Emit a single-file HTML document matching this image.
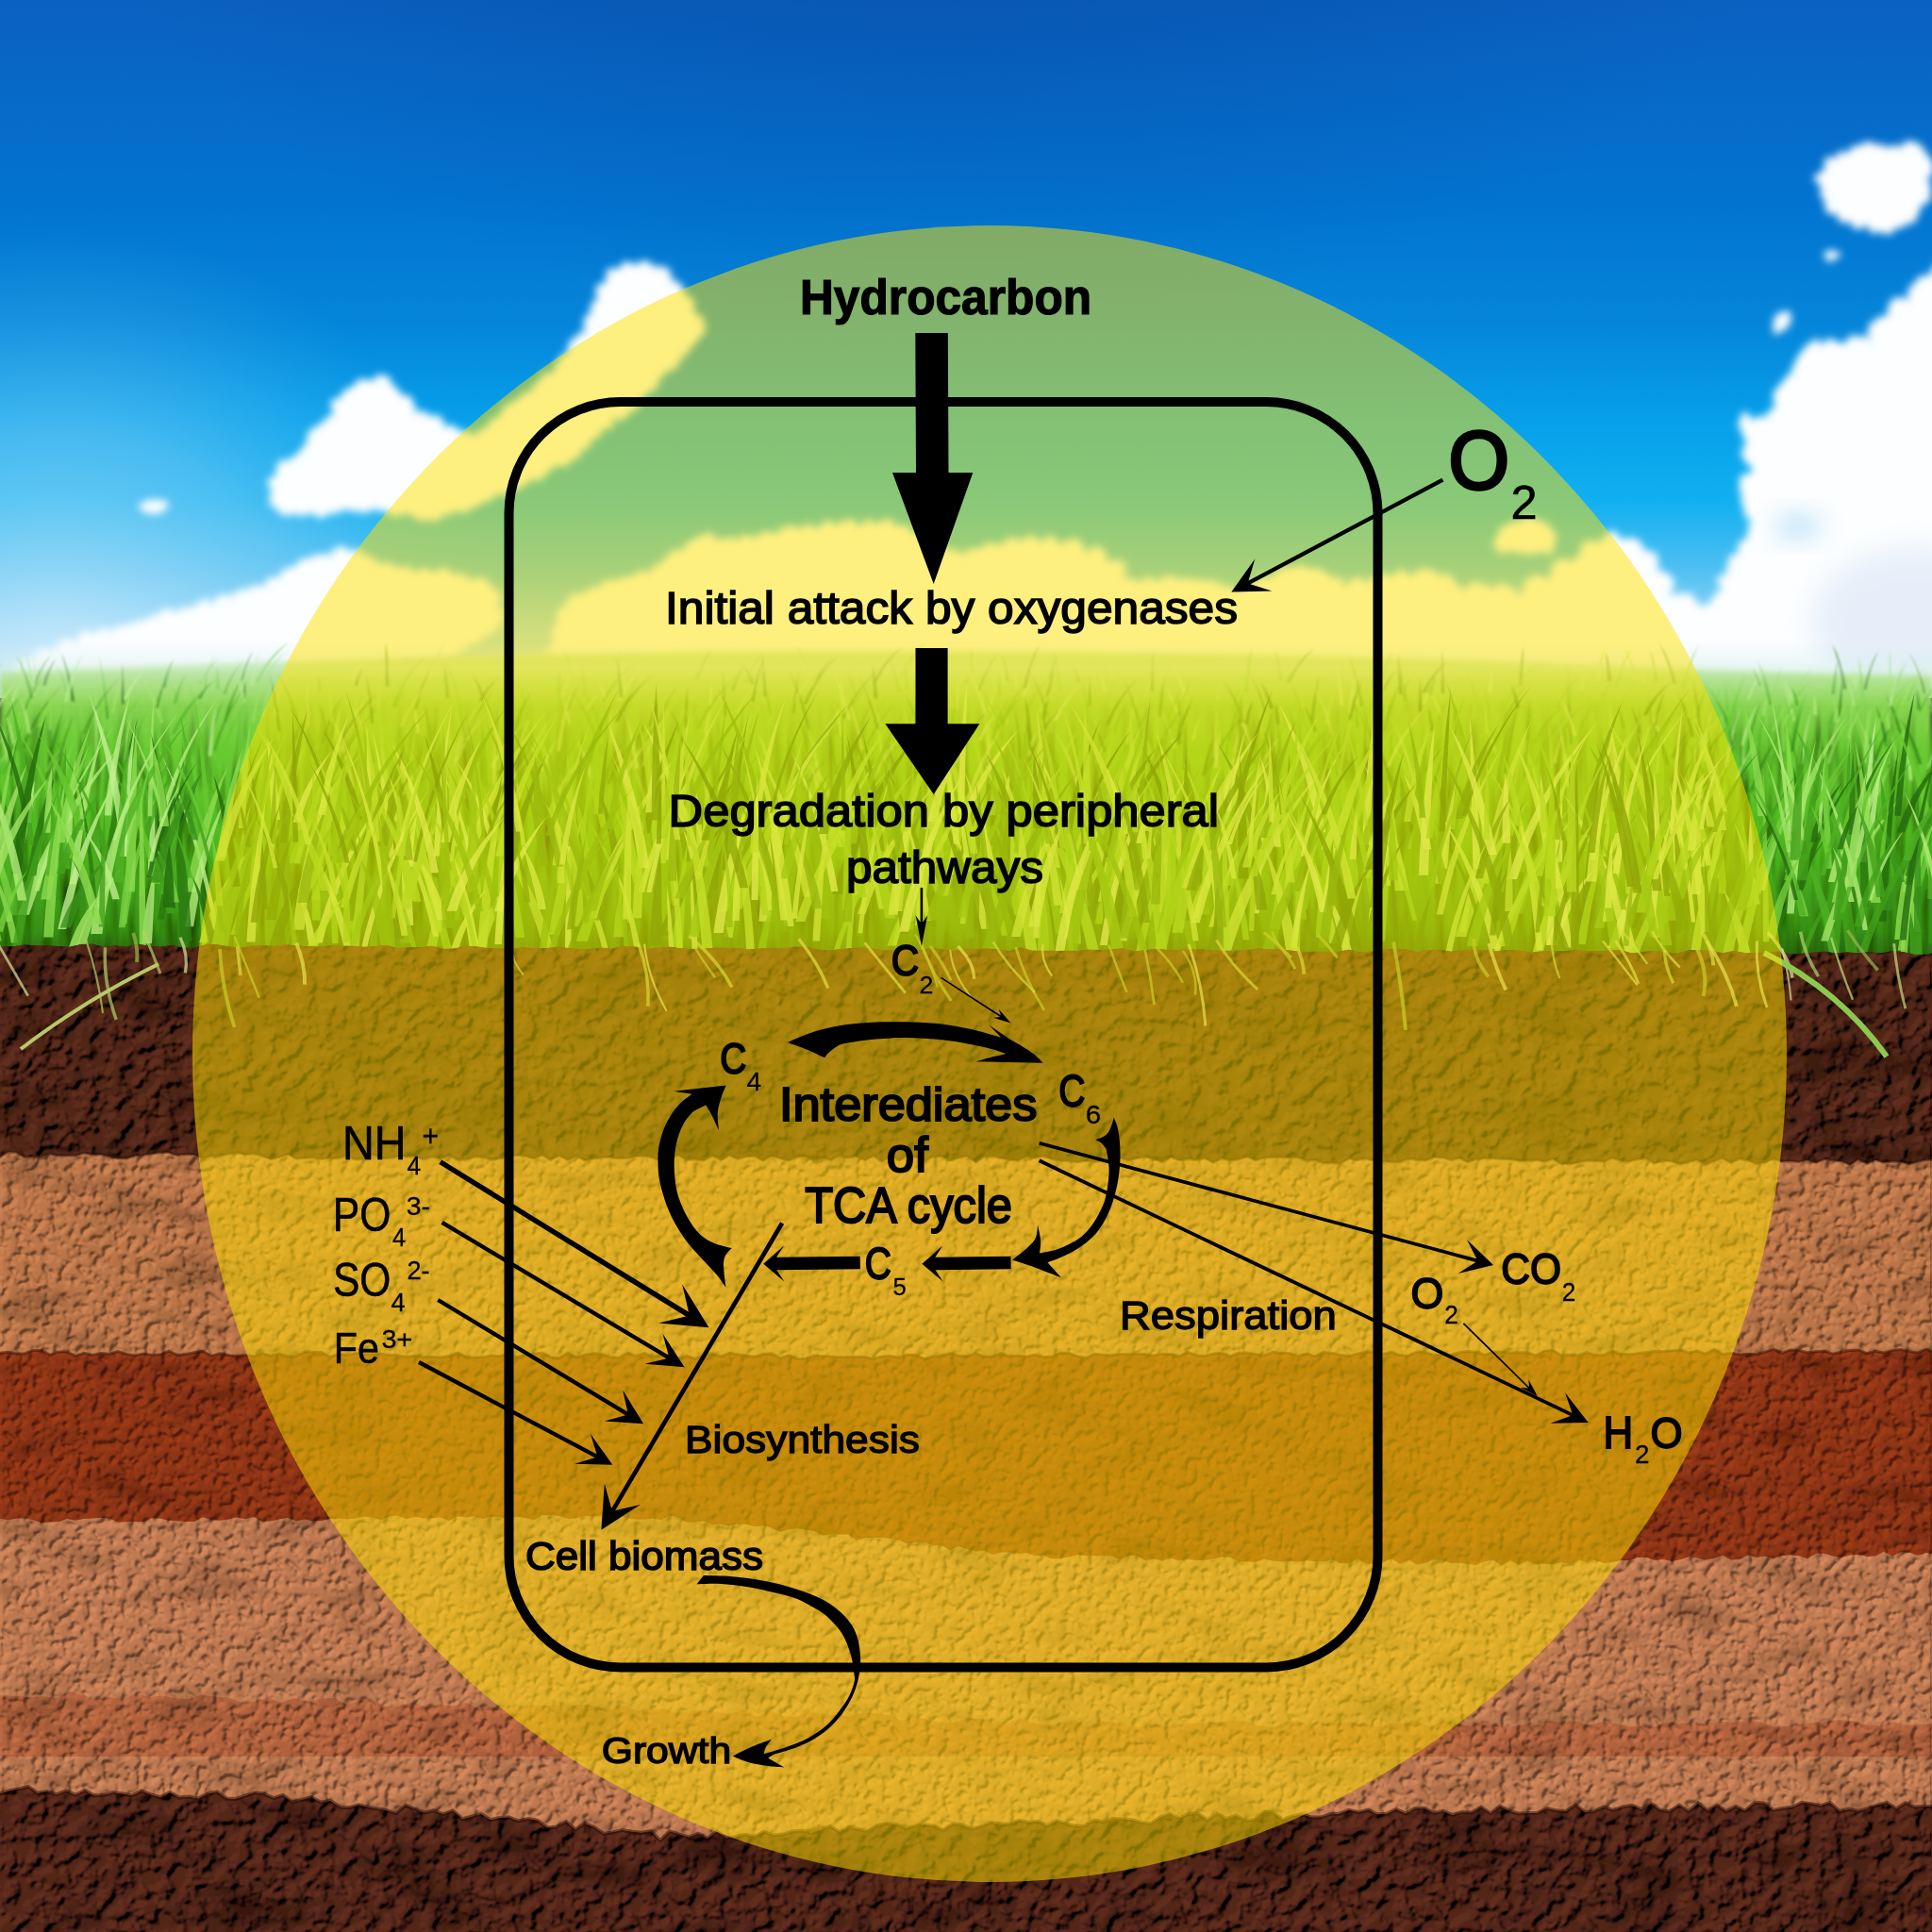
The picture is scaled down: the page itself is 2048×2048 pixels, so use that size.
<!DOCTYPE html>
<html><head><meta charset="utf-8"><style>
html,body{margin:0;padding:0;width:2048px;height:2048px;overflow:hidden;background:#000}
svg{display:block}
</style></head><body>
<svg xmlns="http://www.w3.org/2000/svg" width="2048" height="2048" viewBox="0 0 2048 2048">
<defs>
<linearGradient id="skyg" x1="0" y1="0" x2="0" y2="720" gradientUnits="userSpaceOnUse">
  <stop offset="0" stop-color="#0b60c0"/>
  <stop offset="0.3" stop-color="#0274d0"/>
  <stop offset="0.48" stop-color="#0586da"/>
  <stop offset="0.62" stop-color="#06a0ea"/>
  <stop offset="0.74" stop-color="#12b0f0"/>
  <stop offset="0.84" stop-color="#50c0f2"/>
  <stop offset="0.94" stop-color="#a8dcf8"/>
  <stop offset="1" stop-color="#d4eefa"/>
</linearGradient>
<radialGradient id="skyv" cx="1000" cy="-150" r="900" gradientTransform="translate(1000 -150) scale(1.0 0.55) translate(-1000 150)" gradientUnits="userSpaceOnUse">
  <stop offset="0" stop-color="#003c90" stop-opacity="0.35"/>
  <stop offset="1" stop-color="#003c90" stop-opacity="0"/>
</radialGradient>
<radialGradient id="skyl" cx="60" cy="720" r="480" gradientUnits="userSpaceOnUse">
  <stop offset="0" stop-color="#d8f0fc" stop-opacity="0.7"/>
  <stop offset="0.55" stop-color="#90d4f6" stop-opacity="0.45"/>
  <stop offset="1" stop-color="#40b8f0" stop-opacity="0"/>
</radialGradient>
<linearGradient id="grassg" x1="0" y1="692" x2="0" y2="1020" gradientUnits="userSpaceOnUse">
  <stop offset="0" stop-color="#c0eaa0"/>
  <stop offset="0.08" stop-color="#a0dc68"/>
  <stop offset="0.3" stop-color="#6ccc34"/>
  <stop offset="0.65" stop-color="#4cb41e"/>
  <stop offset="0.9" stop-color="#379018"/>
  <stop offset="1" stop-color="#286010"/>
</linearGradient>
<filter id="cloudf" x="-30%" y="-30%" width="160%" height="160%">
  <feTurbulence type="fractalNoise" baseFrequency="0.06" numOctaves="3" seed="3" result="n"/>
  <feDisplacementMap in="SourceGraphic" in2="n" scale="10" xChannelSelector="R" yChannelSelector="G" result="d"/>
  <feGaussianBlur in="d" stdDeviation="4"/>
</filter>
<radialGradient id="puff" cx="0.45" cy="0.4" r="0.6">
  <stop offset="0" stop-color="#ffffff"/>
  <stop offset="0.7" stop-color="#f8fbfe"/>
  <stop offset="1" stop-color="#dceaf6"/>
</radialGradient>
<filter id="grain" x="0" y="990" width="2048" height="1060" filterUnits="userSpaceOnUse">
  <feTurbulence type="fractalNoise" baseFrequency="0.11" numOctaves="2" seed="4" result="t"/>
  <feComponentTransfer in="t" result="c">
    <feFuncA type="discrete" tableValues="0 0 0 0.7 1 1 1 1"/>
  </feComponentTransfer>
  <feGaussianBlur in="c" stdDeviation="1.2" result="cb"/>
  <feDiffuseLighting in="cb" surfaceScale="2.5" lighting-color="#ffffff" diffuseConstant="1" result="l">
    <feDistantLight azimuth="225" elevation="45"/>
  </feDiffuseLighting>
  <feComposite in="SourceGraphic" in2="l" operator="arithmetic" k1="1.0" k2="0.32" k3="0" k4="0" result="m"/>
  <feTurbulence type="fractalNoise" baseFrequency="0.012 0.03" numOctaves="2" seed="21" result="big"/>
  <feColorMatrix in="big" type="matrix" values="1.2 0 0 0 0.4  1.2 0 0 0 0.4  1.2 0 0 0 0.4  0 0 0 0 1" result="bg"/>
  <feComposite in="m" in2="bg" operator="arithmetic" k1="1" k2="0" k3="0" k4="0" result="m2"/>
  <feComposite in="m2" in2="SourceGraphic" operator="in"/>
</filter>
<filter id="grain2" x="0" y="990" width="2048" height="1060" filterUnits="userSpaceOnUse">
  <feTurbulence type="fractalNoise" baseFrequency="0.06" numOctaves="3" seed="8" result="t"/>
  <feColorMatrix in="t" type="matrix" values="0 0 0 0 0  0 0 0 0 0  0 0 0 0 0  4 0 0 0 -1.6" result="c"/>
  <feGaussianBlur in="c" stdDeviation="0.8" result="cb"/>
  <feDiffuseLighting in="cb" surfaceScale="3" lighting-color="#ffffff" diffuseConstant="1.1" result="l">
    <feDistantLight azimuth="225" elevation="40"/>
  </feDiffuseLighting>
  <feComposite in="SourceGraphic" in2="l" operator="arithmetic" k1="1.5" k2="0" k3="0" k4="0" result="m"/>
  <feTurbulence type="fractalNoise" baseFrequency="0.01 0.02" numOctaves="2" seed="23" result="big"/>
  <feColorMatrix in="big" type="matrix" values="1.6 0 0 0 0.2  1.6 0 0 0 0.2  1.6 0 0 0 0.2  0 0 0 0 1" result="bg"/>
  <feComposite in="m" in2="bg" operator="arithmetic" k1="1" k2="0" k3="0" k4="0" result="m2"/>
  <feComposite in="m2" in2="SourceGraphic" operator="in"/>
</filter>
<filter id="gtex" x="0" y="0" width="100%" height="100%" filterUnits="userSpaceOnUse">
  <feTurbulence type="fractalNoise" baseFrequency="0.09 0.012" numOctaves="2" seed="12" result="t"/>
  <feColorMatrix in="t" type="matrix" values="0 0 0 0 0  0 0 0 0 0  0 0 0 0 0  2.2 0 0 0 -0.9" result="a"/>
  <feFlood flood-color="#1e4a08" result="c"/>
  <feComposite in="c" in2="a" operator="in" result="dk"/>
  <feComposite in="dk" in2="SourceGraphic" operator="in" result="dk2"/>
  <feMerge><feMergeNode in="SourceGraphic"/><feMergeNode in="dk2"/></feMerge>
</filter>
<linearGradient id="gmaskg" x1="0" y1="740" x2="0" y2="1020" gradientUnits="userSpaceOnUse">
  <stop offset="0" stop-color="#fff" stop-opacity="0"/>
  <stop offset="0.3" stop-color="#fff" stop-opacity="1"/>
  <stop offset="1" stop-color="#fff" stop-opacity="1"/>
</linearGradient>
<mask id="gmask" maskUnits="userSpaceOnUse" x="0" y="700" width="2048" height="340"><rect x="0" y="700" width="2048" height="340" fill="url(#gmaskg)"/></mask>
<filter id="blur6" x="-50%" y="-50%" width="200%" height="200%"><feGaussianBlur stdDeviation="8"/></filter>
<filter id="blur20" x="-100%" y="-100%" width="300%" height="300%"><feGaussianBlur stdDeviation="14"/></filter>
<linearGradient id="hazeg" x1="0" y1="680" x2="0" y2="750" gradientUnits="userSpaceOnUse">
  <stop offset="0" stop-color="#d8f0f8" stop-opacity="0"/>
  <stop offset="0.4" stop-color="#d8f0e8" stop-opacity="0.55"/>
  <stop offset="1" stop-color="#c8eab0" stop-opacity="0"/>
</linearGradient>
<filter id="blur1"><feGaussianBlur stdDeviation="1.2"/></filter>
<filter id="blur3"><feGaussianBlur stdDeviation="3"/></filter>
</defs>
<rect x="0" y="0" width="2048" height="740" fill="url(#skyg)"/>
<rect x="0" y="0" width="2048" height="740" fill="url(#skyv)"/>
<rect x="0" y="0" width="2048" height="740" fill="url(#skyl)"/>
<g fill="#fcfeff" filter="url(#cloudf)">
<polygon points="2100,260 2048,298 2024.8,315 1999,335 1982,363 1954,366 1925.5,377.6 1908.5,397.5 1888.6,414.5 1888.6,423 1900,431 1868.7,448.6 1854.6,465.6 1854.6,499.6 1849,528 1868.7,550.7 1854.6,576 1854.6,596 1834.7,604.6 1823.4,627 1820.5,650 1800,652 1772,630 1755,601.7 1741,584.7 1715.6,572 1700,574 1670,593 1640,612 1613.5,630 1580,626 1551,627 1520,612 1497.6,612 1470,640 1460,720 2100,720"/><circle cx="2089.7" cy="273.2" r="13.1"/><circle cx="2064.8" cy="293.8" r="18.6"/><circle cx="2040.1" cy="311.6" r="18"/><circle cx="2014.9" cy="328.9" r="14.1"/><circle cx="1995.3" cy="351.9" r="15.9"/><circle cx="1968.6" cy="369.9" r="15.6"/><circle cx="1942" cy="377.3" r="17.1"/><circle cx="1921.8" cy="391.7" r="18.2"/><circle cx="1901.5" cy="409.4" r="12.8"/><circle cx="1892.9" cy="418.8" r="12.3"/><circle cx="1898" cy="421.7" r="18.5"/><circle cx="1887" cy="444.5" r="15.4"/><circle cx="1866.5" cy="461.1" r="18"/><circle cx="1858.8" cy="482.6" r="12.1"/><circle cx="1857.1" cy="514.9" r="15.5"/><circle cx="1863.5" cy="535.3" r="17.7"/><circle cx="1865.9" cy="565.7" r="13.9"/><circle cx="1861.4" cy="586" r="19.4"/><circle cx="1847.3" cy="606.4" r="19"/><circle cx="1832.9" cy="617.7" r="12.3"/><circle cx="1826.2" cy="639" r="12.3"/><circle cx="1810.8" cy="656.7" r="16.3"/><circle cx="1781.8" cy="646.3" r="19.3"/><circle cx="1759" cy="618.6" r="15"/><circle cx="1744.3" cy="596.3" r="13.8"/><circle cx="1725.9" cy="583.2" r="15.4"/><circle cx="1708.3" cy="577.3" r="12.3"/><circle cx="1687.6" cy="587.6" r="13.8"/><circle cx="1657.9" cy="607.1" r="15.5"/><circle cx="1629.9" cy="625.6" r="15.9"/><circle cx="1596.2" cy="632.8" r="13.9"/><circle cx="1565.7" cy="631.4" r="13.9"/><circle cx="1533.4" cy="623.8" r="13.8"/><circle cx="1508.8" cy="617.5" r="15.6"/><circle cx="1487.4" cy="629.5" r="14.3"/><circle cx="1472.6" cy="653.9" r="12.3"/><circle cx="1471.4" cy="680.8" r="18.5"/><circle cx="1467.4" cy="707.4" r="16.4"/><circle cx="1471" cy="714" r="17"/><circle cx="1493.1" cy="715.3" r="13.5"/><circle cx="1515.2" cy="713.1" r="19.7"/><circle cx="1537.2" cy="713.4" r="18.7"/><circle cx="1559.3" cy="715.4" r="13"/><circle cx="1581.4" cy="714.9" r="14.7"/><circle cx="1603.4" cy="713.8" r="17.7"/><circle cx="1625.5" cy="713.8" r="17.6"/><circle cx="1647.6" cy="713.2" r="19.3"/><circle cx="1669.7" cy="714.6" r="15.4"/><circle cx="1691.7" cy="713.5" r="18.5"/><circle cx="1713.8" cy="714" r="17.3"/><circle cx="1735.9" cy="714.9" r="14.4"/><circle cx="1757.9" cy="714.2" r="16.6"/><circle cx="1780" cy="713.4" r="18.9"/><circle cx="1802.1" cy="713.5" r="18.6"/><circle cx="1824.1" cy="714.4" r="16"/><circle cx="1846.2" cy="714.2" r="16.6"/><circle cx="1868.3" cy="715.7" r="12.4"/><circle cx="1890.3" cy="715.1" r="14"/><circle cx="1912.4" cy="713.6" r="18.2"/><circle cx="1934.5" cy="714.6" r="15.3"/><circle cx="1956.6" cy="715.3" r="13.4"/><circle cx="1978.6" cy="714.3" r="16.3"/><circle cx="2000.7" cy="713.9" r="17.5"/><circle cx="2022.8" cy="713.9" r="17.3"/><circle cx="2044.8" cy="714.8" r="15"/><circle cx="2066.9" cy="714.6" r="15.5"/><circle cx="2089" cy="714.4" r="16"/><circle cx="2093.7" cy="708.5" r="18.1"/><circle cx="2094.4" cy="685.5" r="16.1"/><circle cx="2094.7" cy="662.5" r="15.1"/><circle cx="2094.4" cy="639.5" r="15.9"/><circle cx="2095.7" cy="616.5" r="12.3"/><circle cx="2095.6" cy="593.5" r="12.4"/><circle cx="2093.9" cy="570.5" r="17.5"/><circle cx="2093.1" cy="547.5" r="19.7"/><circle cx="2094.2" cy="524.5" r="16.7"/><circle cx="2094.7" cy="501.5" r="15.1"/><circle cx="2095.3" cy="478.5" r="13.4"/><circle cx="2094.4" cy="455.5" r="16"/><circle cx="2093.1" cy="432.5" r="19.7"/><circle cx="2093.7" cy="409.5" r="18"/><circle cx="2094.3" cy="386.5" r="16.3"/><circle cx="2093.4" cy="363.5" r="18.7"/><circle cx="2095.1" cy="340.5" r="13.9"/><circle cx="2094.4" cy="317.5" r="16.1"/><circle cx="2093.2" cy="294.5" r="19.4"/><circle cx="2094.2" cy="271.5" r="16.5"/>
<polygon points="1929,195 1945,168 1975,155 2000,162 2030,152 2045,175 2042,205 2030,228 1995,244 1960,236 1935,218"/><circle cx="1936.2" cy="190.1" r="10.6"/><circle cx="1944.2" cy="176.6" r="10.6"/><circle cx="1953.5" cy="166.9" r="6.8"/><circle cx="1968.5" cy="160.5" r="7"/><circle cx="1980.3" cy="160.2" r="10.1"/><circle cx="1992.8" cy="163.5" r="9.7"/><circle cx="2008.5" cy="162.6" r="9.4"/><circle cx="2023.4" cy="157.1" r="7.9"/><circle cx="2031.1" cy="159.5" r="9.1"/><circle cx="2038.6" cy="171" r="9.1"/><circle cx="2041.1" cy="182.2" r="9"/><circle cx="2040.2" cy="197.2" r="7.3"/><circle cx="2036.4" cy="209.4" r="8.4"/><circle cx="2030.4" cy="220.9" r="8.3"/><circle cx="2022.8" cy="227.6" r="9.6"/><circle cx="2010.9" cy="232.6" r="10.8"/><circle cx="1999.3" cy="238" r="10.6"/><circle cx="1986.9" cy="239" r="8.9"/><circle cx="1969.4" cy="235.1" r="8.5"/><circle cx="1955.3" cy="229.3" r="7.7"/><circle cx="1942.6" cy="220.6" r="6.8"/><circle cx="1934.3" cy="205.9" r="6.7"/>
<polygon points="287,522 295,497 320,484 335,460 355,440 374,410 400,402 425,418 440,440 470,452 505,470 522,500 505,530 440,540 380,536 330,540 295,540"/><circle cx="294" cy="510.4" r="8.9"/><circle cx="302.9" cy="497" r="10.4"/><circle cx="315.3" cy="490.2" r="9.5"/><circle cx="326.9" cy="480" r="10.7"/><circle cx="334.4" cy="468" r="10.8"/><circle cx="342" cy="457" r="8"/><circle cx="351.9" cy="446.9" r="7.8"/><circle cx="363.2" cy="434.7" r="11.8"/><circle cx="371.9" cy="419.2" r="9"/><circle cx="387.9" cy="409" r="8.8"/><circle cx="403.9" cy="409.7" r="12.6"/><circle cx="416.9" cy="416.9" r="10"/><circle cx="429.1" cy="431.3" r="11.8"/><circle cx="446.2" cy="446.3" r="10"/><circle cx="461.1" cy="452.5" r="10.8"/><circle cx="477.4" cy="459.1" r="8.4"/><circle cx="494.5" cy="468.9" r="10.8"/><circle cx="505.6" cy="479.6" r="12"/><circle cx="514.6" cy="494.3" r="10.3"/><circle cx="514.3" cy="505.5" r="11.3"/><circle cx="505.9" cy="520.6" r="11"/><circle cx="496.4" cy="528.5" r="8"/><circle cx="480" cy="529.8" r="11.4"/><circle cx="463.8" cy="532.6" r="10.6"/><circle cx="447.6" cy="535.6" r="9.2"/><circle cx="432.7" cy="536.8" r="7.9"/><circle cx="417.8" cy="534.3" r="11.9"/><circle cx="402.7" cy="534" r="10"/><circle cx="387.8" cy="532.6" r="11.2"/><circle cx="371.3" cy="532.5" r="12"/><circle cx="354.7" cy="534.1" r="11.2"/><circle cx="338" cy="535.1" r="12.2"/><circle cx="321.2" cy="536.6" r="9.6"/><circle cx="303.8" cy="535.9" r="11.6"/><circle cx="294.2" cy="529.6" r="9.9"/>
<polygon points="20,712 34,700 60,688 100,672 140,668 186,652 228,640 280,622 330,600 371,585 400,600 440,612 480,612 519,622 530,660 480,690 400,700 300,705 200,712 20,722"/><circle cx="29.3" cy="708.7" r="10.1"/><circle cx="48.4" cy="697" r="9.4"/><circle cx="71.4" cy="687.6" r="11"/><circle cx="91.3" cy="679.1" r="9.7"/><circle cx="110.3" cy="674.2" r="9.2"/><circle cx="130.4" cy="672.8" r="11"/><circle cx="149.3" cy="669.9" r="13.9"/><circle cx="164.5" cy="664.4" r="13.3"/><circle cx="179.8" cy="659" r="13.1"/><circle cx="197.5" cy="652.4" r="10"/><circle cx="218.6" cy="647" r="11.8"/><circle cx="237.9" cy="640.4" r="10.3"/><circle cx="255.1" cy="634.2" r="9.8"/><circle cx="272.4" cy="628.1" r="9.4"/><circle cx="289.7" cy="621.5" r="10"/><circle cx="307" cy="615.5" r="14"/><circle cx="323.6" cy="608" r="13.4"/><circle cx="341.9" cy="600.6" r="13.3"/><circle cx="362.3" cy="593.1" r="13.3"/><circle cx="376.7" cy="591.8" r="9.9"/><circle cx="391.1" cy="599.5" r="10.5"/><circle cx="408.8" cy="607.1" r="12.3"/><circle cx="428.7" cy="613.3" r="12.9"/><circle cx="450" cy="616.8" r="13.6"/><circle cx="470" cy="616.8" r="13.7"/><circle cx="488.9" cy="617.6" r="9.3"/><circle cx="508.2" cy="623.6" r="12.2"/><circle cx="517.5" cy="632.7" r="12.6"/><circle cx="523.3" cy="651.6" r="11.6"/><circle cx="519.9" cy="662.1" r="9.8"/><circle cx="502.9" cy="671.6" r="11.5"/><circle cx="486.7" cy="682.2" r="9.3"/><circle cx="471.4" cy="686.1" r="14"/><circle cx="455.4" cy="688.3" r="13.6"/><circle cx="439.5" cy="690.9" r="11.9"/><circle cx="423.5" cy="693.4" r="10.5"/><circle cx="407.4" cy="694.2" r="13.9"/><circle cx="391.5" cy="696.2" r="12"/><circle cx="374.8" cy="696.4" r="13.7"/><circle cx="358.1" cy="697.3" r="13.5"/><circle cx="341.5" cy="698.8" r="11.6"/><circle cx="324.8" cy="699.9" r="11.1"/><circle cx="308.1" cy="700.3" r="12.2"/><circle cx="291.4" cy="701.7" r="11.2"/><circle cx="274.8" cy="703.4" r="9.7"/><circle cx="258.1" cy="704.2" r="10.5"/><circle cx="241.3" cy="704.4" r="13.4"/><circle cx="224.8" cy="707.1" r="9"/><circle cx="208.1" cy="708.3" r="9.1"/><circle cx="191.6" cy="708.2" r="12.3"/><circle cx="175.3" cy="709.7" r="10.4"/><circle cx="158.9" cy="710.2" r="11.8"/><circle cx="142.5" cy="711.2" r="11.4"/><circle cx="126.2" cy="712.3" r="10.7"/><circle cx="109.7" cy="712" r="14.4"/><circle cx="93.4" cy="714.5" r="9.9"/><circle cx="77.1" cy="714.9" r="11.1"/><circle cx="60.7" cy="716.3" r="9.9"/><circle cx="44.3" cy="716.3" r="12.3"/><circle cx="28" cy="717.9" r="10.3"/><circle cx="23.8" cy="717" r="10.8"/>
<polygon points="640,300 660,284 690,283 712,300 745,345 705,390 664,434 602,484 540,517 482,542 440,545 470,500 520,455 577,405 623,352"/><circle cx="652.4" cy="294.9" r="10.8"/><circle cx="667.6" cy="287.7" r="11.3"/><circle cx="682.6" cy="287.3" r="11.6"/><circle cx="698.4" cy="294.9" r="12.3"/><circle cx="714.3" cy="309.8" r="11.3"/><circle cx="725.1" cy="325" r="12.2"/><circle cx="737.3" cy="339.1" r="7.8"/><circle cx="737.4" cy="348.3" r="10"/><circle cx="726.8" cy="359" r="12.3"/><circle cx="717.2" cy="370.6" r="10.9"/><circle cx="706.8" cy="381.6" r="12.1"/><circle cx="697.8" cy="393.5" r="8.3"/><circle cx="687.1" cy="404.1" r="10"/><circle cx="677.1" cy="415.4" r="8.9"/><circle cx="666.5" cy="426" r="10.4"/><circle cx="655.5" cy="436.1" r="10.5"/><circle cx="643.7" cy="446.9" r="7.8"/><circle cx="631.1" cy="456.6" r="8.8"/><circle cx="618.6" cy="466.5" r="9.1"/><circle cx="605.5" cy="475.7" r="12.2"/><circle cx="593.9" cy="483.8" r="11.5"/><circle cx="582" cy="491.3" r="8.5"/><circle cx="569.1" cy="496.9" r="11.6"/><circle cx="557.2" cy="504.5" r="8.4"/><circle cx="544.4" cy="510.4" r="10.7"/><circle cx="531.6" cy="517.5" r="8.3"/><circle cx="517.2" cy="523.9" r="7.7"/><circle cx="502.1" cy="528.8" r="12"/><circle cx="488" cy="536.1" r="8.7"/><circle cx="474.8" cy="539.4" r="8.8"/><circle cx="460.7" cy="539.1" r="12.5"/><circle cx="446.7" cy="540.3" r="12"/><circle cx="447.7" cy="539.3" r="9.1"/><circle cx="458.6" cy="524.9" r="12.4"/><circle cx="468" cy="509.5" r="10.3"/><circle cx="478.8" cy="497.2" r="11"/><circle cx="490.8" cy="485.4" r="8.7"/><circle cx="504.1" cy="475.1" r="12.3"/><circle cx="516.3" cy="463.5" r="11.1"/><circle cx="528.6" cy="453.3" r="12.4"/><circle cx="539.9" cy="443.2" r="12.1"/><circle cx="550.6" cy="432.4" r="9.2"/><circle cx="562.1" cy="422.5" r="9.5"/><circle cx="573.3" cy="412.2" r="8.5"/><circle cx="583.8" cy="401.6" r="8.4"/><circle cx="592.9" cy="390.9" r="8"/><circle cx="602.4" cy="380.6" r="9.2"/><circle cx="612" cy="370.3" r="10.7"/><circle cx="620.4" cy="359.1" r="7.7"/><circle cx="629.5" cy="344.5" r="11"/><circle cx="634.6" cy="327" r="9.4"/><circle cx="640.2" cy="309.7" r="9.2"/>
<polygon points="590,700 599,643 620,632 689,611 742,574 779,579 848,564 928,558 965,569 1024,595 1060,580 1100,572 1150,585 1179,591 1187,622 1248,617 1312,633 1370,607 1426,622 1497,612 1520,640 1480,702 590,702"/><circle cx="596.7" cy="691.3" r="14.9"/><circle cx="599.7" cy="672.3" r="15.1"/><circle cx="602" cy="653.2" r="13"/><circle cx="611.4" cy="641.1" r="11.5"/><circle cx="629.6" cy="632.7" r="9.9"/><circle cx="647.3" cy="628.8" r="14.1"/><circle cx="664.4" cy="623.2" r="12.9"/><circle cx="681.9" cy="618.5" r="14.7"/><circle cx="700.3" cy="608.3" r="12.3"/><circle cx="718.5" cy="596.7" r="14.8"/><circle cx="735.5" cy="583.5" r="11.6"/><circle cx="750.5" cy="580.4" r="15"/><circle cx="769.1" cy="582.8" r="14.5"/><circle cx="791.4" cy="580.8" r="12.5"/><circle cx="814.5" cy="576" r="13.3"/><circle cx="837.6" cy="571.4" r="14.2"/><circle cx="858.3" cy="567.1" r="11.1"/><circle cx="878.4" cy="566.4" r="13.4"/><circle cx="898.4" cy="565.5" r="15"/><circle cx="918.3" cy="562.8" r="11.6"/><circle cx="935.8" cy="565.8" r="15"/><circle cx="954.3" cy="571" r="14.2"/><circle cx="972.7" cy="578.2" r="15.2"/><circle cx="992.8" cy="585.8" r="12"/><circle cx="1012.7" cy="594" r="10.5"/><circle cx="1035" cy="596.1" r="14.9"/><circle cx="1053" cy="588.6" r="15"/><circle cx="1070.9" cy="582.4" r="12.7"/><circle cx="1090.7" cy="577.6" r="10.5"/><circle cx="1111.5" cy="579" r="11.1"/><circle cx="1136.3" cy="586.5" r="13.9"/><circle cx="1163.7" cy="592" r="11.7"/><circle cx="1177.6" cy="607.9" r="15.9"/><circle cx="1197.6" cy="625.9" r="13.6"/><circle cx="1217.8" cy="623.4" r="11.2"/><circle cx="1238.2" cy="622.7" r="14"/><circle cx="1257.6" cy="623.8" r="12.2"/><circle cx="1278.7" cy="630.4" r="15.8"/><circle cx="1300" cy="635.6" r="15.6"/><circle cx="1323.5" cy="632.9" r="13.1"/><circle cx="1343" cy="624.5" r="14"/><circle cx="1362.4" cy="615.9" r="14.3"/><circle cx="1378" cy="614.6" r="15"/><circle cx="1396.5" cy="619.9" r="16.1"/><circle cx="1415.8" cy="622.9" r="10.1"/><circle cx="1438.4" cy="624.6" r="12.2"/><circle cx="1462.2" cy="621.7" r="13.7"/><circle cx="1485.7" cy="617.8" r="11.8"/><circle cx="1499.1" cy="622" r="13.6"/><circle cx="1511.4" cy="635.3" r="10.5"/><circle cx="1510.5" cy="644.8" r="15.4"/><circle cx="1501.1" cy="660.7" r="13.2"/><circle cx="1491.9" cy="676.7" r="10.6"/><circle cx="1480.9" cy="691.6" r="14.1"/><circle cx="1470.9" cy="697.8" r="11.9"/><circle cx="1452.8" cy="698.1" r="11.1"/><circle cx="1434.6" cy="697.5" r="12.9"/><circle cx="1416.4" cy="698.2" r="10.8"/><circle cx="1398.3" cy="698.1" r="11.2"/><circle cx="1380.1" cy="696.6" r="15.4"/><circle cx="1361.9" cy="697" r="14.3"/><circle cx="1343.8" cy="698.5" r="10"/><circle cx="1325.6" cy="696.8" r="14.8"/><circle cx="1307.4" cy="698.5" r="10"/><circle cx="1289.3" cy="697.8" r="12"/><circle cx="1271.1" cy="696.5" r="15.6"/><circle cx="1253" cy="697.2" r="13.8"/><circle cx="1234.8" cy="697.9" r="11.8"/><circle cx="1216.6" cy="697.7" r="12.3"/><circle cx="1198.5" cy="697.7" r="12.4"/><circle cx="1180.3" cy="698.3" r="10.7"/><circle cx="1162.1" cy="696.3" r="16.2"/><circle cx="1144" cy="698.4" r="10.2"/><circle cx="1125.8" cy="697.6" r="12.6"/><circle cx="1107.7" cy="696.9" r="14.6"/><circle cx="1089.5" cy="697.7" r="12.4"/><circle cx="1071.3" cy="696.4" r="16.1"/><circle cx="1053.2" cy="698" r="11.4"/><circle cx="1035" cy="696.4" r="16.1"/><circle cx="1016.8" cy="696.6" r="15.5"/><circle cx="998.7" cy="697.1" r="14.1"/><circle cx="980.5" cy="696.6" r="15.5"/><circle cx="962.3" cy="697.5" r="12.7"/><circle cx="944.2" cy="696.7" r="15.1"/><circle cx="926" cy="696.8" r="14.9"/><circle cx="907.9" cy="697.4" r="13.2"/><circle cx="889.7" cy="697.5" r="12.9"/><circle cx="871.5" cy="697" r="14.3"/><circle cx="853.4" cy="697.6" r="12.5"/><circle cx="835.2" cy="698.3" r="10.4"/><circle cx="817" cy="696.9" r="14.6"/><circle cx="798.9" cy="697.9" r="11.6"/><circle cx="780.7" cy="697.5" r="13"/><circle cx="762.6" cy="696.8" r="14.8"/><circle cx="744.4" cy="698.2" r="11"/><circle cx="726.2" cy="698.5" r="10"/><circle cx="708.1" cy="698.3" r="10.7"/><circle cx="689.9" cy="697.2" r="13.6"/><circle cx="671.7" cy="697.7" r="12.2"/><circle cx="653.6" cy="698" r="11.5"/><circle cx="635.4" cy="697.5" r="12.7"/><circle cx="617.2" cy="696.5" r="15.7"/><circle cx="599.1" cy="698" r="11.5"/><circle cx="594.4" cy="701" r="12.5"/>
<polygon points="1585,568 1600,556 1625,552 1647,562 1645,583 1590,583"/><circle cx="1594" cy="563.8" r="6.6"/><circle cx="1606.6" cy="557.1" r="6"/><circle cx="1619.2" cy="555.7" r="7.8"/><circle cx="1629.7" cy="556.3" r="5.8"/><circle cx="1640.4" cy="561.9" r="7.4"/><circle cx="1644.1" cy="567" r="6.8"/><circle cx="1643.5" cy="577.6" r="5.7"/><circle cx="1639.5" cy="580.5" r="7.3"/><circle cx="1628.5" cy="581" r="5.6"/><circle cx="1617.5" cy="580.5" r="7"/><circle cx="1606.5" cy="581" r="5.7"/><circle cx="1595.5" cy="581" r="5.8"/><circle cx="1589.8" cy="574.7" r="7"/>
<ellipse cx="164" cy="537" rx="16" ry="7"/><ellipse cx="1941" cy="271" rx="9" ry="6"/><ellipse cx="1888" cy="342" rx="8" ry="14" transform="rotate(25 1888 342)"/><ellipse cx="1912" cy="385" rx="9" ry="30" transform="rotate(30 1912 385)"/><ellipse cx="1850" cy="450" rx="8" ry="12"/>
</g>
<ellipse cx="2030" cy="660" rx="110" ry="80" fill="#c0d4f0" opacity="0.35" filter="url(#blur20)"/>
<ellipse cx="1906" cy="558" rx="24" ry="10" fill="#70c0f0" opacity="0.6" filter="url(#blur20)"/>
<path d="M0,712 C300,703 500,694 800,691 C1100,689 1400,695 1600,702 C1800,710 1950,714 2048,716 L2048,1025 L0,1025 Z" fill="url(#grassg)" filter="url(#blur3)"/>
<g filter="url(#gtex)" mask="url(#gmask)"><rect x="0" y="740" width="2048" height="285" fill="url(#grassg)"/></g>
<g filter="url(#blur1)">
<path d="M1278.9,816.4 Q1296.3,775.2 1330.5,747.6 Q1299.8,775.2 1282.4,816.4 Z" fill="#38901a" opacity="0.7"/>
<path d="M1733.5,820.9 Q1727.3,796.5 1717.1,780.3 Q1729.7,796.5 1735.8,820.9 Z" fill="#8edc50" opacity="0.7"/>
<path d="M773.6,733.3 Q777.4,718.7 785.9,709 Q780.2,718.7 776.4,733.3 Z" fill="#78d040" opacity="0.7"/>
<path d="M312.1,823.6 Q315.8,802.6 323.9,788.6 Q318.1,802.6 314.4,823.6 Z" fill="#a4e468" opacity="0.7"/>
<path d="M416.1,748 Q427.9,716 451.2,694.6 Q430.5,716 418.6,748 Z" fill="#50b024" opacity="0.7"/>
<path d="M1808.1,801.3 Q1817.1,781.2 1834.9,767.7 Q1819.5,781.2 1810.5,801.3 Z" fill="#226a0c" opacity="0.7"/>
<path d="M602.8,767 Q599.9,750.7 595.4,739.8 Q602,750.7 604.9,767 Z" fill="#c0f090" opacity="0.7"/>
<path d="M1202.5,797.5 Q1194,762.4 1179.7,739.1 Q1196.8,762.4 1205.2,797.5 Z" fill="#68c830" opacity="0.7"/>
<path d="M637.4,782.6 Q629.4,750.3 616.5,728.8 Q633.3,750.3 641.4,782.6 Z" fill="#68c830" opacity="0.7"/>
<path d="M725.4,772.6 Q726.1,746 728.7,728.4 Q728.8,746 728.1,772.6 Z" fill="#226a0c" opacity="0.7"/>
<path d="M75.8,743.5 Q71.5,713.1 65.2,692.8 Q75,713.1 79.3,743.5 Z" fill="#226a0c" opacity="0.7"/>
<path d="M698,766.1 Q705.3,741.2 720.2,724.6 Q707.6,741.2 700.2,766.1 Z" fill="#44a01c" opacity="0.7"/>
<path d="M1773.7,724.8 Q1767.9,698.6 1758.4,681.1 Q1770.6,698.6 1776.4,724.8 Z" fill="#2a7810" opacity="0.7"/>
<path d="M688.5,840.1 Q686.5,803.1 684,778.4 Q689.1,803.1 691.2,840.1 Z" fill="#a4e468" opacity="0.7"/>
<path d="M1287.1,813.7 Q1289,788.3 1294.2,771.3 Q1292.4,788.3 1290.5,813.7 Z" fill="#c0f090" opacity="0.7"/>
<path d="M1092.2,772.8 Q1095.1,754.1 1102.5,741.7 Q1098.8,754.1 1095.8,772.8 Z" fill="#78d040" opacity="0.7"/>
<path d="M282.7,847.3 Q295.9,805.7 321.6,778 Q298.5,805.7 285.4,847.3 Z" fill="#68c830" opacity="0.7"/>
<path d="M1156.6,737.3 Q1157.2,709.3 1159.5,690.7 Q1159.5,709.3 1158.9,737.3 Z" fill="#a4e468" opacity="0.7"/>
<path d="M1742,758.3 Q1752.2,736.3 1773.2,721.6 Q1755.9,736.3 1745.7,758.3 Z" fill="#226a0c" opacity="0.7"/>
<path d="M1983.3,809.5 Q1981.2,784.3 1978.7,767.5 Q1984.1,784.3 1986.2,809.5 Z" fill="#38901a" opacity="0.7"/>
<path d="M765.7,848.5 Q775.5,795 795.3,759.3 Q778.5,795 768.7,848.5 Z" fill="#a4e468" opacity="0.7"/>
<path d="M1005.9,787 Q1008.5,758.2 1014.4,739 Q1010.6,758.2 1008.1,787 Z" fill="#44a01c" opacity="0.7"/>
<path d="M1428.6,806.3 Q1428,768.1 1428.6,742.6 Q1431.4,768.1 1432,806.3 Z" fill="#78d040" opacity="0.7"/>
<path d="M531.7,847.5 Q551,803.1 588.1,773.5 Q553.6,803.1 534.4,847.5 Z" fill="#a4e468" opacity="0.7"/>
<path d="M969.1,820.6 Q966.8,793.8 963.9,775.9 Q969.4,793.8 971.6,820.6 Z" fill="#68c830" opacity="0.7"/>
<path d="M1643.6,765.2 Q1651,737.6 1666.6,719.1 Q1654.7,737.6 1647.3,765.2 Z" fill="#8edc50" opacity="0.7"/>
<path d="M1794.9,809.5 Q1814.6,764 1852.8,733.7 Q1817.6,764 1797.9,809.5 Z" fill="#8edc50" opacity="0.7"/>
<path d="M393.7,767.1 Q391.2,733.9 387.5,711.9 Q393.3,733.9 395.9,767.1 Z" fill="#226a0c" opacity="0.7"/>
<path d="M337.4,821.4 Q344.9,786.2 360.2,762.7 Q347.7,786.2 340.2,821.4 Z" fill="#44a01c" opacity="0.7"/>
<path d="M1482.6,723.6 Q1483.1,711.8 1485.7,703.9 Q1486.4,711.8 1485.9,723.6 Z" fill="#68c830" opacity="0.7"/>
<path d="M355.8,813.4 Q376.9,766.7 417.2,735.6 Q379.2,766.7 358.1,813.4 Z" fill="#38901a" opacity="0.7"/>
<path d="M641.2,743.6 Q637.3,729.1 631.7,719.4 Q640.3,729.1 644.1,743.6 Z" fill="#c0f090" opacity="0.7"/>
<path d="M128.9,746.6 Q128.7,720.5 129.7,703.2 Q131.4,720.5 131.6,746.6 Z" fill="#226a0c" opacity="0.7"/>
<path d="M1787.5,809.6 Q1801.7,777.3 1829.6,755.7 Q1804.8,777.3 1790.6,809.6 Z" fill="#b4ec7c" opacity="0.7"/>
<path d="M1116.6,764.1 Q1127.9,738.2 1150.7,720.9 Q1131.5,738.2 1120.2,764.1 Z" fill="#c0f090" opacity="0.7"/>
<path d="M1319.6,768 Q1322.1,752.2 1328.3,741.7 Q1325.2,752.2 1322.7,768 Z" fill="#2a7810" opacity="0.7"/>
<path d="M1249.7,765.6 Q1239.8,731.9 1222.7,709.3 Q1242.1,731.9 1251.9,765.6 Z" fill="#c0f090" opacity="0.7"/>
<path d="M1104.9,762.3 Q1109.3,729.6 1119,707.8 Q1112.2,729.6 1107.7,762.3 Z" fill="#226a0c" opacity="0.7"/>
<path d="M586.7,846.4 Q600.7,814.4 628.6,793.1 Q604.5,814.4 590.6,846.4 Z" fill="#b4ec7c" opacity="0.7"/>
<path d="M1525.3,759.1 Q1520.5,741.6 1513.4,730 Q1524.4,741.6 1529.2,759.1 Z" fill="#b4ec7c" opacity="0.7"/>
<path d="M277.9,723.1 Q287,702.4 305.1,688.6 Q289.5,702.4 280.4,723.1 Z" fill="#8edc50" opacity="0.7"/>
<path d="M1704.4,721.7 Q1702.9,703.5 1702,691.3 Q1706.8,703.5 1708.3,721.7 Z" fill="#2a7810" opacity="0.7"/>
<path d="M1001.9,829.7 Q998.8,788.4 994.5,760.8 Q1001.8,788.4 1004.9,829.7 Z" fill="#50b024" opacity="0.7"/>
<path d="M1324.7,798.5 Q1317.4,762.2 1305.6,738 Q1320.9,762.2 1328.3,798.5 Z" fill="#c0f090" opacity="0.7"/>
<path d="M1457,799.8 Q1447.2,763.6 1430.3,739.5 Q1449.9,763.6 1459.7,799.8 Z" fill="#50b024" opacity="0.7"/>
<path d="M255.5,720.4 Q259.7,702 268.6,689.7 Q261.9,702 257.7,720.4 Z" fill="#2a7810" opacity="0.7"/>
<path d="M8.7,821.2 Q13.1,791 22.9,770.8 Q16.5,791 12.1,821.2 Z" fill="#226a0c" opacity="0.7"/>
<path d="M1771.2,829.4 Q1778.7,796.4 1794.2,774.4 Q1782.1,796.4 1774.7,829.4 Z" fill="#226a0c" opacity="0.7"/>
<path d="M1711.7,728.6 Q1717.5,703.6 1729.9,687 Q1720.4,703.6 1714.5,728.6 Z" fill="#78d040" opacity="0.7"/>
<path d="M1880,738.5 Q1882.5,718.8 1888.5,705.6 Q1885.5,718.8 1883,738.5 Z" fill="#8edc50" opacity="0.7"/>
<path d="M867.3,790.4 Q871.4,775 880.1,764.8 Q873.9,775 869.8,790.4 Z" fill="#a4e468" opacity="0.7"/>
<path d="M1363.6,723.3 Q1373.5,701.4 1393.8,686.9 Q1377.5,701.4 1367.6,723.3 Z" fill="#38901a" opacity="0.7"/>
<path d="M236.5,735.9 Q243.8,713.9 258.6,699.2 Q246.1,713.9 238.7,735.9 Z" fill="#44a01c" opacity="0.7"/>
<path d="M1451.9,776.9 Q1449.2,759.2 1446,747.4 Q1452.8,759.2 1455.5,776.9 Z" fill="#8edc50" opacity="0.7"/>
<path d="M69.9,734.1 Q65.8,716.9 59.3,705.5 Q68,716.9 72,734.1 Z" fill="#68c830" opacity="0.7"/>
<path d="M810.4,801.1 Q807.1,786 802.6,776 Q810.5,786 813.8,801.1 Z" fill="#b4ec7c" opacity="0.7"/>
<path d="M1938.5,768.6 Q1941.8,754.9 1949,745.8 Q1944.1,754.9 1940.8,768.6 Z" fill="#50b024" opacity="0.7"/>
<path d="M585,842.5 Q580.3,804.9 572.7,779.9 Q582.4,804.9 587.1,842.5 Z" fill="#b4ec7c" opacity="0.7"/>
<path d="M1057.8,737.4 Q1057.6,722.7 1059.1,712.9 Q1061.1,722.7 1061.2,737.4 Z" fill="#68c830" opacity="0.7"/>
<path d="M17.2,764.4 Q10.3,738.6 -0.5,721.4 Q14.1,738.6 20.9,764.4 Z" fill="#78d040" opacity="0.7"/>
<path d="M476.4,834 Q474.8,800.2 473.7,777.6 Q478.4,800.2 480,834 Z" fill="#68c830" opacity="0.7"/>
<path d="M781.3,830.3 Q783,781.2 787.8,748.6 Q786.5,781.2 784.9,830.3 Z" fill="#38901a" opacity="0.7"/>
<path d="M2009.4,806.5 Q2001.9,766.4 1989.7,739.6 Q2005.2,766.4 2012.6,806.5 Z" fill="#8edc50" opacity="0.7"/>
<path d="M583.7,841 Q597.1,798.1 623.3,769.6 Q599.9,798.1 586.5,841 Z" fill="#44a01c" opacity="0.7"/>
<path d="M1331.3,824.6 Q1342.2,793.7 1364,773.1 Q1345.2,793.7 1334.3,824.6 Z" fill="#c0f090" opacity="0.7"/>
<path d="M427.5,743.5 Q424.4,731.7 419.8,723.8 Q426.8,731.7 429.9,743.5 Z" fill="#78d040" opacity="0.7"/>
<path d="M1835.3,782.5 Q1825.5,748.8 1808.7,726.3 Q1828.4,748.8 1838.2,782.5 Z" fill="#50b024" opacity="0.7"/>
<path d="M1902.9,762 Q1899.5,739.2 1895,724 Q1902.9,739.2 1906.2,762 Z" fill="#78d040" opacity="0.7"/>
<path d="M1792.5,781.1 Q1786.7,753.1 1777.7,734.5 Q1790.3,753.1 1796.1,781.1 Z" fill="#2a7810" opacity="0.7"/>
<path d="M47.9,836.5 Q56.1,807.1 72.7,787.4 Q58.7,807.1 50.5,836.5 Z" fill="#a4e468" opacity="0.7"/>
<path d="M1385.3,781.3 Q1377.5,742.9 1364.7,717.2 Q1380.8,742.9 1388.6,781.3 Z" fill="#68c830" opacity="0.7"/>
<path d="M479.4,849.2 Q484.4,829.5 495.1,816.5 Q487.5,829.5 482.6,849.2 Z" fill="#50b024" opacity="0.7"/>
<path d="M816,846.6 Q814.2,815.1 812.5,794.2 Q817.2,815.1 818.9,846.6 Z" fill="#68c830" opacity="0.7"/>
<path d="M2053.5,780.8 Q2048.1,747 2039.4,724.4 Q2050.5,747 2055.9,780.8 Z" fill="#c0f090" opacity="0.7"/>
<path d="M877.4,846.8 Q872.9,828.4 866.3,816.1 Q876.4,828.4 881,846.8 Z" fill="#a4e468" opacity="0.7"/>
<path d="M47.5,828.6 Q53.7,783.6 67.1,753.5 Q57.6,783.6 51.4,828.6 Z" fill="#2a7810" opacity="0.7"/>
<path d="M1855.4,783.9 Q1845.7,745.1 1828.9,719.3 Q1848.2,745.1 1857.9,783.9 Z" fill="#78d040" opacity="0.7"/>
<path d="M1610.2,726.2 Q1611.4,701.8 1615.1,685.5 Q1614.6,701.8 1613.5,726.2 Z" fill="#2a7810" opacity="0.7"/>
<path d="M353.5,786.1 Q356.2,761.5 362.4,745 Q358.4,761.5 355.6,786.1 Z" fill="#a4e468" opacity="0.7"/>
<path d="M159.5,848.1 Q153.9,823.8 145,807.7 Q157.3,823.8 163,848.1 Z" fill="#226a0c" opacity="0.7"/>
<path d="M1105.1,783.3 Q1105,754.4 1106.3,735.2 Q1108.2,754.4 1108.4,783.3 Z" fill="#44a01c" opacity="0.7"/>
<path d="M1416.7,835.9 Q1423.4,783.7 1437,749 Q1425.7,783.7 1418.9,835.9 Z" fill="#b4ec7c" opacity="0.7"/>
<path d="M1689.7,760.7 Q1686.3,745.9 1681.3,736 Q1688.8,745.9 1692.2,760.7 Z" fill="#78d040" opacity="0.7"/>
<path d="M1999.5,806.6 Q2001.4,783 2006.2,767.3 Q2003.9,783 2002,806.6 Z" fill="#44a01c" opacity="0.7"/>
<path d="M1821.6,835.1 Q1827.4,815.3 1839.5,802.1 Q1830.2,815.3 1824.4,835.1 Z" fill="#38901a" opacity="0.7"/>
<path d="M1849.6,805 Q1855.1,767 1866.7,741.7 Q1858,767 1852.5,805 Z" fill="#38901a" opacity="0.7"/>
<path d="M1498.7,811.2 Q1506.5,787.3 1522.2,771.4 Q1509.2,787.3 1501.5,811.2 Z" fill="#a4e468" opacity="0.7"/>
<path d="M618.8,737.9 Q617.9,717.8 617.2,704.5 Q620,717.8 620.9,737.9 Z" fill="#68c830" opacity="0.7"/>
<path d="M1142.1,723.6 Q1140.2,713.7 1138,707.1 Q1142.9,713.7 1144.8,723.6 Z" fill="#50b024" opacity="0.7"/>
<path d="M13.4,788.6 Q10.9,771.3 7.8,759.7 Q13.7,771.3 16.1,788.6 Z" fill="#c0f090" opacity="0.7"/>
<path d="M1705.4,814.5 Q1707.5,795.7 1712.5,783.2 Q1709.9,795.7 1707.8,814.5 Z" fill="#226a0c" opacity="0.7"/>
<path d="M1575.2,776.5 Q1574.3,752.4 1574,736.4 Q1577.2,752.4 1578.1,776.5 Z" fill="#c0f090" opacity="0.7"/>
<path d="M885,777.4 Q898.8,744.4 925.9,722.4 Q901.8,744.4 888,777.4 Z" fill="#50b024" opacity="0.7"/>
<path d="M-17.8,736.5 Q-11.7,709.7 0.9,691.8 Q-9.3,709.7 -15.4,736.5 Z" fill="#c0f090" opacity="0.7"/>
<path d="M471.2,811.7 Q472.8,785 477,767.3 Q475.2,785 473.6,811.7 Z" fill="#44a01c" opacity="0.7"/>
<path d="M1153,766.4 Q1149.7,735.9 1144.9,715.6 Q1152.4,735.9 1155.7,766.4 Z" fill="#68c830" opacity="0.7"/>
<path d="M1733.2,830.5 Q1733.7,792.5 1735.7,767.2 Q1736,792.5 1735.5,830.5 Z" fill="#226a0c" opacity="0.7"/>
<path d="M775.4,732.2 Q780.3,714.9 790.5,703.4 Q782.8,714.9 778,732.2 Z" fill="#44a01c" opacity="0.7"/>
<path d="M975.1,781.1 Q969,753.7 958.8,735.3 Q971.4,753.7 977.5,781.1 Z" fill="#38901a" opacity="0.7"/>
<path d="M1047.2,796.3 Q1047.3,776.5 1048.7,763.4 Q1049.9,776.5 1049.8,796.3 Z" fill="#b4ec7c" opacity="0.7"/>
<path d="M1050.9,785.2 Q1057.5,756.7 1071.2,737.8 Q1060.4,756.7 1053.8,785.2 Z" fill="#50b024" opacity="0.7"/>
<path d="M1907.3,810.1 Q1911.5,773.9 1921,749.8 Q1915,773.9 1910.9,810.1 Z" fill="#c0f090" opacity="0.7"/>
<path d="M21.1,820.1 Q19.4,797.2 17.2,781.9 Q21.4,797.2 23.1,820.1 Z" fill="#50b024" opacity="0.7"/>
<path d="M1189.9,818.7 Q1187.6,779.6 1185.3,753.5 Q1191.5,779.6 1193.8,818.7 Z" fill="#68c830" opacity="0.7"/>
<path d="M468.1,724.9 Q472.8,714.2 482.8,707.1 Q475.4,714.2 470.7,724.9 Z" fill="#68c830" opacity="0.7"/>
<path d="M1243.7,793.1 Q1237.5,765.2 1227.1,746.6 Q1239.7,765.2 1245.9,793.1 Z" fill="#c0f090" opacity="0.7"/>
<path d="M862.7,846 Q862.5,803.5 863.8,775.1 Q866,803.5 866.2,846 Z" fill="#8edc50" opacity="0.7"/>
<path d="M1878.8,799.8 Q1873.3,773.7 1864.9,756.4 Q1876.7,773.7 1882.1,799.8 Z" fill="#68c830" opacity="0.7"/>
<path d="M2032.4,752.4 Q2031.5,739 2031.5,730.1 Q2035,739 2036,752.4 Z" fill="#38901a" opacity="0.7"/>
<path d="M1852.3,741.8 Q1859,718.4 1872.8,702.7 Q1861.5,718.4 1854.7,741.8 Z" fill="#c0f090" opacity="0.7"/>
<path d="M1286.8,803.2 Q1287.4,771.9 1289.6,751.1 Q1289.8,771.9 1289.3,803.2 Z" fill="#c0f090" opacity="0.7"/>
<path d="M1867.1,759.3 Q1870.2,741.1 1877.8,729 Q1874.1,741.1 1871,759.3 Z" fill="#a4e468" opacity="0.7"/>
<path d="M290,758.4 Q293.3,734 300.9,717.7 Q296.2,734 292.9,758.4 Z" fill="#a4e468" opacity="0.7"/>
<path d="M1328.1,809.7 Q1318.8,771.8 1303,746.5 Q1321.8,771.8 1331.1,809.7 Z" fill="#38901a" opacity="0.7"/>
<path d="M643.7,830.5 Q659.7,791.6 690.6,765.7 Q662.1,791.6 646.1,830.5 Z" fill="#226a0c" opacity="0.7"/>
<path d="M1732.4,720.2 Q1728.2,699.8 1721.6,686.1 Q1730.8,699.8 1735.1,720.2 Z" fill="#a4e468" opacity="0.7"/>
<path d="M1179.4,777.3 Q1185.6,756 1198.4,741.7 Q1188,756 1181.7,777.3 Z" fill="#50b024" opacity="0.7"/>
<path d="M1976.9,801.3 Q1967.7,757.9 1951.6,729 Q1969.9,757.9 1979.1,801.3 Z" fill="#8edc50" opacity="0.7"/>
<path d="M655.1,742.5 Q668.3,713.6 694.6,694.3 Q671.9,713.6 658.6,742.5 Z" fill="#c0f090" opacity="0.7"/>
<path d="M951.9,720.7 Q963.2,694.8 985.4,677.5 Q965.5,694.8 954.1,720.7 Z" fill="#78d040" opacity="0.7"/>
<path d="M1988.4,842.9 Q1994.2,822.4 2006.8,808.7 Q1997.7,822.4 1991.8,842.9 Z" fill="#a4e468" opacity="0.7"/>
<path d="M1669,849.9 Q1662.4,803.7 1651.4,773 Q1665.1,803.7 1671.7,849.9 Z" fill="#78d040" opacity="0.7"/>
<path d="M1320.1,819.6 Q1316.1,800.6 1310.2,787.9 Q1319,800.6 1322.9,819.6 Z" fill="#38901a" opacity="0.7"/>
<path d="M1062.5,726.6 Q1060.6,709.6 1058.8,698.3 Q1064,709.6 1065.8,726.6 Z" fill="#b4ec7c" opacity="0.7"/>
<path d="M1998.2,791.9 Q1994.2,765.6 1988.4,748.1 Q1997.8,765.6 2001.9,791.9 Z" fill="#2a7810" opacity="0.7"/>
<path d="M170,766.3 Q160.8,734.3 145.5,713.1 Q164.3,734.3 173.5,766.3 Z" fill="#a4e468" opacity="0.7"/>
<path d="M23.4,793.1 Q38.5,751.8 67.8,724.2 Q40.7,751.8 25.5,793.1 Z" fill="#2a7810" opacity="0.7"/>
<path d="M2013.1,777.5 Q2007.3,752.2 1997.9,735.4 Q2009.9,752.2 2015.6,777.5 Z" fill="#226a0c" opacity="0.7"/>
<path d="M1038.9,726.9 Q1043.8,710.4 1054.4,699.5 Q1046.7,710.4 1041.7,726.9 Z" fill="#68c830" opacity="0.7"/>
<path d="M1325.3,802.7 Q1320.9,786.7 1314.6,776 Q1324.4,786.7 1328.8,802.7 Z" fill="#78d040" opacity="0.7"/>
<path d="M1889.4,769.2 Q1899.8,732.1 1921.2,707.3 Q1903.6,732.1 1893.2,769.2 Z" fill="#8edc50" opacity="0.7"/>
<path d="M860,846.4 Q853.1,792 841.7,755.8 Q855.9,792 862.8,846.4 Z" fill="#78d040" opacity="0.7"/>
<path d="M737.1,720.3 Q742.8,700.5 755.3,687.4 Q746.3,700.5 740.6,720.3 Z" fill="#68c830" opacity="0.7"/>
<path d="M774.9,836.7 Q768,788.3 756.2,756.1 Q770,788.3 776.9,836.7 Z" fill="#44a01c" opacity="0.7"/>
<path d="M1228.6,737.7 Q1234.6,722.9 1247.7,713.1 Q1238.5,722.9 1232.5,737.7 Z" fill="#8edc50" opacity="0.7"/>
<path d="M1674.9,731.1 Q1677.4,719.1 1683.3,711.1 Q1680.1,719.1 1677.6,731.1 Z" fill="#b4ec7c" opacity="0.7"/>
<path d="M1061.1,846.7 Q1051.4,803 1034.3,773.8 Q1053.6,803 1063.4,846.7 Z" fill="#44a01c" opacity="0.7"/>
<path d="M612,837.8 Q613.7,801.1 618.6,776.6 Q617.4,801.1 615.8,837.8 Z" fill="#2a7810" opacity="0.7"/>
<path d="M527.8,790.9 Q521.2,756.4 510.5,733.4 Q524.2,756.4 530.8,790.9 Z" fill="#38901a" opacity="0.7"/>
<path d="M10.5,747.5 Q14.5,731.7 23.1,721.2 Q17,731.7 13,747.5 Z" fill="#c0f090" opacity="0.7"/>
<path d="M476.5,810 Q489.2,767.2 514.3,738.7 Q492.3,767.2 479.6,810 Z" fill="#a4e468" opacity="0.7"/>
<path d="M1345.7,840.2 Q1349.1,809.4 1357.1,788.8 Q1352.5,809.4 1349.1,840.2 Z" fill="#226a0c" opacity="0.7"/>
<path d="M2041.9,759.2 Q2048.4,743.7 2061.4,733.4 Q2050.5,743.7 2044.1,759.2 Z" fill="#68c830" opacity="0.7"/>
<path d="M421,800.5 Q422.7,782.9 427.7,771.1 Q426.3,782.9 424.6,800.5 Z" fill="#78d040" opacity="0.7"/>
<path d="M266.9,765.6 Q270.3,741.5 277.6,725.5 Q272.7,741.5 269.4,765.6 Z" fill="#a4e468" opacity="0.7"/>
<path d="M1528.1,735.2 Q1527.9,707.9 1528.8,689.8 Q1530.5,707.9 1530.8,735.2 Z" fill="#226a0c" opacity="0.7"/>
<path d="M1614.7,816.4 Q1622.9,792.1 1639.7,775.9 Q1626.2,792.1 1618,816.4 Z" fill="#68c830" opacity="0.7"/>
<path d="M1625.9,811.3 Q1638.6,777.3 1663.9,754.7 Q1642.4,777.3 1629.8,811.3 Z" fill="#50b024" opacity="0.7"/>
<path d="M265.7,726.8 Q268.7,703.9 275.4,688.7 Q270.8,703.9 267.7,726.8 Z" fill="#c0f090" opacity="0.7"/>
<path d="M1011.1,833.3 Q1014,814.7 1020.5,802.3 Q1016.3,814.7 1013.4,833.3 Z" fill="#50b024" opacity="0.7"/>
<path d="M902.7,795 Q909.7,765.3 924.4,745.5 Q913.1,765.3 906.1,795 Z" fill="#50b024" opacity="0.7"/>
<path d="M171.9,728.7 Q175.5,710.7 184.1,698.8 Q179.3,710.7 175.7,728.7 Z" fill="#38901a" opacity="0.7"/>
<path d="M1975.7,808.4 Q1976.1,784.7 1978.1,768.9 Q1978.7,784.7 1978.3,808.4 Z" fill="#b4ec7c" opacity="0.7"/>
<path d="M-18.3,818.6 Q-5.5,785.9 19.8,764.1 Q-2.6,785.9 -15.4,818.6 Z" fill="#8edc50" opacity="0.7"/>
<path d="M1948.7,760.9 Q1950.1,734.7 1954,717.3 Q1952.4,734.7 1951,760.9 Z" fill="#226a0c" opacity="0.7"/>
<path d="M892.1,787.4 Q888.6,762.8 884,746.3 Q892.4,762.8 895.9,787.4 Z" fill="#c0f090" opacity="0.7"/>
<path d="M912.4,794.5 Q905.1,754.2 892.7,727.3 Q907.6,754.2 914.9,794.5 Z" fill="#c0f090" opacity="0.7"/>
<path d="M1964,748.2 Q1961.4,732.2 1958,721.5 Q1964.5,732.2 1967.1,748.2 Z" fill="#b4ec7c" opacity="0.7"/>
<path d="M591.2,734 Q590.8,719.2 592.2,709.3 Q594.6,719.2 594.9,734 Z" fill="#68c830" opacity="0.7"/>
<path d="M1459.8,731.2 Q1465.6,706.2 1477.5,689.4 Q1467.8,706.2 1462,731.2 Z" fill="#68c830" opacity="0.7"/>
<path d="M572.6,818.3 Q579.1,796.4 592.7,781.9 Q582.2,796.4 575.7,818.3 Z" fill="#b4ec7c" opacity="0.7"/>
<path d="M1490.6,753.9 Q1489.7,733.5 1489.2,719.9 Q1491.9,733.5 1492.8,753.9 Z" fill="#68c830" opacity="0.7"/>
<path d="M682.9,849.9 Q674.8,816.4 660.8,794 Q676.9,816.4 685,849.9 Z" fill="#a4e468" opacity="0.7"/>
<path d="M1629.2,836.5 Q1621.8,801.4 1609.3,778 Q1624.6,801.4 1632.1,836.5 Z" fill="#a4e468" opacity="0.7"/>
<path d="M1939.9,790.3 Q1947.2,758.2 1961.9,736.7 Q1949.8,758.2 1942.5,790.3 Z" fill="#a4e468" opacity="0.7"/>
<path d="M951.7,733.4 Q946.7,708.7 938.9,692.3 Q949.8,708.7 954.8,733.4 Z" fill="#68c830" opacity="0.7"/>
<path d="M1111.2,776.9 Q1113.8,756.8 1120.4,743.5 Q1117.7,756.8 1115.2,776.9 Z" fill="#8edc50" opacity="0.7"/>
<path d="M1820.3,847.6 Q1825.1,824.4 1835.1,809 Q1827.4,824.4 1822.6,847.6 Z" fill="#68c830" opacity="0.7"/>
<path d="M1083.1,738.1 Q1087.8,727 1098,719.6 Q1090.7,727 1086,738.1 Z" fill="#c0f090" opacity="0.7"/>
<path d="M1305.5,753.3 Q1308.3,738.3 1314.9,728.4 Q1311.2,738.3 1308.5,753.3 Z" fill="#68c830" opacity="0.7"/>
<path d="M1241.2,737.4 Q1244.5,723.4 1252.4,714 Q1248,723.4 1244.7,737.4 Z" fill="#8edc50" opacity="0.7"/>
<path d="M256.9,741.8 Q257.5,729.6 260.1,721.5 Q260.7,729.6 260.1,741.8 Z" fill="#2a7810" opacity="0.7"/>
<path d="M1652.8,782.6 Q1660.9,761.3 1677.6,747 Q1664.1,761.3 1656,782.6 Z" fill="#50b024" opacity="0.7"/>
<path d="M1483,735.9 Q1482.1,710.9 1482,694.2 Q1485.3,710.9 1486.2,735.9 Z" fill="#226a0c" opacity="0.7"/>
<path d="M1805.8,787.8 Q1810.9,757.3 1821.4,737.1 Q1813,757.3 1807.9,787.8 Z" fill="#c0f090" opacity="0.7"/>
<path d="M855.4,773.9 Q848.1,736.3 836.2,711.2 Q851.4,736.3 858.7,773.9 Z" fill="#38901a" opacity="0.7"/>
<path d="M-19.5,842.7 Q-9.1,813.6 11.7,794.2 Q-5.8,813.6 -16.2,842.7 Z" fill="#c0f090" opacity="0.7"/>
<path d="M1389.3,764.2 Q1392,734.6 1398.8,714.9 Q1395.4,734.6 1392.7,764.2 Z" fill="#38901a" opacity="0.7"/>
<path d="M310.9,784.3 Q315,770.7 324.6,761.7 Q318.6,770.7 314.4,784.3 Z" fill="#38901a" opacity="0.7"/>
<path d="M453.6,720.3 Q460.4,694.6 474.3,677.5 Q462.8,694.6 455.9,720.3 Z" fill="#c0f090" opacity="0.7"/>
<path d="M475.7,827.8 Q475.7,789.1 477.3,763.4 Q479,789.1 479,827.8 Z" fill="#b4ec7c" opacity="0.7"/>
<path d="M1899.2,746.7 Q1895.4,730.9 1890.3,720.4 Q1899.3,730.9 1903.1,746.7 Z" fill="#c0f090" opacity="0.7"/>
<path d="M618,815.6 Q622.5,787.9 632.5,769.4 Q626,787.9 621.6,815.6 Z" fill="#68c830" opacity="0.7"/>
<path d="M1495.7,835.9 Q1485.3,800.1 1467.5,776.2 Q1488.2,800.1 1498.6,835.9 Z" fill="#8edc50" opacity="0.7"/>
<path d="M1577.8,733.8 Q1578.6,715.2 1581.8,702.7 Q1582.2,715.2 1581.4,733.8 Z" fill="#c0f090" opacity="0.7"/>
<path d="M134.2,820 Q140.9,781.2 154.9,755.3 Q143.8,781.2 137.1,820 Z" fill="#50b024" opacity="0.7"/>
<path d="M1473.1,830.6 Q1462.7,792.6 1445,767.3 Q1466.4,792.6 1476.9,830.6 Z" fill="#2a7810" opacity="0.7"/>
<path d="M2000,810.5 Q2002.4,788.8 2008.9,774.3 Q2006.2,788.8 2003.8,810.5 Z" fill="#78d040" opacity="0.7"/>
<path d="M-14.5,775.7 Q-9.1,755.1 2.2,741.4 Q-6.4,755.1 -11.7,775.7 Z" fill="#a4e468" opacity="0.7"/>
<path d="M1846.2,809.6 Q1846.5,787.5 1848.5,772.7 Q1849.4,787.5 1849.1,809.6 Z" fill="#a4e468" opacity="0.7"/>
<path d="M550.1,788.2 Q554.5,768.8 564.6,755.9 Q558.2,768.8 553.8,788.2 Z" fill="#a4e468" opacity="0.7"/>
<path d="M1796.4,839.2 Q1797.5,793.6 1801.2,763.2 Q1800.8,793.6 1799.7,839.2 Z" fill="#226a0c" opacity="0.7"/>
<path d="M1507.9,746.3 Q1513.7,723.2 1526.3,707.8 Q1517.4,723.2 1511.6,746.3 Z" fill="#c0f090" opacity="0.7"/>
<path d="M2003.7,740.9 Q2009.4,717.7 2021.5,702.1 Q2012.3,717.7 2006.6,740.9 Z" fill="#44a01c" opacity="0.7"/>
<path d="M358.5,790.7 Q373,757 401.5,734.5 Q376.4,757 362,790.7 Z" fill="#226a0c" opacity="0.7"/>
<path d="M1978.7,828.4 Q1990.1,800.6 2012.3,782.1 Q1992.3,800.6 1980.9,828.4 Z" fill="#a4e468" opacity="0.7"/>
<path d="M2042.1,814 Q2052.5,786.6 2073.1,768.3 Q2055,786.6 2044.6,814 Z" fill="#b4ec7c" opacity="0.7"/>
<path d="M1248.1,789.8 Q1248.7,771.1 1251.2,758.6 Q1251.6,771.1 1251,789.8 Z" fill="#2a7810" opacity="0.7"/>
<path d="M981.5,734.2 Q987.4,714.4 999.8,701.2 Q990.4,714.4 984.5,734.2 Z" fill="#68c830" opacity="0.7"/>
<path d="M1219.8,732.3 Q1220.2,708.6 1222.3,692.8 Q1222.9,708.6 1222.5,732.3 Z" fill="#38901a" opacity="0.7"/>
<path d="M625.2,808.1 Q627.2,789 631.9,776.3 Q629.3,789 627.4,808.1 Z" fill="#38901a" opacity="0.7"/>
<path d="M63.8,786.7 Q65,760.1 68.3,742.4 Q67.3,760.1 66.1,786.7 Z" fill="#78d040" opacity="0.7"/>
<path d="M1173.3,846.1 Q1187.2,809.2 1214.9,784.6 Q1190.9,809.2 1177,846.1 Z" fill="#a4e468" opacity="0.7"/>
<path d="M1922.3,757.9 Q1921.9,744.2 1923.1,735 Q1925.8,744.2 1926.2,757.9 Z" fill="#b4ec7c" opacity="0.7"/>
<path d="M1796.5,766.3 Q1795.8,751.6 1796.4,741.8 Q1799.5,751.6 1800.1,766.3 Z" fill="#a4e468" opacity="0.7"/>
<path d="M1411.3,778.9 Q1402.4,742.9 1387.1,718.9 Q1404.8,742.9 1413.7,778.9 Z" fill="#b4ec7c" opacity="0.7"/>
<path d="M939.2,835.6 Q942.7,800 950.3,776.2 Q944.9,800 941.4,835.6 Z" fill="#78d040" opacity="0.7"/>
<path d="M841.2,745.5 Q852,719.4 873.3,702.1 Q854.3,719.4 843.4,745.5 Z" fill="#b4ec7c" opacity="0.7"/>
<path d="M1813.6,759.8 Q1817,739.6 1824.8,726.1 Q1820.1,739.6 1816.8,759.8 Z" fill="#78d040" opacity="0.7"/>
<path d="M277.2,759.7 Q281.1,734.8 290,718.1 Q284.5,734.8 280.6,759.7 Z" fill="#a4e468" opacity="0.7"/>
<path d="M594.4,758 Q591.9,736.5 588.7,722.1 Q594.7,736.5 597.2,758 Z" fill="#68c830" opacity="0.7"/>
<path d="M671.8,810.2 Q682.9,778.9 705.3,758.1 Q686.6,778.9 675.4,810.2 Z" fill="#38901a" opacity="0.7"/>
<path d="M349.3,781.7 Q353.3,759.8 361.8,745.3 Q355.5,759.8 351.5,781.7 Z" fill="#44a01c" opacity="0.7"/>
<path d="M1900.5,764.2 Q1895,737.1 1886.1,719 Q1897.8,737.1 1903.3,764.2 Z" fill="#b4ec7c" opacity="0.7"/>
<path d="M250.5,817.2 Q252.7,777.9 258,751.8 Q255.3,777.9 253.1,817.2 Z" fill="#78d040" opacity="0.7"/>
<path d="M-1.3,808.9 Q-4.9,783.8 -10.5,767.1 Q-2.6,783.8 1,808.9 Z" fill="#50b024" opacity="0.7"/>
<path d="M927.3,757.2 Q931.4,744.9 940.5,736.7 Q934.7,744.9 930.6,757.2 Z" fill="#78d040" opacity="0.7"/>
<path d="M1805.8,806.8 Q1802.5,790.8 1798,780.1 Q1805.6,790.8 1808.9,806.8 Z" fill="#b4ec7c" opacity="0.7"/>
<path d="M1255.9,741.1 Q1248.3,711.6 1235.7,691.9 Q1251.3,711.6 1258.9,741.1 Z" fill="#c0f090" opacity="0.7"/>
<path d="M406.5,839.8 Q404.3,787 401.6,751.8 Q406.9,787 409.1,839.8 Z" fill="#a4e468" opacity="0.7"/>
<path d="M46.5,735.9 Q52.7,722.2 65.6,713.1 Q55.3,722.2 49.1,735.9 Z" fill="#a4e468" opacity="0.7"/>
<path d="M1302.6,820.4 Q1309.5,775.1 1324.2,744.9 Q1313.3,775.1 1306.5,820.4 Z" fill="#b4ec7c" opacity="0.7"/>
<path d="M511.3,742 Q507.4,726 501.4,715.4 Q509.8,726 513.6,742 Z" fill="#226a0c" opacity="0.7"/>
<path d="M1729.4,819.7 Q1725.8,788.3 1720.1,767.4 Q1727.9,788.3 1731.5,819.7 Z" fill="#50b024" opacity="0.7"/>
<path d="M434.1,806.5 Q435.5,788.3 439.7,776.2 Q438.9,788.3 437.5,806.5 Z" fill="#8edc50" opacity="0.7"/>
<path d="M228.9,730.5 Q228.8,716.3 230.4,706.8 Q232.7,716.3 232.9,730.5 Z" fill="#68c830" opacity="0.7"/>
<path d="M1532.9,797 Q1533.1,773.2 1534.7,757.3 Q1535.7,773.2 1535.6,797 Z" fill="#50b024" opacity="0.7"/>
<path d="M595.3,739.4 Q596.8,729.1 601,722.2 Q599.3,729.1 597.7,739.4 Z" fill="#b4ec7c" opacity="0.7"/>
<path d="M164.9,750.8 Q168.8,731.4 177.1,718.4 Q171.2,731.4 167.3,750.8 Z" fill="#2a7810" opacity="0.7"/>
<path d="M409.4,839.8 Q412.8,817.9 420.9,803.3 Q416.2,817.9 412.8,839.8 Z" fill="#226a0c" opacity="0.7"/>
<path d="M441.6,777.1 Q439.6,756.2 437.3,742.2 Q442.8,756.2 444.8,777.1 Z" fill="#c0f090" opacity="0.7"/>
<path d="M1335.4,807.9 Q1340.2,773.1 1351.1,749.8 Q1344.1,773.1 1339.2,807.9 Z" fill="#38901a" opacity="0.7"/>
<path d="M609.5,792.8 Q615.9,761.5 629.2,740.6 Q618.6,761.5 612.1,792.8 Z" fill="#78d040" opacity="0.7"/>
<path d="M1757.3,798.7 Q1753.8,774.3 1748.8,758 Q1756.9,774.3 1760.4,798.7 Z" fill="#38901a" opacity="0.7"/>
<path d="M1253.5,829.5 Q1246.1,781.7 1233.9,749.8 Q1249.2,781.7 1256.6,829.5 Z" fill="#68c830" opacity="0.7"/>
<path d="M315.7,772 Q307.5,736.5 293.6,712.8 Q310.2,736.5 318.4,772 Z" fill="#50b024" opacity="0.7"/>
<path d="M486.4,798.5 Q499.9,756.4 526.3,728.3 Q502.7,756.4 489.2,798.5 Z" fill="#38901a" opacity="0.7"/>
<path d="M980.9,783.1 Q984.6,765.6 993.3,754 Q988.1,765.6 984.4,783.1 Z" fill="#c0f090" opacity="0.7"/>
<path d="M107.8,848.5 Q113.2,815.6 124.3,793.6 Q115.6,815.6 110.2,848.5 Z" fill="#44a01c" opacity="0.7"/>
<path d="M669.3,809 Q674,782.3 684.3,764.5 Q677.2,782.3 672.5,809 Z" fill="#226a0c" opacity="0.7"/>
<path d="M1456.3,812.2 Q1451.9,774.6 1445.3,749.5 Q1455.1,774.6 1459.5,812.2 Z" fill="#38901a" opacity="0.7"/>
<path d="M569.2,847.5 Q571.6,814 577.9,791.7 Q575.3,814 572.9,847.5 Z" fill="#78d040" opacity="0.7"/>
<path d="M983.5,783.8 Q980.1,753.3 975,732.9 Q982.5,753.3 985.9,783.8 Z" fill="#2a7810" opacity="0.7"/>
<path d="M1975.3,731 Q1980.2,706.7 1990.9,690.4 Q1983.3,706.7 1978.4,731 Z" fill="#2a7810" opacity="0.7"/>
<path d="M7.5,810.7 Q0.8,774.2 -10.7,749.8 Q3,774.2 9.8,810.7 Z" fill="#a4e468" opacity="0.7"/>
<path d="M1737.4,777.3 Q1733.8,759.6 1728.2,747.7 Q1735.8,759.6 1739.4,777.3 Z" fill="#226a0c" opacity="0.7"/>
<path d="M1088.5,806.8 Q1101.1,772.2 1126.2,749.1 Q1104.5,772.2 1091.9,806.8 Z" fill="#226a0c" opacity="0.7"/>
<path d="M1047.9,830.2 Q1045.6,782.9 1043.3,751.4 Q1049.2,782.9 1051.4,830.2 Z" fill="#a4e468" opacity="0.7"/>
<path d="M1021.9,725.5 Q1027.1,712.9 1038.1,704.5 Q1029.7,712.9 1024.5,725.5 Z" fill="#68c830" opacity="0.7"/>
<path d="M482.5,806.8 Q495.1,774.3 520,752.6 Q498.1,774.3 485.5,806.8 Z" fill="#b4ec7c" opacity="0.7"/>
<path d="M430.1,776.7 Q436.6,755.6 450,741.5 Q439.1,755.6 432.6,776.7 Z" fill="#8edc50" opacity="0.7"/>
<path d="M1945.1,766.1 Q1943.9,747.8 1943.2,735.7 Q1947.1,747.8 1948.4,766.1 Z" fill="#a4e468" opacity="0.7"/>
<path d="M1088,801.9 Q1091.4,785.8 1099.7,775 Q1095.1,785.8 1091.7,801.9 Z" fill="#b4ec7c" opacity="0.7"/>
<path d="M1577.4,790.6 Q1575.4,752.1 1573.7,726.5 Q1579.3,752.1 1581.3,790.6 Z" fill="#68c830" opacity="0.7"/>
<path d="M864.1,720.4 Q870.2,707.1 883.2,698.3 Q873.6,707.1 867.6,720.4 Z" fill="#38901a" opacity="0.7"/>
<path d="M-8.6,759.9 Q0.4,737.3 19,722.3 Q4.2,737.3 -4.8,759.9 Z" fill="#c0f090" opacity="0.7"/>
<path d="M1787.1,756.1 Q1796.5,734.8 1814.9,720.5 Q1798.5,734.8 1789.1,756.1 Z" fill="#68c830" opacity="0.7"/>
<path d="M1957.7,781.8 Q1964.1,760.3 1977.3,745.9 Q1966.6,760.3 1960.2,781.8 Z" fill="#a4e468" opacity="0.7"/>
<path d="M1196.3,803.4 Q1196.4,773.3 1197.8,753.2 Q1198.8,773.3 1198.6,803.4 Z" fill="#226a0c" opacity="0.7"/>
<path d="M1067.4,767.7 Q1063.1,751.8 1056.2,741.2 Q1065.3,751.8 1069.6,767.7 Z" fill="#a4e468" opacity="0.7"/>
<path d="M1983,780.9 Q1994,752.7 2016.2,734 Q1997.8,752.7 1986.9,780.9 Z" fill="#8edc50" opacity="0.7"/>
<path d="M1757.9,782.8 Q1754.4,767.5 1749.9,757.4 Q1758.2,767.5 1761.7,782.8 Z" fill="#b4ec7c" opacity="0.7"/>
<path d="M2040.9,776.2 Q2042.8,746 2047.4,725.8 Q2044.9,746 2043,776.2 Z" fill="#8edc50" opacity="0.7"/>
<path d="M867.8,828.8 Q862.9,791.9 855,767.3 Q865.3,791.9 870.2,828.8 Z" fill="#c0f090" opacity="0.7"/>
<path d="M874.4,749 Q888.3,717.5 915.8,696.6 Q891.6,717.5 877.7,749 Z" fill="#8edc50" opacity="0.7"/>
<path d="M907.1,741.2 Q903.4,723.4 898.2,711.6 Q906.4,723.4 910,741.2 Z" fill="#78d040" opacity="0.7"/>
<path d="M652.4,840.2 Q672.1,792.8 710.6,761.2 Q675.6,792.8 655.8,840.2 Z" fill="#b4ec7c" opacity="0.7"/>
<path d="M1354.3,768.3 Q1356.3,748.4 1361.8,735.1 Q1359.8,748.4 1357.8,768.3 Z" fill="#8edc50" opacity="0.7"/>
<path d="M1753.2,769.5 Q1756.9,746.9 1765.4,731.8 Q1759.8,746.9 1756,769.5 Z" fill="#2a7810" opacity="0.7"/>
<path d="M1224.1,817.7 Q1211.8,771.8 1190.8,741.2 Q1215.6,771.8 1227.9,817.7 Z" fill="#8edc50" opacity="0.7"/>
<path d="M1877.5,775.6 Q1887.5,749.2 1907.9,731.6 Q1890.9,749.2 1880.8,775.6 Z" fill="#8edc50" opacity="0.7"/>
<path d="M750.9,771.4 Q750.8,744.7 751.8,726.9 Q753.4,744.7 753.5,771.4 Z" fill="#8edc50" opacity="0.7"/>
<path d="M840.1,756.2 Q842.5,727 848.1,707.5 Q844.9,727 842.5,756.2 Z" fill="#38901a" opacity="0.7"/>
<path d="M1559.9,762.7 Q1561.1,748.7 1565.3,739.4 Q1565,748.7 1563.9,762.7 Z" fill="#8edc50" opacity="0.7"/>
<path d="M1246.6,785.4 Q1252.7,758.5 1265.3,740.6 Q1255.6,758.5 1249.6,785.4 Z" fill="#226a0c" opacity="0.7"/>
<path d="M2033.8,755.3 Q2043.9,729.3 2063.9,712 Q2046,729.3 2035.8,755.3 Z" fill="#50b024" opacity="0.7"/>
<path d="M382.3,774.2 Q377.7,757.4 370.8,746.2 Q381,757.4 385.7,774.2 Z" fill="#b4ec7c" opacity="0.7"/>
<path d="M1586.1,830.2 Q1592.3,783.9 1605.6,753 Q1596.2,783.9 1590,830.2 Z" fill="#38901a" opacity="0.7"/>
<path d="M1442,748.5 Q1437.1,716.2 1429.6,694.7 Q1440.3,716.2 1445.2,748.5 Z" fill="#44a01c" opacity="0.7"/>
<path d="M1436.7,746.5 Q1433.4,727.3 1429,714.6 Q1436.6,727.3 1439.9,746.5 Z" fill="#c0f090" opacity="0.7"/>
<path d="M808.9,779.1 Q807.2,747.1 805,725.8 Q809.2,747.1 810.9,779.1 Z" fill="#78d040" opacity="0.7"/>
<path d="M962.9,793.1 Q959.9,760.3 955.3,738.4 Q962,760.3 965.1,793.1 Z" fill="#c0f090" opacity="0.7"/>
<path d="M196.1,773 Q189.9,743.9 179.9,724.5 Q192.7,743.9 198.8,773 Z" fill="#78d040" opacity="0.7"/>
<path d="M55.3,798.2 Q60.2,774.3 70.6,758.3 Q62.7,774.3 57.8,798.2 Z" fill="#50b024" opacity="0.7"/>
<path d="M1623.9,801.8 Q1632.7,781.2 1650.7,767.4 Q1636.1,781.2 1627.3,801.8 Z" fill="#68c830" opacity="0.7"/>
<path d="M118.2,756.6 Q122.3,730.8 131.2,713.6 Q124.8,730.8 120.7,756.6 Z" fill="#a4e468" opacity="0.7"/>
<path d="M253.3,818.7 Q258.3,795.7 269.2,780.3 Q261.7,795.7 256.7,818.7 Z" fill="#a4e468" opacity="0.7"/>
<path d="M186.8,787.5 Q190.1,768 197.8,754.9 Q193.4,768 190.2,787.5 Z" fill="#78d040" opacity="0.7"/>
<path d="M1030.9,784.6 Q1027.8,768.1 1023.6,757.1 Q1030.8,768.1 1033.9,784.6 Z" fill="#68c830" opacity="0.7"/>
<path d="M1239.7,785 Q1245.4,753.7 1257.6,732.9 Q1248.3,753.7 1242.5,785 Z" fill="#68c830" opacity="0.7"/>
<path d="M47.7,817.9 Q61.1,788.5 87.7,768.9 Q64.3,788.5 50.8,817.9 Z" fill="#78d040" opacity="0.7"/>
<path d="M1001.8,826.1 Q1001.1,798.6 1001.6,780.2 Q1004.6,798.6 1005.3,826.1 Z" fill="#226a0c" opacity="0.7"/>
<path d="M229.1,813.9 Q241.3,768.5 265.7,738.2 Q244.7,768.5 232.5,813.9 Z" fill="#68c830" opacity="0.7"/>
<path d="M1664,789.3 Q1662.3,749.4 1660.8,722.8 Q1665.6,749.4 1667.3,789.3 Z" fill="#38901a" opacity="0.7"/>
<path d="M687.1,770.7 Q690.6,755 698.3,744.6 Q692.8,755 689.2,770.7 Z" fill="#2a7810" opacity="0.7"/>
<path d="M130.7,835.9 Q132.7,786.5 138.2,753.6 Q136.4,786.5 134.4,835.9 Z" fill="#c0f090" opacity="0.7"/>
<path d="M747.6,847.8 Q757.6,822.5 778,805.6 Q761.4,822.5 751.4,847.8 Z" fill="#44a01c" opacity="0.7"/>
<path d="M51.4,773.8 Q51.5,740.5 53.4,718.3 Q55.2,740.5 55.2,773.8 Z" fill="#8edc50" opacity="0.7"/>
<path d="M1212.5,739.4 Q1215.1,725.2 1221.1,715.6 Q1217.2,725.2 1214.6,739.4 Z" fill="#b4ec7c" opacity="0.7"/>
<path d="M1617.4,784.4 Q1618.8,757.6 1622.5,739.6 Q1621,757.6 1619.6,784.4 Z" fill="#2a7810" opacity="0.7"/>
<path d="M1192.9,788.5 Q1198.1,752.8 1209.4,729.1 Q1201.4,752.8 1196.2,788.5 Z" fill="#a4e468" opacity="0.7"/>
<path d="M1697.9,781.6 Q1711,744.4 1736.9,719.5 Q1714.1,744.4 1701,781.6 Z" fill="#78d040" opacity="0.7"/>
<path d="M1765.7,811.2 Q1760.1,783.9 1751.4,765.8 Q1763.6,783.9 1769.2,811.2 Z" fill="#226a0c" opacity="0.7"/>
<path d="M646,748.8 Q650.4,716.9 660.1,695.6 Q653.6,716.9 649.2,748.8 Z" fill="#8edc50" opacity="0.7"/>
<path d="M2021.4,743 Q2025.2,728.5 2033.6,718.8 Q2027.9,728.5 2024.1,743 Z" fill="#68c830" opacity="0.7"/>
<path d="M1811.5,841.1 Q1801.7,806.2 1784.6,783 Q1803.7,806.2 1813.5,841.1 Z" fill="#2a7810" opacity="0.7"/>
<path d="M277.9,839.1 Q277,812.2 276.6,794.3 Q279.2,812.2 280.1,839.1 Z" fill="#8edc50" opacity="0.7"/>
<path d="M734.8,828.7 Q746.5,778.9 769.5,745.7 Q748.9,778.9 737.2,828.7 Z" fill="#8edc50" opacity="0.7"/>
<path d="M1001.1,824.8 Q1009.2,806.4 1026.4,794.2 Q1013.1,806.4 1005,824.8 Z" fill="#b4ec7c" opacity="0.7"/>
<path d="M1649.4,846.5 Q1672,795.3 1715.3,761.1 Q1674.3,795.3 1651.6,846.5 Z" fill="#68c830" opacity="0.7"/>
<path d="M1590.4,754.7 Q1603.4,724 1629.6,703.6 Q1607.3,724 1594.2,754.7 Z" fill="#78d040" opacity="0.7"/>
<path d="M1607.1,750.4 Q1604.6,735.6 1601.8,725.7 Q1608.3,735.6 1610.8,750.4 Z" fill="#2a7810" opacity="0.7"/>
<path d="M1455.8,775.8 Q1454.6,762.1 1453.8,753 Q1457.4,762.1 1458.6,775.8 Z" fill="#c0f090" opacity="0.7"/>
<path d="M1828.6,812.6 Q1834.3,774 1846,748.3 Q1836.9,774 1831.3,812.6 Z" fill="#c0f090" opacity="0.7"/>
<path d="M237.3,764.4 Q244.8,733.5 260.2,712.9 Q247.6,733.5 240.1,764.4 Z" fill="#38901a" opacity="0.7"/>
<path d="M1227.3,760 Q1229.4,732.7 1235.4,714.6 Q1233.3,732.7 1231.2,760 Z" fill="#44a01c" opacity="0.7"/>
<path d="M1963.4,725.7 Q1963,715.2 1964.2,708.2 Q1966.7,715.2 1967,725.7 Z" fill="#b4ec7c" opacity="0.7"/>
<path d="M387.5,845.4 Q383.1,799.3 376.9,768.5 Q387,799.3 391.4,845.4 Z" fill="#a4e468" opacity="0.7"/>
<path d="M326.9,800.6 Q333.2,782 346.6,769.6 Q336.5,782 330.2,800.6 Z" fill="#50b024" opacity="0.7"/>
<path d="M1504.2,754.8 Q1504.1,733.9 1505.4,720 Q1506.9,733.9 1507,754.8 Z" fill="#226a0c" opacity="0.7"/>
<path d="M489.5,845.8 Q479.5,794.4 463,760.2 Q483.5,794.4 493.4,845.8 Z" fill="#8edc50" opacity="0.7"/>
<path d="M1030,754.6 Q1029.7,739.6 1030.8,729.6 Q1033.3,739.6 1033.7,754.6 Z" fill="#8edc50" opacity="0.7"/>
<path d="M559.4,764.7 Q555.3,740.4 549,724.2 Q558.1,740.4 562.2,764.7 Z" fill="#68c830" opacity="0.7"/>
<path d="M1298.5,800.5 Q1305.3,760.3 1319,733.5 Q1307.5,760.3 1300.8,800.5 Z" fill="#44a01c" opacity="0.7"/>
<path d="M347.1,790.2 Q343.1,762.4 337.2,743.8 Q346,762.4 350,790.2 Z" fill="#44a01c" opacity="0.7"/>
<path d="M665.8,751 Q668.9,726.1 676.1,709.5 Q671.5,726.1 668.3,751 Z" fill="#78d040" opacity="0.7"/>
<path d="M1593.5,765.2 Q1603.8,738.2 1624.1,720.1 Q1606.1,738.2 1595.8,765.2 Z" fill="#44a01c" opacity="0.7"/>
<path d="M486.8,752.1 Q481,720.5 472.1,699.4 Q484.4,720.5 490.1,752.1 Z" fill="#78d040" opacity="0.7"/>
<path d="M1311.8,813.1 Q1312.9,766.7 1316.3,735.7 Q1315.9,766.7 1314.9,813.1 Z" fill="#2a7810" opacity="0.7"/>
<path d="M1520.8,768.3 Q1525.9,751.1 1537.3,739.7 Q1529.8,751.1 1524.7,768.3 Z" fill="#68c830" opacity="0.7"/>
<path d="M1996.7,801.1 Q2004.3,757.4 2020.3,728.2 Q2007.9,757.4 2000.2,801.1 Z" fill="#68c830" opacity="0.7"/>
<path d="M900.4,811.7 Q895.9,791.4 889.3,777.8 Q899.8,791.4 904.4,811.7 Z" fill="#2a7810" opacity="0.7"/>
<path d="M110.9,811.1 Q124.8,764.9 152.5,734 Q128.3,764.9 114.3,811.1 Z" fill="#68c830" opacity="0.7"/>
<path d="M1404.5,766.3 Q1408.1,743 1416.4,727.4 Q1411.5,743 1408,766.3 Z" fill="#a4e468" opacity="0.7"/>
<path d="M1931.4,739.2 Q1934.2,727 1940.8,718.8 Q1937.1,727 1934.3,739.2 Z" fill="#8edc50" opacity="0.7"/>
<path d="M1924.2,831.6 Q1927,791.3 1933.9,764.4 Q1930.6,791.3 1927.9,831.6 Z" fill="#78d040" opacity="0.7"/>
<path d="M620.7,751.9 Q626,740.7 637.5,733.1 Q629.5,740.7 624.3,751.9 Z" fill="#b4ec7c" opacity="0.7"/>
<path d="M698.3,835.6 Q686.4,785.5 665.9,752.2 Q689.6,785.5 701.5,835.6 Z" fill="#78d040" opacity="0.7"/>
<path d="M154.9,792.2 Q165.2,761.1 185.8,740.4 Q168.1,761.1 157.8,792.2 Z" fill="#78d040" opacity="0.7"/>
<path d="M796.8,743.7 Q800.8,716.4 809.4,698.2 Q803.2,716.4 799.2,743.7 Z" fill="#226a0c" opacity="0.7"/>
<path d="M1084.9,729.7 Q1090.2,702.4 1101.4,684.3 Q1093,702.4 1087.7,729.7 Z" fill="#2a7810" opacity="0.7"/>
<path d="M1093.4,845.6 Q1089.5,802.2 1083.9,773.3 Q1092.9,802.2 1096.8,845.6 Z" fill="#44a01c" opacity="0.7"/>
<path d="M375.8,726.6 Q378.3,715 384.6,707.2 Q381.5,715 379,726.6 Z" fill="#2a7810" opacity="0.7"/>
<path d="M4.9,760.7 Q11.6,745.6 25.5,735.6 Q14.3,745.6 7.6,760.7 Z" fill="#44a01c" opacity="0.7"/>
<path d="M1819.9,830.7 Q1818.4,805.4 1817.1,788.5 Q1821.4,805.4 1822.9,830.7 Z" fill="#8edc50" opacity="0.7"/>
<path d="M1347.4,807.8 Q1357.4,767.7 1377.3,741 Q1360.4,767.7 1350.4,807.8 Z" fill="#68c830" opacity="0.7"/>
<path d="M1986.1,807.1 Q1992.9,783.5 2006.7,767.8 Q1995.5,783.5 1988.8,807.1 Z" fill="#226a0c" opacity="0.7"/>
<path d="M413.7,828.3 Q414.8,810.9 418.8,799.3 Q418.7,810.9 417.6,828.3 Z" fill="#50b024" opacity="0.7"/>
<path d="M748.1,844.6 Q746.6,825.2 745.1,812.3 Q749.2,825.2 750.7,844.6 Z" fill="#a4e468" opacity="0.7"/>
<path d="M337.2,733.5 Q336.8,723.5 337.9,716.8 Q340.3,723.5 340.6,733.5 Z" fill="#68c830" opacity="0.7"/>
<path d="M561.7,797 Q572.1,771 593,753.7 Q575.7,771 565.4,797 Z" fill="#a4e468" opacity="0.7"/>
<path d="M325.8,769.5 Q324.9,737.1 324.2,715.5 Q326.9,737.1 327.8,769.5 Z" fill="#c0f090" opacity="0.7"/>
<path d="M1695.6,746.2 Q1699.3,732.5 1708.1,723.5 Q1702.9,732.5 1699.2,746.2 Z" fill="#78d040" opacity="0.7"/>
<path d="M1936.8,842.1 Q1943.9,822 1958.3,808.7 Q1946.3,822 1939.1,842.1 Z" fill="#8edc50" opacity="0.7"/>
<path d="M1831.1,849.6 Q1827.2,822.1 1821.5,803.8 Q1830.1,822.1 1834,849.6 Z" fill="#68c830" opacity="0.7"/>
<path d="M1170.2,829.4 Q1173.1,795.9 1180.4,773.6 Q1177,795.9 1174.1,829.4 Z" fill="#8edc50" opacity="0.7"/>
<path d="M1912,844.1 Q1903.3,796.9 1888.9,765.4 Q1906.8,796.9 1915.5,844.1 Z" fill="#44a01c" opacity="0.7"/>
<path d="M1089.7,748.5 Q1097,730.6 1112.1,718.7 Q1100,730.6 1092.7,748.5 Z" fill="#68c830" opacity="0.7"/>
<path d="M359.3,797.2 Q366.7,774 381.5,758.5 Q368.8,774 361.4,797.2 Z" fill="#b4ec7c" opacity="0.7"/>
<path d="M998,837.4 Q1012.6,788.9 1041.5,756.5 Q1016,788.9 1001.4,837.4 Z" fill="#2a7810" opacity="0.7"/>
<path d="M372.2,836.1 Q364,788.8 350.6,757.3 Q367.5,788.8 375.7,836.1 Z" fill="#b4ec7c" opacity="0.7"/>
<path d="M1719.6,772.6 Q1717.6,759.3 1715.3,750.5 Q1720.8,759.3 1722.9,772.6 Z" fill="#44a01c" opacity="0.7"/>
<path d="M1437.7,771.4 Q1435.2,748.3 1432.3,733 Q1438.5,748.3 1440.9,771.4 Z" fill="#50b024" opacity="0.7"/>
<path d="M1176.4,720.3 Q1176.6,706.9 1178.1,698 Q1178.7,706.9 1178.5,720.3 Z" fill="#c0f090" opacity="0.7"/>
<path d="M1405.6,793.1 Q1418,759.4 1442.6,736.9 Q1421.2,759.4 1408.8,793.1 Z" fill="#78d040" opacity="0.7"/>
<path d="M885.7,821.3 Q880.8,789.9 873.2,769 Q883.7,789.9 888.6,821.3 Z" fill="#38901a" opacity="0.7"/>
<path d="M1428.5,755.7 Q1432.3,727.4 1440.8,708.5 Q1435.5,727.4 1431.7,755.7 Z" fill="#c0f090" opacity="0.7"/>
<path d="M1567.6,758.1 Q1561.8,729.9 1552.7,711 Q1564.9,729.9 1570.7,758.1 Z" fill="#78d040" opacity="0.7"/>
<path d="M1903.4,748 Q1901.6,736.2 1899.9,728.4 Q1904.6,736.2 1906.4,748 Z" fill="#38901a" opacity="0.7"/>
<path d="M22.3,730.6 Q21.8,708 22.2,692.9 Q24.3,708 24.8,730.6 Z" fill="#a4e468" opacity="0.7"/>
<path d="M874.7,785.9 Q876.5,770.8 880.9,760.7 Q878.5,770.8 876.7,785.9 Z" fill="#68c830" opacity="0.7"/>
<path d="M1707.5,814.6 Q1706.5,769.7 1706.2,739.7 Q1709.7,769.7 1710.7,814.6 Z" fill="#c0f090" opacity="0.7"/>
<path d="M493.4,832.5 Q499.6,803.6 513,784.3 Q503.5,803.6 497.3,832.5 Z" fill="#2a7810" opacity="0.7"/>
<path d="M1047.6,753.3 Q1051.4,732 1059.8,717.8 Q1054.2,732 1050.4,753.3 Z" fill="#b4ec7c" opacity="0.7"/>
<path d="M1040.2,825.4 Q1035.3,792 1028,769.7 Q1038.7,792 1043.5,825.4 Z" fill="#8edc50" opacity="0.7"/>
<path d="M1663.2,745 Q1661.6,720.9 1660.7,704.9 Q1665.4,720.9 1667,745 Z" fill="#78d040" opacity="0.7"/>
<path d="M747,779.4 Q749.8,747.9 756.4,726.8 Q752.6,747.9 749.8,779.4 Z" fill="#b4ec7c" opacity="0.7"/>
<path d="M1090.3,786 Q1088.3,757.1 1086.6,737.9 Q1092.1,757.1 1094.1,786 Z" fill="#226a0c" opacity="0.7"/>
<path d="M1353.4,768.1 Q1352.4,754.7 1352,745.7 Q1355.6,754.7 1356.7,768.1 Z" fill="#226a0c" opacity="0.7"/>
<path d="M1740.9,824.8 Q1734,776.2 1722.2,743.8 Q1736.3,776.2 1743.2,824.8 Z" fill="#68c830" opacity="0.7"/>
<path d="M374.8,761.2 Q380.7,746.1 393.1,736.1 Q383.2,746.1 377.2,761.2 Z" fill="#c0f090" opacity="0.7"/>
<path d="M1315,825.6 Q1305.5,790.7 1289.6,767.3 Q1308.9,790.7 1318.4,825.6 Z" fill="#68c830" opacity="0.7"/>
<path d="M1644.5,826.9 Q1642.7,781.4 1640.3,751.1 Q1644.8,781.4 1646.6,826.9 Z" fill="#a4e468" opacity="0.7"/>
<path d="M386.2,841.8 Q390.1,821.2 399.1,807.6 Q393.5,821.2 389.6,841.8 Z" fill="#68c830" opacity="0.7"/>
<path d="M673.1,814.4 Q668.6,778.4 662.1,754.5 Q672.4,778.4 676.9,814.4 Z" fill="#c0f090" opacity="0.7"/>
<path d="M1896.5,788.5 Q1902.7,756.4 1915.3,734.9 Q1904.8,756.4 1898.6,788.5 Z" fill="#50b024" opacity="0.7"/>
<path d="M1507.2,785.8 Q1514.6,762.6 1529.4,747.2 Q1516.8,762.6 1509.4,785.8 Z" fill="#8edc50" opacity="0.7"/>
<path d="M959.8,730.4 Q959.2,712.6 959.4,700.7 Q961.7,712.6 962.3,730.4 Z" fill="#50b024" opacity="0.7"/>
<path d="M507.8,743.2 Q514.9,727.8 529.7,717.5 Q518,727.8 510.9,743.2 Z" fill="#2a7810" opacity="0.7"/>
<path d="M936.3,818.4 Q946.1,795.4 966.1,780.1 Q949.6,795.4 939.8,818.4 Z" fill="#68c830" opacity="0.7"/>
<path d="M873.6,785.8 Q882.9,749.4 901.7,725.2 Q885.7,749.4 876.4,785.8 Z" fill="#68c830" opacity="0.7"/>
<path d="M1250,775.9 Q1248.6,749.6 1247.8,732.1 Q1252.1,749.6 1253.5,775.9 Z" fill="#50b024" opacity="0.7"/>
<path d="M1209.3,782.9 Q1202.4,745.7 1191.1,721 Q1205.5,745.7 1212.5,782.9 Z" fill="#44a01c" opacity="0.7"/>
<path d="M219.6,795 Q225.3,762.9 237.2,741.5 Q227.5,762.9 221.7,795 Z" fill="#38901a" opacity="0.7"/>
<path d="M1507.4,733.9 Q1517,713.1 1536.6,699.2 Q1520.7,713.1 1511.2,733.9 Z" fill="#226a0c" opacity="0.7"/>
<path d="M520.3,812.9 Q534.2,782.2 561.6,761.7 Q537.4,782.2 523.4,812.9 Z" fill="#c0f090" opacity="0.7"/>
<path d="M945.2,810.8 Q942.1,794.5 937.9,783.5 Q945,794.5 948.1,810.8 Z" fill="#2a7810" opacity="0.7"/>
<path d="M1448.9,793.6 Q1449.1,771.4 1450.5,756.6 Q1451.2,771.4 1451,793.6 Z" fill="#8edc50" opacity="0.7"/>
<path d="M787.1,780.6 Q791.5,762.9 801.1,751.1 Q794.3,762.9 789.9,780.6 Z" fill="#a4e468" opacity="0.7"/>
<path d="M598.6,730.1 Q604.3,708.5 616.2,694.1 Q606.5,708.5 600.7,730.1 Z" fill="#c0f090" opacity="0.7"/>
<path d="M1076.5,730.2 Q1076.3,717.1 1077.2,708.3 Q1078.8,717.1 1078.9,730.2 Z" fill="#c0f090" opacity="0.7"/>
<path d="M2000.9,773 Q2000.4,758.6 2000.9,748.9 Q2003.1,758.6 2003.6,773 Z" fill="#a4e468" opacity="0.7"/>
<path d="M211.1,724 Q218.1,708.3 232.3,697.8 Q220.4,708.3 213.4,724 Z" fill="#44a01c" opacity="0.7"/>
<path d="M909.5,826.1 Q914.8,807.7 925.9,795.4 Q917.3,807.7 912,826.1 Z" fill="#226a0c" opacity="0.7"/>
<path d="M1137,796.5 Q1150.6,764.9 1177,743.7 Q1152.7,764.9 1139.1,796.5 Z" fill="#68c830" opacity="0.7"/>
<path d="M1771.1,803.5 Q1779.3,783.4 1796.3,770 Q1782.8,783.4 1774.6,803.5 Z" fill="#2a7810" opacity="0.7"/>
<path d="M1013.1,751.1 Q1013.8,729.2 1016.4,714.7 Q1016.2,729.2 1015.4,751.1 Z" fill="#c0f090" opacity="0.7"/>
<path d="M954,788.7 Q963.9,751 983.5,725.8 Q966.2,751 956.3,788.7 Z" fill="#68c830" opacity="0.7"/>
<path d="M377,757.8 Q376.1,744.7 376.1,735.9 Q379.2,744.7 380.1,757.8 Z" fill="#a4e468" opacity="0.7"/>
<path d="M795.6,725 Q792.5,713.7 788.6,706.3 Q796.4,713.7 799.5,725 Z" fill="#38901a" opacity="0.7"/>
<path d="M1863.6,790.9 Q1865.7,767.5 1870.6,751.9 Q1867.8,767.5 1865.7,790.9 Z" fill="#50b024" opacity="0.7"/>
<path d="M1330,824.5 Q1333.5,798.4 1341.2,780.9 Q1335.8,798.4 1332.3,824.5 Z" fill="#50b024" opacity="0.7"/>
<path d="M1420.6,748.5 Q1418.2,719.2 1415.8,699.6 Q1422.2,719.2 1424.5,748.5 Z" fill="#c0f090" opacity="0.7"/>
<path d="M722.4,781 Q736.9,748.8 765.4,727.4 Q740,748.8 725.4,781 Z" fill="#8edc50" opacity="0.7"/>
<path d="M974.5,746 Q972.2,732.7 969.6,723.9 Q975.4,732.7 977.6,746 Z" fill="#38901a" opacity="0.7"/>
<path d="M1750.1,793.7 Q1748.5,756.7 1747.1,732 Q1751.3,756.7 1752.8,793.7 Z" fill="#44a01c" opacity="0.7"/>
<path d="M656.9,739.2 Q655.1,713.9 653.6,696.9 Q658.9,713.9 660.7,739.2 Z" fill="#38901a" opacity="0.7"/>
<path d="M852.4,836.8 Q859.8,818 875.3,805.5 Q863.2,818 855.7,836.8 Z" fill="#226a0c" opacity="0.7"/>
<path d="M887.4,738.2 Q883.8,718.2 879.1,704.9 Q887.7,718.2 891.3,738.2 Z" fill="#8edc50" opacity="0.7"/>
<path d="M1814.3,820.9 Q1825.2,789.2 1846.6,768.1 Q1827.3,789.2 1816.4,820.9 Z" fill="#78d040" opacity="0.7"/>
<path d="M1356.8,722.1 Q1354.3,701 1351.1,687 Q1356.9,701 1359.4,722.1 Z" fill="#68c830" opacity="0.7"/>
<path d="M34,740.2 Q31.1,710.7 27.4,691.1 Q34.5,710.7 37.4,740.2 Z" fill="#a4e468" opacity="0.7"/>
<path d="M525.4,849.7 Q528.2,824.8 535,808.1 Q531,824.8 528.1,849.7 Z" fill="#68c830" opacity="0.7"/>
<path d="M682.9,800.6 Q700.2,760 733.9,732.9 Q703.5,760 686.3,800.6 Z" fill="#78d040" opacity="0.7"/>
<path d="M371.5,792.7 Q377.7,777.3 391.3,767.1 Q381.6,777.3 375.3,792.7 Z" fill="#78d040" opacity="0.7"/>
<path d="M590.2,796.3 Q595.4,756.9 606.8,730.7 Q598.9,756.9 593.7,796.3 Z" fill="#b4ec7c" opacity="0.7"/>
<path d="M1488.4,743.5 Q1486.5,725.9 1484.1,714.2 Q1488.9,725.9 1490.9,743.5 Z" fill="#44a01c" opacity="0.7"/>
<path d="M7.6,799.4 Q-0.7,767.5 -14.5,746.2 Q2.7,767.5 11,799.4 Z" fill="#c0f090" opacity="0.7"/>
<path d="M1614,832 Q1617.1,781.5 1624.5,747.8 Q1620.4,781.5 1617.2,832 Z" fill="#38901a" opacity="0.7"/>
<path d="M112.9,762.1 Q110.5,728.6 107,706.2 Q112.7,728.6 115.1,762.1 Z" fill="#38901a" opacity="0.7"/>
<path d="M909.3,810.6 Q922.6,771.8 948.4,746 Q924.9,771.8 911.7,810.6 Z" fill="#38901a" opacity="0.7"/>
<path d="M1625,787.9 Q1636.1,763.2 1658.8,746.8 Q1640.1,763.2 1629,787.9 Z" fill="#50b024" opacity="0.7"/>
<path d="M165.5,806.9 Q163.4,782.4 161.2,766.1 Q166.7,782.4 168.8,806.9 Z" fill="#44a01c" opacity="0.7"/>
<path d="M0.5,820.7 Q19.3,780 56.2,752.8 Q23.2,780 4.4,820.7 Z" fill="#50b024" opacity="0.7"/>
<path d="M652,765.3 Q665.6,734.9 692.4,714.7 Q668.6,734.9 655,765.3 Z" fill="#226a0c" opacity="0.7"/>
<path d="M636.5,800.3 Q624.8,757.9 604.2,729.7 Q627.1,757.9 638.8,800.3 Z" fill="#50b024" opacity="0.7"/>
<path d="M1142.4,832 Q1137.7,814.6 1130.1,802.9 Q1140,814.6 1144.7,832 Z" fill="#68c830" opacity="0.7"/>
<path d="M347,836.1 Q336.1,793.1 317.4,764.3 Q339.2,793.1 350.1,836.1 Z" fill="#38901a" opacity="0.7"/>
<path d="M1936.3,809.4 Q1943.7,782.3 1959.2,764.1 Q1947.1,782.3 1939.6,809.4 Z" fill="#a4e468" opacity="0.7"/>
<path d="M1133.1,790 Q1139.4,768.8 1152.2,754.7 Q1141.6,768.8 1135.3,790 Z" fill="#68c830" opacity="0.7"/>
<path d="M933,770.7 Q924.2,739.7 908.9,719.1 Q926.5,739.7 935.3,770.7 Z" fill="#a4e468" opacity="0.7"/>
<path d="M1265.6,745.6 Q1275.5,723.4 1295,708.6 Q1277.8,723.4 1267.9,745.6 Z" fill="#8edc50" opacity="0.7"/>
<path d="M1670.8,782.9 Q1676.8,761.4 1689.2,747.1 Q1679,761.4 1672.9,782.9 Z" fill="#50b024" opacity="0.7"/>
<path d="M1319.3,733.9 Q1321.1,706.2 1326.6,687.8 Q1325.1,706.2 1323.2,733.9 Z" fill="#68c830" opacity="0.7"/>
<path d="M472.9,739.4 Q471.3,716.4 469.9,701.1 Q474.5,716.4 476.1,739.4 Z" fill="#38901a" opacity="0.7"/>
<path d="M929.4,773 Q922,738.8 909.3,715.9 Q924.1,738.8 931.5,773 Z" fill="#2a7810" opacity="0.7"/>
<path d="M1499.3,837.3 Q1489.3,789 1472.2,756.8 Q1492,789 1502,837.3 Z" fill="#c0f090" opacity="0.7"/>
<path d="M1376.6,808.7 Q1372.1,773.2 1365.2,749.6 Q1374.8,773.2 1379.3,808.7 Z" fill="#38901a" opacity="0.7"/>
<path d="M924.8,725.1 Q935.3,701.6 956.4,685.9 Q938.5,701.6 928,725.1 Z" fill="#226a0c" opacity="0.7"/>
<path d="M2023.9,827.2 Q2021,795.6 2017.6,774.6 Q2024.8,795.6 2027.7,827.2 Z" fill="#c0f090" opacity="0.7"/>
<path d="M1965.1,731.4 Q1968.5,710.8 1976,697 Q1970.8,710.8 1967.4,731.4 Z" fill="#b4ec7c" opacity="0.7"/>
<path d="M1499.5,837.3 Q1510.1,802.3 1531.6,779 Q1513.9,802.3 1503.4,837.3 Z" fill="#44a01c" opacity="0.7"/>
<path d="M24.6,754.3 Q32.2,731.1 47.7,715.7 Q34.6,731.1 26.9,754.3 Z" fill="#44a01c" opacity="0.7"/>
<path d="M636.6,839 Q644.5,806.8 660.3,785.3 Q646.7,806.8 638.8,839 Z" fill="#2a7810" opacity="0.7"/>
<path d="M1993.8,764.4 Q2008.4,732.3 2036.5,710.9 Q2010.6,732.3 1996,764.4 Z" fill="#68c830" opacity="0.7"/>
<path d="M1339.6,754.5 Q1334,731 1324.8,715.3 Q1336.7,731 1342.3,754.5 Z" fill="#44a01c" opacity="0.7"/>
<path d="M1036.9,784.8 Q1044.4,765.8 1059.9,753.1 Q1047.8,765.8 1040.4,784.8 Z" fill="#c0f090" opacity="0.7"/>
<path d="M1465.6,768.6 Q1465.1,750.4 1465.5,738.3 Q1467.5,750.4 1467.9,768.6 Z" fill="#a4e468" opacity="0.7"/>
<path d="M299.2,817.6 Q305.5,799 318.8,786.5 Q308.7,799 302.4,817.6 Z" fill="#44a01c" opacity="0.7"/>
<path d="M1793.1,815.2 Q1797.5,779.4 1807.1,755.6 Q1800.5,779.4 1796.1,815.2 Z" fill="#8edc50" opacity="0.7"/>
<path d="M216.4,730.6 Q217,718.2 219.3,709.9 Q219.5,718.2 218.9,730.6 Z" fill="#68c830" opacity="0.7"/>
<path d="M1715.5,750.5 Q1717,726.2 1721.4,709.9 Q1720.2,726.2 1718.7,750.5 Z" fill="#8edc50" opacity="0.7"/>
<path d="M859.3,727.6 Q853.1,700.6 843.3,682.7 Q856.3,700.6 862.5,727.6 Z" fill="#a4e468" opacity="0.7"/>
<path d="M1100,754.7 Q1108.3,735.6 1125.5,722.9 Q1112,735.6 1103.7,754.7 Z" fill="#a4e468" opacity="0.7"/>
<path d="M1835.2,794.1 Q1831.3,767.1 1825,749.2 Q1833.4,767.1 1837.3,794.1 Z" fill="#226a0c" opacity="0.7"/>
<path d="M299.4,831.9 Q293.3,805.9 283.3,788.6 Q295.9,805.9 302,831.9 Z" fill="#c0f090" opacity="0.7"/>
<path d="M1160.9,808.6 Q1167.6,787.8 1181.2,774 Q1170.1,787.8 1163.4,808.6 Z" fill="#a4e468" opacity="0.7"/>
<path d="M1035.9,733.1 Q1043.6,708.3 1059,691.7 Q1045.7,708.3 1038,733.1 Z" fill="#38901a" opacity="0.7"/>
<path d="M1485.8,738.3 Q1488.6,726 1495.4,717.7 Q1491.4,726 1488.5,738.3 Z" fill="#50b024" opacity="0.7"/>
<path d="M45.8,776.6 Q43.9,758.4 42,746.3 Q47.1,758.4 49,776.6 Z" fill="#68c830" opacity="0.7"/>
<path d="M210,740.7 Q214.9,729.7 225.5,722.3 Q217.7,729.7 212.7,740.7 Z" fill="#226a0c" opacity="0.7"/>
<path d="M110.8,748 Q108.2,716.4 105,695.3 Q111,716.4 113.5,748 Z" fill="#78d040" opacity="0.7"/>
<path d="M1782.1,732.6 Q1787.9,704 1800.3,684.8 Q1791.1,704 1785.2,732.6 Z" fill="#78d040" opacity="0.7"/>
<path d="M1657.3,798.9 Q1657.7,783.6 1659.6,773.4 Q1660.2,783.6 1659.9,798.9 Z" fill="#2a7810" opacity="0.7"/>
<path d="M1118.6,836 Q1119.3,818.5 1121.8,806.9 Q1121.7,818.5 1121,836 Z" fill="#226a0c" opacity="0.7"/>
<path d="M2062.9,755.9 Q2067.5,725.5 2077.5,705.2 Q2070.2,725.5 2065.6,755.9 Z" fill="#a4e468" opacity="0.7"/>
<path d="M789.1,723.7 Q796,703.9 810.2,690.8 Q798.6,703.9 791.7,723.7 Z" fill="#78d040" opacity="0.7"/>
<path d="M399.6,753.3 Q400.6,720.3 404.1,698.2 Q403.9,720.3 402.9,753.3 Z" fill="#a4e468" opacity="0.7"/>
<path d="M1702.9,840.4 Q1715.9,791.8 1742,759.4 Q1719.6,791.8 1706.6,840.4 Z" fill="#c0f090" opacity="0.7"/>
<path d="M1057.7,772.5 Q1069.5,740.9 1092.6,719.8 Q1071.8,740.9 1060,772.5 Z" fill="#50b024" opacity="0.7"/>
<path d="M465.5,848 Q471.8,815.9 484.7,794.4 Q474.5,815.9 468.3,848 Z" fill="#226a0c" opacity="0.7"/>
<path d="M181.7,777.8 Q198,742.9 230.1,719.7 Q201.9,742.9 185.7,777.8 Z" fill="#50b024" opacity="0.7"/>
<path d="M1464.2,769.3 Q1463.8,752.4 1464.9,741.2 Q1467.4,752.4 1467.7,769.3 Z" fill="#50b024" opacity="0.7"/>
<path d="M1167.8,816.2 Q1168.6,794.8 1171.8,780.6 Q1172,794.8 1171.2,816.2 Z" fill="#68c830" opacity="0.7"/>
<path d="M1170.2,797 Q1164.9,777.7 1155.9,764.8 Q1166.9,777.7 1172.3,797 Z" fill="#226a0c" opacity="0.7"/>
<path d="M1603.2,838 Q1609.1,798.5 1621.3,772.1 Q1611.3,798.5 1605.3,838 Z" fill="#a4e468" opacity="0.7"/>
<path d="M425.9,842.6 Q435.3,819 454.4,803.2 Q438.4,819 429,842.6 Z" fill="#b4ec7c" opacity="0.7"/>
<path d="M393.5,808.2 Q389.1,784.9 382.7,769.4 Q392.7,784.9 397.1,808.2 Z" fill="#38901a" opacity="0.7"/>
<path d="M1383.9,803.5 Q1393.1,783.9 1411.4,770.7 Q1395.7,783.9 1386.6,803.5 Z" fill="#38901a" opacity="0.7"/>
<path d="M1901.6,843 Q1887.5,791.1 1863.1,756.6 Q1890.9,791.1 1905,843 Z" fill="#68c830" opacity="0.7"/>
<path d="M212.4,776.3 Q207.1,743 198.7,720.8 Q209.8,743 215.1,776.3 Z" fill="#78d040" opacity="0.7"/>
<path d="M220.5,801.4 Q222.9,768.8 229.4,747.1 Q226.9,768.8 224.4,801.4 Z" fill="#c0f090" opacity="0.7"/>
<path d="M1539.5,746.7 Q1542.6,730.5 1550.2,719.6 Q1546.2,730.5 1543.1,746.7 Z" fill="#8edc50" opacity="0.7"/>
<path d="M1898.5,796.4 Q1902.3,767.8 1910.7,748.8 Q1904.9,767.8 1901.1,796.4 Z" fill="#226a0c" opacity="0.7"/>
<path d="M608.2,733.3 Q603.6,704.5 596.3,685.4 Q606.1,704.5 610.8,733.3 Z" fill="#8edc50" opacity="0.7"/>
<path d="M1060.4,768.2 Q1068.6,748.5 1085.9,735.5 Q1072.5,748.5 1064.3,768.2 Z" fill="#50b024" opacity="0.7"/>
<path d="M284.3,830 Q287.5,807 294.5,791.7 Q289.9,807 286.8,830 Z" fill="#78d040" opacity="0.7"/>
<path d="M1386.9,785 Q1394.1,756.8 1408.4,738.1 Q1396.3,756.8 1389.1,785 Z" fill="#78d040" opacity="0.7"/>
<path d="M1839.5,826.8 Q1848,801.4 1865,784.5 Q1850.6,801.4 1842.1,826.8 Z" fill="#c0f090" opacity="0.7"/>
<path d="M957.6,729.5 Q962.9,701.9 974.1,683.6 Q965.6,701.9 960.3,729.5 Z" fill="#8edc50" opacity="0.7"/>
<path d="M371.7,721.1 Q377.9,704.6 391.1,693.6 Q381.2,704.6 375,721.1 Z" fill="#c0f090" opacity="0.7"/>
<path d="M1726.9,828.6 Q1745.4,783.2 1781.4,753 Q1748.6,783.2 1730.1,828.6 Z" fill="#2a7810" opacity="0.7"/>
<path d="M1095,838.3 Q1098.8,794.9 1107.6,765.9 Q1102,794.9 1098.2,838.3 Z" fill="#c0f090" opacity="0.7"/>
<path d="M1459.5,743.7 Q1456.6,729.7 1452.7,720.3 Q1459.6,729.7 1462.5,743.7 Z" fill="#50b024" opacity="0.7"/>
<path d="M476.5,832.5 Q479.8,784.5 486.9,752.4 Q482,784.5 478.8,832.5 Z" fill="#68c830" opacity="0.7"/>
<path d="M1875,823.5 Q1880.8,781.1 1892.8,752.9 Q1883.2,781.1 1877.4,823.5 Z" fill="#44a01c" opacity="0.7"/>
<path d="M893.9,830.6 Q894,786.4 895.3,757 Q896,786.4 895.9,830.6 Z" fill="#8edc50" opacity="0.7"/>
<path d="M393.5,730.4 Q396.8,718.6 404.4,710.8 Q399.8,718.6 396.5,730.4 Z" fill="#a4e468" opacity="0.7"/>
<path d="M1754,722.5 Q1751.7,701.7 1748.9,687.8 Q1754.9,701.7 1757.3,722.5 Z" fill="#68c830" opacity="0.7"/>
<path d="M1120.2,830.5 Q1111.9,797.1 1097.8,774.9 Q1114.5,797.1 1122.8,830.5 Z" fill="#78d040" opacity="0.7"/>
<path d="M450.1,825.5 Q457.3,795.2 471.7,775 Q459.4,795.2 452.2,825.5 Z" fill="#a4e468" opacity="0.7"/>
<path d="M1875.2,800.8 Q1888.5,765.7 1914.9,742.3 Q1892,765.7 1878.7,800.8 Z" fill="#68c830" opacity="0.7"/>
<path d="M1954,730.4 Q1949.3,702 1942.5,683 Q1953.1,702 1957.8,730.4 Z" fill="#2a7810" opacity="0.7"/>
<path d="M701.9,757.2 Q698.8,741.7 694.1,731.3 Q701,741.7 704.1,757.2 Z" fill="#8edc50" opacity="0.7"/>
<path d="M1101.9,831.6 Q1104.1,780.9 1109.2,747 Q1106.4,780.9 1104.3,831.6 Z" fill="#38901a" opacity="0.7"/>
<path d="M438.5,752.6 Q446.1,720.7 462,699.4 Q449.6,720.7 442,752.6 Z" fill="#44a01c" opacity="0.7"/>
<path d="M1785.7,817.2 Q1795.8,783.5 1815.6,761 Q1798,783.5 1788,817.2 Z" fill="#50b024" opacity="0.7"/>
<path d="M680.2,812.4 Q693.3,769.7 718.7,741.3 Q695.4,769.7 682.3,812.4 Z" fill="#c0f090" opacity="0.7"/>
<path d="M1153.1,748.3 Q1153.7,728.6 1156.3,715.4 Q1157,728.6 1156.5,748.3 Z" fill="#44a01c" opacity="0.7"/>
<path d="M87.6,841.9 Q93.8,810 106.5,788.7 Q96.2,810 89.9,841.9 Z" fill="#2a7810" opacity="0.7"/>
<path d="M33.4,730.7 Q40,709 53.9,694.5 Q43.2,709 36.6,730.7 Z" fill="#38901a" opacity="0.7"/>
<path d="M868.2,844.4 Q862.7,817.8 853.8,800.1 Q865.5,817.8 871,844.4 Z" fill="#c0f090" opacity="0.7"/>
<path d="M1172.8,768.5 Q1184.4,738.5 1206.9,718.5 Q1186.6,738.5 1175,768.5 Z" fill="#226a0c" opacity="0.7"/>
<path d="M1646.5,808.9 Q1649.1,790.4 1655.7,778.2 Q1652.5,790.4 1649.8,808.9 Z" fill="#b4ec7c" opacity="0.7"/>
<path d="M1080.1,803.4 Q1078,769.2 1075.3,746.3 Q1080.5,769.2 1082.6,803.4 Z" fill="#2a7810" opacity="0.7"/>
<path d="M2036.8,830 Q2058.2,782.8 2099.6,751.3 Q2061.3,782.8 2039.8,830 Z" fill="#38901a" opacity="0.7"/>
<path d="M183.8,745.8 Q188.2,726.6 197.7,713.8 Q191.2,726.6 186.8,745.8 Z" fill="#50b024" opacity="0.7"/>
<path d="M873,779.6 Q880,760.6 894.9,747.9 Q883.9,760.6 876.9,779.6 Z" fill="#c0f090" opacity="0.7"/>
<path d="M64.3,837.8 Q69.2,803.5 79.8,780.6 Q71.9,803.5 66.9,837.8 Z" fill="#8edc50" opacity="0.7"/>
<path d="M2002.5,723.2 Q2002.3,703.1 2003.2,689.6 Q2004.6,703.1 2004.7,723.2 Z" fill="#8edc50" opacity="0.7"/>
<path d="M110.5,805.9 Q118.1,786.4 133.5,773.4 Q120.4,786.4 112.7,805.9 Z" fill="#78d040" opacity="0.7"/>
<path d="M57.4,829 Q64.2,786.2 78.2,757.7 Q66.7,786.2 59.9,829 Z" fill="#2a7810" opacity="0.7"/>
<path d="M1830.2,776.1 Q1837,739.2 1851.1,714.5 Q1840,739.2 1833.2,776.1 Z" fill="#68c830" opacity="0.7"/>
<path d="M892.5,760.7 Q908.4,726.2 939.2,703.2 Q910.7,726.2 894.7,760.7 Z" fill="#2a7810" opacity="0.7"/>
<path d="M417.7,750.4 Q421.9,738.1 430.8,729.9 Q424,738.1 419.8,750.4 Z" fill="#50b024" opacity="0.7"/>
<path d="M2039.3,734.6 Q2033.4,708.9 2023.6,691.8 Q2035.6,708.9 2041.5,734.6 Z" fill="#2a7810" opacity="0.7"/>
<path d="M544.3,776 Q550.8,748.9 564.4,730.8 Q553.7,748.9 547.2,776 Z" fill="#38901a" opacity="0.7"/>
<path d="M2033.4,809.9 Q2025.9,780.6 2013.8,761.2 Q2029.6,780.6 2037.2,809.9 Z" fill="#2a7810" opacity="0.7"/>
<path d="M1941.3,736.1 Q1943.2,714.4 1948.4,699.9 Q1946.7,714.4 1944.9,736.1 Z" fill="#44a01c" opacity="0.7"/>
<path d="M1470.1,812.4 Q1487,770.2 1520.2,742 Q1490.5,770.2 1473.6,812.4 Z" fill="#c0f090" opacity="0.7"/>
<path d="M1511.7,735.1 Q1515.7,724.9 1524.4,718.2 Q1518,724.9 1514,735.1 Z" fill="#38901a" opacity="0.7"/>
<path d="M854.3,788.7 Q850.6,772.8 845.6,762.2 Q854.3,772.8 858,788.7 Z" fill="#44a01c" opacity="0.7"/>
<path d="M1141.9,838.6 Q1132.5,800 1116.9,774.3 Q1136.4,800 1145.8,838.6 Z" fill="#b4ec7c" opacity="0.7"/>
<path d="M1797.2,761.2 Q1801,741.6 1809.7,728.5 Q1804.2,741.6 1800.4,761.2 Z" fill="#50b024" opacity="0.7"/>
<path d="M535.7,785.2 Q530.5,745.6 522.3,719.2 Q533.4,745.6 538.6,785.2 Z" fill="#78d040" opacity="0.7"/>
<path d="M1355.6,799.5 Q1354.4,774.4 1353.6,757.7 Q1356.9,774.4 1358.1,799.5 Z" fill="#38901a" opacity="0.7"/>
<path d="M638.1,744 Q649.2,720 671.5,704 Q652.6,720 641.4,744 Z" fill="#50b024" opacity="0.7"/>
<path d="M1313.6,848.4 Q1328.3,813.4 1356.9,790 Q1331.3,813.4 1316.7,848.4 Z" fill="#44a01c" opacity="0.7"/>
<path d="M1580.3,804.6 Q1589.2,768.9 1606.9,745.1 Q1591.7,768.9 1582.8,804.6 Z" fill="#50b024" opacity="0.7"/>
<path d="M-11.6,760 Q-15.1,738.6 -20.2,724.4 Q-12.4,738.6 -8.9,760 Z" fill="#50b024" opacity="0.7"/>
<path d="M725.5,796.9 Q719.1,768.1 708.5,748.8 Q721.7,768.1 728.1,796.9 Z" fill="#2a7810" opacity="0.7"/>
<path d="M195.8,820.5 Q197.7,801.7 202.4,789.1 Q200.1,801.7 198.2,820.5 Z" fill="#2a7810" opacity="0.7"/>
<path d="M131.2,740.9 Q139.8,720 157.8,706.1 Q143.7,720 135,740.9 Z" fill="#c0f090" opacity="0.7"/>
<path d="M1436,759.1 Q1434.9,734.7 1434.3,718.4 Q1437.8,734.7 1438.9,759.1 Z" fill="#78d040" opacity="0.7"/>
<path d="M898.5,763 Q891.2,729.2 879.4,706.7 Q894.7,729.2 902,763 Z" fill="#c0f090" opacity="0.7"/>
<path d="M514.6,833.3 Q512.1,786.8 508.7,755.8 Q514.5,786.8 517,833.3 Z" fill="#38901a" opacity="0.7"/>
<path d="M1375,801.8 Q1376.2,772.8 1379.9,753.5 Q1379.1,772.8 1377.9,801.8 Z" fill="#50b024" opacity="0.7"/>
<path d="M659.8,730 Q658.5,703.2 657.2,685.3 Q660.8,703.2 662.1,730 Z" fill="#c0f090" opacity="0.7"/>
<path d="M39.7,770.6 Q47.8,749.4 64.2,735.3 Q50.8,749.4 42.7,770.6 Z" fill="#8edc50" opacity="0.7"/>
<path d="M131.9,823.6 Q138.2,805.4 151,793.2 Q140.2,805.4 133.9,823.6 Z" fill="#8edc50" opacity="0.7"/>
<path d="M919.6,834.3 Q941.5,784 984,750.5 Q945,784 923,834.3 Z" fill="#b4ec7c" opacity="0.7"/>
<path d="M1728.2,815 Q1740.4,776.1 1764.3,750.2 Q1742.8,776.1 1730.6,815 Z" fill="#b4ec7c" opacity="0.7"/>
<path d="M2052.2,764.2 Q2053,737.9 2056.3,720.4 Q2056.5,737.9 2055.6,764.2 Z" fill="#c0f090" opacity="0.7"/>
<path d="M1877.3,810.3 Q1883.4,784 1896.1,766.4 Q1885.9,784 1879.7,810.3 Z" fill="#50b024" opacity="0.7"/>
<path d="M1217.6,817.8 Q1228.7,779.5 1251.4,754 Q1232.5,779.5 1221.4,817.8 Z" fill="#38901a" opacity="0.7"/>
<path d="M1466.1,730.9 Q1471.4,717.5 1482.4,708.7 Q1473.6,717.5 1468.3,730.9 Z" fill="#226a0c" opacity="0.7"/>
<path d="M271,835.2 Q265.7,793 257,764.9 Q268.3,793 273.7,835.2 Z" fill="#50b024" opacity="0.7"/>
<path d="M1122.8,731.1 Q1120,705.8 1115.9,688.8 Q1122.3,705.8 1125.2,731.1 Z" fill="#68c830" opacity="0.7"/>
<path d="M890.2,751.8 Q890.4,729.7 892.5,714.9 Q893.8,729.7 893.5,751.8 Z" fill="#b4ec7c" opacity="0.7"/>
<path d="M1066.8,721.9 Q1064.8,705.2 1062.4,694.1 Q1067.6,705.2 1069.7,721.9 Z" fill="#50b024" opacity="0.7"/>
<path d="M1831.2,784.6 Q1829.7,745.1 1828.2,718.8 Q1832.4,745.1 1833.9,784.6 Z" fill="#68c830" opacity="0.7"/>
<path d="M1214.9,843.4 Q1225.2,807.6 1245.5,783.8 Q1227.5,807.6 1217.2,843.4 Z" fill="#38901a" opacity="0.7"/>
<path d="M1517.1,775.3 Q1515.5,759.6 1513.8,749.1 Q1517.9,759.6 1519.5,775.3 Z" fill="#226a0c" opacity="0.7"/>
<path d="M1224.9,784 Q1225,753.2 1226.9,732.7 Q1228.6,753.2 1228.5,784 Z" fill="#8edc50" opacity="0.7"/>
<path d="M122.6,805.3 Q128.1,783.8 139.6,769.5 Q130.7,783.8 125.2,805.3 Z" fill="#78d040" opacity="0.7"/>
<path d="M527.2,816.4 Q528.3,768.7 531.9,736.9 Q531.5,768.7 530.4,816.4 Z" fill="#8edc50" opacity="0.7"/>
<path d="M1253.6,816.1 Q1254.6,784.9 1257.8,764.1 Q1257.2,784.9 1256.2,816.1 Z" fill="#2a7810" opacity="0.7"/>
<path d="M257.4,743.5 Q254.1,725.9 249.5,714.2 Q257.1,725.9 260.4,743.5 Z" fill="#b4ec7c" opacity="0.7"/>
<path d="M1429.3,763.2 Q1433.9,737.7 1444.2,720.7 Q1437.2,737.7 1432.6,763.2 Z" fill="#2a7810" opacity="0.7"/>
<path d="M1800.8,785 Q1798,747.2 1794.7,721.9 Q1801.9,747.2 1804.7,785 Z" fill="#38901a" opacity="0.7"/>
<path d="M1982.9,808.6 Q1975.4,772.4 1963.3,748.3 Q1978.9,772.4 1986.4,808.6 Z" fill="#a4e468" opacity="0.7"/>
<path d="M1660.3,833.9 Q1656.8,791.1 1652,762.6 Q1660,791.1 1663.5,833.9 Z" fill="#c0f090" opacity="0.7"/>
<path d="M1893.4,756.9 Q1902.4,735.1 1920.5,720.6 Q1905.2,735.1 1896.3,756.9 Z" fill="#68c830" opacity="0.7"/>
<path d="M1169.7,733.8 Q1167,718.8 1163.4,708.8 Q1170,718.8 1172.7,733.8 Z" fill="#c0f090" opacity="0.7"/>
<path d="M1263.1,785 Q1266.6,768 1274.3,756.7 Q1269.1,768 1265.7,785 Z" fill="#b4ec7c" opacity="0.7"/>
<path d="M1855.4,839.2 Q1867.7,799.8 1891.8,773.5 Q1870.1,799.8 1857.8,839.2 Z" fill="#226a0c" opacity="0.7"/>
<path d="M1541.2,778.7 Q1541.2,759.4 1542.2,746.6 Q1543.5,759.4 1543.6,778.7 Z" fill="#2a7810" opacity="0.7"/>
<path d="M1274.4,822.4 Q1278.7,796.6 1288.6,779.4 Q1282.3,796.6 1278,822.4 Z" fill="#2a7810" opacity="0.7"/>
<path d="M930.9,848.3 Q933,805.9 938.3,777.6 Q935.9,805.9 933.9,848.3 Z" fill="#50b024" opacity="0.7"/>
<path d="M1959.2,795.5 Q1960.7,755 1964.4,728 Q1962.9,755 1961.5,795.5 Z" fill="#a4e468" opacity="0.7"/>
<path d="M34.7,729.8 Q35.1,709.1 36.9,695.3 Q37.2,709.1 36.8,729.8 Z" fill="#c0f090" opacity="0.7"/>
<path d="M1253.4,740.9 Q1256.7,727.8 1264.1,719.2 Q1259.5,727.8 1256.3,740.9 Z" fill="#68c830" opacity="0.7"/>
<path d="M1555.3,826.2 Q1551.6,809 1546.5,797.6 Q1555.2,809 1558.9,826.2 Z" fill="#78d040" opacity="0.7"/>
<path d="M1729.8,815.7 Q1730.6,797.3 1733.9,785 Q1734,797.3 1733.2,815.7 Z" fill="#68c830" opacity="0.7"/>
<path d="M522.2,832 Q522.6,793.9 525.1,768.5 Q526.4,793.9 526,832 Z" fill="#b4ec7c" opacity="0.7"/>
<path d="M658.8,750.9 Q663.1,739.8 672.8,732.3 Q666.6,739.8 662.3,750.9 Z" fill="#44a01c" opacity="0.7"/>
<path d="M1692.3,721.6 Q1694.6,700.3 1700.7,686.1 Q1698.3,700.3 1696,721.6 Z" fill="#b4ec7c" opacity="0.7"/>
<path d="M32.2,740.1 Q26.3,712.8 17.1,694.5 Q29.8,712.8 35.7,740.1 Z" fill="#44a01c" opacity="0.7"/>
<path d="M1001.9,746.5 Q997.7,717.9 990.9,698.8 Q999.7,717.9 1004,746.5 Z" fill="#c0f090" opacity="0.7"/>
<path d="M2058.6,786.8 Q2059.5,772 2062.7,762.1 Q2062.4,772 2061.5,786.8 Z" fill="#226a0c" opacity="0.7"/>
<path d="M926.5,740.2 Q925.2,718.9 924.7,704.7 Q929,718.9 930.3,740.2 Z" fill="#2a7810" opacity="0.7"/>
<path d="M1027.5,721.7 Q1027.6,701.7 1029.6,688.4 Q1031.4,701.7 1031.4,721.7 Z" fill="#8edc50" opacity="0.7"/>
<path d="M646.6,787.7 Q645.8,758.8 645.9,739.5 Q649,758.8 649.8,787.7 Z" fill="#a4e468" opacity="0.7"/>
<path d="M1454.9,734.6 Q1459.9,723.6 1470.5,716.3 Q1462.5,723.6 1457.6,734.6 Z" fill="#a4e468" opacity="0.7"/>
<path d="M182.1,842.7 Q190,805.4 206.7,780.5 Q194,805.4 186.1,842.7 Z" fill="#68c830" opacity="0.7"/>
<path d="M618.1,811.2 Q630.8,769.9 655.8,742.3 Q633.7,769.9 621,811.2 Z" fill="#2a7810" opacity="0.7"/>
<path d="M2001.7,748.3 Q2007.6,717.8 2020.4,697.4 Q2011.2,717.8 2005.3,748.3 Z" fill="#c0f090" opacity="0.7"/>
<path d="M270.7,722.8 Q282.4,697.3 306,680.4 Q286.2,697.3 274.6,722.8 Z" fill="#68c830" opacity="0.7"/>
<path d="M211.8,722.6 Q218,705.2 230.5,693.6 Q220.4,705.2 214.2,722.6 Z" fill="#b4ec7c" opacity="0.7"/>
<path d="M45.2,726.4 Q49.6,709.5 59.3,698.2 Q52.8,709.5 48.4,726.4 Z" fill="#226a0c" opacity="0.7"/>
<path d="M1845.3,790.1 Q1851.9,761.7 1865.9,742.8 Q1855.2,761.7 1848.5,790.1 Z" fill="#c0f090" opacity="0.7"/>
<path d="M1740.8,724.5 Q1740,715.1 1740.3,708.8 Q1743.6,715.1 1744.4,724.5 Z" fill="#b4ec7c" opacity="0.7"/>
<path d="M298.6,849.5 Q294.9,803.4 290,772.7 Q298.6,803.4 302.2,849.5 Z" fill="#44a01c" opacity="0.7"/>
<path d="M745.4,776.1 Q754.2,747.4 771.6,728.2 Q756.4,747.4 747.6,776.1 Z" fill="#a4e468" opacity="0.7"/>
<path d="M1296.5,846.7 Q1299,826.6 1305.6,813.2 Q1302.9,826.6 1300.5,846.7 Z" fill="#a4e468" opacity="0.7"/>
<path d="M1874.7,747.1 Q1870.1,719.8 1863.6,701.6 Q1873.8,719.8 1878.4,747.1 Z" fill="#50b024" opacity="0.7"/>
<path d="M1787.5,760.9 Q1789.9,748.4 1795.6,740.1 Q1792.6,748.4 1790.2,760.9 Z" fill="#8edc50" opacity="0.7"/>
<path d="M729.5,837 Q727.1,795.7 724.4,768.1 Q730.4,795.7 732.7,837 Z" fill="#8edc50" opacity="0.7"/>
<path d="M640.1,753.3 Q642.9,739.5 649.6,730.3 Q645.9,739.5 643.1,753.3 Z" fill="#8edc50" opacity="0.7"/>
<path d="M1378.2,750.9 Q1378.3,737 1379.6,727.7 Q1380.4,737 1380.3,750.9 Z" fill="#a4e468" opacity="0.7"/>
<path d="M878,848.5 Q877.6,804.3 877.9,774.8 Q879.7,804.3 880.1,848.5 Z" fill="#78d040" opacity="0.7"/>
<path d="M2012.6,749 Q2022.8,722.9 2043.4,705.5 Q2026.3,722.9 2016.1,749 Z" fill="#8edc50" opacity="0.7"/>
<path d="M1584.1,797.7 Q1580.4,782 1574.7,771.5 Q1582.5,782 1586.1,797.7 Z" fill="#c0f090" opacity="0.7"/>
<path d="M1127.7,797.2 Q1133.7,782.4 1146.8,772.6 Q1137.6,782.4 1131.6,797.2 Z" fill="#8edc50" opacity="0.7"/>
<path d="M1667.7,779.8 Q1661.1,752.9 1650.6,735 Q1664.6,752.9 1671.1,779.8 Z" fill="#c0f090" opacity="0.7"/>
<path d="M1392.4,775.7 Q1387.8,758.8 1381.1,747.6 Q1391.6,758.8 1396.3,775.7 Z" fill="#38901a" opacity="0.7"/>
<path d="M905.6,743.1 Q902.6,725.5 897.9,713.8 Q904.7,725.5 907.7,743.1 Z" fill="#78d040" opacity="0.7"/>
<path d="M891.7,845.2 Q901.2,809.7 920.5,786.1 Q904.6,809.7 895.1,845.2 Z" fill="#78d040" opacity="0.7"/>
<path d="M1593.9,819.9 Q1599.4,772.3 1611.4,740.5 Q1602.9,772.3 1597.4,819.9 Z" fill="#2a7810" opacity="0.7"/>
<path d="M779.1,755.3 Q787.5,736.6 805,724.2 Q791.2,736.6 782.8,755.3 Z" fill="#a4e468" opacity="0.7"/>
<path d="M625.3,825.9 Q619.6,800.6 610.6,783.7 Q622.9,800.6 628.6,825.9 Z" fill="#c0f090" opacity="0.7"/>
<path d="M1196.2,802.6 Q1205.9,765.7 1225,741.2 Q1208.3,765.7 1198.7,802.6 Z" fill="#38901a" opacity="0.7"/>
<path d="M1563.1,816.7 Q1573.7,793.2 1595.1,777.6 Q1577.2,793.2 1566.6,816.7 Z" fill="#44a01c" opacity="0.7"/>
<path d="M452,848.9 Q467.6,812.6 497.8,788.4 Q470.2,812.6 454.6,848.9 Z" fill="#38901a" opacity="0.7"/>
<path d="M1111.4,721.2 Q1113.4,706.4 1119.1,696.6 Q1117.3,706.4 1115.2,721.2 Z" fill="#50b024" opacity="0.7"/>
<path d="M408.9,833.4 Q406.4,808.6 403.4,792.1 Q409.7,808.6 412.2,833.4 Z" fill="#a4e468" opacity="0.7"/>
<path d="M1173,844.3 Q1180.2,812.2 1195,790.7 Q1183.1,812.2 1175.9,844.3 Z" fill="#50b024" opacity="0.7"/>
<path d="M851.7,746.6 Q863.8,716.8 887.6,697 Q866.7,716.8 854.7,746.6 Z" fill="#2a7810" opacity="0.7"/>
<path d="M1231.1,784.3 Q1238.4,750.4 1253.5,727.7 Q1241.4,750.4 1234.1,784.3 Z" fill="#68c830" opacity="0.7"/>
<path d="M600.2,753.8 Q605.5,734.7 616.6,721.9 Q608.2,734.7 602.9,753.8 Z" fill="#50b024" opacity="0.7"/>
<path d="M1888.7,796.6 Q1888.3,754 1889.2,725.7 Q1891.4,754 1891.8,796.6 Z" fill="#8edc50" opacity="0.7"/>
<path d="M10.5,812.7 Q8.2,780.8 5.5,759.5 Q11.1,780.8 13.4,812.7 Z" fill="#226a0c" opacity="0.7"/>
<path d="M1160.5,779.7 Q1169.6,740.4 1187.8,714.1 Q1172.3,740.4 1163.2,779.7 Z" fill="#78d040" opacity="0.7"/>
<path d="M478.4,813.6 Q489,777.4 509.9,753.2 Q491.5,777.4 480.9,813.6 Z" fill="#b4ec7c" opacity="0.7"/>
<path d="M999.6,827.7 Q991.8,790.2 978.8,765.3 Q994.7,790.2 1002.5,827.7 Z" fill="#226a0c" opacity="0.7"/>
<path d="M1090.9,796.2 Q1089,776.8 1087.4,763.8 Q1092.6,776.8 1094.4,796.2 Z" fill="#2a7810" opacity="0.7"/>
<path d="M1099,802.7 Q1098.9,779.8 1100.1,764.5 Q1101.7,779.8 1101.8,802.7 Z" fill="#a4e468" opacity="0.7"/>
<path d="M1861.3,725.5 Q1864.6,716 1872.2,709.7 Q1867.6,716 1864.3,725.5 Z" fill="#b4ec7c" opacity="0.7"/>
<path d="M-18.9,745.2 Q-11.8,718.9 3,701.3 Q-8.8,718.9 -15.9,745.2 Z" fill="#50b024" opacity="0.7"/>
<path d="M1973,739.9 Q1971.3,714 1969.9,696.7 Q1974.7,714 1976.4,739.9 Z" fill="#78d040" opacity="0.7"/>
<path d="M1288.5,741.5 Q1291,725.3 1297,714.5 Q1293.8,725.3 1291.3,741.5 Z" fill="#a4e468" opacity="0.7"/>
<path d="M737.9,772.3 Q754.2,736.2 786.5,712.1 Q758,736.2 741.7,772.3 Z" fill="#50b024" opacity="0.7"/>
<path d="M494.9,808.7 Q491,771.3 485.3,746.3 Q494.2,771.3 498,808.7 Z" fill="#50b024" opacity="0.7"/>
<path d="M1108.7,758.5 Q1102.2,731.3 1091.3,713.1 Q1104.6,731.3 1111.1,758.5 Z" fill="#44a01c" opacity="0.7"/>
<path d="M408.7,727.4 Q408.1,699.8 409,681.4 Q411.9,699.8 412.5,727.4 Z" fill="#2a7810" opacity="0.7"/>
<path d="M332,812.1 Q339,790.4 353.7,775.9 Q342.4,790.4 335.4,812.1 Z" fill="#50b024" opacity="0.7"/>
<path d="M340,788.5 Q348.1,756.9 364.9,735.8 Q351.5,756.9 343.3,788.5 Z" fill="#38901a" opacity="0.7"/>
<path d="M729.9,768.2 Q723.5,742.8 712.5,725.9 Q725.6,742.8 732,768.2 Z" fill="#78d040" opacity="0.7"/>
<path d="M1465.8,775.3 Q1473.6,739.3 1489.5,715.3 Q1476.5,739.3 1468.7,775.3 Z" fill="#44a01c" opacity="0.7"/>
<path d="M225.5,796.3 Q236.8,755.8 259.5,728.8 Q240.1,755.8 228.8,796.3 Z" fill="#44a01c" opacity="0.7"/>
<path d="M1336.6,782 Q1336,755.9 1336.4,738.5 Q1338.8,755.9 1339.3,782 Z" fill="#8edc50" opacity="0.7"/>
<path d="M456.4,799.6 Q453.3,766.2 449.4,743.9 Q456.8,766.2 459.9,799.6 Z" fill="#44a01c" opacity="0.7"/>
<path d="M1649,750.6 Q1658.9,728 1678.8,712.9 Q1661.7,728 1651.7,750.6 Z" fill="#68c830" opacity="0.7"/>
<path d="M724.1,792.8 Q720.2,777.8 714.3,767.8 Q722.7,777.8 726.6,792.8 Z" fill="#2a7810" opacity="0.7"/>
<path d="M933.6,802.8 Q932,782.2 930.2,768.4 Q934.5,782.2 936.1,802.8 Z" fill="#b4ec7c" opacity="0.7"/>
<path d="M813.3,726.4 Q820.4,708.1 834.7,695.8 Q822.7,708.1 815.7,726.4 Z" fill="#a4e468" opacity="0.7"/>
<path d="M1235,794.2 Q1237.6,778.7 1244.3,768.3 Q1241.2,778.7 1238.6,794.2 Z" fill="#68c830" opacity="0.7"/>
<path d="M1346.3,751 Q1342,733.9 1335.6,722.4 Q1345.4,733.9 1349.7,751 Z" fill="#226a0c" opacity="0.7"/>
<path d="M1043.5,758.2 Q1034.5,724.1 1019.5,701.4 Q1037.7,724.1 1046.6,758.2 Z" fill="#c0f090" opacity="0.7"/>
<path d="M126.9,845.8 Q116.1,792 97.6,756.2 Q119.1,792 129.9,845.8 Z" fill="#b4ec7c" opacity="0.7"/>
<path d="M423.5,770.1 Q436.1,738.6 461.5,717.6 Q440.1,738.6 427.4,770.1 Z" fill="#a4e468" opacity="0.7"/>
<path d="M370.4,797.2 Q381.8,757.5 404.6,731 Q385,757.5 373.7,797.2 Z" fill="#8edc50" opacity="0.7"/>
<path d="M1979.2,759.4 Q1988.4,737.1 2007.2,722.3 Q1991.7,737.1 1982.5,759.4 Z" fill="#8edc50" opacity="0.7"/>
<path d="M1812.2,838.3 Q1810.8,795.5 1810.2,766.9 Q1814.5,795.5 1815.8,838.3 Z" fill="#226a0c" opacity="0.7"/>
<path d="M349.1,849.6 Q355.4,828 368.8,813.5 Q358.7,828 352.4,849.6 Z" fill="#226a0c" opacity="0.7"/>
<path d="M1024.9,846.4 Q1039.4,797.5 1068.2,764.8 Q1043,797.5 1028.4,846.4 Z" fill="#c0f090" opacity="0.7"/>
<path d="M985.4,757.4 Q992,730.5 1005.2,712.5 Q994.1,730.5 987.5,757.4 Z" fill="#38901a" opacity="0.7"/>
<path d="M1315.7,766.7 Q1308.5,739.6 1297.1,721.5 Q1312.4,739.6 1319.5,766.7 Z" fill="#44a01c" opacity="0.7"/>
<path d="M67.8,744.5 Q74.4,713.6 88.4,693 Q78.3,713.6 71.8,744.5 Z" fill="#b4ec7c" opacity="0.7"/>
<path d="M1515,737.4 Q1518.3,717.2 1525.6,703.7 Q1520.6,717.2 1517.3,737.4 Z" fill="#44a01c" opacity="0.7"/>
<path d="M1352,822.4 Q1348.9,792.8 1344.9,773 Q1352.3,792.8 1355.3,822.4 Z" fill="#2a7810" opacity="0.7"/>
<path d="M293.4,849.7 Q305.4,797.9 328.9,763.4 Q307.9,797.9 295.9,849.7 Z" fill="#a4e468" opacity="0.7"/>
<path d="M1213.3,795.8 Q1205.1,767.6 1191.3,748.7 Q1207.7,767.6 1215.8,795.8 Z" fill="#68c830" opacity="0.7"/>
<path d="M1755.1,819.5 Q1758.4,779.8 1765.9,753.3 Q1760.9,779.8 1757.6,819.5 Z" fill="#a4e468" opacity="0.7"/>
<path d="M1977.8,785.8 Q1978.3,764.3 1981,749.9 Q1981.7,764.3 1981.2,785.8 Z" fill="#a4e468" opacity="0.7"/>
<path d="M549.9,846.6 Q542.5,808.1 530.2,782.5 Q545.2,808.1 552.6,846.6 Z" fill="#c0f090" opacity="0.7"/>
<path d="M767.4,758.6 Q766.4,731.3 765.9,713.1 Q769.2,731.3 770.2,758.6 Z" fill="#38901a" opacity="0.7"/>
<path d="M332.7,795.7 Q332.9,777.1 334.4,764.6 Q335.5,777.1 335.3,795.7 Z" fill="#68c830" opacity="0.7"/>
<path d="M752.3,747 Q752.4,726.1 753.6,712.2 Q754.7,726.1 754.6,747 Z" fill="#b4ec7c" opacity="0.7"/>
<path d="M29.5,777.4 Q25.7,753.6 20.5,737.7 Q29.2,753.6 33,777.4 Z" fill="#b4ec7c" opacity="0.7"/>
<path d="M1009.4,751.3 Q1001.9,721.1 989.4,701 Q1004.6,721.1 1012.1,751.3 Z" fill="#a4e468" opacity="0.7"/>
<path d="M294.9,775.3 Q291.1,737.6 285.2,712.5 Q293.4,737.6 297.2,775.3 Z" fill="#2a7810" opacity="0.7"/>
<path d="M1452.2,749.9 Q1460.5,731.6 1477.9,719.4 Q1464.4,731.6 1456,749.9 Z" fill="#68c830" opacity="0.7"/>
<path d="M848.7,820.8 Q858.6,793.3 878.8,775 Q862.1,793.3 852.2,820.8 Z" fill="#a4e468" opacity="0.7"/>
<path d="M1864.2,727 Q1861.4,715.8 1857.7,708.3 Q1864,715.8 1866.7,727 Z" fill="#44a01c" opacity="0.7"/>
<path d="M809.8,738.3 Q808.6,711.6 807.6,693.8 Q811.1,711.6 812.4,738.3 Z" fill="#226a0c" opacity="0.7"/>
<path d="M100.8,799.2 Q100.9,757.1 102,729.1 Q103.1,757.1 103.1,799.2 Z" fill="#c0f090" opacity="0.7"/>
<path d="M815.9,758.2 Q811.6,727.4 804.7,706.9 Q813.6,727.4 817.9,758.2 Z" fill="#50b024" opacity="0.7"/>
<path d="M350.2,764.9 Q348.9,735 347.6,715.1 Q351.5,735 352.8,764.9 Z" fill="#a4e468" opacity="0.7"/>
<path d="M87.5,778.6 Q101.7,740.9 129.3,715.7 Q104.1,740.9 89.9,778.6 Z" fill="#38901a" opacity="0.7"/>
</g><g>
<path d="M642,1020.1 Q618.4,917.6 566.6,833.7 Q624.7,917.6 648.3,1020.1 Z" fill="#a4e468" opacity="0.8"/>
<path d="M256.6,937.1 Q240.6,863.6 206.3,803.5 Q246.9,863.6 262.9,937.1 Z" fill="#50b024" opacity="0.8"/>
<path d="M191.6,860.4 Q191.6,819.9 193.8,786.7 Q196.1,819.9 196.1,860.4 Z" fill="#44a01c" opacity="0.8"/>
<path d="M1087.9,937.3 Q1075.8,878.2 1052.8,829.9 Q1086.4,878.2 1098.5,937.3 Z" fill="#2a7810" opacity="0.8"/>
<path d="M1744,885.1 Q1738,829.4 1726.9,783.9 Q1743.9,829.4 1749.9,885.1 Z" fill="#50b024" opacity="0.8"/>
<path d="M730.3,867 Q728.3,830.4 727.9,800.6 Q736.8,830.4 738.8,867 Z" fill="#44a01c" opacity="0.8"/>
<path d="M257.5,872.9 Q263.1,836.1 278.8,806 Q268.5,836.1 262.9,872.9 Z" fill="#2a7810" opacity="0.8"/>
<path d="M1048,963.4 Q1061.7,893.9 1097.7,837 Q1069.4,893.9 1055.7,963.4 Z" fill="#38901a" opacity="0.8"/>
<path d="M1240.6,876.3 Q1236.9,833.1 1232.7,797.8 Q1245.9,833.1 1249.6,876.3 Z" fill="#2a7810" opacity="0.8"/>
<path d="M1398.5,882.6 Q1393.3,856.7 1384.4,835.5 Q1399.7,856.7 1404.9,882.6 Z" fill="#a4e468" opacity="0.8"/>
<path d="M175.9,962.7 Q168.4,909.7 156.2,866.4 Q178.8,909.7 186.3,962.7 Z" fill="#226a0c" opacity="0.8"/>
<path d="M470.7,937.4 Q476.8,894.4 493.4,859.2 Q481.6,894.4 475.5,937.4 Z" fill="#44a01c" opacity="0.8"/>
<path d="M1660.8,892 Q1644.8,809.9 1610.1,742.7 Q1650,809.9 1666,892 Z" fill="#68c830" opacity="0.8"/>
<path d="M491.3,978.9 Q515,898.3 573.4,832.4 Q521.1,898.3 497.4,978.9 Z" fill="#50b024" opacity="0.8"/>
<path d="M1182.8,978.4 Q1187.1,916.3 1202.7,865.5 Q1198.1,916.3 1193.8,978.4 Z" fill="#226a0c" opacity="0.8"/>
<path d="M1906.3,905.6 Q1903.4,854.5 1901.3,812.7 Q1912.7,854.5 1915.6,905.6 Z" fill="#2a7810" opacity="0.8"/>
<path d="M1350.8,897.7 Q1345.1,844 1335.5,800.2 Q1352.3,844 1358,897.7 Z" fill="#c0f090" opacity="0.8"/>
<path d="M733.8,1023.4 Q731.9,941.8 730.7,875.1 Q738.1,941.8 740,1023.4 Z" fill="#b4ec7c" opacity="0.8"/>
<path d="M570.6,964.1 Q563.7,924.9 551.9,892.8 Q572.2,924.9 579.1,964.1 Z" fill="#b4ec7c" opacity="0.8"/>
<path d="M1017.4,979.2 Q1025.9,921.9 1049.2,875 Q1032.8,921.9 1024.3,979.2 Z" fill="#8edc50" opacity="0.8"/>
<path d="M1329.8,968.3 Q1333.9,882.5 1346,812.2 Q1338.8,882.5 1334.7,968.3 Z" fill="#c0f090" opacity="0.8"/>
<path d="M476.7,1010.9 Q466.4,928.3 445.4,860.8 Q472.7,928.3 483,1010.9 Z" fill="#226a0c" opacity="0.8"/>
<path d="M333.7,999.5 Q354.4,914.7 406.6,845.4 Q362.3,914.7 341.6,999.5 Z" fill="#c0f090" opacity="0.8"/>
<path d="M823.6,868 Q844.9,801.3 899.1,746.8 Q854.1,801.3 832.8,868 Z" fill="#38901a" opacity="0.8"/>
<path d="M945.6,1002.3 Q959.6,939.3 994.7,887.7 Q964.3,939.3 950.3,1002.3 Z" fill="#c0f090" opacity="0.8"/>
<path d="M1895.6,875.4 Q1901.9,840.9 1920.7,812.6 Q1910.2,840.9 1903.8,875.4 Z" fill="#68c830" opacity="0.8"/>
<path d="M381.1,901 Q387.8,872.3 406.4,848.8 Q393.6,872.3 386.8,901 Z" fill="#226a0c" opacity="0.8"/>
<path d="M1113.7,881.1 Q1113.3,827.8 1116.6,784.3 Q1121.7,827.8 1122.1,881.1 Z" fill="#44a01c" opacity="0.8"/>
<path d="M1106.8,867.9 Q1103.3,801.2 1098,746.7 Q1108.8,801.2 1112.2,867.9 Z" fill="#a4e468" opacity="0.8"/>
<path d="M1812.5,1024.5 Q1802.6,959.3 1784.8,905.9 Q1813.4,959.3 1823.4,1024.5 Z" fill="#2a7810" opacity="0.8"/>
<path d="M1095.2,994.4 Q1096.6,937.9 1103.4,891.7 Q1104,937.9 1102.6,994.4 Z" fill="#c0f090" opacity="0.8"/>
<path d="M1744.5,989 Q1753.6,955.8 1777.6,928.7 Q1759.1,955.8 1750.1,989 Z" fill="#44a01c" opacity="0.8"/>
<path d="M1574.8,912.2 Q1587.9,830.3 1623.5,763.4 Q1597.8,830.3 1584.7,912.2 Z" fill="#a4e468" opacity="0.8"/>
<path d="M214.4,1008.6 Q211.9,959.7 208.5,919.7 Q216.8,959.7 219.3,1008.6 Z" fill="#78d040" opacity="0.8"/>
<path d="M1751.5,993.9 Q1766.7,894.8 1807.8,813.8 Q1777.9,894.8 1762.6,993.9 Z" fill="#78d040" opacity="0.8"/>
<path d="M1122.6,968.1 Q1138.6,879.4 1178.6,806.9 Q1143.8,879.4 1127.8,968.1 Z" fill="#8edc50" opacity="0.8"/>
<path d="M227.9,991.7 Q209.3,883 168.2,794.1 Q214.1,883 232.8,991.7 Z" fill="#c0f090" opacity="0.8"/>
<path d="M273.2,872 Q282.5,815 306.4,768.5 Q286.8,815 277.5,872 Z" fill="#8edc50" opacity="0.8"/>
<path d="M2038.4,941.9 Q2048.2,867.7 2075.1,807.1 Q2056.7,867.7 2047,941.9 Z" fill="#38901a" opacity="0.8"/>
<path d="M172.8,892 Q179,844.3 197.2,805.2 Q186.8,844.3 180.7,892 Z" fill="#78d040" opacity="0.8"/>
<path d="M101.1,982.5 Q93.2,945.9 77.9,916 Q99.7,945.9 107.6,982.5 Z" fill="#c0f090" opacity="0.8"/>
<path d="M1655.7,872.6 Q1656.1,847.7 1659.9,827.3 Q1661.8,847.7 1661.4,872.6 Z" fill="#44a01c" opacity="0.8"/>
<path d="M366.4,952.3 Q355.7,861.9 333.3,788 Q361.1,861.9 371.8,952.3 Z" fill="#78d040" opacity="0.8"/>
<path d="M510.8,925.3 Q503.1,869.3 490.3,823.5 Q513.6,869.3 521.3,925.3 Z" fill="#50b024" opacity="0.8"/>
<path d="M1218.7,1020.4 Q1213.6,914 1208.2,827 Q1226.5,914 1231.5,1020.4 Z" fill="#44a01c" opacity="0.8"/>
<path d="M621.1,964 Q648.2,880.3 716.6,811.9 Q658.8,880.3 631.8,964 Z" fill="#38901a" opacity="0.8"/>
<path d="M1704.6,1005.1 Q1737.8,898.1 1819.5,810.5 Q1746.8,898.1 1713.7,1005.1 Z" fill="#c0f090" opacity="0.8"/>
<path d="M436.6,864.6 Q428.7,821.5 414.5,786.2 Q437.1,821.5 444.9,864.6 Z" fill="#b4ec7c" opacity="0.8"/>
<path d="M2031,939.8 Q2048.7,869.6 2092.7,812.2 Q2054.1,869.6 2036.4,939.8 Z" fill="#68c830" opacity="0.8"/>
<path d="M481.3,928.6 Q495.6,871.1 534.2,824 Q505.8,871.1 491.5,928.6 Z" fill="#8edc50" opacity="0.8"/>
<path d="M2008.2,995.9 Q2012.1,941 2026,896.1 Q2021.6,941 2017.7,995.9 Z" fill="#8edc50" opacity="0.8"/>
<path d="M1186.6,997.6 Q1208.1,898.1 1262.1,816.6 Q1215.9,898.1 1194.4,997.6 Z" fill="#b4ec7c" opacity="0.8"/>
<path d="M59.7,911.7 Q69.1,835 93.3,772.3 Q73.5,835 64.1,911.7 Z" fill="#38901a" opacity="0.8"/>
<path d="M1755.1,984.6 Q1749.7,927.5 1740.7,880.8 Q1757.1,927.5 1762.5,984.6 Z" fill="#a4e468" opacity="0.8"/>
<path d="M1260.4,973.9 Q1266.8,941.2 1286.9,914.4 Q1276.9,941.2 1270.4,973.9 Z" fill="#8edc50" opacity="0.8"/>
<path d="M1701.1,938.4 Q1706.3,889.4 1723,849.3 Q1715.6,889.4 1710.5,938.4 Z" fill="#50b024" opacity="0.8"/>
<path d="M202.6,866.3 Q198.1,807 191.2,758.6 Q205.1,807 209.6,866.3 Z" fill="#50b024" opacity="0.8"/>
<path d="M1148.6,961.2 Q1131.7,866.6 1095.7,789.2 Q1138.6,866.6 1155.5,961.2 Z" fill="#c0f090" opacity="0.8"/>
<path d="M619.1,910.1 Q611.8,856.8 598.3,813.2 Q618.8,856.8 626.1,910.1 Z" fill="#68c830" opacity="0.8"/>
<path d="M1579.8,937.2 Q1560.7,856.4 1520.6,790.4 Q1569.2,856.4 1588.2,937.2 Z" fill="#44a01c" opacity="0.8"/>
<path d="M196.8,945.5 Q208.7,871.6 242.1,811.2 Q219.8,871.6 207.8,945.5 Z" fill="#8edc50" opacity="0.8"/>
<path d="M-18.9,908.6 Q-27.7,839.2 -43.7,782.4 Q-18.5,839.2 -9.6,908.6 Z" fill="#78d040" opacity="0.8"/>
<path d="M199.7,884 Q196.6,838.5 192.8,801.4 Q203.3,838.5 206.4,884 Z" fill="#44a01c" opacity="0.8"/>
<path d="M742.5,952.4 Q753.1,852.3 783.1,770.5 Q763.7,852.3 753.1,952.4 Z" fill="#226a0c" opacity="0.8"/>
<path d="M330.8,954.1 Q327.1,918.8 322.7,889.9 Q335.7,918.8 339.4,954.1 Z" fill="#a4e468" opacity="0.8"/>
<path d="M1457.2,894.2 Q1455.3,808.3 1453.3,738 Q1460.2,808.3 1462.1,894.2 Z" fill="#8edc50" opacity="0.8"/>
<path d="M1658.7,1004.6 Q1647.3,906.7 1624.6,826.6 Q1655.2,906.7 1666.6,1004.6 Z" fill="#c0f090" opacity="0.8"/>
<path d="M882.4,948 Q909.6,850.1 978.7,770 Q920.9,850.1 893.7,948 Z" fill="#226a0c" opacity="0.8"/>
<path d="M1689.6,984 Q1715.7,894.8 1781.8,821.8 Q1726.1,894.8 1700,984 Z" fill="#50b024" opacity="0.8"/>
<path d="M1278.9,906.2 Q1293.1,855.4 1330.9,813.7 Q1302.5,855.4 1288.3,906.2 Z" fill="#a4e468" opacity="0.8"/>
<path d="M559.4,983.2 Q553.4,939.5 543.7,903.7 Q561.8,939.5 567.7,983.2 Z" fill="#38901a" opacity="0.8"/>
<path d="M155.1,862.8 Q162.1,829.5 182.2,802.2 Q169.5,829.5 162.4,862.8 Z" fill="#50b024" opacity="0.8"/>
<path d="M1809.7,876.4 Q1805.2,849.9 1798.7,828.2 Q1813.1,849.9 1817.6,876.4 Z" fill="#a4e468" opacity="0.8"/>
<path d="M36,939.8 Q52.5,887.8 93.4,845.2 Q57,887.8 40.4,939.8 Z" fill="#68c830" opacity="0.8"/>
<path d="M350.4,860.3 Q357.3,819.9 377.4,786.9 Q365.2,819.9 358.3,860.3 Z" fill="#44a01c" opacity="0.8"/>
<path d="M1379.3,951.7 Q1369.2,898 1348.5,854.1 Q1374.7,898 1384.8,951.7 Z" fill="#226a0c" opacity="0.8"/>
<path d="M168.4,870.1 Q187,797.2 232.7,737.5 Q191.8,797.2 173.2,870.1 Z" fill="#b4ec7c" opacity="0.8"/>
<path d="M876.2,886.4 Q892.4,834.7 933,792.4 Q898.4,834.7 882.3,886.4 Z" fill="#78d040" opacity="0.8"/>
<path d="M1378,908.1 Q1391.8,841 1426.5,786.1 Q1396.5,841 1382.7,908.1 Z" fill="#c0f090" opacity="0.8"/>
<path d="M1250.4,985.8 Q1232.4,896.9 1195.1,824.1 Q1241.6,896.9 1259.6,985.8 Z" fill="#44a01c" opacity="0.8"/>
<path d="M1199.6,982.8 Q1220.7,889.6 1273.1,813.4 Q1227,889.6 1205.9,982.8 Z" fill="#38901a" opacity="0.8"/>
<path d="M765.3,922.3 Q768.9,863.2 779.8,814.9 Q773.9,863.2 770.3,922.3 Z" fill="#226a0c" opacity="0.8"/>
<path d="M1189.7,911.8 Q1181.3,877.7 1166.8,849.8 Q1191.3,877.7 1199.6,911.8 Z" fill="#68c830" opacity="0.8"/>
<path d="M940.5,1002.6 Q958.9,945.7 1006.7,899.2 Q968.2,945.7 949.7,1002.6 Z" fill="#78d040" opacity="0.8"/>
<path d="M1808.5,1020.5 Q1813.9,955.1 1829.2,901.6 Q1819.4,955.1 1814,1020.5 Z" fill="#2a7810" opacity="0.8"/>
<path d="M1711.3,960.2 Q1702.3,905.9 1685.1,861.5 Q1709.8,905.9 1718.7,960.2 Z" fill="#38901a" opacity="0.8"/>
<path d="M724.5,913.5 Q715.3,845.7 698.5,790.1 Q724.8,845.7 734.1,913.5 Z" fill="#2a7810" opacity="0.8"/>
<path d="M1026,948.7 Q1045.4,875.1 1096.1,815 Q1056.1,875.1 1036.7,948.7 Z" fill="#50b024" opacity="0.8"/>
<path d="M1712.6,971.1 Q1735,890.5 1790,824.6 Q1740.4,890.5 1718,971.1 Z" fill="#38901a" opacity="0.8"/>
<path d="M805,873.8 Q790.6,793.4 760.6,727.7 Q797.7,793.4 812,873.8 Z" fill="#44a01c" opacity="0.8"/>
<path d="M1774.4,989.5 Q1777.3,955.8 1787.8,928.4 Q1784.6,955.8 1781.7,989.5 Z" fill="#226a0c" opacity="0.8"/>
<path d="M1774.6,875.1 Q1784.1,843.1 1809.5,816.9 Q1790.6,843.1 1781.1,875.1 Z" fill="#a4e468" opacity="0.8"/>
<path d="M1034.5,874.9 Q1030.1,843 1022.2,816.8 Q1034.6,843 1039,874.9 Z" fill="#b4ec7c" opacity="0.8"/>
<path d="M402.9,969 Q399.4,910.1 394.9,861.9 Q406.7,910.1 410.2,969 Z" fill="#50b024" opacity="0.8"/>
<path d="M19.2,969.7 Q50.1,870.8 128.2,789.9 Q61.9,870.8 30.9,969.7 Z" fill="#b4ec7c" opacity="0.8"/>
<path d="M969.9,984.6 Q974.3,909.8 987.6,848.7 Q980.2,909.8 975.7,984.6 Z" fill="#a4e468" opacity="0.8"/>
<path d="M1303.4,926.1 Q1292.4,875.7 1269.5,834.4 Q1298.1,875.7 1309.1,926.1 Z" fill="#44a01c" opacity="0.8"/>
<path d="M327.2,1001.7 Q322.4,966.8 314.9,938.3 Q330,966.8 334.9,1001.7 Z" fill="#c0f090" opacity="0.8"/>
<path d="M739.5,923.3 Q737.6,871.9 737,829.8 Q745.3,871.9 747.2,923.3 Z" fill="#a4e468" opacity="0.8"/>
<path d="M881.1,945 Q867.3,863.2 838.9,796.3 Q874.8,863.2 888.5,945 Z" fill="#c0f090" opacity="0.8"/>
<path d="M70.8,909.8 Q51.7,827.7 10.2,760.6 Q58,827.7 77.2,909.8 Z" fill="#68c830" opacity="0.8"/>
<path d="M1868.9,998.2 Q1868.1,896.9 1869.3,814.1 Q1874.3,896.9 1875.1,998.2 Z" fill="#78d040" opacity="0.8"/>
<path d="M1484.5,944.1 Q1471.1,869 1444.3,807.5 Q1480.4,869 1493.8,944.1 Z" fill="#a4e468" opacity="0.8"/>
<path d="M746.7,918.1 Q742.8,889.7 736.3,866.4 Q748.1,889.7 752,918.1 Z" fill="#b4ec7c" opacity="0.8"/>
<path d="M997,949.4 Q1008.1,887 1037.9,835.9 Q1016.2,887 1005.2,949.4 Z" fill="#78d040" opacity="0.8"/>
<path d="M1917.4,892.8 Q1926.8,857.8 1952.7,829.2 Q1934.9,857.8 1925.5,892.8 Z" fill="#226a0c" opacity="0.8"/>
<path d="M2016.4,945.8 Q2023.8,897.9 2046.5,858.7 Q2034.4,897.9 2027,945.8 Z" fill="#8edc50" opacity="0.8"/>
<path d="M1023,917.1 Q1029.9,852.4 1051.5,799.3 Q1040.5,852.4 1033.6,917.1 Z" fill="#78d040" opacity="0.8"/>
<path d="M1802.5,918.8 Q1811,879.4 1833.8,847.2 Q1816.7,879.4 1808.2,918.8 Z" fill="#a4e468" opacity="0.8"/>
<path d="M156.6,929 Q157.4,883.5 163.1,846.4 Q165.2,883.5 164.5,929 Z" fill="#c0f090" opacity="0.8"/>
<path d="M1304.4,885.1 Q1317,799.8 1349.5,729.9 Q1323.2,799.8 1310.6,885.1 Z" fill="#226a0c" opacity="0.8"/>
<path d="M388.7,892.7 Q386.8,815.6 385.1,752.6 Q392.3,815.6 394.2,892.7 Z" fill="#50b024" opacity="0.8"/>
<path d="M1534.4,1016.2 Q1536.3,911.2 1543.4,825.2 Q1541.8,911.2 1539.9,1016.2 Z" fill="#38901a" opacity="0.8"/>
<path d="M43.3,953.5 Q57.4,863.1 95.4,789.1 Q67.8,863.1 53.7,953.5 Z" fill="#8edc50" opacity="0.8"/>
<path d="M1331.2,900.5 Q1317.6,837.8 1290.2,786.4 Q1326.2,837.8 1339.7,900.5 Z" fill="#2a7810" opacity="0.8"/>
<path d="M1874,909.2 Q1878,879 1891.6,854.2 Q1886.5,879 1882.4,909.2 Z" fill="#44a01c" opacity="0.8"/>
<path d="M970.7,956.1 Q983,866 1017.3,792.3 Q994.1,866 981.8,956.1 Z" fill="#44a01c" opacity="0.8"/>
<path d="M598.9,1014.1 Q599.7,911.7 604.9,827.9 Q606.2,911.7 605.4,1014.1 Z" fill="#c0f090" opacity="0.8"/>
<path d="M-6.5,997.5 Q-20.4,933.1 -48.6,880.4 Q-12.1,933.1 1.8,997.5 Z" fill="#78d040" opacity="0.8"/>
<path d="M1130.1,883.5 Q1140.1,817.3 1166.4,763.1 Q1145.9,817.3 1135.9,883.5 Z" fill="#226a0c" opacity="0.8"/>
<path d="M6.2,977.1 Q14.9,905.4 38.3,846.8 Q21.1,905.4 12.5,977.1 Z" fill="#78d040" opacity="0.8"/>
<path d="M1085.2,1022.2 Q1068.6,948.5 1032.6,888.2 Q1074.5,948.5 1091.2,1022.2 Z" fill="#2a7810" opacity="0.8"/>
<path d="M110.3,922.7 Q120.2,833 146.7,759.7 Q126.8,833 116.8,922.7 Z" fill="#2a7810" opacity="0.8"/>
<path d="M1308.8,965.8 Q1308.5,900.3 1312,846.7 Q1316.7,900.3 1317,965.8 Z" fill="#44a01c" opacity="0.8"/>
<path d="M1907.8,971.3 Q1900.8,937.5 1889.2,909.8 Q1910.2,937.5 1917.2,971.3 Z" fill="#78d040" opacity="0.8"/>
<path d="M1791.4,934.3 Q1799.8,850.2 1821.2,781.4 Q1803.8,850.2 1795.5,934.3 Z" fill="#38901a" opacity="0.8"/>
<path d="M766.8,994.1 Q772.8,945.5 791.7,905.8 Q782.5,945.5 776.5,994.1 Z" fill="#8edc50" opacity="0.8"/>
<path d="M244.3,889.6 Q254.6,829.5 280.4,780.3 Q258.4,829.5 248.1,889.6 Z" fill="#2a7810" opacity="0.8"/>
<path d="M990.2,909.2 Q990.2,865.4 995.5,829.7 Q1000.6,865.4 1000.5,909.2 Z" fill="#78d040" opacity="0.8"/>
<path d="M1955.7,918.4 Q1953.4,880.1 1953.1,848.7 Q1963.7,880.1 1966.1,918.4 Z" fill="#44a01c" opacity="0.8"/>
<path d="M196,982.2 Q207.6,907.3 239.4,845.9 Q216.8,907.3 205.1,982.2 Z" fill="#b4ec7c" opacity="0.8"/>
<path d="M1261.3,1019 Q1248.9,934.4 1224.5,865.2 Q1258,934.4 1270.4,1019 Z" fill="#44a01c" opacity="0.8"/>
<path d="M778,868.1 Q785.2,804.5 805,752.5 Q791.2,804.5 784.1,868.1 Z" fill="#44a01c" opacity="0.8"/>
<path d="M902.5,949.3 Q914,913 944.4,883.2 Q920.9,913 909.4,949.3 Z" fill="#b4ec7c" opacity="0.8"/>
<path d="M546.9,867.2 Q536.6,812.3 515.5,767.3 Q542.4,812.3 552.7,867.2 Z" fill="#44a01c" opacity="0.8"/>
<path d="M1443.2,916.9 Q1447.4,857.4 1461.3,808.8 Q1455.2,857.4 1450.9,916.9 Z" fill="#226a0c" opacity="0.8"/>
<path d="M629.5,862.9 Q629.8,799.3 633.5,747.3 Q635.7,799.3 635.4,862.9 Z" fill="#68c830" opacity="0.8"/>
<path d="M1560.2,864.9 Q1550.6,785.7 1532.6,720.9 Q1559.2,785.7 1568.8,864.9 Z" fill="#50b024" opacity="0.8"/>
<path d="M60.5,913 Q62.1,845.8 69.9,790.8 Q70.4,845.8 68.8,913 Z" fill="#44a01c" opacity="0.8"/>
<path d="M1664.5,868.5 Q1662.9,831.4 1663,801 Q1670.7,831.4 1672.3,868.5 Z" fill="#2a7810" opacity="0.8"/>
<path d="M703,978.1 Q681.3,874 636,788.8 Q692.1,874 713.8,978.1 Z" fill="#50b024" opacity="0.8"/>
<path d="M1183.1,977.8 Q1178.8,905.7 1173.2,846.7 Q1187.6,905.7 1191.9,977.8 Z" fill="#226a0c" opacity="0.8"/>
<path d="M665.2,978.2 Q650.6,915.3 619.4,863.8 Q656.2,915.3 670.8,978.2 Z" fill="#68c830" opacity="0.8"/>
<path d="M1127.4,995.5 Q1152.6,916.8 1215,852.5 Q1159.9,916.8 1134.7,995.5 Z" fill="#8edc50" opacity="0.8"/>
<path d="M1047.5,864.3 Q1053.7,807 1071.8,760.2 Q1061.1,807 1054.9,864.3 Z" fill="#68c830" opacity="0.8"/>
<path d="M1771.5,902.5 Q1782.1,862.3 1811.6,829.4 Q1791.8,862.3 1781.2,902.5 Z" fill="#68c830" opacity="0.8"/>
<path d="M433.9,918.7 Q427,883.2 414.8,854 Q434.9,883.2 441.8,918.7 Z" fill="#c0f090" opacity="0.8"/>
<path d="M1701,872.9 Q1702.5,837.6 1710.2,808.8 Q1711.1,837.6 1709.6,872.9 Z" fill="#78d040" opacity="0.8"/>
<path d="M1697.9,908.2 Q1704.4,852.3 1722.1,806.5 Q1709.4,852.3 1702.9,908.2 Z" fill="#8edc50" opacity="0.8"/>
<path d="M128,979.4 Q138.3,905.6 165.6,845.2 Q144.6,905.6 134.3,979.4 Z" fill="#78d040" opacity="0.8"/>
<path d="M804.7,1007.5 Q797.1,952.6 782.4,907.7 Q802.9,952.6 810.4,1007.5 Z" fill="#2a7810" opacity="0.8"/>
<path d="M1032.1,931.7 Q1018,846.5 987.7,776.8 Q1022.8,846.5 1036.8,931.7 Z" fill="#44a01c" opacity="0.8"/>
<path d="M244.2,990.9 Q273.3,891.9 344.2,811 Q279.3,891.9 250.1,990.9 Z" fill="#68c830" opacity="0.8"/>
<path d="M148.6,878.4 Q138.1,833.1 117.8,796 Q146.4,833.1 156.9,878.4 Z" fill="#50b024" opacity="0.8"/>
<path d="M1409.2,1000 Q1394,918.1 1363.1,851 Q1403,918.1 1418.2,1000 Z" fill="#8edc50" opacity="0.8"/>
<path d="M1112.3,1007.4 Q1105.3,931.5 1091.5,869.5 Q1110.6,931.5 1117.7,1007.4 Z" fill="#50b024" opacity="0.8"/>
<path d="M1444.1,895.7 Q1447.1,814.9 1458,748.8 Q1455.3,814.9 1452.4,895.7 Z" fill="#c0f090" opacity="0.8"/>
<path d="M851,927.1 Q851.9,865.3 857.3,814.8 Q858,865.3 857,927.1 Z" fill="#50b024" opacity="0.8"/>
<path d="M1872.9,1013.3 Q1894.2,936.7 1946.2,873.9 Q1899,936.7 1877.7,1013.3 Z" fill="#2a7810" opacity="0.8"/>
<path d="M81.3,1003.2 Q94.5,956.6 129.7,918.4 Q103.4,956.6 90.2,1003.2 Z" fill="#a4e468" opacity="0.8"/>
<path d="M1172.9,932.5 Q1183.3,851.8 1212.8,785.8 Q1193.7,851.8 1183.3,932.5 Z" fill="#8edc50" opacity="0.8"/>
<path d="M1847.3,1024.4 Q1839.5,979.5 1827,942.7 Q1850.7,979.5 1858.4,1024.4 Z" fill="#a4e468" opacity="0.8"/>
<path d="M585.4,917.5 Q597.7,830.2 629.1,758.6 Q602.6,830.2 590.3,917.5 Z" fill="#8edc50" opacity="0.8"/>
<path d="M1394.8,993.4 Q1398.4,916.2 1412.9,853 Q1410.9,916.2 1407.4,993.4 Z" fill="#68c830" opacity="0.8"/>
<path d="M1048.3,896.8 Q1056.3,866.3 1078.8,841.4 Q1064,866.3 1056,896.8 Z" fill="#38901a" opacity="0.8"/>
<path d="M1708,910.9 Q1704.3,837.9 1698.3,778.3 Q1709.3,837.9 1712.9,910.9 Z" fill="#50b024" opacity="0.8"/>
<path d="M1723.6,1013.6 Q1701.8,918.7 1657.1,841.1 Q1714.5,918.7 1736.4,1013.6 Z" fill="#c0f090" opacity="0.8"/>
<path d="M1763.9,894.6 Q1774.3,856.4 1801.7,825.2 Q1780.3,856.4 1769.9,894.6 Z" fill="#68c830" opacity="0.8"/>
<path d="M1647.7,913.5 Q1648.6,868.7 1655,832 Q1656.9,868.7 1656,913.5 Z" fill="#c0f090" opacity="0.8"/>
<path d="M503.4,1004.8 Q517.7,953.5 556.4,911.5 Q528.4,953.5 514.1,1004.8 Z" fill="#8edc50" opacity="0.8"/>
<path d="M1358.9,980.4 Q1359.4,880.1 1366.7,798 Q1371.3,880.1 1370.7,980.4 Z" fill="#226a0c" opacity="0.8"/>
<path d="M1040.1,984.8 Q1029,924.6 1007.1,875.3 Q1037.3,924.6 1048.4,984.8 Z" fill="#b4ec7c" opacity="0.8"/>
<path d="M2046.5,945.2 Q2040.1,896.6 2027.1,856.8 Q2044.3,896.6 2050.7,945.2 Z" fill="#8edc50" opacity="0.8"/>
<path d="M1057.4,926.6 Q1069,887.2 1099,854.9 Q1074.9,887.2 1063.3,926.6 Z" fill="#44a01c" opacity="0.8"/>
<path d="M2025,1016.6 Q2023.6,960 2026.6,913.7 Q2036.5,960 2038,1016.6 Z" fill="#44a01c" opacity="0.8"/>
<path d="M600.7,874.1 Q616.3,794.4 656.8,729.2 Q624.8,794.4 609.3,874.1 Z" fill="#44a01c" opacity="0.8"/>
<path d="M1252.3,937 Q1243,848.5 1225.9,776.1 Q1252.1,848.5 1261.5,937 Z" fill="#b4ec7c" opacity="0.8"/>
<path d="M1272.7,969.7 Q1274.4,879.8 1283,806.3 Q1283.7,879.8 1282,969.7 Z" fill="#50b024" opacity="0.8"/>
<path d="M1284.4,869.4 Q1298.1,818.1 1334,776.2 Q1305.8,818.1 1292.1,869.4 Z" fill="#c0f090" opacity="0.8"/>
<path d="M1537.3,879.2 Q1539.9,846 1548.6,818.9 Q1544.9,846 1542.3,879.2 Z" fill="#68c830" opacity="0.8"/>
<path d="M1906.6,1018.7 Q1923.3,964 1964.9,919.3 Q1928.7,964 1912,1018.7 Z" fill="#44a01c" opacity="0.8"/>
<path d="M463,1002.3 Q463.6,923.7 468.1,859.4 Q470.2,923.7 469.7,1002.3 Z" fill="#38901a" opacity="0.8"/>
<path d="M1092.4,869.4 Q1074.8,788.5 1035.6,722.2 Q1078.3,788.5 1095.9,869.4 Z" fill="#68c830" opacity="0.8"/>
<path d="M1219.6,935.5 Q1214,880.2 1206,834.9 Q1224,880.2 1229.6,935.5 Z" fill="#2a7810" opacity="0.8"/>
<path d="M305.9,915 Q317.3,876.7 348.9,845.3 Q327.4,876.7 316,915 Z" fill="#68c830" opacity="0.8"/>
<path d="M211.1,998.9 Q226.6,942.4 268.3,896.2 Q237.4,942.4 221.9,998.9 Z" fill="#8edc50" opacity="0.8"/>
<path d="M1076.5,912.7 Q1091.3,853.1 1130.2,804.4 Q1100.3,853.1 1085.6,912.7 Z" fill="#78d040" opacity="0.8"/>
<path d="M281.1,1003.7 Q279.5,964 282,931.5 Q291.8,964 293.4,1003.7 Z" fill="#44a01c" opacity="0.8"/>
<path d="M1547.9,988.2 Q1553.9,942.6 1570.6,905.4 Q1559.6,942.6 1553.7,988.2 Z" fill="#a4e468" opacity="0.8"/>
<path d="M1896.6,881.5 Q1894.4,814.7 1893,760.1 Q1902,814.7 1904.2,881.5 Z" fill="#8edc50" opacity="0.8"/>
<path d="M1170.3,932.4 Q1163.7,900.7 1152.6,874.7 Q1172,900.7 1178.6,932.4 Z" fill="#a4e468" opacity="0.8"/>
<path d="M470.4,1006.5 Q445.2,898.2 390.5,809.7 Q453.7,898.2 479,1006.5 Z" fill="#68c830" opacity="0.8"/>
<path d="M1375.8,974.5 Q1367.7,882.3 1353.4,806.8 Q1377.1,882.3 1385.3,974.5 Z" fill="#50b024" opacity="0.8"/>
<path d="M636.7,877.2 Q630.9,850.8 622.3,829.2 Q640.6,850.8 646.3,877.2 Z" fill="#68c830" opacity="0.8"/>
<path d="M1577.5,976.4 Q1590.9,920.9 1627.5,875.6 Q1601.8,920.9 1588.4,976.4 Z" fill="#226a0c" opacity="0.8"/>
<path d="M29,928.2 Q36.5,869.1 58.9,820.7 Q45.9,869.1 38.3,928.2 Z" fill="#2a7810" opacity="0.8"/>
<path d="M1718,887.2 Q1713.4,822.7 1706.9,770 Q1721.7,822.7 1726.3,887.2 Z" fill="#b4ec7c" opacity="0.8"/>
<path d="M1755.7,949.6 Q1748.2,899.2 1736.4,858.1 Q1759.5,899.2 1767,949.6 Z" fill="#a4e468" opacity="0.8"/>
<path d="M1934.4,870.8 Q1923.3,815.3 1902,769.8 Q1932.7,815.3 1943.8,870.8 Z" fill="#50b024" opacity="0.8"/>
<path d="M222.5,1007.6 Q215.6,964 203.6,928.4 Q223.6,964 230.5,1007.6 Z" fill="#226a0c" opacity="0.8"/>
<path d="M692.2,898.3 Q686.2,825.4 677.2,765.7 Q696.4,825.4 702.4,898.3 Z" fill="#78d040" opacity="0.8"/>
<path d="M253.2,940.9 Q258.9,898 276.6,862.9 Q267.7,898 262,940.9 Z" fill="#44a01c" opacity="0.8"/>
<path d="M146.8,949.7 Q151,889 163.5,839.4 Q156.4,889 152.2,949.7 Z" fill="#50b024" opacity="0.8"/>
<path d="M1457.5,912.4 Q1481.2,838.8 1541.4,778.6 Q1490.9,838.8 1467.1,912.4 Z" fill="#44a01c" opacity="0.8"/>
<path d="M736.5,968.4 Q732.8,910.2 728.6,862.6 Q741.5,910.2 745.2,968.4 Z" fill="#226a0c" opacity="0.8"/>
<path d="M412.8,910.5 Q406.4,835.4 394.4,774 Q412.2,835.4 418.6,910.5 Z" fill="#c0f090" opacity="0.8"/>
<path d="M360.8,885.3 Q350.7,839.6 331.7,802.2 Q359.8,839.6 369.8,885.3 Z" fill="#8edc50" opacity="0.8"/>
<path d="M1705.4,904.3 Q1731.8,816 1795.3,743.7 Q1735.6,816 1709.2,904.3 Z" fill="#b4ec7c" opacity="0.8"/>
<path d="M1973.5,927.9 Q1982.4,889 2008.4,857.1 Q1993,889 1984.1,927.9 Z" fill="#44a01c" opacity="0.8"/>
<path d="M1762.8,972.9 Q1742.4,884.9 1698.2,813 Q1749.4,884.9 1769.8,972.9 Z" fill="#50b024" opacity="0.8"/>
<path d="M1016.2,874.3 Q1034.6,817.8 1081.6,771.6 Q1043,817.8 1024.7,874.3 Z" fill="#c0f090" opacity="0.8"/>
<path d="M893.2,965 Q894.6,866.3 901.9,785.4 Q902.9,866.3 901.5,965 Z" fill="#68c830" opacity="0.8"/>
<path d="M919.4,930.7 Q932.9,886.8 969.6,850.8 Q943.7,886.8 930.3,930.7 Z" fill="#226a0c" opacity="0.8"/>
<path d="M926.1,930.7 Q926,880.5 930.5,839.4 Q935.8,880.5 936,930.7 Z" fill="#38901a" opacity="0.8"/>
<path d="M450.6,1011.3 Q473.8,902.9 532.9,814.2 Q483.9,902.9 460.8,1011.3 Z" fill="#78d040" opacity="0.8"/>
<path d="M1939.7,1014.8 Q1929.2,950.2 1910.1,897.2 Q1940,950.2 1950.5,1014.8 Z" fill="#50b024" opacity="0.8"/>
<path d="M1272.2,866.1 Q1265.7,833.3 1252.8,806.4 Q1270.3,833.3 1276.8,866.1 Z" fill="#8edc50" opacity="0.8"/>
<path d="M518.9,885.6 Q525.9,817.7 545.7,762.2 Q532.5,817.7 525.5,885.6 Z" fill="#226a0c" opacity="0.8"/>
<path d="M2019.6,928.6 Q2035,862.3 2073.4,808.1 Q2039.8,862.3 2024.3,928.6 Z" fill="#226a0c" opacity="0.8"/>
<path d="M581.8,990.8 Q591.8,918.7 620.8,859.8 Q602.9,918.7 592.9,990.8 Z" fill="#78d040" opacity="0.8"/>
<path d="M1281.3,982.7 Q1304.6,891.7 1365,817.2 Q1316.6,891.7 1293.3,982.7 Z" fill="#a4e468" opacity="0.8"/>
<path d="M829.4,965.6 Q849.2,872.1 898.1,795.6 Q854.4,872.1 834.5,965.6 Z" fill="#44a01c" opacity="0.8"/>
<path d="M608.7,982.3 Q604.7,880.7 600.8,797.6 Q615.3,880.7 619.2,982.3 Z" fill="#78d040" opacity="0.8"/>
<path d="M715.8,882.9 Q741.1,799.7 804.2,731.5 Q749,799.7 723.6,882.9 Z" fill="#44a01c" opacity="0.8"/>
<path d="M739.3,874.1 Q752.1,830.8 784.5,795.4 Q757,830.8 744.1,874.1 Z" fill="#226a0c" opacity="0.8"/>
<path d="M496.6,910.5 Q487.4,858.7 468.2,816.4 Q491.6,858.7 500.8,910.5 Z" fill="#c0f090" opacity="0.8"/>
<path d="M1864.1,943.9 Q1873.5,895.3 1899.1,855.4 Q1880.5,895.3 1871,943.9 Z" fill="#a4e468" opacity="0.8"/>
<path d="M1187.1,994.6 Q1192.6,919.3 1210.7,857.7 Q1203,919.3 1197.4,994.6 Z" fill="#38901a" opacity="0.8"/>
<path d="M1003.9,927.1 Q1008.9,882.4 1023.9,845.8 Q1015.4,882.4 1010.4,927.1 Z" fill="#a4e468" opacity="0.8"/>
<path d="M1574.8,973 Q1580.3,903 1598,845.8 Q1589.6,903 1584,973 Z" fill="#38901a" opacity="0.8"/>
<path d="M1838.6,937.4 Q1837.5,903.9 1839.8,876.5 Q1846.8,903.9 1847.8,937.4 Z" fill="#38901a" opacity="0.8"/>
<path d="M424.7,999.8 Q416.2,946.5 402.1,903 Q427.5,946.5 436,999.8 Z" fill="#44a01c" opacity="0.8"/>
<path d="M804.3,976.8 Q809.9,899.6 828.7,836.6 Q821.5,899.6 816,976.8 Z" fill="#b4ec7c" opacity="0.8"/>
<path d="M896.4,1012.2 Q901.6,934.8 916.4,871.4 Q907.3,934.8 902.1,1012.2 Z" fill="#78d040" opacity="0.8"/>
<path d="M1757.5,977.5 Q1741.5,878 1709.7,796.7 Q1752.5,878 1768.5,977.5 Z" fill="#68c830" opacity="0.8"/>
<path d="M455.9,883.6 Q462.8,828.8 483.4,784 Q471.7,828.8 464.8,883.6 Z" fill="#8edc50" opacity="0.8"/>
<path d="M712,1014.4 Q715.2,947.6 728.5,892.9 Q726.7,947.6 723.5,1014.4 Z" fill="#68c830" opacity="0.8"/>
<path d="M1176.2,872.4 Q1185.5,813.4 1211.2,765.1 Q1193.4,813.4 1184.1,872.4 Z" fill="#8edc50" opacity="0.8"/>
<path d="M1926.9,887.8 Q1929.4,830.2 1937.2,783 Q1933.1,830.2 1930.6,887.8 Z" fill="#b4ec7c" opacity="0.8"/>
<path d="M1520.9,936.7 Q1525.3,896.1 1539.7,863 Q1533.5,896.1 1529.1,936.7 Z" fill="#8edc50" opacity="0.8"/>
<path d="M1317.4,996.3 Q1312.5,947.2 1304.4,907 Q1319.2,947.2 1324.1,996.3 Z" fill="#68c830" opacity="0.8"/>
<path d="M651,925.8 Q644.9,877.9 635.1,838.6 Q653.9,877.9 660,925.8 Z" fill="#226a0c" opacity="0.8"/>
<path d="M1172.7,950.2 Q1186.4,858.8 1223,783.9 Q1195.7,858.8 1182,950.2 Z" fill="#78d040" opacity="0.8"/>
<path d="M110.5,864.5 Q117.6,794.5 137.9,737.2 Q124.7,794.5 117.6,864.5 Z" fill="#c0f090" opacity="0.8"/>
<path d="M1863.4,865.2 Q1857.8,802.3 1849.1,750.9 Q1866.8,802.3 1872.5,865.2 Z" fill="#8edc50" opacity="0.8"/>
<path d="M1239.9,883.6 Q1229.7,832.3 1209.5,790.3 Q1236.8,832.3 1247,883.6 Z" fill="#226a0c" opacity="0.8"/>
<path d="M1673.6,1018.3 Q1679.1,905.2 1696.2,812.7 Q1687.8,905.2 1682.4,1018.3 Z" fill="#226a0c" opacity="0.8"/>
<path d="M1675.3,884.7 Q1687.6,806.5 1720.4,742.4 Q1696,806.5 1683.7,884.7 Z" fill="#2a7810" opacity="0.8"/>
<path d="M1930.2,997.6 Q1955.2,911.8 2017.3,841.7 Q1963.1,911.8 1938.2,997.6 Z" fill="#a4e468" opacity="0.8"/>
<path d="M1971,914 Q1975.3,828.1 1989.1,757.7 Q1982.8,828.1 1978.5,914 Z" fill="#c0f090" opacity="0.8"/>
<path d="M1940.6,877 Q1945,849.9 1959.9,827.8 Q1954.2,849.9 1949.8,877 Z" fill="#50b024" opacity="0.8"/>
<path d="M1087.7,928.3 Q1094.9,838.7 1115,765.5 Q1101.2,838.7 1094,928.3 Z" fill="#50b024" opacity="0.8"/>
<path d="M572.8,918 Q566.6,869 556.5,828.9 Q575.6,869 581.8,918 Z" fill="#38901a" opacity="0.8"/>
<path d="M1087.8,1008 Q1072.3,896 1042.3,804.3 Q1084.2,896 1099.6,1008 Z" fill="#8edc50" opacity="0.8"/>
<path d="M505.1,1021.6 Q486.3,937.2 445.9,868.2 Q493.6,937.2 512.4,1021.6 Z" fill="#78d040" opacity="0.8"/>
<path d="M776.6,963.5 Q805.1,868.2 876.4,790.3 Q815,868.2 786.6,963.5 Z" fill="#78d040" opacity="0.8"/>
<path d="M1558.7,886.6 Q1557,858 1555.6,834.6 Q1561.8,858 1563.4,886.6 Z" fill="#50b024" opacity="0.8"/>
<path d="M1561.5,921.1 Q1559.2,831 1557.7,757.4 Q1567,831 1569.3,921.1 Z" fill="#c0f090" opacity="0.8"/>
<path d="M315.7,903.8 Q334.3,846.3 382.7,799.3 Q344.1,846.3 325.5,903.8 Z" fill="#8edc50" opacity="0.8"/>
<path d="M1210.4,880.9 Q1207.9,852.9 1206.9,829.9 Q1217.4,852.9 1219.8,880.9 Z" fill="#a4e468" opacity="0.8"/>
<path d="M650.2,993.2 Q652.9,950.7 664.9,915.9 Q664.7,950.7 662.1,993.2 Z" fill="#68c830" opacity="0.8"/>
<path d="M312.2,915.6 Q328.7,837.5 370.4,773.6 Q335.1,837.5 318.6,915.6 Z" fill="#78d040" opacity="0.8"/>
<path d="M1591,945.5 Q1602.3,900.6 1632.2,863.8 Q1609,900.6 1597.7,945.5 Z" fill="#50b024" opacity="0.8"/>
<path d="M2058.2,942.1 Q2058.9,877.5 2063.2,824.7 Q2064.4,877.5 2063.7,942.1 Z" fill="#a4e468" opacity="0.8"/>
<path d="M1954.9,891 Q1955.6,832.5 1960.6,784.6 Q1962.3,832.5 1961.6,891 Z" fill="#44a01c" opacity="0.8"/>
<path d="M662.1,1022.2 Q659.2,948.9 654.9,888.9 Q664.2,948.9 667.2,1022.2 Z" fill="#44a01c" opacity="0.8"/>
<path d="M869.4,973.6 Q862.8,895.5 853.1,831.6 Q874.4,895.5 881,973.6 Z" fill="#44a01c" opacity="0.8"/>
<path d="M628.9,975.4 Q615.7,915.7 590.8,866.9 Q627.7,915.7 641,975.4 Z" fill="#2a7810" opacity="0.8"/>
<path d="M1428.1,889.3 Q1447.2,806.9 1495.6,739.5 Q1455.1,806.9 1436,889.3 Z" fill="#78d040" opacity="0.8"/>
<path d="M1808.6,917.6 Q1800.5,863.8 1784.6,819.7 Q1806.6,863.8 1814.7,917.6 Z" fill="#b4ec7c" opacity="0.8"/>
<path d="M1459.8,991.7 Q1448.4,919.7 1425.7,860.8 Q1456.4,919.7 1467.9,991.7 Z" fill="#2a7810" opacity="0.8"/>
<path d="M1163.9,955.5 Q1178.1,883.1 1215.1,823.8 Q1185.9,883.1 1171.7,955.5 Z" fill="#a4e468" opacity="0.8"/>
<path d="M1603.2,968.6 Q1616.6,911.6 1653.4,865 Q1627.7,911.6 1614.3,968.6 Z" fill="#50b024" opacity="0.8"/>
<path d="M1734,969.8 Q1751,877.7 1794.7,802.3 Q1759.3,877.7 1742.4,969.8 Z" fill="#2a7810" opacity="0.8"/>
<path d="M2043.8,869.4 Q2047,790 2057.3,725 Q2052.9,790 2049.7,869.4 Z" fill="#38901a" opacity="0.8"/>
<path d="M800.6,1022.6 Q805.2,985.6 820.4,955.3 Q814.3,985.6 809.8,1022.6 Z" fill="#50b024" opacity="0.8"/>
<path d="M1374.4,964.1 Q1379.2,931.5 1396.1,904.8 Q1390.6,931.5 1385.8,964.1 Z" fill="#50b024" opacity="0.8"/>
<path d="M1900.7,961.5 Q1897.6,925.3 1893.1,895.7 Q1902.7,925.3 1905.7,961.5 Z" fill="#44a01c" opacity="0.8"/>
<path d="M742.4,920.6 Q760.1,853 805.2,797.7 Q767.9,853 750.2,920.6 Z" fill="#50b024" opacity="0.8"/>
<path d="M68.3,903.6 Q70.7,849.2 79.8,804.7 Q77.8,849.2 75.4,903.6 Z" fill="#b4ec7c" opacity="0.8"/>
<path d="M1227,1013.7 Q1219.1,928 1206.3,857.9 Q1229.9,928 1237.7,1013.7 Z" fill="#78d040" opacity="0.8"/>
<path d="M1967.1,871.3 Q1965.7,838.5 1964.3,811.6 Q1969.9,838.5 1971.4,871.3 Z" fill="#50b024" opacity="0.8"/>
<path d="M1400.9,965.4 Q1409.9,891.6 1433,831.3 Q1414.5,891.6 1405.5,965.4 Z" fill="#c0f090" opacity="0.8"/>
<path d="M673.3,1011.4 Q665.5,959.4 650.4,916.8 Q671.9,959.4 679.7,1011.4 Z" fill="#a4e468" opacity="0.8"/>
<path d="M1542.8,993.1 Q1565,912.6 1622.4,846.7 Q1576.4,912.6 1554.2,993.1 Z" fill="#8edc50" opacity="0.8"/>
<path d="M805.7,939.7 Q803.3,898 801.6,863.8 Q811.3,898 813.7,939.7 Z" fill="#b4ec7c" opacity="0.8"/>
<path d="M146.8,900.1 Q156.7,854.6 183.8,817.4 Q164.5,854.6 154.6,900.1 Z" fill="#44a01c" opacity="0.8"/>
<path d="M1952.4,937.9 Q1946.9,894.3 1939.5,858.5 Q1957.8,894.3 1963.3,937.9 Z" fill="#50b024" opacity="0.8"/>
<path d="M376.9,955 Q375.7,916.1 375.5,884.3 Q380.4,916.1 381.5,955 Z" fill="#2a7810" opacity="0.8"/>
<path d="M808,970.2 Q799.6,909.4 785.1,859.7 Q809.5,909.4 817.8,970.2 Z" fill="#68c830" opacity="0.8"/>
<path d="M929.7,864.4 Q920.7,818.3 902.4,780.6 Q925.8,818.3 934.7,864.4 Z" fill="#38901a" opacity="0.8"/>
<path d="M1075.1,969.7 Q1067.4,915.6 1054.6,871.3 Q1077.6,915.6 1085.3,969.7 Z" fill="#68c830" opacity="0.8"/>
<path d="M302.9,1001.9 Q297.8,911.2 292.2,837.1 Q310.4,911.2 315.5,1001.9 Z" fill="#38901a" opacity="0.8"/>
<path d="M1792.8,977.5 Q1784.4,893.1 1767.1,823.9 Q1788.9,893.1 1797.3,977.5 Z" fill="#c0f090" opacity="0.8"/>
<path d="M604.6,944.1 Q597.3,901.8 582.6,867.1 Q601.8,901.8 609.1,944.1 Z" fill="#50b024" opacity="0.8"/>
<path d="M1638.9,1002 Q1652.7,957.4 1690.6,920.9 Q1664,957.4 1650.2,1002 Z" fill="#c0f090" opacity="0.8"/>
<path d="M1891.1,932.9 Q1913.1,851.2 1969.4,784.3 Q1922.8,851.2 1900.8,932.9 Z" fill="#68c830" opacity="0.8"/>
<path d="M1460.5,864.1 Q1459.9,798.6 1461.9,744.9 Q1466.7,798.6 1467.3,864.1 Z" fill="#44a01c" opacity="0.8"/>
<path d="M73.4,937.2 Q83.6,844.3 111,768.4 Q90.9,844.3 80.7,937.2 Z" fill="#b4ec7c" opacity="0.8"/>
<path d="M648.3,960 Q649.5,923.6 655.9,893.9 Q656.6,923.6 655.4,960 Z" fill="#44a01c" opacity="0.8"/>
<path d="M1172,909.1 Q1195.7,835 1255.8,774.3 Q1205.1,835 1181.4,909.1 Z" fill="#226a0c" opacity="0.8"/>
<path d="M580.6,1023.5 Q561.4,943.7 522.1,878.3 Q572.5,943.7 591.7,1023.5 Z" fill="#8edc50" opacity="0.8"/>
<path d="M957.1,903.6 Q984.2,819.4 1049.4,750.5 Q988.5,819.4 961.5,903.6 Z" fill="#2a7810" opacity="0.8"/>
<path d="M1941.7,956.4 Q1947.9,921 1966.1,892.1 Q1955.4,921 1949.1,956.4 Z" fill="#8edc50" opacity="0.8"/>
<path d="M616.3,883.5 Q623.8,813.2 643.4,755.7 Q628,813.2 620.5,883.5 Z" fill="#68c830" opacity="0.8"/>
<path d="M735.8,928 Q717.6,837.9 680.6,764.2 Q728.5,837.9 746.7,928 Z" fill="#c0f090" opacity="0.8"/>
<path d="M1787.4,883.2 Q1788.1,830.1 1794.7,786.6 Q1797.8,830.1 1797.1,883.2 Z" fill="#50b024" opacity="0.8"/>
<path d="M1608.2,924.6 Q1605.7,868.1 1603.8,821.9 Q1613.6,868.1 1616.1,924.6 Z" fill="#50b024" opacity="0.8"/>
<path d="M1062.3,860.3 Q1064.1,835.3 1071.2,814.9 Q1069.8,835.3 1068,860.3 Z" fill="#b4ec7c" opacity="0.8"/>
<path d="M126.4,907.8 Q132.9,866.2 152.1,832.1 Q140.8,866.2 134.3,907.8 Z" fill="#b4ec7c" opacity="0.8"/>
<path d="M894.8,973.3 Q904.2,923.7 928.4,883.1 Q908.7,923.7 899.3,973.3 Z" fill="#8edc50" opacity="0.8"/>
<path d="M1457.3,997.4 Q1462.6,906.5 1480.2,832.2 Q1473.4,906.5 1468.2,997.4 Z" fill="#68c830" opacity="0.8"/>
<path d="M98.7,959 Q97.7,893.6 100.1,840 Q107.3,893.6 108.3,959 Z" fill="#50b024" opacity="0.8"/>
<path d="M1061.6,991.7 Q1051.1,937.1 1029.7,892.4 Q1057.4,937.1 1067.9,991.7 Z" fill="#68c830" opacity="0.8"/>
<path d="M372.4,901.9 Q366.7,871.2 357,846.1 Q373.8,871.2 379.5,901.9 Z" fill="#38901a" opacity="0.8"/>
<path d="M37.1,944.5 Q61.9,847.8 122,768.7 Q66.3,847.8 41.5,944.5 Z" fill="#b4ec7c" opacity="0.8"/>
<path d="M820,906.9 Q823.5,879.8 835.8,857.6 Q831.4,879.8 827.9,906.9 Z" fill="#a4e468" opacity="0.8"/>
<path d="M1803.3,988.1 Q1793,888.1 1773.3,806.3 Q1801.9,888.1 1812.3,988.1 Z" fill="#b4ec7c" opacity="0.8"/>
<path d="M150.1,1000.2 Q152.8,957 164.3,921.7 Q163.6,957 160.9,1000.2 Z" fill="#b4ec7c" opacity="0.8"/>
<path d="M402.3,1021.8 Q389.3,934.6 361.9,863.3 Q395.4,934.6 408.4,1021.8 Z" fill="#226a0c" opacity="0.8"/>
<path d="M328.1,950.2 Q320.2,897 306.3,853.5 Q329.1,897 337,950.2 Z" fill="#68c830" opacity="0.8"/>
<path d="M296.6,893.6 Q304.2,815.5 326.2,751.6 Q312.7,815.5 305.1,893.6 Z" fill="#2a7810" opacity="0.8"/>
<path d="M1443.4,930.8 Q1452.5,875.7 1478.1,830.6 Q1461.4,875.7 1452.4,930.8 Z" fill="#b4ec7c" opacity="0.8"/>
<path d="M1287.4,1023.3 Q1319.5,909.1 1400.8,815.8 Q1332.4,909.1 1300.4,1023.3 Z" fill="#a4e468" opacity="0.8"/>
<path d="M97.8,958.1 Q93.1,891.6 84.5,837.3 Q98,891.6 102.7,958.1 Z" fill="#2a7810" opacity="0.8"/>
<path d="M967.8,921 Q977.6,846.2 1004.5,784.9 Q985.3,846.2 975.5,921 Z" fill="#38901a" opacity="0.8"/>
<path d="M20,935.2 Q12,883.1 -1.4,840.4 Q22.2,883.1 30.2,935.2 Z" fill="#2a7810" opacity="0.8"/>
<path d="M1251,975.8 Q1251.4,873 1257.5,788.9 Q1261.5,873 1261.1,975.8 Z" fill="#2a7810" opacity="0.8"/>
<path d="M676.6,946.1 Q693.6,875.1 736.5,817 Q699.9,875.1 682.9,946.1 Z" fill="#b4ec7c" opacity="0.8"/>
<path d="M590.9,936.3 Q587.9,881.9 585.1,837.4 Q596,881.9 599,936.3 Z" fill="#a4e468" opacity="0.8"/>
<path d="M1995.2,869.3 Q1993.9,844.5 1993.6,824.1 Q1999.7,844.5 2001,869.3 Z" fill="#44a01c" opacity="0.8"/>
<path d="M249.4,931.1 Q253.7,885.9 266.6,849 Q259.2,885.9 254.9,931.1 Z" fill="#78d040" opacity="0.8"/>
<path d="M1991.4,977.1 Q1996.4,876.4 2012.3,794 Q2004.6,876.4 1999.6,977.1 Z" fill="#226a0c" opacity="0.8"/>
<path d="M677.7,920.3 Q666,835.3 644,765.8 Q676.7,835.3 688.4,920.3 Z" fill="#c0f090" opacity="0.8"/>
<path d="M1346.3,985 Q1352.6,933.2 1372.5,890.8 Q1363.3,933.2 1357,985 Z" fill="#68c830" opacity="0.8"/>
<path d="M284.8,900.9 Q288.5,857.8 300.4,822.6 Q294.6,857.8 290.9,900.9 Z" fill="#8edc50" opacity="0.8"/>
<path d="M1148.8,866.1 Q1139.1,789.8 1118.9,727.4 Q1143.8,789.8 1153.5,866.1 Z" fill="#8edc50" opacity="0.8"/>
<path d="M1995.2,964.9 Q2024,873 2096.2,797.8 Q2033.9,873 2005,964.9 Z" fill="#38901a" opacity="0.8"/>
<path d="M1768,913.3 Q1779.9,839.6 1812.4,779.4 Q1789.4,839.6 1777.5,913.3 Z" fill="#b4ec7c" opacity="0.8"/>
<path d="M1531.9,875.9 Q1526.6,842.6 1517.7,815.3 Q1533.5,842.6 1538.8,875.9 Z" fill="#2a7810" opacity="0.8"/>
<path d="M313.4,880 Q299.5,819.7 271.8,770.4 Q309,819.7 323,880 Z" fill="#8edc50" opacity="0.8"/>
<path d="M282.7,1014.3 Q295,957.3 330,910.6 Q307.6,957.3 295.3,1014.3 Z" fill="#226a0c" opacity="0.8"/>
<path d="M705.3,987.3 Q723.4,916.3 768.5,858.1 Q729.2,916.3 711.2,987.3 Z" fill="#c0f090" opacity="0.8"/>
<path d="M1236.1,944 Q1233.1,900.4 1228.9,864.7 Q1238.4,900.4 1241.3,944 Z" fill="#c0f090" opacity="0.8"/>
<path d="M1263.6,943.7 Q1256.7,893.4 1244.9,852.2 Q1265.1,893.4 1271.9,943.7 Z" fill="#44a01c" opacity="0.8"/>
<path d="M179.5,904.9 Q164.3,823.2 131.1,756.4 Q168.8,823.2 184,904.9 Z" fill="#a4e468" opacity="0.8"/>
<path d="M1698.8,976.7 Q1709.8,879.8 1740.7,800.5 Q1720.7,879.8 1709.8,976.7 Z" fill="#b4ec7c" opacity="0.8"/>
<path d="M1626.4,934.5 Q1611,868 1577.3,813.5 Q1615.3,868 1630.7,934.5 Z" fill="#8edc50" opacity="0.8"/>
<path d="M1943.1,974.9 Q1951.6,898.2 1977.3,835.4 Q1963.5,898.2 1955,974.9 Z" fill="#44a01c" opacity="0.8"/>
<path d="M1792.4,948.1 Q1793.8,893.5 1802.3,848.9 Q1804.2,893.5 1802.8,948.1 Z" fill="#b4ec7c" opacity="0.8"/>
<path d="M459.2,992.7 Q439.5,901.4 396.3,826.7 Q445.2,901.4 464.9,992.7 Z" fill="#b4ec7c" opacity="0.8"/>
<path d="M1196,943.8 Q1199.8,869.2 1213.9,808.2 Q1210.4,869.2 1206.6,943.8 Z" fill="#38901a" opacity="0.8"/>
<path d="M408.7,869.4 Q413.6,825.7 428.7,790 Q420.5,825.7 415.5,869.4 Z" fill="#2a7810" opacity="0.8"/>
<path d="M698.7,991.8 Q719.2,923 773.3,866.6 Q731.4,923 710.9,991.8 Z" fill="#226a0c" opacity="0.8"/>
<path d="M1894,968.6 Q1902.2,866.8 1925,783.4 Q1909.8,866.8 1901.6,968.6 Z" fill="#b4ec7c" opacity="0.8"/>
<path d="M965.8,987.3 Q958.3,920.5 945,865.8 Q966.6,920.5 974.1,987.3 Z" fill="#2a7810" opacity="0.8"/>
<path d="M712.8,959.7 Q709.7,923.3 705.9,893.5 Q716.6,923.3 719.6,959.7 Z" fill="#78d040" opacity="0.8"/>
<path d="M1400.3,900.5 Q1408.6,874.2 1432.8,852.6 Q1418.1,874.2 1409.8,900.5 Z" fill="#a4e468" opacity="0.8"/>
<path d="M1905.4,943.5 Q1923.7,873.2 1969.4,815.7 Q1929.9,873.2 1911.7,943.5 Z" fill="#226a0c" opacity="0.8"/>
<path d="M459.2,929.9 Q448.7,886 426.9,850.1 Q453.9,886 464.4,929.9 Z" fill="#226a0c" opacity="0.8"/>
<path d="M1530.1,865.7 Q1528.6,840.8 1526.8,820.4 Q1532.1,840.8 1533.6,865.7 Z" fill="#2a7810" opacity="0.8"/>
<path d="M1542.7,867.9 Q1555.1,813.3 1588.1,768.5 Q1563.2,813.3 1550.8,867.9 Z" fill="#2a7810" opacity="0.8"/>
<path d="M681.5,883.4 Q692,817.3 720.2,763.3 Q699.6,817.3 689.1,883.4 Z" fill="#226a0c" opacity="0.8"/>
<path d="M1229,966.7 Q1230.1,894.8 1238.5,835.9 Q1241.7,894.8 1240.6,966.7 Z" fill="#8edc50" opacity="0.8"/>
<path d="M339.9,946.1 Q357.3,880.1 400.7,826 Q363.1,880.1 345.7,946.1 Z" fill="#38901a" opacity="0.8"/>
<path d="M621.6,973.7 Q652.5,870.7 730,786.4 Q663,870.7 632.1,973.7 Z" fill="#a4e468" opacity="0.8"/>
<path d="M351.7,869.4 Q337.1,801.5 305.3,745.9 Q341.7,801.5 356.3,869.4 Z" fill="#226a0c" opacity="0.8"/>
<path d="M252.8,878.1 Q255.5,815.3 265.4,763.9 Q262.6,815.3 259.9,878.1 Z" fill="#8edc50" opacity="0.8"/>
<path d="M1133.7,1000.5 Q1129.1,899.9 1124.6,817.6 Q1141.5,899.9 1146,1000.5 Z" fill="#68c830" opacity="0.8"/>
<path d="M1859.4,958.4 Q1852.1,910.6 1838.2,871.5 Q1858.4,910.6 1865.7,958.4 Z" fill="#8edc50" opacity="0.8"/>
<path d="M1708.8,860.3 Q1700.2,821.2 1683.9,789.2 Q1707.5,821.2 1716.1,860.3 Z" fill="#38901a" opacity="0.8"/>
<path d="M1690.6,955.1 Q1708.3,891.3 1752,839.1 Q1712.6,891.3 1694.8,955.1 Z" fill="#38901a" opacity="0.8"/>
<path d="M10.3,920.6 Q5.7,870.6 -2.1,829.7 Q11.4,870.6 15.9,920.6 Z" fill="#44a01c" opacity="0.8"/>
<path d="M1039.6,1011.9 Q1069,904 1144,815.7 Q1082,904 1052.6,1011.9 Z" fill="#38901a" opacity="0.8"/>
<path d="M1823.7,1020.6 Q1838.6,944.3 1879,881.9 Q1849.8,944.3 1834.8,1020.6 Z" fill="#78d040" opacity="0.8"/>
<path d="M1278,961.6 Q1275.3,898.7 1272.5,847.3 Q1282.2,898.7 1284.9,961.6 Z" fill="#44a01c" opacity="0.8"/>
<path d="M167,974.6 Q179.5,890.8 212.2,822.2 Q186.6,890.8 174.1,974.6 Z" fill="#2a7810" opacity="0.8"/>
<path d="M1030.7,971.8 Q1032.1,896.7 1039.1,835.2 Q1039.4,896.7 1037.9,971.8 Z" fill="#2a7810" opacity="0.8"/>
<path d="M698.4,915.3 Q709.2,842.3 737.9,782.6 Q716.7,842.3 705.9,915.3 Z" fill="#8edc50" opacity="0.8"/>
<path d="M685.3,946 Q701.2,859.1 740.8,788 Q706.4,859.1 690.5,946 Z" fill="#c0f090" opacity="0.8"/>
<path d="M1371.3,1020.7 Q1372.8,929.4 1379.4,854.6 Q1379.3,929.4 1377.8,1020.7 Z" fill="#68c830" opacity="0.8"/>
<path d="M512.6,906.5 Q525.5,850.5 560.7,804.6 Q535.6,850.5 522.7,906.5 Z" fill="#44a01c" opacity="0.8"/>
<path d="M1862.6,947.2 Q1859.6,900.8 1854.8,862.8 Q1864.2,900.8 1867.2,947.2 Z" fill="#78d040" opacity="0.8"/>
<path d="M1323.9,986.7 Q1327.1,900.4 1337,829.8 Q1332.3,900.4 1329.2,986.7 Z" fill="#78d040" opacity="0.8"/>
<path d="M1008,941.1 Q1021.8,875.1 1056,821.2 Q1026.1,875.1 1012.3,941.1 Z" fill="#2a7810" opacity="0.8"/>
<path d="M1567.5,985.3 Q1552.5,921.5 1519.7,869.3 Q1557.4,921.5 1572.5,985.3 Z" fill="#2a7810" opacity="0.8"/>
<path d="M1730.4,943 Q1739.1,908.1 1762.9,879.5 Q1745.9,908.1 1737.2,943 Z" fill="#2a7810" opacity="0.8"/>
<path d="M1119.2,989.7 Q1112.8,945.7 1102.4,909.7 Q1121.6,945.7 1127.9,989.7 Z" fill="#50b024" opacity="0.8"/>
<path d="M1712.2,883 Q1734.5,798.8 1791.5,729.8 Q1744.3,798.8 1722,883 Z" fill="#50b024" opacity="0.8"/>
<path d="M1937.8,935 Q1957.1,855.7 2005.9,790.9 Q1964.3,855.7 1945,935 Z" fill="#b4ec7c" opacity="0.8"/>
<path d="M1204.8,883.8 Q1208.5,803.6 1219.8,738 Q1214,803.6 1210.4,883.8 Z" fill="#38901a" opacity="0.8"/>
<path d="M126.7,957.4 Q105,861.1 56.9,782.3 Q109.7,861.1 131.4,957.4 Z" fill="#44a01c" opacity="0.8"/>
<path d="M1621.2,1023.1 Q1640.8,936.6 1691.9,865.8 Q1651.9,936.6 1632.3,1023.1 Z" fill="#8edc50" opacity="0.8"/>
<path d="M1685.6,911.4 Q1697,837.4 1726.5,776.8 Q1702.6,837.4 1691.2,911.4 Z" fill="#c0f090" opacity="0.8"/>
<path d="M1145,878.1 Q1161.3,819 1201.8,770.6 Q1166.4,819 1150.1,878.1 Z" fill="#226a0c" opacity="0.8"/>
<path d="M352,1000.1 Q348.5,901.6 343.7,821 Q355.2,901.6 358.7,1000.1 Z" fill="#68c830" opacity="0.8"/>
<path d="M1949.4,902.5 Q1952.9,867.7 1966,839.3 Q1962.8,867.7 1959.3,902.5 Z" fill="#68c830" opacity="0.8"/>
<path d="M388.8,950.2 Q413.2,862.7 474.3,791.1 Q421.5,862.7 397.1,950.2 Z" fill="#44a01c" opacity="0.8"/>
<path d="M1777.7,950 Q1776.4,919.5 1775.5,894.6 Q1780.7,919.5 1782,950 Z" fill="#50b024" opacity="0.8"/>
<path d="M445.1,860.4 Q449.8,803.9 463.7,757.7 Q455.2,803.9 450.5,860.4 Z" fill="#50b024" opacity="0.8"/>
<path d="M1935.1,909.7 Q1933.6,825.8 1933.1,757.2 Q1939.6,825.8 1941.1,909.7 Z" fill="#68c830" opacity="0.8"/>
<path d="M469.5,922.7 Q452.1,843.3 416.4,778.4 Q462.3,843.3 479.8,922.7 Z" fill="#50b024" opacity="0.8"/>
<path d="M1749.7,879.2 Q1734.9,817 1705,766 Q1744.4,817 1759.3,879.2 Z" fill="#8edc50" opacity="0.8"/>
<path d="M119.3,953.3 Q109.7,913.9 90.8,881.7 Q117,913.9 126.7,953.3 Z" fill="#c0f090" opacity="0.8"/>
<path d="M362.4,899.5 Q375.4,856.1 408.4,820.6 Q381,856.1 368,899.5 Z" fill="#8edc50" opacity="0.8"/>
<path d="M1203.1,1014.5 Q1213.2,955.3 1240.9,906.9 Q1221.3,955.3 1211.1,1014.5 Z" fill="#78d040" opacity="0.8"/>
<path d="M389.7,878.5 Q388.5,819.7 389,771.6 Q395.2,819.7 396.4,878.5 Z" fill="#c0f090" opacity="0.8"/>
<path d="M317.2,916.8 Q337.1,834.3 385.8,766.9 Q341.9,834.3 322,916.8 Z" fill="#44a01c" opacity="0.8"/>
<path d="M1650,1014.6 Q1643.4,939.2 1631.3,877.5 Q1650,939.2 1656.6,1014.6 Z" fill="#2a7810" opacity="0.8"/>
<path d="M1491.9,900.1 Q1499.9,864.2 1521,834.9 Q1504.4,864.2 1496.4,900.1 Z" fill="#68c830" opacity="0.8"/>
<path d="M156.6,865.3 Q157.8,793.6 163.1,734.9 Q162.5,793.6 161.3,865.3 Z" fill="#a4e468" opacity="0.8"/>
<path d="M1812.3,1023.1 Q1839.4,908.9 1907.6,815.5 Q1849.4,908.9 1822.3,1023.1 Z" fill="#44a01c" opacity="0.8"/>
<path d="M476,869.5 Q475.2,807.2 476.9,756.3 Q482.4,807.2 483.2,869.5 Z" fill="#78d040" opacity="0.8"/>
<path d="M1718.2,964.3 Q1710.5,922.7 1695.4,888.6 Q1716.4,922.7 1724.2,964.3 Z" fill="#44a01c" opacity="0.8"/>
<path d="M264.1,941.3 Q271.7,844.4 293.1,765.1 Q279.1,844.4 271.6,941.3 Z" fill="#68c830" opacity="0.8"/>
<path d="M1397.4,881.4 Q1383.1,805.3 1354,743 Q1391.2,805.3 1405.4,881.4 Z" fill="#c0f090" opacity="0.8"/>
<path d="M1708.9,1020.3 Q1697,920.3 1674.7,838.4 Q1707.8,920.3 1719.7,1020.3 Z" fill="#50b024" opacity="0.8"/>
<path d="M1368,1005.4 Q1373.5,954.4 1389.8,912.7 Q1380.2,954.4 1374.6,1005.4 Z" fill="#c0f090" opacity="0.8"/>
<path d="M1841,1013.4 Q1862.1,900.4 1916,807.9 Q1871.5,900.4 1850.4,1013.4 Z" fill="#78d040" opacity="0.8"/>
<path d="M1574.1,936.7 Q1570.2,864.3 1564.3,805 Q1576.3,864.3 1580.1,936.7 Z" fill="#8edc50" opacity="0.8"/>
<path d="M1852.9,934.2 Q1852.6,896.4 1855.3,865.4 Q1859.2,896.4 1859.4,934.2 Z" fill="#c0f090" opacity="0.8"/>
<path d="M1766.2,975.8 Q1763.9,873.5 1763.9,789.8 Q1774.5,873.5 1776.8,975.8 Z" fill="#50b024" opacity="0.8"/>
<path d="M1527.1,920.7 Q1531.9,858 1546.7,806.8 Q1538.9,858 1534.1,920.7 Z" fill="#b4ec7c" opacity="0.8"/>
<path d="M1148.5,964.4 Q1140.8,899.3 1125.1,846.1 Q1145.3,899.3 1153,964.4 Z" fill="#38901a" opacity="0.8"/>
<path d="M1235.8,890.6 Q1232.5,841.2 1228.2,800.9 Q1239,841.2 1242.2,890.6 Z" fill="#68c830" opacity="0.8"/>
<path d="M1133.9,1016.8 Q1129.8,967.4 1122.7,927 Q1135,967.4 1139.1,1016.8 Z" fill="#a4e468" opacity="0.8"/>
<path d="M170.9,895.1 Q176.9,849.7 193.3,812.4 Q182.1,849.7 176.2,895.1 Z" fill="#2a7810" opacity="0.8"/>
<path d="M1022.4,948.5 Q1052.2,850.4 1125,770.2 Q1058.7,850.4 1028.9,948.5 Z" fill="#50b024" opacity="0.8"/>
<path d="M310.4,892.5 Q309.5,816.7 310.2,754.7 Q315.1,816.7 316.1,892.5 Z" fill="#226a0c" opacity="0.8"/>
<path d="M279,963.8 Q273.6,872.8 263.5,798.4 Q278.6,872.8 284,963.8 Z" fill="#226a0c" opacity="0.8"/>
<path d="M1596.1,885.7 Q1604.8,838.7 1629.9,800.2 Q1614.5,838.7 1605.8,885.7 Z" fill="#68c830" opacity="0.8"/>
<path d="M1155.6,974.7 Q1166.8,900.1 1195.2,839 Q1171.3,900.1 1160.1,974.7 Z" fill="#226a0c" opacity="0.8"/>
<path d="M368.9,1024.2 Q354.6,950.1 325.4,889.4 Q362.8,950.1 377,1024.2 Z" fill="#b4ec7c" opacity="0.8"/>
<path d="M127.4,893.7 Q116.2,806.5 94.1,735.1 Q124.4,806.5 135.6,893.7 Z" fill="#c0f090" opacity="0.8"/>
<path d="M-6.9,911.9 Q0.7,833.3 20.8,769 Q5.7,833.3 -1.9,911.9 Z" fill="#8edc50" opacity="0.8"/>
<path d="M310.5,871.8 Q321.6,830.4 351,796.6 Q328.9,830.4 317.9,871.8 Z" fill="#c0f090" opacity="0.8"/>
<path d="M1675.9,1007.7 Q1675.9,964.6 1678.5,929.3 Q1681.5,964.6 1681.6,1007.7 Z" fill="#226a0c" opacity="0.8"/>
<path d="M260.5,898 Q256.7,866.9 250.5,841.4 Q262.1,866.9 265.9,898 Z" fill="#2a7810" opacity="0.8"/>
<path d="M427.6,902.1 Q433.7,839.1 451.8,787.6 Q441.6,839.1 435.5,902.1 Z" fill="#68c830" opacity="0.8"/>
<path d="M1769.9,883.8 Q1773.3,809.7 1783.6,749.1 Q1778.1,809.7 1774.7,883.8 Z" fill="#c0f090" opacity="0.8"/>
<path d="M61.3,984.9 Q77.9,900.4 121,831.2 Q86.7,900.4 70.2,984.9 Z" fill="#c0f090" opacity="0.8"/>
<path d="M1633.3,882.8 Q1632.4,848 1633,819.6 Q1638.2,848 1639.2,882.8 Z" fill="#c0f090" opacity="0.8"/>
<path d="M1270.3,921.2 Q1267.7,864.5 1264.8,818.2 Q1273.6,864.5 1276.1,921.2 Z" fill="#68c830" opacity="0.8"/>
<path d="M1156.3,1014.2 Q1150.5,922.3 1141.7,847.1 Q1160,922.3 1165.8,1014.2 Z" fill="#2a7810" opacity="0.8"/>
<path d="M2058.4,1019.3 Q2060.3,970.9 2071.3,931.3 Q2073.3,970.9 2071.4,1019.3 Z" fill="#a4e468" opacity="0.8"/>
<path d="M1774.1,953.7 Q1787.3,908.9 1823.2,872.2 Q1797.5,908.9 1784.3,953.7 Z" fill="#50b024" opacity="0.8"/>
<path d="M190.7,997.8 Q186.7,910.7 183.6,839.5 Q199.3,910.7 203.3,997.8 Z" fill="#2a7810" opacity="0.8"/>
<path d="M623.1,953.3 Q607.7,858.1 573.8,780.2 Q612,858.1 627.4,953.3 Z" fill="#50b024" opacity="0.8"/>
<path d="M1264.6,997.3 Q1254.1,921 1232.9,858.5 Q1260.4,921 1270.8,997.3 Z" fill="#a4e468" opacity="0.8"/>
<path d="M500.9,949.2 Q497.7,907.3 495.1,873.1 Q507.4,907.3 510.6,949.2 Z" fill="#78d040" opacity="0.8"/>
<path d="M1957,1012.2 Q1948.5,922.8 1934.8,849.6 Q1960.6,922.8 1969,1012.2 Z" fill="#44a01c" opacity="0.8"/>
<path d="M820.9,874.2 Q839.6,814.1 887,764.9 Q847.3,814.1 828.6,874.2 Z" fill="#b4ec7c" opacity="0.8"/>
<path d="M1645,950.5 Q1647.1,915.9 1654.1,887.7 Q1651.5,915.9 1649.4,950.5 Z" fill="#226a0c" opacity="0.8"/>
<path d="M1435.9,928.1 Q1441.9,881.7 1460.7,843.7 Q1451.7,881.7 1445.7,928.1 Z" fill="#44a01c" opacity="0.8"/>
<path d="M1628.8,1007.1 Q1619.9,909.4 1602.2,829.4 Q1626.4,909.4 1635.4,1007.1 Z" fill="#b4ec7c" opacity="0.8"/>
<path d="M769.5,983.1 Q770.5,936.4 776.4,898.1 Q777.8,936.4 776.8,983.1 Z" fill="#44a01c" opacity="0.8"/>
<path d="M1045.6,922.6 Q1042.7,894.4 1040.6,871.4 Q1052.1,894.4 1055,922.6 Z" fill="#b4ec7c" opacity="0.8"/>
<path d="M815.4,932.8 Q825.4,847.6 852.8,777.8 Q833.8,847.6 823.8,932.8 Z" fill="#8edc50" opacity="0.8"/>
<path d="M1519.7,920.8 Q1531.9,837.4 1562.8,769.2 Q1536.8,837.4 1524.6,920.8 Z" fill="#38901a" opacity="0.8"/>
<path d="M1778.7,912.5 Q1773.8,884.6 1764.7,861.8 Q1778.7,884.6 1783.6,912.5 Z" fill="#b4ec7c" opacity="0.8"/>
<path d="M791.3,1009.7 Q785.3,914.7 775.6,837 Q793.9,914.7 799.9,1009.7 Z" fill="#8edc50" opacity="0.8"/>
<path d="M1160.7,979.5 Q1169,929.6 1192,888.8 Q1176.3,929.6 1168,979.5 Z" fill="#68c830" opacity="0.8"/>
<path d="M991,947.1 Q983,914 967.5,886.9 Q989.5,914 997.5,947.1 Z" fill="#78d040" opacity="0.8"/>
<path d="M610.7,997.8 Q622.6,953.5 656.8,917.2 Q635,953.5 623,997.8 Z" fill="#68c830" opacity="0.8"/>
<path d="M1524.7,936.5 Q1517.4,891.6 1503.2,854.9 Q1523.3,891.6 1530.6,936.5 Z" fill="#38901a" opacity="0.8"/>
<path d="M579.1,867.4 Q584.6,843 601.5,823 Q592.9,843 587.4,867.4 Z" fill="#78d040" opacity="0.8"/>
<path d="M334.8,923.2 Q351.8,833.3 394.3,759.7 Q357.8,833.3 340.8,923.2 Z" fill="#68c830" opacity="0.8"/>
<path d="M459.7,987.5 Q450.9,915 434.6,855.8 Q459.5,915 468.3,987.5 Z" fill="#8edc50" opacity="0.8"/>
<path d="M1581.3,1014.6 Q1608.1,930 1673.9,860.8 Q1614.6,930 1587.8,1014.6 Z" fill="#b4ec7c" opacity="0.8"/>
<path d="M1275.4,898.7 Q1273.8,869.6 1274.1,845.8 Q1282.4,869.6 1284.1,898.7 Z" fill="#78d040" opacity="0.8"/>
<path d="M684.3,861.2 Q686.5,828.2 696.1,801.2 Q695.6,828.2 693.4,861.2 Z" fill="#b4ec7c" opacity="0.8"/>
<path d="M1043.8,935.4 Q1042.2,888.9 1041.6,850.8 Q1048,888.9 1049.5,935.4 Z" fill="#b4ec7c" opacity="0.8"/>
<path d="M30.1,896.1 Q26,827.5 19.3,771.4 Q31.6,827.5 35.7,896.1 Z" fill="#44a01c" opacity="0.8"/>
<path d="M1290.9,1002.5 Q1283.7,918.2 1272.9,849.2 Q1295.2,918.2 1302.3,1002.5 Z" fill="#a4e468" opacity="0.8"/>
<path d="M288.1,868.9 Q285.3,820.4 283,780.8 Q294.1,820.4 296.9,868.9 Z" fill="#b4ec7c" opacity="0.8"/>
<path d="M1148.6,894.6 Q1147.5,810.3 1149.5,741.3 Q1156.5,810.3 1157.5,894.6 Z" fill="#8edc50" opacity="0.8"/>
<path d="M1895,891.1 Q1889,806.2 1877.2,736.6 Q1893.1,806.2 1899.1,891.1 Z" fill="#b4ec7c" opacity="0.8"/>
<path d="M378.2,868.5 Q365.9,815 340.5,771.2 Q372.4,815 384.7,868.5 Z" fill="#226a0c" opacity="0.8"/>
<path d="M2029.6,988 Q2022.3,946 2008.5,911.6 Q2029,946 2036.3,988 Z" fill="#8edc50" opacity="0.8"/>
<path d="M423,983.5 Q424.9,880.6 433,796.4 Q432.1,880.6 430.2,983.5 Z" fill="#44a01c" opacity="0.8"/>
<path d="M782.8,912.9 Q796.3,870.2 831.6,835.2 Q804.2,870.2 790.8,912.9 Z" fill="#2a7810" opacity="0.8"/>
<path d="M1821.1,880.1 Q1812.5,814.5 1797.1,760.8 Q1821.7,814.5 1830.2,880.1 Z" fill="#a4e468" opacity="0.8"/>
<path d="M934.6,908.6 Q933.3,881.1 934.4,858.7 Q941.5,881.1 942.8,908.6 Z" fill="#a4e468" opacity="0.8"/>
<path d="M305,1002.8 Q326.2,931.9 378.4,873.9 Q331.8,931.9 310.6,1002.8 Z" fill="#226a0c" opacity="0.8"/>
<path d="M127.8,908.1 Q131.5,829.2 143.4,764.7 Q138,829.2 134.3,908.1 Z" fill="#c0f090" opacity="0.8"/>
<path d="M53,900.9 Q66.3,840.3 100.7,790.8 Q72.8,840.3 59.5,900.9 Z" fill="#68c830" opacity="0.8"/>
<path d="M427.9,981 Q425.5,926 425,881.1 Q436,926 438.4,981 Z" fill="#c0f090" opacity="0.8"/>
<path d="M706.1,911.6 Q712.6,824.7 732.2,753.6 Q721.5,824.7 715.1,911.6 Z" fill="#a4e468" opacity="0.8"/>
<path d="M1959.7,956 Q1953.5,923.7 1942.2,897.2 Q1959.5,923.7 1965.7,956 Z" fill="#b4ec7c" opacity="0.8"/>
<path d="M690.7,869.5 Q690.8,789.7 695.5,724.4 Q699.8,789.7 699.7,869.5 Z" fill="#2a7810" opacity="0.8"/>
<path d="M954.3,989.6 Q949.2,928.4 942.1,878.3 Q959,928.4 964.1,989.6 Z" fill="#226a0c" opacity="0.8"/>
<path d="M1386.1,909.2 Q1393.5,879.1 1413.7,854.5 Q1399.8,879.1 1392.5,909.2 Z" fill="#78d040" opacity="0.8"/>
<path d="M764.1,966.1 Q790.9,883.1 857.1,815.1 Q798.4,883.1 771.6,966.1 Z" fill="#68c830" opacity="0.8"/>
<path d="M438.3,1014.1 Q415.4,913.8 364.6,831.7 Q421,913.8 443.9,1014.1 Z" fill="#50b024" opacity="0.8"/>
<path d="M1951.1,929.7 Q1963.1,859.6 1993.9,802.3 Q1968.6,859.6 1956.6,929.7 Z" fill="#44a01c" opacity="0.8"/>
<path d="M744.6,883.3 Q745.4,848.7 751.2,820.3 Q753.7,848.7 752.9,883.3 Z" fill="#8edc50" opacity="0.8"/>
<path d="M526.6,985.8 Q528.9,886.3 536.7,804.8 Q533.8,886.3 531.4,985.8 Z" fill="#78d040" opacity="0.8"/>
<path d="M711.1,883.9 Q729.2,801.1 774.3,733.3 Q734.7,801.1 716.5,883.9 Z" fill="#a4e468" opacity="0.8"/>
<path d="M528,950.8 Q541.9,866.7 579.9,798 Q552.8,866.7 538.9,950.8 Z" fill="#226a0c" opacity="0.8"/>
<path d="M1344.9,886.3 Q1361.1,811.4 1402.9,750.2 Q1369.2,811.4 1353,886.3 Z" fill="#8edc50" opacity="0.8"/>
<path d="M444.5,893.9 Q428.3,819.7 393.9,759 Q434.8,819.7 451,893.9 Z" fill="#78d040" opacity="0.8"/>
<path d="M981.5,976 Q968.8,886 941.6,812.4 Q973.9,886 986.6,976 Z" fill="#b4ec7c" opacity="0.8"/>
<path d="M1215.7,909.9 Q1217.4,875.5 1223.4,847.3 Q1221.4,875.5 1219.7,909.9 Z" fill="#a4e468" opacity="0.8"/>
<path d="M2045.9,868.9 Q2058.8,811.3 2093.6,764.1 Q2068,811.3 2055,868.9 Z" fill="#a4e468" opacity="0.8"/>
<path d="M1591.9,964.1 Q1597.1,900.6 1613.9,848.7 Q1606.7,900.6 1601.6,964.1 Z" fill="#2a7810" opacity="0.8"/>
<path d="M203.9,890.2 Q198.6,861.8 189.1,838.5 Q204.5,861.8 209.8,890.2 Z" fill="#38901a" opacity="0.8"/>
<path d="M1292.2,962.9 Q1309.8,891.9 1355.8,833.8 Q1319.8,891.9 1302.2,962.9 Z" fill="#50b024" opacity="0.8"/>
<path d="M426.6,919.3 Q429.8,888.7 442,863.6 Q439.3,888.7 436.1,919.3 Z" fill="#c0f090" opacity="0.8"/>
<path d="M1852.2,951.4 Q1849.1,900.6 1845,859 Q1855.2,900.6 1858.2,951.4 Z" fill="#68c830" opacity="0.8"/>
<path d="M925.1,917.5 Q934.4,875.8 960.7,841.6 Q943.6,875.8 934.3,917.5 Z" fill="#50b024" opacity="0.8"/>
<path d="M1761.6,885.2 Q1763.3,850.5 1770.4,822.1 Q1769.2,850.5 1767.5,885.2 Z" fill="#50b024" opacity="0.8"/>
<path d="M1187.2,884 Q1169.6,807.3 1133,744.6 Q1178.8,807.3 1196.4,884 Z" fill="#a4e468" opacity="0.8"/>
<path d="M-17.5,949.9 Q-35.4,862.3 -72.1,790.6 Q-24.9,862.3 -6.9,949.9 Z" fill="#b4ec7c" opacity="0.8"/>
<path d="M1643.2,1002.8 Q1660.7,916.1 1704.4,845.2 Q1666.6,916.1 1649.1,1002.8 Z" fill="#226a0c" opacity="0.8"/>
<path d="M888.1,897.9 Q888.9,830.7 894.5,775.8 Q896.6,830.7 895.9,897.9 Z" fill="#8edc50" opacity="0.8"/>
<path d="M1331.9,964.5 Q1328.3,929.1 1325.5,900.2 Q1339.7,929.1 1343.3,964.5 Z" fill="#226a0c" opacity="0.8"/>
<path d="M179.3,956.4 Q173.5,924.4 165.5,898.3 Q184.2,924.4 190,956.4 Z" fill="#78d040" opacity="0.8"/>
<path d="M769.2,912.4 Q775.4,827.2 793.4,757.5 Q782.4,827.2 776.2,912.4 Z" fill="#2a7810" opacity="0.8"/>
<path d="M735.1,906.3 Q729.6,877.4 719.5,853.7 Q734.8,877.4 740.2,906.3 Z" fill="#8edc50" opacity="0.8"/>
<path d="M626.3,965.8 Q636.2,922.2 662.3,886.6 Q642,922.2 632.1,965.8 Z" fill="#44a01c" opacity="0.8"/>
<path d="M515,930.2 Q524.7,856.5 550.1,796.1 Q530.3,856.5 520.6,930.2 Z" fill="#a4e468" opacity="0.8"/>
<path d="M1665.4,996.1 Q1664.4,931.3 1664.7,878.4 Q1669.3,931.3 1670.2,996.1 Z" fill="#50b024" opacity="0.8"/>
<path d="M2060.9,981.2 Q2062,910.2 2068.3,852.1 Q2069.6,910.2 2068.5,981.2 Z" fill="#8edc50" opacity="0.8"/>
<path d="M1164.4,884.7 Q1174.8,832.2 1201.8,789.3 Q1180.1,832.2 1169.7,884.7 Z" fill="#68c830" opacity="0.8"/>
<path d="M163.3,937 Q150.1,873.8 122.8,822.2 Q157,873.8 170.2,937 Z" fill="#68c830" opacity="0.8"/>
<path d="M7.3,970 Q6.3,905.4 9.2,852.6 Q16.9,905.4 17.9,970 Z" fill="#50b024" opacity="0.8"/>
<path d="M1495.4,904.7 Q1499.3,840.9 1512.9,788.7 Q1508.6,840.9 1504.7,904.7 Z" fill="#44a01c" opacity="0.8"/>
<path d="M1173.4,1016.4 Q1169.8,970.6 1166.2,933.1 Q1179.6,970.6 1183.2,1016.4 Z" fill="#2a7810" opacity="0.8"/>
<path d="M1197,882.2 Q1195.7,807.5 1197.4,746.4 Q1205.1,807.5 1206.5,882.2 Z" fill="#8edc50" opacity="0.8"/>
<path d="M751.2,943.7 Q755.8,899.9 770.6,864.2 Q764.3,899.9 759.7,943.7 Z" fill="#226a0c" opacity="0.8"/>
<path d="M489.4,918.5 Q515.1,827.4 579.9,752.9 Q524.7,827.4 499,918.5 Z" fill="#a4e468" opacity="0.8"/>
<path d="M2009.9,935 Q2002.5,897.5 1989.9,866.7 Q2011.8,897.5 2019.2,935 Z" fill="#38901a" opacity="0.8"/>
<path d="M27.2,871.9 Q29.2,847.2 36.8,826.9 Q35.1,847.2 33.1,871.9 Z" fill="#c0f090" opacity="0.8"/>
<path d="M553,896.1 Q546.1,844.8 532,802.9 Q550.4,844.8 557.3,896.1 Z" fill="#a4e468" opacity="0.8"/>
<path d="M662.7,921.3 Q659.5,881.2 656.3,848.4 Q668.3,881.2 671.5,921.3 Z" fill="#68c830" opacity="0.8"/>
<path d="M1942.2,1017 Q1949.7,904.2 1970.5,811.8 Q1956.4,904.2 1948.9,1017 Z" fill="#44a01c" opacity="0.8"/>
<path d="M11.8,999.6 Q4.5,956.6 -8.7,921.5 Q12.1,956.6 19.4,999.6 Z" fill="#8edc50" opacity="0.8"/>
<path d="M776.2,975.9 Q778.4,912.1 787.1,859.8 Q785.8,912.1 783.7,975.9 Z" fill="#b4ec7c" opacity="0.8"/>
<path d="M1363.4,898.3 Q1367.5,810 1379.6,737.7 Q1372.7,810 1368.7,898.3 Z" fill="#68c830" opacity="0.8"/>
<path d="M409.7,952 Q418,909.9 439.6,875.4 Q422.2,909.9 413.9,952 Z" fill="#44a01c" opacity="0.8"/>
<path d="M1059.4,925.1 Q1061.4,886.3 1071.2,854.6 Q1072,886.3 1070.1,925.1 Z" fill="#226a0c" opacity="0.8"/>
<path d="M1723.5,947.6 Q1721.3,867.7 1720.6,802.4 Q1730.1,867.7 1732.3,947.6 Z" fill="#8edc50" opacity="0.8"/>
<path d="M48.6,928.5 Q51.5,886.5 62.8,852.2 Q60.8,886.5 57.9,928.5 Z" fill="#50b024" opacity="0.8"/>
<path d="M1457.5,992.9 Q1445.5,898.5 1421.7,821.2 Q1453.5,898.5 1465.4,992.9 Z" fill="#68c830" opacity="0.8"/>
<path d="M1724.3,1022.1 Q1749.5,944.6 1813,881.1 Q1758.6,944.6 1733.3,1022.1 Z" fill="#78d040" opacity="0.8"/>
<path d="M400.7,896.4 Q408.9,856.2 433.1,823.3 Q419,856.2 410.7,896.4 Z" fill="#2a7810" opacity="0.8"/>
<path d="M28,872.8 Q21.9,800.4 11.5,741.2 Q30,800.4 36.1,872.8 Z" fill="#50b024" opacity="0.8"/>
<path d="M1058.2,863.8 Q1053.3,839.7 1046,820 Q1061.2,839.7 1066.1,863.8 Z" fill="#44a01c" opacity="0.8"/>
<path d="M175.8,913.9 Q169.8,838.4 160,776.5 Q178.2,838.4 184.2,913.9 Z" fill="#2a7810" opacity="0.8"/>
<path d="M521.6,883.6 Q523.9,850.1 532.1,822.6 Q529.4,850.1 527.1,883.6 Z" fill="#226a0c" opacity="0.8"/>
<path d="M688.9,1002.2 Q690.5,947.4 700,902.6 Q702.4,947.4 700.9,1002.2 Z" fill="#226a0c" opacity="0.8"/>
<path d="M1177.4,942.3 Q1187.6,898.7 1213.6,863 Q1191.8,898.7 1181.6,942.3 Z" fill="#50b024" opacity="0.8"/>
<path d="M398.4,891.7 Q393.1,816 384.3,754.2 Q399.9,816 405.1,891.7 Z" fill="#8edc50" opacity="0.8"/>
<path d="M390.1,1015.7 Q395.5,957.3 411.7,909.5 Q402.7,957.3 397.3,1015.7 Z" fill="#44a01c" opacity="0.8"/>
<path d="M1760.7,1002.1 Q1747,902.6 1720.9,821.2 Q1758.8,902.6 1772.5,1002.1 Z" fill="#50b024" opacity="0.8"/>
<path d="M1117.3,959.7 Q1111.6,908.6 1102.6,866.8 Q1120.4,908.6 1126.2,959.7 Z" fill="#a4e468" opacity="0.8"/>
<path d="M132.8,945.2 Q134.9,850.5 144.9,773 Q145.1,850.5 143,945.2 Z" fill="#8edc50" opacity="0.8"/>
<path d="M938.4,973.6 Q926.4,908.9 903.8,855.9 Q937.4,908.9 949.4,973.6 Z" fill="#68c830" opacity="0.8"/>
<path d="M1258,915.5 Q1268,857.3 1295.3,809.6 Q1275.9,857.3 1265.8,915.5 Z" fill="#a4e468" opacity="0.8"/>
<path d="M431.6,952.9 Q422.7,899 406.6,854.9 Q432.2,899 441.1,952.9 Z" fill="#68c830" opacity="0.8"/>
<path d="M394.3,1008.2 Q388.3,935.2 377.8,875.5 Q395.4,935.2 401.4,1008.2 Z" fill="#38901a" opacity="0.8"/>
<path d="M941.9,895.8 Q938.4,848.3 933.8,809.5 Q945.8,848.3 949.4,895.8 Z" fill="#50b024" opacity="0.8"/>
<path d="M1176.6,879.4 Q1189.9,831.7 1225.8,792.6 Q1199.6,831.7 1186.3,879.4 Z" fill="#2a7810" opacity="0.8"/>
<path d="M1904.9,868.1 Q1890.9,805.1 1860.1,753.5 Q1894.4,805.1 1908.4,868.1 Z" fill="#b4ec7c" opacity="0.8"/>
<path d="M814,965 Q804.2,863.7 783.7,780.8 Q808.6,863.7 818.4,965 Z" fill="#a4e468" opacity="0.8"/>
<path d="M1477.9,1005.7 Q1475.1,936.6 1471.4,880.1 Q1480.4,936.6 1483.1,1005.7 Z" fill="#226a0c" opacity="0.8"/>
<path d="M1166,1002 Q1178.5,917.7 1211.7,848.6 Q1186.4,917.7 1173.8,1002 Z" fill="#c0f090" opacity="0.8"/>
<path d="M1581.3,1006.1 Q1563.5,927.5 1526.4,863.2 Q1572.2,927.5 1590,1006.1 Z" fill="#b4ec7c" opacity="0.8"/>
<path d="M1661.3,1024.6 Q1651.2,978 1631.2,939.9 Q1658.1,978 1668.2,1024.6 Z" fill="#226a0c" opacity="0.8"/>
<path d="M681.2,885.8 Q678.1,854.2 673.3,828.4 Q683.4,854.2 686.6,885.8 Z" fill="#50b024" opacity="0.8"/>
<path d="M1495.3,874 Q1499.1,830.9 1510.1,795.7 Q1503.2,830.9 1499.4,874 Z" fill="#44a01c" opacity="0.8"/>
<path d="M1312.8,931.6 Q1311.5,861 1314.1,803.3 Q1322.5,861 1323.7,931.6 Z" fill="#226a0c" opacity="0.8"/>
<path d="M1469.9,938.9 Q1470,897.6 1472.3,863.9 Q1474.2,897.6 1474.1,938.9 Z" fill="#a4e468" opacity="0.8"/>
<path d="M1204.2,893.9 Q1209.3,867.6 1224,846 Q1215.2,867.6 1210.2,893.9 Z" fill="#c0f090" opacity="0.8"/>
<path d="M1892.4,924.6 Q1898,864.4 1915.8,815.3 Q1907.7,864.4 1902.1,924.6 Z" fill="#8edc50" opacity="0.8"/>
<path d="M1278.4,901 Q1284.9,871 1304.9,846.4 Q1294.9,871 1288.5,901 Z" fill="#38901a" opacity="0.8"/>
<path d="M231,1003.5 Q241.5,940 271.2,888 Q251.8,940 241.3,1003.5 Z" fill="#50b024" opacity="0.8"/>
<path d="M327.6,928.2 Q345.2,835.7 391.8,760.1 Q356,835.7 338.3,928.2 Z" fill="#78d040" opacity="0.8"/>
<path d="M463.5,899.1 Q465,857.8 473.6,823.9 Q475.3,857.8 473.8,899.1 Z" fill="#b4ec7c" opacity="0.8"/>
<path d="M1960.6,878.8 Q1975.3,823.9 2011.9,779.1 Q1980.1,823.9 1965.4,878.8 Z" fill="#2a7810" opacity="0.8"/>
<path d="M1072.1,993 Q1089.9,910.3 1136.4,842.7 Q1099.6,910.3 1081.8,993 Z" fill="#a4e468" opacity="0.8"/>
<path d="M147.8,1013.9 Q147,906.7 148.8,819 Q154.2,906.7 154.9,1013.9 Z" fill="#8edc50" opacity="0.8"/>
<path d="M1431.5,945.8 Q1423.4,846.4 1409.6,765 Q1433.4,846.4 1441.5,945.8 Z" fill="#68c830" opacity="0.8"/>
<path d="M1324.2,928.9 Q1351.7,844.3 1420.1,775.1 Q1360.2,844.3 1332.7,928.9 Z" fill="#78d040" opacity="0.8"/>
<path d="M468.3,892.8 Q486.6,815.7 534.3,752.6 Q496.5,815.7 478.2,892.8 Z" fill="#44a01c" opacity="0.8"/>
<path d="M1840.5,964.9 Q1848.1,921.1 1871.7,885.3 Q1859.8,921.1 1852.3,964.9 Z" fill="#50b024" opacity="0.8"/>
<path d="M843.2,977.1 Q871.4,888.3 942.2,815.6 Q881.6,888.3 853.4,977.1 Z" fill="#8edc50" opacity="0.8"/>
<path d="M1644.8,875.6 Q1657,818.4 1687.3,771.6 Q1660.9,818.4 1648.8,875.6 Z" fill="#a4e468" opacity="0.8"/>
<path d="M1225.9,989.2 Q1242.6,907.1 1285.7,839.9 Q1250.7,907.1 1233.9,989.2 Z" fill="#50b024" opacity="0.8"/>
<path d="M918.7,878.6 Q912.1,829.9 901.4,790 Q921.2,829.9 927.7,878.6 Z" fill="#50b024" opacity="0.8"/>
<path d="M597.3,1019.7 Q606.3,984.3 630.3,955.4 Q612.6,984.3 603.7,1019.7 Z" fill="#2a7810" opacity="0.8"/>
<path d="M701.4,865.4 Q701.4,795.3 703.4,737.9 Q705.5,795.3 705.5,865.4 Z" fill="#a4e468" opacity="0.8"/>
<path d="M1850.9,961.2 Q1878.4,872.7 1945.2,800.3 Q1883.5,872.7 1856,961.2 Z" fill="#78d040" opacity="0.8"/>
<path d="M717.2,1009.6 Q713.4,922 707.9,850.3 Q720,922 723.7,1009.6 Z" fill="#8edc50" opacity="0.8"/>
<path d="M634,862.8 Q636.5,816.8 645,779.2 Q641.7,816.8 639.2,862.8 Z" fill="#2a7810" opacity="0.8"/>
<path d="M961.4,976.2 Q987.1,887 1050.8,814.1 Q994.3,887 968.6,976.2 Z" fill="#8edc50" opacity="0.8"/>
<path d="M1029.4,985.9 Q1012.9,893.1 978.1,817.1 Q1020.3,893.1 1036.8,985.9 Z" fill="#226a0c" opacity="0.8"/>
<path d="M246,939.8 Q238.7,874.3 226.2,820.7 Q247.5,874.3 254.7,939.8 Z" fill="#226a0c" opacity="0.8"/>
<path d="M678.1,905 Q668,845.2 646.7,796.2 Q672.8,845.2 683,905 Z" fill="#8edc50" opacity="0.8"/>
<path d="M46.1,882.7 Q47.6,844.2 54.9,812.7 Q54.9,844.2 53.3,882.7 Z" fill="#a4e468" opacity="0.8"/>
<path d="M1590.6,1003.1 Q1611.9,920.6 1666.2,853.1 Q1621.4,920.6 1600.1,1003.1 Z" fill="#78d040" opacity="0.8"/>
<path d="M268.7,887.8 Q280.7,815.6 311.1,756.6 Q285.5,815.6 273.5,887.8 Z" fill="#68c830" opacity="0.8"/>
<path d="M571.1,1011.2 Q577.5,948.6 596.4,897.3 Q585.3,948.6 578.9,1011.2 Z" fill="#44a01c" opacity="0.8"/>
<path d="M614.7,978.6 Q622.8,946.1 645.8,919.6 Q631.4,946.1 623.4,978.6 Z" fill="#44a01c" opacity="0.8"/>
<path d="M170.4,947.9 Q177.2,879.1 198.4,822.8 Q188.1,879.1 181.4,947.9 Z" fill="#50b024" opacity="0.8"/>
<path d="M831.3,982.1 Q820.3,876.6 799.9,790.3 Q830.6,876.6 841.5,982.1 Z" fill="#b4ec7c" opacity="0.8"/>
<path d="M1234.1,971.7 Q1236.8,897.1 1248.2,836.1 Q1247.3,897.1 1244.7,971.7 Z" fill="#68c830" opacity="0.8"/>
<path d="M1219.2,925.1 Q1231.1,877.2 1264.1,837.9 Q1241.3,877.2 1229.3,925.1 Z" fill="#78d040" opacity="0.8"/>
<path d="M1645.3,941.8 Q1632.4,858.5 1607.7,790.4 Q1643.1,858.5 1656,941.8 Z" fill="#b4ec7c" opacity="0.8"/>
<path d="M310.3,985.7 Q321,894.1 351.9,819.1 Q333,894.1 322.3,985.7 Z" fill="#a4e468" opacity="0.8"/>
<path d="M1425.5,1020 Q1417.2,976.6 1403,941 Q1427.3,976.6 1435.6,1020 Z" fill="#c0f090" opacity="0.8"/>
<path d="M1277.9,1013.6 Q1295.7,931.1 1340,863.5 Q1300.8,931.1 1283,1013.6 Z" fill="#226a0c" opacity="0.8"/>
<path d="M416.6,995.2 Q411.7,954 406,920.2 Q423.3,954 428.3,995.2 Z" fill="#226a0c" opacity="0.8"/>
<path d="M1154,1011.2 Q1133.8,917.6 1092.4,841.1 Q1145.4,917.6 1165.6,1011.2 Z" fill="#78d040" opacity="0.8"/>
<path d="M463.6,975.2 Q454.2,934.5 437.2,901.3 Q464.4,934.5 473.8,975.2 Z" fill="#b4ec7c" opacity="0.8"/>
<path d="M117.1,907.4 Q140.5,828.8 199.9,764.5 Q149.8,828.8 126.4,907.4 Z" fill="#50b024" opacity="0.8"/>
<path d="M1300.6,860 Q1306.8,809 1323,767.2 Q1310.5,809 1304.3,860 Z" fill="#c0f090" opacity="0.8"/>
<path d="M373.5,995.6 Q360.9,918.9 334.1,856.1 Q366.1,918.9 378.7,995.6 Z" fill="#68c830" opacity="0.8"/>
<path d="M6.2,954.7 Q-4.9,902.3 -26.8,859.4 Q3.1,902.3 14.2,954.7 Z" fill="#78d040" opacity="0.8"/>
<path d="M11.1,1018.6 Q25.1,918.7 62.3,837.1 Q34.2,918.7 20.2,1018.6 Z" fill="#44a01c" opacity="0.8"/>
<path d="M1907.9,970.3 Q1888.9,884 1848,813.5 Q1895.4,884 1914.4,970.3 Z" fill="#50b024" opacity="0.8"/>
<path d="M330.9,975.4 Q329.8,881.9 331.7,805.4 Q338.7,881.9 339.8,975.4 Z" fill="#68c830" opacity="0.8"/>
<path d="M2049.3,891 Q2063.7,831.8 2101,783.3 Q2071.1,831.8 2056.7,891 Z" fill="#226a0c" opacity="0.8"/>
<path d="M267.4,907.7 Q274.3,834.2 292.9,774 Q279.4,834.2 272.5,907.7 Z" fill="#50b024" opacity="0.8"/>
<path d="M438,955.8 Q422.8,890.7 391.5,837.5 Q431.3,890.7 446.5,955.8 Z" fill="#78d040" opacity="0.8"/>
<path d="M1972.2,961.4 Q1971.5,874.7 1974.2,803.7 Q1980.1,874.7 1980.7,961.4 Z" fill="#2a7810" opacity="0.8"/>
<path d="M1485.7,865.9 Q1484.1,841.8 1484.3,822.1 Q1491.7,841.8 1493.2,865.9 Z" fill="#38901a" opacity="0.8"/>
<path d="M519.9,898.1 Q507.5,845.7 481.3,802.9 Q513.1,845.7 525.5,898.1 Z" fill="#c0f090" opacity="0.8"/>
<path d="M1023.7,994.7 Q1022.6,912.6 1024.7,845.4 Q1031.7,912.6 1032.7,994.7 Z" fill="#38901a" opacity="0.8"/>
<path d="M1095.2,878.3 Q1094,835.5 1095.9,800.6 Q1103.2,835.5 1104.3,878.3 Z" fill="#226a0c" opacity="0.8"/>
<path d="M1197.1,881.6 Q1193.2,838.1 1188.6,802.5 Q1202.3,838.1 1206.2,881.6 Z" fill="#68c830" opacity="0.8"/>
<path d="M519,874.5 Q532.5,821.1 565.9,777.4 Q536.1,821.1 522.5,874.5 Z" fill="#226a0c" opacity="0.8"/>
<path d="M1081.8,919.6 Q1074.5,860.3 1061.7,811.8 Q1082.9,860.3 1090.2,919.6 Z" fill="#a4e468" opacity="0.8"/>
<path d="M121.1,935.3 Q124.6,844.7 137.6,770.5 Q134.2,844.7 130.7,935.3 Z" fill="#50b024" opacity="0.8"/>
<path d="M707.8,933.8 Q710.8,840.6 722.2,764.4 Q719.9,840.6 717,933.8 Z" fill="#38901a" opacity="0.8"/>
<path d="M1190.1,860.6 Q1199.6,829 1224.3,803.2 Q1204.4,829 1194.8,860.6 Z" fill="#68c830" opacity="0.8"/>
<path d="M957,985.4 Q956.3,941 960.4,904.7 Q968,941 968.7,985.4 Z" fill="#50b024" opacity="0.8"/>
<path d="M709.2,1012.2 Q707.6,970.9 706.6,937.1 Q712.7,970.9 714.3,1012.2 Z" fill="#b4ec7c" opacity="0.8"/>
<path d="M1777,925.3 Q1775.2,897.3 1774.5,874.4 Q1782.1,897.3 1783.8,925.3 Z" fill="#226a0c" opacity="0.8"/>
<path d="M1812.9,931.1 Q1816.3,876.5 1828.6,831.9 Q1825,876.5 1821.6,931.1 Z" fill="#8edc50" opacity="0.8"/>
<path d="M423.3,963.7 Q435.3,908.1 469.3,862.5 Q447.1,908.1 435.1,963.7 Z" fill="#78d040" opacity="0.8"/>
<path d="M1814.7,882 Q1829.3,834.2 1866,795 Q1834.6,834.2 1820,882 Z" fill="#38901a" opacity="0.8"/>
<path d="M1579.2,991.5 Q1583.5,934.8 1596.7,888.4 Q1589.8,934.8 1585.5,991.5 Z" fill="#226a0c" opacity="0.8"/>
<path d="M1535.6,984.3 Q1523.8,900.9 1500.7,832.6 Q1532.7,900.9 1544.4,984.3 Z" fill="#44a01c" opacity="0.8"/>
<path d="M618.1,949.5 Q599.8,857.7 561.4,782.6 Q608.3,857.7 626.6,949.5 Z" fill="#44a01c" opacity="0.8"/>
<path d="M327.2,923.4 Q336.2,891 360.6,864.4 Q342.9,891 333.9,923.4 Z" fill="#50b024" opacity="0.8"/>
<path d="M481.5,975.6 Q488.5,913.3 507.2,862.4 Q493,913.3 486,975.6 Z" fill="#50b024" opacity="0.8"/>
<path d="M888.1,884.2 Q901.1,838.4 934.6,800.8 Q907,838.4 893.9,884.2 Z" fill="#8edc50" opacity="0.8"/>
<path d="M12.6,926.3 Q21.9,834 48.6,758.4 Q31.9,834 22.5,926.3 Z" fill="#226a0c" opacity="0.8"/>
<path d="M493.8,958.1 Q511.4,888.1 556.1,830.8 Q518.5,888.1 500.8,958.1 Z" fill="#38901a" opacity="0.8"/>
<path d="M119.7,890.4 Q140.7,814.5 191.5,752.4 Q144.6,814.5 123.7,890.4 Z" fill="#b4ec7c" opacity="0.8"/>
<path d="M1764,950.1 Q1757.4,868.3 1745.5,801.4 Q1764.3,868.3 1770.9,950.1 Z" fill="#226a0c" opacity="0.8"/>
<path d="M1299.6,938.7 Q1315.3,884.4 1355.4,840 Q1322.1,884.4 1306.3,938.7 Z" fill="#68c830" opacity="0.8"/>
<path d="M861.5,997.4 Q865.3,924.4 877.8,864.7 Q872.8,924.4 869.1,997.4 Z" fill="#a4e468" opacity="0.8"/>
<path d="M1122.2,899.3 Q1111.3,835.4 1088.2,783.2 Q1115.6,835.4 1126.4,899.3 Z" fill="#226a0c" opacity="0.8"/>
<path d="M1992.6,910.3 Q1994.5,883.3 2001.6,861.1 Q1999.7,883.3 1997.7,910.3 Z" fill="#68c830" opacity="0.8"/>
<path d="M1647.3,889.9 Q1648,847.5 1652.8,812.9 Q1654.5,847.5 1653.8,889.9 Z" fill="#38901a" opacity="0.8"/>
<path d="M2008.3,864.8 Q2013.7,792.2 2029.8,732.7 Q2020.5,792.2 2015.1,864.8 Z" fill="#226a0c" opacity="0.8"/>
<path d="M1347.4,948.3 Q1357.7,902.9 1383.8,865.8 Q1362,902.9 1351.7,948.3 Z" fill="#a4e468" opacity="0.8"/>
<path d="M1357.1,863.7 Q1351.1,814.8 1339.9,774.8 Q1356.8,814.8 1362.8,863.7 Z" fill="#2a7810" opacity="0.8"/>
<path d="M46.2,993.5 Q51.8,899.1 70.1,821.9 Q62.1,899.1 56.4,993.5 Z" fill="#8edc50" opacity="0.8"/>
<path d="M469.3,983.8 Q464.7,903.3 459.5,837.5 Q475.7,903.3 480.3,983.8 Z" fill="#44a01c" opacity="0.8"/>
<path d="M1371.6,945.4 Q1372.1,895.1 1377,854 Q1379.5,895.1 1379.1,945.4 Z" fill="#78d040" opacity="0.8"/>
<path d="M601.1,960.1 Q621.3,890.4 672.3,833.3 Q629.2,890.4 609,960.1 Z" fill="#44a01c" opacity="0.8"/>
<path d="M1117.7,1013.2 Q1129.1,937.3 1160.8,875.3 Q1139.1,937.3 1127.7,1013.2 Z" fill="#c0f090" opacity="0.8"/>
<path d="M1792.3,1009.8 Q1801.9,935.9 1829.2,875.5 Q1811.7,935.9 1802.1,1009.8 Z" fill="#8edc50" opacity="0.8"/>
<path d="M286.3,894.4 Q287.1,851.3 291.8,816 Q293.1,851.3 292.3,894.4 Z" fill="#38901a" opacity="0.8"/>
<path d="M1242.3,988.7 Q1253.1,917.9 1284.1,860 Q1264.8,917.9 1254,988.7 Z" fill="#78d040" opacity="0.8"/>
<path d="M459.7,907.5 Q464.7,818.5 479.5,745.7 Q470.8,818.5 465.8,907.5 Z" fill="#c0f090" opacity="0.8"/>
<path d="M598.2,897.2 Q586,828.7 560.9,772.8 Q592.6,828.7 604.8,897.2 Z" fill="#50b024" opacity="0.8"/>
<path d="M770.6,1021.4 Q751.7,929 711.8,853.4 Q760.2,929 779.1,1021.4 Z" fill="#2a7810" opacity="0.8"/>
<path d="M1008.4,868.1 Q1003.5,792.7 994.4,731.1 Q1008.2,792.7 1013,868.1 Z" fill="#a4e468" opacity="0.8"/>
<path d="M1028.6,904.7 Q1013.6,816.4 982.6,744.1 Q1021.5,816.4 1036.6,904.7 Z" fill="#8edc50" opacity="0.8"/>
<path d="M1322.5,909.1 Q1325.9,848.6 1336.2,799 Q1330.4,848.6 1326.9,909.1 Z" fill="#b4ec7c" opacity="0.8"/>
<path d="M715.1,890.3 Q705.9,805.7 687.4,736.4 Q712,805.7 721.2,890.3 Z" fill="#a4e468" opacity="0.8"/>
<path d="M852,950.7 Q836.7,868.5 806.1,801.2 Q847.1,868.5 862.4,950.7 Z" fill="#a4e468" opacity="0.8"/>
<path d="M1898.9,876.9 Q1916.1,810.5 1960,756.2 Q1923.6,810.5 1906.4,876.9 Z" fill="#a4e468" opacity="0.8"/>
<path d="M1638.2,931.3 Q1633.7,878.4 1628.8,835.2 Q1644.4,878.4 1648.9,931.3 Z" fill="#a4e468" opacity="0.8"/>
<path d="M896.2,873.9 Q893.2,799.6 889.5,738.7 Q899.8,799.6 902.8,873.9 Z" fill="#78d040" opacity="0.8"/>
<path d="M819.4,950.6 Q801,860.5 762,786.8 Q808.7,860.5 827,950.6 Z" fill="#2a7810" opacity="0.8"/>
<path d="M1430.8,911 Q1432,883.2 1438.3,860.5 Q1439,883.2 1437.7,911 Z" fill="#b4ec7c" opacity="0.8"/>
<path d="M546.5,994 Q533,899.5 506.3,822.1 Q542.7,899.5 556.2,994 Z" fill="#68c830" opacity="0.8"/>
<path d="M827,931.5 Q838.2,877.2 868.9,832.8 Q847.5,877.2 836.3,931.5 Z" fill="#50b024" opacity="0.8"/>
<path d="M1901.8,953.9 Q1887.3,890.2 1855.7,838.2 Q1891.6,890.2 1906,953.9 Z" fill="#226a0c" opacity="0.8"/>
<path d="M984.7,961.1 Q969.3,876 936.5,806.5 Q975.6,876 991,961.1 Z" fill="#2a7810" opacity="0.8"/>
<path d="M245.2,1022.4 Q250.1,956.3 265.2,902.3 Q257.5,956.3 252.5,1022.4 Z" fill="#38901a" opacity="0.8"/>
<path d="M159.5,935.4 Q175.5,868 218.2,812.7 Q186.6,868 170.7,935.4 Z" fill="#38901a" opacity="0.8"/>
<path d="M315.4,956.9 Q322.8,901.3 345.4,855.9 Q333.9,901.3 326.5,956.9 Z" fill="#38901a" opacity="0.8"/>
<path d="M909.3,989.2 Q919.6,892.5 946.1,813.4 Q924.6,892.5 914.3,989.2 Z" fill="#a4e468" opacity="0.8"/>
<path d="M1508.9,900.3 Q1501.2,855.5 1487.4,818.9 Q1509.8,855.5 1517.5,900.3 Z" fill="#b4ec7c" opacity="0.8"/>
<path d="M579.8,1012.5 Q603.9,929 663.2,860.8 Q610.5,929 586.5,1012.5 Z" fill="#44a01c" opacity="0.8"/>
<path d="M364.6,976.2 Q382.6,874.2 429.4,790.8 Q392.2,874.2 374.2,976.2 Z" fill="#2a7810" opacity="0.8"/>
<path d="M979.1,878.9 Q982.3,827.7 993.8,785.9 Q990.5,827.7 987.3,878.9 Z" fill="#8edc50" opacity="0.8"/>
<path d="M930,902.1 Q924.3,834.1 914.9,778.4 Q931.8,834.1 937.5,902.1 Z" fill="#2a7810" opacity="0.8"/>
<path d="M1059,911.4 Q1059.3,862.2 1064.4,822.1 Q1068.3,862.2 1068,911.4 Z" fill="#38901a" opacity="0.8"/>
<path d="M63.7,983.6 Q76.2,944.2 110.9,912 Q87.3,944.2 74.8,983.6 Z" fill="#38901a" opacity="0.8"/>
<path d="M756.4,989.1 Q766.9,907.9 796.7,841.5 Q777.3,907.9 766.8,989.1 Z" fill="#c0f090" opacity="0.8"/>
<path d="M429.9,908 Q423.4,860.5 412,821.7 Q431,860.5 437.5,908 Z" fill="#a4e468" opacity="0.8"/>
<path d="M997.7,892.2 Q1007.2,861.1 1031.8,835.7 Q1012.1,861.1 1002.6,892.2 Z" fill="#8edc50" opacity="0.8"/>
<path d="M101.2,983.8 Q92.9,943.2 76,910 Q98.1,943.2 106.4,983.8 Z" fill="#2a7810" opacity="0.8"/>
<path d="M434.8,947.7 Q442.5,891.4 463.1,845.4 Q448,891.4 440.4,947.7 Z" fill="#78d040" opacity="0.8"/>
<path d="M382.7,871.5 Q386,846.6 397.6,826.3 Q394,846.6 390.7,871.5 Z" fill="#44a01c" opacity="0.8"/>
<path d="M1729.7,984.3 Q1760.5,879.5 1834.8,793.7 Q1765.3,879.5 1734.4,984.3 Z" fill="#226a0c" opacity="0.8"/>
<path d="M880.4,1018.4 Q899.8,947.7 947.7,889.9 Q905.5,947.7 886.2,1018.4 Z" fill="#68c830" opacity="0.8"/>
<path d="M715.4,952.4 Q735.9,889 788.5,837.1 Q745.5,889 725,952.4 Z" fill="#44a01c" opacity="0.8"/>
<path d="M1910.4,890.9 Q1902.4,848.4 1885.8,813.7 Q1906.3,848.4 1914.3,890.9 Z" fill="#a4e468" opacity="0.8"/>
<path d="M1488.2,871 Q1495.6,814.3 1516.5,767.9 Q1502.8,814.3 1495.4,871 Z" fill="#8edc50" opacity="0.8"/>
<path d="M1592.5,893.7 Q1592.1,852.8 1595.6,819.4 Q1600.8,852.8 1601.2,893.7 Z" fill="#c0f090" opacity="0.8"/>
<path d="M1807.9,1010 Q1806.6,955.2 1807.2,910.4 Q1813.8,955.2 1815.1,1010 Z" fill="#2a7810" opacity="0.8"/>
<path d="M1713.7,864.3 Q1715.5,823 1723.2,789.3 Q1722.1,823 1720.2,864.3 Z" fill="#38901a" opacity="0.8"/>
<path d="M737.2,931.9 Q745.2,888.7 766.7,853.3 Q750.8,888.7 742.8,931.9 Z" fill="#a4e468" opacity="0.8"/>
<path d="M212.1,880.2 Q198.9,826.6 171.1,782.8 Q204.6,826.6 217.8,880.2 Z" fill="#68c830" opacity="0.8"/>
<path d="M729.7,993 Q745.6,908.5 787.9,839.3 Q756.4,908.5 740.5,993 Z" fill="#50b024" opacity="0.8"/>
<path d="M861.3,963.2 Q854.1,919.6 842.4,883.9 Q864.1,919.6 871.3,963.2 Z" fill="#38901a" opacity="0.8"/>
<path d="M589.8,918.4 Q572.9,833.4 537,763.8 Q580,833.4 596.9,918.4 Z" fill="#38901a" opacity="0.8"/>
<path d="M2044.4,1000.3 Q2044.5,897.1 2047.8,812.7 Q2051.1,897.1 2051.1,1000.3 Z" fill="#38901a" opacity="0.8"/>
<path d="M467.6,890.4 Q467.3,822.1 469.8,766.3 Q473.9,822.1 474.2,890.4 Z" fill="#50b024" opacity="0.8"/>
<path d="M427.5,911.8 Q425.1,878.3 424.5,850.8 Q435.4,878.3 437.8,911.8 Z" fill="#38901a" opacity="0.8"/>
<path d="M1672.1,1001.1 Q1679.6,944.4 1701.7,898.1 Q1688.4,944.4 1680.8,1001.1 Z" fill="#68c830" opacity="0.8"/>
<path d="M1514.8,941.5 Q1529.4,868.3 1565.8,808.4 Q1534.1,868.3 1519.5,941.5 Z" fill="#50b024" opacity="0.8"/>
<path d="M1503.6,867.6 Q1518.3,798.8 1555.2,742.6 Q1523.5,798.8 1508.8,867.6 Z" fill="#68c830" opacity="0.8"/>
<path d="M1198.8,923.4 Q1191.6,890.4 1177.6,863.4 Q1197.1,890.4 1204.2,923.4 Z" fill="#2a7810" opacity="0.8"/>
<path d="M1023.3,923.6 Q1019.8,881.2 1014.4,846.5 Q1025.4,881.2 1028.9,923.6 Z" fill="#b4ec7c" opacity="0.8"/>
<path d="M1450.4,978 Q1457.9,905.3 1481.2,845.9 Q1469.3,905.3 1461.7,978 Z" fill="#b4ec7c" opacity="0.8"/>
<path d="M303.5,961.6 Q292.6,908.2 270.2,864.4 Q298.7,908.2 309.6,961.6 Z" fill="#226a0c" opacity="0.8"/>
<path d="M1177.5,907.4 Q1191.2,860.3 1225.3,821.7 Q1196,860.3 1182.3,907.4 Z" fill="#78d040" opacity="0.8"/>
<path d="M499.8,1022.9 Q492.7,959.7 481.2,908 Q503.2,959.7 510.3,1022.9 Z" fill="#b4ec7c" opacity="0.8"/>
<path d="M1894,903.3 Q1886.8,849.7 1872.3,805.9 Q1891.2,849.7 1898.4,903.3 Z" fill="#a4e468" opacity="0.8"/>
<path d="M1966.1,909.9 Q1978.6,838.4 2010.3,779.8 Q1983.7,838.4 1971.2,909.9 Z" fill="#b4ec7c" opacity="0.8"/>
<path d="M1047.3,1020 Q1042,914 1034.3,827.3 Q1051.5,914 1056.8,1020 Z" fill="#38901a" opacity="0.8"/>
<path d="M1768.4,946.5 Q1788,865.3 1838.7,798.8 Q1798.1,865.3 1778.6,946.5 Z" fill="#78d040" opacity="0.8"/>
<path d="M1974.6,986 Q1957.4,883.4 1919.9,799.6 Q1962.9,883.4 1980.1,986 Z" fill="#b4ec7c" opacity="0.8"/>
<path d="M668.5,927.2 Q662.4,872 652.5,826.9 Q671,872 677.1,927.2 Z" fill="#78d040" opacity="0.8"/>
<path d="M230.6,908.2 Q237.3,844.5 257.5,792.4 Q246.7,844.5 240.1,908.2 Z" fill="#8edc50" opacity="0.8"/>
<path d="M505.9,1006.3 Q512.4,911.4 532.8,833.8 Q522.7,911.4 516.1,1006.3 Z" fill="#8edc50" opacity="0.8"/>
<path d="M1778.7,985.7 Q1771,936.9 1758.9,896.9 Q1782.7,936.9 1790.4,985.7 Z" fill="#2a7810" opacity="0.8"/>
<path d="M1359.9,951.1 Q1370.7,876.2 1398.9,815 Q1376.7,876.2 1365.9,951.1 Z" fill="#8edc50" opacity="0.8"/>
<path d="M1364.7,1017.9 Q1355.5,951.1 1340,896.4 Q1367.4,951.1 1376.6,1017.9 Z" fill="#a4e468" opacity="0.8"/>
<path d="M96.2,990 Q108.2,903 142.4,831.8 Q120.4,903 108.3,990 Z" fill="#b4ec7c" opacity="0.8"/>
<path d="M155.4,929.9 Q170.8,862.4 209.1,807.2 Q175.7,862.4 160.3,929.9 Z" fill="#226a0c" opacity="0.8"/>
<path d="M1197.5,971.8 Q1186.8,875.8 1166.2,797.3 Q1195.9,875.8 1206.6,971.8 Z" fill="#8edc50" opacity="0.8"/>
<path d="M69,920.8 Q63.3,856.2 52.5,803.4 Q68.2,856.2 73.9,920.8 Z" fill="#50b024" opacity="0.8"/>
<path d="M1141.1,943.3 Q1148.4,896.6 1170.9,858.4 Q1159.2,896.6 1151.8,943.3 Z" fill="#b4ec7c" opacity="0.8"/>
<path d="M60.6,893.2 Q70.3,823.9 97,767.2 Q78.5,823.9 68.8,893.2 Z" fill="#8edc50" opacity="0.8"/>
<path d="M1969.9,1011.4 Q1998.2,921.5 2068.3,848 Q2006.6,921.5 1978.4,1011.4 Z" fill="#44a01c" opacity="0.8"/>
<path d="M1211.2,910.8 Q1208.5,868.8 1204.9,834.4 Q1214,868.8 1216.7,910.8 Z" fill="#a4e468" opacity="0.8"/>
<path d="M2043.3,952.9 Q2045.3,874.8 2055.3,810.9 Q2056.1,874.8 2054.1,952.9 Z" fill="#50b024" opacity="0.8"/>
<path d="M472.6,905.8 Q464.5,835.2 449.5,777.4 Q472.4,835.2 480.5,905.8 Z" fill="#226a0c" opacity="0.8"/>
<path d="M1980.3,883.2 Q1983.9,843.1 1995.2,810.3 Q1989.9,843.1 1986.4,883.2 Z" fill="#c0f090" opacity="0.8"/>
<path d="M425.4,991.7 Q418.1,942.5 404.6,902.2 Q425,942.5 432.3,991.7 Z" fill="#a4e468" opacity="0.8"/>
<path d="M1072.4,880.8 Q1062.9,835.4 1044.9,798.2 Q1071,835.4 1080.4,880.8 Z" fill="#2a7810" opacity="0.8"/>
<path d="M221.7,1014.7 Q236.4,925.5 275.3,852.5 Q245.7,925.5 231,1014.7 Z" fill="#50b024" opacity="0.8"/>
<path d="M728.3,896.5 Q726.6,822 725,761 Q731.6,822 733.3,896.5 Z" fill="#78d040" opacity="0.8"/>
<path d="M482.4,896.9 Q481.5,870.1 481.9,848.1 Q486.4,870.1 487.3,896.9 Z" fill="#b4ec7c" opacity="0.8"/>
<path d="M1503.9,927.8 Q1507.4,840.3 1520.6,768.7 Q1517.5,840.3 1514,927.8 Z" fill="#c0f090" opacity="0.8"/>
<path d="M1335.8,1014.4 Q1359,926.9 1419,855.3 Q1370.9,926.9 1347.7,1014.4 Z" fill="#44a01c" opacity="0.8"/>
<path d="M1406.5,1018.2 Q1420,958.2 1457.4,909.1 Q1431.9,958.2 1418.4,1018.2 Z" fill="#226a0c" opacity="0.8"/>
<path d="M1747.6,971.8 Q1754,913.2 1772.6,865.3 Q1761,913.2 1754.6,971.8 Z" fill="#c0f090" opacity="0.8"/>
<path d="M1947.8,900.2 Q1954.8,871 1973.9,847.1 Q1960.4,871 1953.4,900.2 Z" fill="#226a0c" opacity="0.8"/>
<path d="M1251,941.1 Q1268.5,864.3 1315,801.4 Q1279.6,864.3 1262.1,941.1 Z" fill="#a4e468" opacity="0.8"/>
<path d="M1498.5,1012.3 Q1502.7,977.4 1516.7,948.8 Q1510.8,977.4 1506.5,1012.3 Z" fill="#2a7810" opacity="0.8"/>
<path d="M104.8,982.5 Q105.8,911.9 111.1,854.2 Q111.8,911.9 110.9,982.5 Z" fill="#44a01c" opacity="0.8"/>
<path d="M1598.3,932.1 Q1625.5,840.2 1693.9,765.1 Q1635.3,840.2 1608.1,932.1 Z" fill="#c0f090" opacity="0.8"/>
<path d="M1446.7,921.8 Q1461.7,871.2 1501.8,829.9 Q1471.6,871.2 1456.5,921.8 Z" fill="#226a0c" opacity="0.8"/>
<path d="M420.2,907.1 Q419.5,869.5 422.6,838.7 Q429.3,869.5 430,907.1 Z" fill="#78d040" opacity="0.8"/>
<path d="M839.5,973.8 Q846,898.6 863.8,837.1 Q851.4,898.6 845,973.8 Z" fill="#b4ec7c" opacity="0.8"/>
<path d="M1752.1,944.3 Q1746.1,853.3 1736.6,778.9 Q1755.4,853.3 1761.4,944.3 Z" fill="#226a0c" opacity="0.8"/>
<path d="M1821.4,947.2 Q1821.2,916.2 1824.9,890.8 Q1829.7,916.2 1829.9,947.2 Z" fill="#68c830" opacity="0.8"/>
<path d="M1128.3,1013.9 Q1137.2,942.6 1164.4,884.2 Q1149.9,942.6 1141,1013.9 Z" fill="#44a01c" opacity="0.8"/>
<path d="M1511.6,888.7 Q1523.2,804.6 1553.6,735.8 Q1529.8,804.6 1518.1,888.7 Z" fill="#68c830" opacity="0.8"/>
<path d="M1983.1,957 Q1976.5,863 1966.4,786 Q1987,863 1993.6,957 Z" fill="#8edc50" opacity="0.8"/>
<path d="M1788.7,901.6 Q1792.8,856.7 1806.5,819.9 Q1800.9,856.7 1796.8,901.6 Z" fill="#b4ec7c" opacity="0.8"/>
<path d="M2013.9,1019.6 Q2018.7,948.6 2033.6,890.4 Q2025.9,948.6 2021.1,1019.6 Z" fill="#8edc50" opacity="0.8"/>
<path d="M1522.7,969.5 Q1543.1,870.4 1594.1,789.4 Q1550,870.4 1529.7,969.5 Z" fill="#a4e468" opacity="0.8"/>
<path d="M931.7,963.5 Q919.1,893.8 892.1,836.9 Q923.7,893.8 936.3,963.5 Z" fill="#a4e468" opacity="0.8"/>
<path d="M1950.5,967.6 Q1975.9,870.5 2037.6,791.1 Q1980.6,870.5 1955.2,967.6 Z" fill="#50b024" opacity="0.8"/>
<path d="M1897.7,911.8 Q1900.1,842.2 1910.9,785.2 Q1910.5,842.2 1908.2,911.8 Z" fill="#44a01c" opacity="0.8"/>
<path d="M578.2,885.8 Q602.7,809.8 663,747.6 Q608.5,809.8 584,885.8 Z" fill="#38901a" opacity="0.8"/>
<path d="M1754.6,911.9 Q1753.1,858.5 1753.1,814.9 Q1760,858.5 1761.5,911.9 Z" fill="#c0f090" opacity="0.8"/>
<path d="M515,888 Q522.9,860.4 543.7,837.8 Q527.3,860.4 519.3,888 Z" fill="#2a7810" opacity="0.8"/>
<path d="M1906.3,933.2 Q1912.9,858.5 1933.1,797.3 Q1922.5,858.5 1915.9,933.2 Z" fill="#44a01c" opacity="0.8"/>
<path d="M1287,1012 Q1286.1,969 1289.9,933.9 Q1297.8,969 1298.6,1012 Z" fill="#226a0c" opacity="0.8"/>
<path d="M340.3,944.3 Q329,897.1 307.4,858.5 Q338.3,897.1 349.6,944.3 Z" fill="#78d040" opacity="0.8"/>
<path d="M261.4,998.4 Q266,917.1 281.4,850.6 Q275.1,917.1 270.5,998.4 Z" fill="#b4ec7c" opacity="0.8"/>
<path d="M1478.7,944.2 Q1475.2,878.1 1470.5,823.9 Q1482.4,878.1 1485.9,944.2 Z" fill="#8edc50" opacity="0.8"/>
<path d="M438.1,913.4 Q455,826.4 496.3,755.2 Q458.9,826.4 442.1,913.4 Z" fill="#226a0c" opacity="0.8"/>
<path d="M1154.3,902.1 Q1153.9,863.8 1156.8,832.5 Q1161.5,863.8 1161.9,902.1 Z" fill="#50b024" opacity="0.8"/>
<path d="M951,928.7 Q952.4,889.1 958.2,856.7 Q957.4,889.1 956,928.7 Z" fill="#44a01c" opacity="0.8"/>
<path d="M1099.8,1024.6 Q1099.6,975.6 1105.4,935.6 Q1112.2,975.6 1112.4,1024.6 Z" fill="#68c830" opacity="0.8"/>
<path d="M1015.1,862.3 Q1017.1,784.1 1025.3,720.1 Q1024,784.1 1021.9,862.3 Z" fill="#c0f090" opacity="0.8"/>
<path d="M1811,948.1 Q1825.3,881.6 1861.3,827.2 Q1830.5,881.6 1816.2,948.1 Z" fill="#44a01c" opacity="0.8"/>
<path d="M698.6,889 Q706.1,811.3 728,747.8 Q715.1,811.3 707.7,889 Z" fill="#68c830" opacity="0.8"/>
<path d="M18.9,954.5 Q5.9,873.7 -19.9,807.7 Q15.2,873.7 28.2,954.5 Z" fill="#b4ec7c" opacity="0.8"/>
<path d="M1297,1019.7 Q1295.5,913.2 1295.5,826.2 Q1302.4,913.2 1303.9,1019.7 Z" fill="#78d040" opacity="0.8"/>
<path d="M282.2,974.9 Q288.9,925.5 309.7,885.1 Q299.4,925.5 292.8,974.9 Z" fill="#2a7810" opacity="0.8"/>
<path d="M1734.5,967.4 Q1743.6,914.4 1769.5,871 Q1752.9,914.4 1743.8,967.4 Z" fill="#68c830" opacity="0.8"/>
<path d="M908.9,969 Q935.2,887.9 1000.7,821.5 Q943.6,887.9 917.3,969 Z" fill="#a4e468" opacity="0.8"/>
<path d="M2011.8,1007.4 Q2024.9,920.5 2058.7,849.5 Q2031.4,920.5 2018.4,1007.4 Z" fill="#8edc50" opacity="0.8"/>
<path d="M224.7,1012.7 Q226.8,971 237.8,936.9 Q239.2,971 237.1,1012.7 Z" fill="#50b024" opacity="0.8"/>
<path d="M642.5,879.1 Q652.7,815.1 680.1,762.6 Q659.8,815.1 649.6,879.1 Z" fill="#44a01c" opacity="0.8"/>
<path d="M476.2,1012.1 Q486.9,973.2 516.1,941.3 Q495,973.2 484.2,1012.1 Z" fill="#b4ec7c" opacity="0.8"/>
<path d="M81,880.3 Q66.9,822.5 38.3,775.3 Q75.8,822.5 90,880.3 Z" fill="#68c830" opacity="0.8"/>
<path d="M233.8,987.4 Q220.1,892.5 190.6,814.9 Q225.1,892.5 238.8,987.4 Z" fill="#44a01c" opacity="0.8"/>
<path d="M1803.6,888.8 Q1795.4,848.5 1778.6,815.5 Q1800.3,848.5 1808.5,888.8 Z" fill="#68c830" opacity="0.8"/>
<path d="M981.3,975.6 Q990.5,936.8 1017.4,905.1 Q1001.6,936.8 992.4,975.6 Z" fill="#44a01c" opacity="0.8"/>
<path d="M525.2,907.7 Q545.1,821.8 595.8,751.5 Q553.4,821.8 533.4,907.7 Z" fill="#8edc50" opacity="0.8"/>
<path d="M527.4,990.2 Q509,886.2 469.1,801.2 Q515.1,886.2 533.6,990.2 Z" fill="#44a01c" opacity="0.8"/>
<path d="M59.9,926.1 Q72.5,878.8 105.9,840.2 Q80.8,878.8 68.3,926.1 Z" fill="#44a01c" opacity="0.8"/>
<path d="M1239.2,980.1 Q1249.2,899.8 1275.3,834.1 Q1254.7,899.8 1244.7,980.1 Z" fill="#50b024" opacity="0.8"/>
<path d="M176.9,968.2 Q170.3,930.1 158.7,898.9 Q178.2,930.1 184.9,968.2 Z" fill="#44a01c" opacity="0.8"/>
<path d="M1074.9,904.2 Q1079.3,815 1091.7,742.1 Q1083.7,815 1079.4,904.2 Z" fill="#50b024" opacity="0.8"/>
<path d="M1934.9,920.7 Q1932.8,855.3 1931.3,801.7 Q1940,855.3 1942.1,920.7 Z" fill="#78d040" opacity="0.8"/>
<path d="M1010.7,894.7 Q1003.1,811.6 988.9,743.5 Q1009.9,811.6 1017.4,894.7 Z" fill="#b4ec7c" opacity="0.8"/>
<path d="M1446,874.9 Q1437.9,806.2 1421.1,749.9 Q1442,806.2 1450,874.9 Z" fill="#78d040" opacity="0.8"/>
<path d="M1525.6,881.2 Q1528.4,797.6 1538,729.3 Q1534.5,797.6 1531.7,881.2 Z" fill="#226a0c" opacity="0.8"/>
<path d="M1090.2,982.4 Q1100,919.7 1128.7,868.3 Q1111.6,919.7 1101.8,982.4 Z" fill="#b4ec7c" opacity="0.8"/>
<path d="M1653,931.2 Q1670.1,849.9 1712.6,783.4 Q1675.4,849.9 1658.3,931.2 Z" fill="#78d040" opacity="0.8"/>
<path d="M1083.4,876.8 Q1072.7,822 1051.2,777.2 Q1079.8,822 1090.5,876.8 Z" fill="#44a01c" opacity="0.8"/>
<path d="M1015.9,972.5 Q1022.1,931.2 1041.1,897.4 Q1031,931.2 1024.8,972.5 Z" fill="#50b024" opacity="0.8"/>
<path d="M1701.2,962.5 Q1702.4,922.2 1708.9,889.2 Q1709.8,922.2 1708.6,962.5 Z" fill="#c0f090" opacity="0.8"/>
<path d="M1959.7,884.5 Q1960,836.8 1964.3,797.8 Q1967.2,836.8 1966.9,884.5 Z" fill="#2a7810" opacity="0.8"/>
<path d="M1969.5,872.2 Q1980.4,824.4 2007.9,785.3 Q1984.4,824.4 1973.5,872.2 Z" fill="#68c830" opacity="0.8"/>
<path d="M423.1,891.9 Q440.9,807.5 484.7,738.5 Q445.4,807.5 427.6,891.9 Z" fill="#b4ec7c" opacity="0.8"/>
<path d="M503.4,1018.3 Q486.4,922.5 449.4,844.1 Q491.6,922.5 508.6,1018.3 Z" fill="#68c830" opacity="0.8"/>
<path d="M-18.3,958.5 Q-5.8,876.4 29.1,809.2 Q5.7,876.4 -6.8,958.5 Z" fill="#a4e468" opacity="0.8"/>
<path d="M382.6,1007.1 Q403,914.1 453.7,838.1 Q409,914.1 388.6,1007.1 Z" fill="#c0f090" opacity="0.8"/>
<path d="M1628.6,960.4 Q1617.3,904.1 1595.4,858.1 Q1626,904.1 1637.3,960.4 Z" fill="#8edc50" opacity="0.8"/>
<path d="M983.8,871 Q994.4,816.9 1023.6,772.7 Q1003.6,816.9 993,871 Z" fill="#c0f090" opacity="0.8"/>
<path d="M742,889 Q759,821.2 800.6,765.6 Q763.1,821.2 746.1,889 Z" fill="#8edc50" opacity="0.8"/>
<path d="M1413.8,898.9 Q1411.5,840.8 1410.3,793.3 Q1420.2,840.8 1422.6,898.9 Z" fill="#68c830" opacity="0.8"/>
<path d="M795.5,883.5 Q805.9,803.1 833.7,737.4 Q813,803.1 802.6,883.5 Z" fill="#b4ec7c" opacity="0.8"/>
<path d="M1257.3,943.8 Q1282,855.1 1344.9,782.6 Q1292.9,855.1 1268.3,943.8 Z" fill="#2a7810" opacity="0.8"/>
<path d="M348.9,914.7 Q352.9,854.8 366.5,805.9 Q361.7,854.8 357.7,914.7 Z" fill="#50b024" opacity="0.8"/>
<path d="M1210.2,1013.5 Q1184.3,907.1 1127.7,820.1 Q1192.1,907.1 1218,1013.5 Z" fill="#44a01c" opacity="0.8"/>
<path d="M1681.7,934.5 Q1688.7,846.7 1710.2,774.8 Q1699.3,846.7 1692.3,934.5 Z" fill="#b4ec7c" opacity="0.8"/>
<path d="M944.4,890.3 Q944.9,851.6 951.1,819.9 Q954.9,851.6 954.3,890.3 Z" fill="#44a01c" opacity="0.8"/>
<path d="M670.5,973.3 Q672.5,915.4 682.2,867.9 Q682.3,915.4 680.2,973.3 Z" fill="#8edc50" opacity="0.8"/>
<path d="M1627.4,988.6 Q1631.6,926.3 1643.8,875.3 Q1636.3,926.3 1632.1,988.6 Z" fill="#2a7810" opacity="0.8"/>
<path d="M1415.9,885 Q1428.7,824.8 1463.3,775.6 Q1438.4,824.8 1425.7,885 Z" fill="#8edc50" opacity="0.8"/>
<path d="M601.1,985.2 Q605.5,941.4 619.8,905.7 Q613.3,941.4 608.8,985.2 Z" fill="#2a7810" opacity="0.8"/>
<path d="M510.8,888.5 Q505.7,819.7 495.6,763.4 Q509.4,819.7 514.5,888.5 Z" fill="#44a01c" opacity="0.8"/>
<path d="M1745,928.4 Q1751.4,885.9 1771,851 Q1761.1,885.9 1754.7,928.4 Z" fill="#68c830" opacity="0.8"/>
<path d="M900.2,894.4 Q916.4,817.7 957.7,755 Q923.5,817.7 907.4,894.4 Z" fill="#50b024" opacity="0.8"/>
<path d="M392.4,869.2 Q383.6,791.7 365.5,728.4 Q388.3,791.7 397,869.2 Z" fill="#44a01c" opacity="0.8"/>
<path d="M265.7,977.8 Q274.2,907.1 297.9,849.2 Q281.8,907.1 273.3,977.8 Z" fill="#226a0c" opacity="0.8"/>
<path d="M1334.1,888 Q1344.8,819.2 1374.3,762.8 Q1353.7,819.2 1343,888 Z" fill="#38901a" opacity="0.8"/>
<path d="M476.5,913.3 Q479.9,879 489.8,851 Q484.1,879 480.8,913.3 Z" fill="#a4e468" opacity="0.8"/>
<path d="M914.1,934.9 Q907.8,848.8 897.8,778.3 Q916.9,848.8 923.2,934.9 Z" fill="#226a0c" opacity="0.8"/>
<path d="M-3.9,987.8 Q5.1,951.4 29.6,921.6 Q12.1,951.4 3.1,987.8 Z" fill="#78d040" opacity="0.8"/>
<path d="M1751.3,932.2 Q1777.6,851.4 1841.6,785.4 Q1783.3,851.4 1757.1,932.2 Z" fill="#b4ec7c" opacity="0.8"/>
<path d="M592.6,916.6 Q600.1,859.5 620.5,812.8 Q606.2,859.5 598.8,916.6 Z" fill="#b4ec7c" opacity="0.8"/>
<path d="M1371.4,944.9 Q1385.3,879.8 1420.9,826.6 Q1391.6,879.8 1377.7,944.9 Z" fill="#38901a" opacity="0.8"/>
<path d="M371.3,1015.9 Q378.7,912.7 400,828.3 Q387.2,912.7 379.9,1015.9 Z" fill="#78d040" opacity="0.8"/>
<path d="M405.7,1016.8 Q396.3,956.3 380.7,906.8 Q409.3,956.3 418.8,1016.8 Z" fill="#44a01c" opacity="0.8"/>
<path d="M1665,1005.1 Q1665.6,896.1 1671.6,807 Q1674.4,896.1 1673.7,1005.1 Z" fill="#226a0c" opacity="0.8"/>
<path d="M456.9,925.2 Q445.3,857 422.5,801.2 Q453.5,857 465,925.2 Z" fill="#c0f090" opacity="0.8"/>
<path d="M1563.9,930.9 Q1573.8,884.3 1601.1,846.1 Q1581.9,884.3 1571.9,930.9 Z" fill="#2a7810" opacity="0.8"/>
<path d="M821.5,943.2 Q819,910.3 815.5,883.4 Q823.4,910.3 825.9,943.2 Z" fill="#226a0c" opacity="0.8"/>
<path d="M827.6,987.5 Q812.7,910.5 782.5,847.6 Q821.7,910.5 836.6,987.5 Z" fill="#38901a" opacity="0.8"/>
<path d="M910.3,951.2 Q902.3,914.2 888.2,883.9 Q911.3,914.2 919.2,951.2 Z" fill="#68c830" opacity="0.8"/>
<path d="M1505,866.8 Q1500.5,810.8 1493.3,764.9 Q1506.9,810.8 1511.3,866.8 Z" fill="#38901a" opacity="0.8"/>
<path d="M467.4,892.9 Q478.9,832.6 510.4,783.2 Q488.4,832.6 476.9,892.9 Z" fill="#b4ec7c" opacity="0.8"/>
<path d="M356.2,914.2 Q385.1,823.7 456.4,749.6 Q393.1,823.7 364.2,914.2 Z" fill="#44a01c" opacity="0.8"/>
<path d="M472.7,941.9 Q470.3,863.6 467.2,799.5 Q475.5,863.6 477.9,941.9 Z" fill="#44a01c" opacity="0.8"/>
<path d="M1119.4,919.7 Q1108.3,855 1084.6,802.1 Q1112.9,855 1124,919.7 Z" fill="#a4e468" opacity="0.8"/>
<path d="M1606.6,875.8 Q1601.5,833.6 1593.3,799.1 Q1609,833.6 1614.1,875.8 Z" fill="#78d040" opacity="0.8"/>
<path d="M1497.2,975.8 Q1483.3,913.5 1453.5,862.6 Q1488.5,913.5 1502.4,975.8 Z" fill="#68c830" opacity="0.8"/>
<path d="M1274.3,941.9 Q1276.2,873.2 1284.6,816.9 Q1284,873.2 1282.1,941.9 Z" fill="#78d040" opacity="0.8"/>
<path d="M524.4,1000.9 Q528.4,928.2 541.6,868.7 Q536,928.2 531.9,1000.9 Z" fill="#c0f090" opacity="0.8"/>
<path d="M1423.9,1004.7 Q1430,962.2 1446.9,927.4 Q1435.5,962.2 1429.5,1004.7 Z" fill="#a4e468" opacity="0.8"/>
<path d="M1399,967 Q1387.3,908.3 1363.8,860.3 Q1395.2,908.3 1406.9,967 Z" fill="#c0f090" opacity="0.8"/>
<path d="M169.3,876 Q165.9,830.1 162.5,792.6 Q175.5,830.1 179,876 Z" fill="#8edc50" opacity="0.8"/>
<path d="M2029,989.3 Q2029.1,902.7 2033,831.8 Q2036.6,902.7 2036.6,989.3 Z" fill="#38901a" opacity="0.8"/>
<path d="M931.6,912.3 Q925,872.7 911.9,840.3 Q929.5,872.7 936,912.3 Z" fill="#8edc50" opacity="0.8"/>
<path d="M875.2,897.2 Q894.6,824.7 944.5,765.3 Q904,824.7 884.6,897.2 Z" fill="#8edc50" opacity="0.8"/>
<path d="M1627.6,928.7 Q1635.9,880.5 1659.2,841.1 Q1643.6,880.5 1635.3,928.7 Z" fill="#78d040" opacity="0.8"/>
<path d="M1709.7,926.1 Q1719.9,844 1747.2,776.7 Q1726.6,844 1716.4,926.1 Z" fill="#c0f090" opacity="0.8"/>
<path d="M1305.7,931.4 Q1299.4,887.8 1287.5,852.2 Q1304.8,887.8 1311,931.4 Z" fill="#b4ec7c" opacity="0.8"/>
<path d="M1390.7,866.5 Q1403.2,797.5 1434.4,741.1 Q1407.2,797.5 1394.8,866.5 Z" fill="#78d040" opacity="0.8"/>
<path d="M922.5,892.2 Q935.1,852.1 969,819.3 Q944.3,852.1 931.7,892.2 Z" fill="#78d040" opacity="0.8"/>
<path d="M310.8,1021.3 Q308.2,977.5 304.8,941.7 Q314,977.5 316.7,1021.3 Z" fill="#50b024" opacity="0.8"/>
<path d="M867.7,883.9 Q883,815.1 923.6,758.7 Q892.6,815.1 877.3,883.9 Z" fill="#2a7810" opacity="0.8"/>
<path d="M1170.3,935.7 Q1183.2,839.9 1216.4,761.5 Q1189.8,839.9 1177,935.7 Z" fill="#50b024" opacity="0.8"/>
<path d="M695.9,894.4 Q696.5,855.6 700.4,823.7 Q701.6,855.6 700.9,894.4 Z" fill="#226a0c" opacity="0.8"/>
<path d="M1212,978.1 Q1201.9,893.1 1182.2,823.6 Q1209.3,893.1 1219.4,978.1 Z" fill="#2a7810" opacity="0.8"/>
<path d="M1660.7,945.4 Q1660.9,857 1666.8,784.8 Q1671.3,857 1671,945.4 Z" fill="#78d040" opacity="0.8"/>
<path d="M1450.3,978.1 Q1462.9,923.2 1495,878.4 Q1468.4,923.2 1455.9,978.1 Z" fill="#226a0c" opacity="0.8"/>
<path d="M1720.6,1002.7 Q1723.4,958.5 1732.7,922.3 Q1729.3,958.5 1726.6,1002.7 Z" fill="#38901a" opacity="0.8"/>
<path d="M413.9,973.4 Q426,868.7 456.5,783 Q430.8,868.7 418.7,973.4 Z" fill="#78d040" opacity="0.8"/>
<path d="M1435.4,1016.9 Q1416.6,920.5 1377.9,841.6 Q1426.8,920.5 1445.6,1016.9 Z" fill="#226a0c" opacity="0.8"/>
<path d="M1956.1,940 Q1961.4,872.7 1978.8,817.6 Q1971.7,872.7 1966.4,940 Z" fill="#a4e468" opacity="0.8"/>
<path d="M1232,895.4 Q1225.5,853.8 1212.6,819.7 Q1230.1,853.8 1236.5,895.4 Z" fill="#78d040" opacity="0.8"/>
<path d="M1554.9,1003 Q1567.4,942.7 1602.5,893.4 Q1578.9,942.7 1566.3,1003 Z" fill="#50b024" opacity="0.8"/>
<path d="M547,881.4 Q534.8,800.4 509.8,734.1 Q541.7,800.4 553.9,881.4 Z" fill="#b4ec7c" opacity="0.8"/>
<path d="M796.5,954 Q797.3,882.1 802.9,823.2 Q804.6,882.1 803.7,954 Z" fill="#c0f090" opacity="0.8"/>
<path d="M609.3,943.6 Q611.8,913.3 620.7,888.6 Q618,913.3 615.5,943.6 Z" fill="#38901a" opacity="0.8"/>
<path d="M1235.7,973 Q1240.3,938.1 1255,909.6 Q1248.4,938.1 1243.8,973 Z" fill="#44a01c" opacity="0.8"/>
<path d="M0.9,930.7 Q-9.9,850 -32.6,783.9 Q-5.1,850 5.7,930.7 Z" fill="#78d040" opacity="0.8"/>
<path d="M229.5,960.2 Q226.9,917.8 224.3,883.1 Q233.8,917.8 236.4,960.2 Z" fill="#78d040" opacity="0.8"/>
<path d="M2040.8,866.1 Q2028.5,807.8 2003.1,760.2 Q2035,807.8 2047.3,866.1 Z" fill="#68c830" opacity="0.8"/>
<path d="M1748.8,992.9 Q1739.6,921.2 1722.8,862.5 Q1748.8,921.2 1758,992.9 Z" fill="#50b024" opacity="0.8"/>
<path d="M743.2,890.8 Q752.2,856.9 777.8,829.1 Q761.8,856.9 752.9,890.8 Z" fill="#226a0c" opacity="0.8"/>
<path d="M968.7,865.6 Q968,792.9 970.7,733.4 Q976.8,792.9 977.6,865.6 Z" fill="#38901a" opacity="0.8"/>
<path d="M671.4,935.8 Q664.6,892.3 651.2,856.7 Q669.4,892.3 676.2,935.8 Z" fill="#78d040" opacity="0.8"/>
<path d="M1979.3,954.4 Q1990.7,912.6 2019.8,878.3 Q1995.7,912.6 1984.3,954.4 Z" fill="#b4ec7c" opacity="0.8"/>
<path d="M945.4,965.9 Q953.3,880.3 977.4,810.3 Q964.2,880.3 956.2,965.9 Z" fill="#a4e468" opacity="0.8"/>
<path d="M337.5,863.7 Q346,805.6 369.8,758.1 Q353.6,805.6 345,863.7 Z" fill="#b4ec7c" opacity="0.8"/>
<path d="M1224.3,1005.6 Q1241,924.4 1285.9,858 Q1253,924.4 1236.4,1005.6 Z" fill="#68c830" opacity="0.8"/>
<path d="M2019,937.4 Q2040.5,847.1 2094.6,773.1 Q2048.3,847.1 2026.8,937.4 Z" fill="#38901a" opacity="0.8"/>
<path d="M1262.6,978.2 Q1287.4,880.6 1350,800.7 Q1296.5,880.6 1271.7,978.2 Z" fill="#b4ec7c" opacity="0.8"/>
<path d="M360.7,962.1 Q384.6,869.6 443.9,793.9 Q391.9,869.6 368.1,962.1 Z" fill="#8edc50" opacity="0.8"/>
<path d="M771.7,958.6 Q769.3,919.8 766.1,888 Q774.1,919.8 776.5,958.6 Z" fill="#50b024" opacity="0.8"/>
<path d="M778,924.4 Q785.7,873.4 806,831.7 Q790.2,873.4 782.5,924.4 Z" fill="#38901a" opacity="0.8"/>
<path d="M891.6,880.5 Q891.1,815 892.8,761.4 Q896.4,815 896.9,880.5 Z" fill="#38901a" opacity="0.8"/>
<path d="M324.2,894.9 Q309.5,829.2 278,775.5 Q315.1,829.2 329.8,894.9 Z" fill="#a4e468" opacity="0.8"/>
<path d="M1638.8,1001.5 Q1642,943.8 1653.2,896.5 Q1649.2,943.8 1645.9,1001.5 Z" fill="#c0f090" opacity="0.8"/>
<path d="M1801.3,878.9 Q1806.9,839.2 1822,806.7 Q1811.2,839.2 1805.6,878.9 Z" fill="#c0f090" opacity="0.8"/>
<path d="M1929.9,928.1 Q1949.4,839.5 1997.5,767.1 Q1954.4,839.5 1934.9,928.1 Z" fill="#50b024" opacity="0.8"/>
<path d="M1178.9,1007.9 Q1166.3,925.2 1143,857.6 Q1178.5,925.2 1191.1,1007.9 Z" fill="#50b024" opacity="0.8"/>
<path d="M941.6,969.7 Q950.3,890.3 975.7,825.3 Q960.3,890.3 951.6,969.7 Z" fill="#b4ec7c" opacity="0.8"/>
<path d="M2013.6,996.6 Q2024.2,887.9 2052.5,798.9 Q2031.3,887.9 2020.7,996.6 Z" fill="#226a0c" opacity="0.8"/>
<path d="M125.8,983.2 Q135.4,883.4 161.2,801.6 Q142.4,883.4 132.8,983.2 Z" fill="#78d040" opacity="0.8"/>
<path d="M893.3,977.2 Q895,941.8 903.5,912.8 Q904.4,941.8 902.7,977.2 Z" fill="#38901a" opacity="0.8"/>
<path d="M365.6,914.8 Q353.1,855 326.5,806.1 Q358.2,855 370.6,914.8 Z" fill="#226a0c" opacity="0.8"/>
<path d="M2010.7,882.5 Q2024.4,838.1 2060.5,801.9 Q2033,838.1 2019.3,882.5 Z" fill="#226a0c" opacity="0.8"/>
<path d="M1407.5,959.5 Q1408,922.5 1412.6,892.2 Q1414.7,922.5 1414.2,959.5 Z" fill="#2a7810" opacity="0.8"/>
<path d="M2051.9,951 Q2040.8,888.4 2017.6,837.1 Q2045.9,888.4 2056.9,951 Z" fill="#b4ec7c" opacity="0.8"/>
<path d="M744.7,1008.7 Q737.3,920.7 725.6,848.7 Q748.4,920.7 755.8,1008.7 Z" fill="#8edc50" opacity="0.8"/>
<path d="M1428.6,952.6 Q1409.9,854.4 1370.5,774.1 Q1418.6,854.4 1437.4,952.6 Z" fill="#a4e468" opacity="0.8"/>
<path d="M1826,860.3 Q1814.9,806.5 1791.3,762.4 Q1819.8,806.5 1830.9,860.3 Z" fill="#a4e468" opacity="0.8"/>
<path d="M98.4,980 Q82.1,904.2 48.8,842.1 Q91.8,904.2 108.2,980 Z" fill="#8edc50" opacity="0.8"/>
<path d="M1965.4,982.4 Q1977.7,928.4 2010.6,884.3 Q1986,928.4 1973.7,982.4 Z" fill="#44a01c" opacity="0.8"/>
<path d="M1550.2,865.6 Q1572.3,787.7 1625.7,724 Q1576,787.7 1553.9,865.6 Z" fill="#226a0c" opacity="0.8"/>
<path d="M827.5,975.5 Q823.1,925.8 816.5,885.2 Q830.4,925.8 834.8,975.5 Z" fill="#b4ec7c" opacity="0.8"/>
<path d="M1989.2,950.9 Q1981.7,897.4 1968.8,853.6 Q1991.1,897.4 1998.6,950.9 Z" fill="#44a01c" opacity="0.8"/>
<path d="M1171.6,973.7 Q1165.1,918 1153.9,872.4 Q1173,918 1179.5,973.7 Z" fill="#50b024" opacity="0.8"/>
<path d="M1167.4,868.3 Q1164.5,838.5 1160.4,814.1 Q1169.6,838.5 1172.4,868.3 Z" fill="#38901a" opacity="0.8"/>
<path d="M227.9,912.5 Q245.5,839.8 291.6,780.3 Q255.5,839.8 237.8,912.5 Z" fill="#a4e468" opacity="0.8"/>
<path d="M1633.8,882.7 Q1632.1,853.7 1632.4,829.9 Q1640.9,853.7 1642.6,882.7 Z" fill="#78d040" opacity="0.8"/>
<path d="M566.3,867.2 Q565.2,831.2 567.1,801.8 Q573.9,831.2 574.9,867.2 Z" fill="#38901a" opacity="0.8"/>
<path d="M523.8,966.2 Q539.3,910.5 580,864.9 Q548.4,910.5 532.9,966.2 Z" fill="#c0f090" opacity="0.8"/>
<path d="M157.6,913.3 Q167.1,867.9 191.4,830.7 Q171.5,867.9 162,913.3 Z" fill="#c0f090" opacity="0.8"/>
<path d="M320.3,1018.3 Q331.9,981.3 364.6,951 Q343,981.3 331.4,1018.3 Z" fill="#8edc50" opacity="0.8"/>
<path d="M1637.1,971.2 Q1638,881.6 1646,808.2 Q1649.8,881.6 1649,971.2 Z" fill="#68c830" opacity="0.8"/>
<path d="M970,981 Q977.9,895.1 1000.5,824.7 Q986.6,895.1 978.7,981 Z" fill="#a4e468" opacity="0.8"/>
<path d="M750.6,913 Q755.7,821.9 770.3,747.4 Q761,821.9 755.9,913 Z" fill="#44a01c" opacity="0.8"/>
<path d="M1184.8,861.2 Q1180,834 1171.6,811.8 Q1185.3,834 1190.1,861.2 Z" fill="#c0f090" opacity="0.8"/>
<path d="M1123.5,899.6 Q1114.6,811 1096.9,738.5 Q1120.6,811 1129.4,899.6 Z" fill="#78d040" opacity="0.8"/>
<path d="M556.3,956.5 Q552.6,922.8 546.8,895.3 Q558.5,922.8 562.2,956.5 Z" fill="#2a7810" opacity="0.8"/>
<path d="M784.2,941.3 Q764.1,853.2 721.8,781.2 Q773.3,853.2 793.4,941.3 Z" fill="#226a0c" opacity="0.8"/>
<path d="M2016.7,912 Q2028.6,872.5 2061,840.2 Q2037.6,872.5 2025.7,912 Z" fill="#50b024" opacity="0.8"/>
<path d="M216.8,861.6 Q212.7,795 205.6,740.5 Q217.6,795 221.6,861.6 Z" fill="#68c830" opacity="0.8"/>
<path d="M850.4,874.2 Q859.2,841.6 882.6,814.9 Q864.7,841.6 855.9,874.2 Z" fill="#44a01c" opacity="0.8"/>
<path d="M495.4,945.5 Q495.9,868.5 502.4,805.6 Q506.6,868.5 506.1,945.5 Z" fill="#50b024" opacity="0.8"/>
<path d="M795.5,903.2 Q795.7,872.6 800.2,847.6 Q803.8,872.6 803.6,903.2 Z" fill="#8edc50" opacity="0.8"/>
<path d="M1731.4,946.6 Q1719.7,856.6 1696.9,783 Q1728.7,856.6 1740.4,946.6 Z" fill="#226a0c" opacity="0.8"/>
<path d="M953.2,987.7 Q972.1,895.3 1021.1,819.6 Q982.1,895.3 963.2,987.7 Z" fill="#c0f090" opacity="0.8"/>
<path d="M1577.2,906.1 Q1563.6,830.9 1536.7,769.3 Q1573.1,830.9 1586.6,906.1 Z" fill="#c0f090" opacity="0.8"/>
<path d="M1286.1,941.7 Q1267.5,856.6 1226.7,787.1 Q1272.7,856.6 1291.3,941.7 Z" fill="#a4e468" opacity="0.8"/>
<path d="M1724.8,940 Q1713.6,855.1 1691.5,785.6 Q1721.4,855.1 1732.6,940 Z" fill="#226a0c" opacity="0.8"/>
<path d="M1316.7,919.4 Q1328.1,873.8 1358.8,836.6 Q1336.5,873.8 1325.1,919.4 Z" fill="#8edc50" opacity="0.8"/>
<path d="M85.3,868.6 Q82.3,840.4 77.2,817.4 Q86.1,840.4 89.1,868.6 Z" fill="#8edc50" opacity="0.8"/>
<path d="M831,895.2 Q836.3,845.5 851.7,804.8 Q842.4,845.5 837.1,895.2 Z" fill="#50b024" opacity="0.8"/>
<path d="M172.9,962.1 Q173.1,925.1 179.3,894.8 Q184.8,925.1 184.7,962.1 Z" fill="#226a0c" opacity="0.8"/>
<path d="M1108.7,894.4 Q1103,867.6 1094.4,845.7 Q1112,867.6 1117.7,894.4 Z" fill="#44a01c" opacity="0.8"/>
<path d="M1220.1,958.5 Q1222.1,899.6 1231.5,851.4 Q1231.6,899.6 1229.6,958.5 Z" fill="#38901a" opacity="0.8"/>
<path d="M370.3,1001.3 Q384.5,945.4 421.3,899.6 Q392.1,945.4 377.9,1001.3 Z" fill="#50b024" opacity="0.8"/>
<path d="M200,930.7 Q194.1,899.5 182.6,874 Q198.3,899.5 204.1,930.7 Z" fill="#50b024" opacity="0.8"/>
<path d="M1683.8,904.1 Q1689.7,845.2 1706.9,797 Q1696.4,845.2 1690.5,904.1 Z" fill="#2a7810" opacity="0.8"/>
<path d="M1597.3,1012 Q1577,902.9 1534.8,813.7 Q1587.2,902.9 1607.5,1012 Z" fill="#2a7810" opacity="0.8"/>
<path d="M24.3,863 Q12.3,797.6 -13,744 Q17.9,797.6 29.9,863 Z" fill="#226a0c" opacity="0.8"/>
<path d="M1452,962.1 Q1461.2,871.4 1487.9,797.3 Q1471.6,871.4 1462.4,962.1 Z" fill="#226a0c" opacity="0.8"/>
<path d="M1529.9,1021.2 Q1543.4,948.5 1578.2,889 Q1550,948.5 1536.5,1021.2 Z" fill="#a4e468" opacity="0.8"/>
<path d="M353,946.9 Q345.6,904.3 331.5,869.5 Q351.6,904.3 358.9,946.9 Z" fill="#8edc50" opacity="0.8"/>
<path d="M1397.6,1004.5 Q1406.8,923.2 1433.3,856.6 Q1417.2,923.2 1408,1004.5 Z" fill="#38901a" opacity="0.8"/>
<path d="M-17.6,948.7 Q1.9,879.4 53.1,822.7 Q12.9,879.4 -6.6,948.7 Z" fill="#a4e468" opacity="0.8"/>
<path d="M1934,902.9 Q1928.6,874.9 1918.6,852.1 Q1934.1,874.9 1939.5,902.9 Z" fill="#68c830" opacity="0.8"/>
<path d="M771.5,901.8 Q773.5,831.5 782.8,773.9 Q782.7,831.5 780.6,901.8 Z" fill="#38901a" opacity="0.8"/>
<path d="M953.1,881.5 Q969.3,809 1011.7,749.7 Q978.6,809 962.4,881.5 Z" fill="#78d040" opacity="0.8"/>
<path d="M473.5,965.7 Q490.5,910.3 535.6,865 Q501.2,910.3 484.1,965.7 Z" fill="#c0f090" opacity="0.8"/>
<path d="M1573,890.4 Q1573.1,840.7 1576.3,800 Q1579,840.7 1578.9,890.4 Z" fill="#78d040" opacity="0.8"/>
<path d="M758.5,871.3 Q763.3,826.4 778.7,789.6 Q771.9,826.4 767.1,871.3 Z" fill="#2a7810" opacity="0.8"/>
<path d="M70.1,1014.1 Q79.1,977.9 105.2,948.3 Q89,977.9 80,1014.1 Z" fill="#a4e468" opacity="0.8"/>
<path d="M1472.1,933.2 Q1471.4,890.7 1474.5,855.9 Q1481.1,890.7 1481.9,933.2 Z" fill="#50b024" opacity="0.8"/>
<path d="M505.1,966 Q482.2,868.6 432.6,788.9 Q489.7,868.6 512.6,966 Z" fill="#44a01c" opacity="0.8"/>
<path d="M1872.1,994.6 Q1881.7,945.7 1909.3,905.8 Q1892,945.7 1882.4,994.6 Z" fill="#78d040" opacity="0.8"/>
<path d="M952.7,934.4 Q946.3,864.4 936.2,807.1 Q956.2,864.4 962.7,934.4 Z" fill="#38901a" opacity="0.8"/>
<path d="M1290.4,982.9 Q1285.1,906.2 1277.6,843.3 Q1294.9,906.2 1300.2,982.9 Z" fill="#38901a" opacity="0.8"/>
<path d="M1345.2,871.5 Q1344.5,818 1345.6,774.1 Q1349.7,818 1350.3,871.5 Z" fill="#a4e468" opacity="0.8"/>
<path d="M1400.9,863.2 Q1412,828.8 1440.4,800.7 Q1417.2,828.8 1406.1,863.2 Z" fill="#226a0c" opacity="0.8"/>
<path d="M364,999 Q363.6,952.7 366.4,914.8 Q371.4,952.7 371.8,999 Z" fill="#68c830" opacity="0.8"/>
<path d="M1363.8,935.6 Q1360,876 1355.2,827.2 Q1368.4,876 1372.3,935.6 Z" fill="#8edc50" opacity="0.8"/>
<path d="M1301.8,895 Q1313.5,853.9 1342.8,820.3 Q1317.6,853.9 1305.9,895 Z" fill="#c0f090" opacity="0.8"/>
<path d="M660.2,974.6 Q661.3,887.7 668.1,816.7 Q669.8,887.7 668.7,974.6 Z" fill="#a4e468" opacity="0.8"/>
<path d="M289.9,920.2 Q278,860.5 252.6,811.6 Q282.5,860.5 294.3,920.2 Z" fill="#a4e468" opacity="0.8"/>
<path d="M403.5,935.4 Q389.5,846.4 359,773.6 Q394,846.4 408,935.4 Z" fill="#b4ec7c" opacity="0.8"/>
<path d="M815.8,862 Q831.2,789.4 868.8,730 Q834.6,789.4 819.2,862 Z" fill="#2a7810" opacity="0.8"/>
<path d="M409,1007.7 Q404.9,925.8 400.2,858.8 Q415,925.8 419.2,1007.7 Z" fill="#44a01c" opacity="0.8"/>
<path d="M1655.1,891 Q1649.7,847.2 1639.1,811.4 Q1653.4,847.2 1658.8,891 Z" fill="#2a7810" opacity="0.8"/>
<path d="M1595.2,966 Q1595.8,928.6 1601.2,898.1 Q1604.1,928.6 1603.5,966 Z" fill="#8edc50" opacity="0.8"/>
<rect x="0" y="680" width="2048" height="70" fill="url(#hazeg)"/>
</g>
<g filter="url(#grain2)">
<path d="M-10,1240 -10,1000.5 L2,1003.4 L14,1003.1 L26,1001.2 L38,1002.2 L50,1002 L62,1002.9 L74,1003.5 L86,1000.7 L98,1000.5 L110,1003.8 L122,1002.2 L134,1003.6 L146,1000.6 L158,1002.4 L170,1003.6 L182,1001.7 L194,1004.6 L206,1004.4 L218,1001 L230,1001 L242,1003.1 L254,1004.8 L266,1002.6 L278,1002 L290,1002.8 L302,1001.3 L314,1002.1 L326,1003.1 L338,1003.3 L350,1002.3 L362,1002.4 L374,1002.4 L386,1003.4 L398,1002.7 L410,1001.7 L422,1005 L434,1003.9 L446,1004.3 L458,1002.6 L470,1005.8 L482,1005.3 L494,1002.4 L506,1003.3 L518,1004.9 L530,1004.9 L542,1005.9 L554,1003.9 L566,1005.5 L578,1005 L590,1003.5 L602,1004.7 L614,1005.9 L626,1005.8 L638,1004.5 L650,1004.9 L662,1002.7 L674,1003.6 L686,1005.9 L698,1004.4 L710,1003.5 L722,1005 L734,1005.7 L746,1005.6 L758,1004.5 L770,1004.8 L782,1005.1 L794,1006.2 L806,1005.2 L818,1004.8 L830,1005.2 L842,1003.4 L854,1003.5 L866,1006.2 L878,1007.4 L890,1005.9 L902,1005.1 L914,1004.3 L926,1005.6 L938,1007.6 L950,1006.8 L962,1005.9 L974,1007.2 L986,1004.8 L998,1006 L1010,1007.8 L1022,1006.3 L1034,1005.9 L1046,1005.2 L1058,1006.3 L1070,1008 L1082,1004.2 L1094,1007.4 L1106,1007.6 L1118,1007.9 L1130,1007.4 L1142,1007.7 L1154,1006.6 L1166,1006.8 L1178,1006.3 L1190,1004.9 L1202,1008.2 L1214,1007 L1226,1005.6 L1238,1006.8 L1250,1006.8 L1262,1006.3 L1274,1006.3 L1286,1007.2 L1298,1007.5 L1310,1007.6 L1322,1007 L1334,1005.3 L1346,1006.2 L1358,1006 L1370,1007.7 L1382,1008.8 L1394,1008.6 L1406,1008.7 L1418,1008.8 L1430,1006.6 L1442,1009 L1454,1008.4 L1466,1006 L1478,1005.8 L1490,1005.9 L1502,1008.9 L1514,1006.9 L1526,1006.4 L1538,1008.5 L1550,1007.4 L1562,1006.4 L1574,1006.8 L1586,1008.3 L1598,1006.9 L1610,1007.4 L1622,1009.2 L1634,1008.2 L1646,1007.7 L1658,1008.3 L1670,1006.6 L1682,1008.1 L1694,1008.3 L1706,1007.4 L1718,1007.1 L1730,1010.3 L1742,1008.8 L1754,1007.7 L1766,1009.3 L1778,1010.2 L1790,1007 L1802,1007.1 L1814,1007.6 L1826,1010 L1838,1007.8 L1850,1010 L1862,1009.9 L1874,1009.5 L1886,1008.2 L1898,1011.3 L1910,1010.6 L1922,1009.5 L1934,1008.4 L1946,1010.2 L1958,1009.2 L1970,1010 L1982,1009 L1994,1010.3 L2006,1008 L2018,1009 L2030,1011.8 L2042,1011.4 L2054,1009.2 L2060,1240 L-10,1240 Z" fill="#4e2416"/>
</g><g filter="url(#grain)">
<path d="M-10,1445 -10,1227.2 L-1,1227.2 L8,1221 L17,1221.2 L26,1226.5 L35,1225.8 L44,1225.4 L53,1222.9 L62,1225.1 L71,1225.1 L80,1225 L89,1222 L98,1224 L107,1223.8 L116,1226.1 L125,1228.1 L134,1227.8 L143,1225 L152,1224.3 L161,1223.1 L170,1221.5 L179,1221.5 L188,1224.6 L197,1223.6 L206,1224.1 L215,1227.7 L224,1225.2 L233,1225.5 L242,1223.3 L251,1221.8 L260,1224 L269,1222.7 L278,1225.3 L287,1228.8 L296,1226.6 L305,1223.2 L314,1228.2 L323,1227.5 L332,1227.1 L341,1228.4 L350,1227.4 L359,1227.7 L368,1224.6 L377,1229.1 L386,1229 L395,1223.4 L404,1227.6 L413,1227.4 L422,1225.6 L431,1226.2 L440,1225.9 L449,1229 L458,1226.1 L467,1228.4 L476,1225.1 L485,1228.9 L494,1229 L503,1226 L512,1226.8 L521,1229.3 L530,1227.9 L539,1226.3 L548,1224.5 L557,1225.3 L566,1227.9 L575,1224.2 L584,1229.5 L593,1225 L602,1229.6 L611,1225.4 L620,1230 L629,1228.3 L638,1226.9 L647,1227 L656,1228 L665,1227.6 L674,1225.7 L683,1225 L692,1227.2 L701,1230.2 L710,1228 L719,1224.2 L728,1229.5 L737,1228.9 L746,1230.2 L755,1225.2 L764,1229.1 L773,1224.4 L782,1228.6 L791,1225.9 L800,1225.6 L809,1230.2 L818,1224.9 L827,1227.8 L836,1230.2 L845,1226 L854,1225.8 L863,1230.5 L872,1227.3 L881,1229.4 L890,1224.7 L899,1227 L908,1225.7 L917,1229.3 L926,1225.2 L935,1231.3 L944,1224.8 L953,1229.8 L962,1224.9 L971,1226.5 L980,1230.5 L989,1225.9 L998,1226.1 L1007,1229.7 L1016,1227.6 L1025,1225.2 L1034,1231.9 L1043,1226.1 L1052,1225.3 L1061,1227.5 L1070,1229.4 L1079,1230.3 L1088,1225.9 L1097,1227.5 L1106,1225.4 L1115,1228.4 L1124,1230.6 L1133,1230.5 L1142,1231.6 L1151,1230.7 L1160,1231.4 L1169,1230.4 L1178,1228.8 L1187,1227.1 L1196,1230.1 L1205,1227.8 L1214,1226.3 L1223,1228.7 L1232,1231.8 L1241,1226.6 L1250,1229.8 L1259,1228.5 L1268,1229.4 L1277,1226.8 L1286,1232.5 L1295,1227.7 L1304,1230.1 L1313,1228.9 L1322,1226.1 L1331,1229.9 L1340,1227 L1349,1226.4 L1358,1226.3 L1367,1227.2 L1376,1226.8 L1385,1230.6 L1394,1229.8 L1403,1233.1 L1412,1232.8 L1421,1233.3 L1430,1228 L1439,1229.5 L1448,1228.1 L1457,1230.6 L1466,1230.8 L1475,1232.1 L1484,1231.5 L1493,1228.3 L1502,1229.5 L1511,1230.3 L1520,1226.7 L1529,1226.9 L1538,1229.6 L1547,1227.5 L1556,1231.8 L1565,1228.5 L1574,1227.5 L1583,1228.1 L1592,1228.5 L1601,1228.4 L1610,1230.6 L1619,1230.2 L1628,1229.2 L1637,1231.5 L1646,1228.6 L1655,1233.4 L1664,1233.9 L1673,1232.3 L1682,1230.2 L1691,1230.8 L1700,1231.3 L1709,1227.6 L1718,1230.2 L1727,1231 L1736,1228.7 L1745,1228.1 L1754,1233.1 L1763,1230 L1772,1231.1 L1781,1234 L1790,1231.8 L1799,1229.6 L1808,1234.5 L1817,1230.3 L1826,1227.8 L1835,1232.5 L1844,1228.5 L1853,1229.9 L1862,1233.7 L1871,1232.6 L1880,1228 L1889,1231.1 L1898,1230.8 L1907,1231.4 L1916,1229.5 L1925,1232.2 L1934,1228.6 L1943,1230.1 L1952,1230.7 L1961,1234.7 L1970,1228.7 L1979,1233.5 L1988,1229.6 L1997,1232.3 L2006,1231.1 L2015,1231.6 L2024,1233.7 L2033,1231.2 L2042,1229.3 L2051,1229.3 L2060,1229.1 L2060,1445 L-10,1445 Z" fill="#b87448"/>
<path d="M-10,1665 -10,1432.4 L-1,1434.3 L8,1433.3 L17,1434.7 L26,1434.9 L35,1431.6 L44,1431.3 L53,1436.3 L62,1432.9 L71,1432.8 L80,1437.4 L89,1434.3 L98,1436.5 L107,1434.4 L116,1435.4 L125,1432.5 L134,1435.4 L143,1436.9 L152,1434.9 L161,1436.2 L170,1435.8 L179,1432.2 L188,1436.4 L197,1435.5 L206,1433.8 L215,1432.2 L224,1437.2 L233,1434.9 L242,1436.4 L251,1437.4 L260,1436.5 L269,1437.8 L278,1434.6 L287,1437.1 L296,1435 L305,1438 L314,1437.7 L323,1433 L332,1433.3 L341,1433.8 L350,1438.4 L359,1435.2 L368,1436.4 L377,1434.5 L386,1435.8 L395,1435.1 L404,1434.9 L413,1436.4 L422,1436.4 L431,1438.4 L440,1437.1 L449,1438.6 L458,1438.2 L467,1439 L476,1437.2 L485,1434.2 L494,1438.4 L503,1439 L512,1438.7 L521,1436.7 L530,1437.7 L539,1434.7 L548,1438.4 L557,1436.9 L566,1435.2 L575,1434 L584,1438.7 L593,1439.6 L602,1434.2 L611,1438.5 L620,1436.2 L629,1434.7 L638,1435.6 L647,1438.5 L656,1439.2 L665,1434.2 L674,1437.7 L683,1434.3 L692,1438.4 L701,1436.1 L710,1439.5 L719,1440.1 L728,1437.3 L737,1440.3 L746,1436.2 L755,1434.8 L764,1438 L773,1434.6 L782,1435.7 L791,1437 L800,1438.2 L809,1435.5 L818,1434.9 L827,1439.9 L836,1436.6 L845,1440.5 L854,1440.2 L863,1437.1 L872,1437.6 L881,1438 L890,1438.8 L899,1438.6 L908,1438.3 L917,1438.6 L926,1440.5 L935,1437.9 L944,1437.4 L953,1439 L962,1436.1 L971,1436.4 L980,1440.5 L989,1437.7 L998,1437.8 L1007,1434.5 L1016,1436.9 L1025,1437.8 L1034,1434.4 L1043,1438 L1052,1438 L1061,1434.5 L1070,1437.9 L1079,1436.9 L1088,1438.1 L1097,1436.1 L1106,1438.2 L1115,1438.3 L1124,1434 L1133,1434.2 L1142,1437.8 L1151,1439.5 L1160,1435.2 L1169,1436.3 L1178,1437.1 L1187,1435.4 L1196,1435.7 L1205,1435.3 L1214,1435.6 L1223,1436.9 L1232,1435.1 L1241,1435.5 L1250,1437.8 L1259,1433.3 L1268,1436.5 L1277,1437.5 L1286,1434.9 L1295,1434.3 L1304,1437.7 L1313,1434.3 L1322,1433.9 L1331,1435.4 L1340,1436.9 L1349,1433.3 L1358,1434.6 L1367,1434.6 L1376,1437.5 L1385,1435.1 L1394,1437.6 L1403,1433.4 L1412,1434.4 L1421,1436.2 L1430,1437.6 L1439,1434.9 L1448,1433.5 L1457,1432.8 L1466,1435.3 L1475,1433.2 L1484,1436.8 L1493,1437 L1502,1433 L1511,1433.5 L1520,1436.6 L1529,1435.6 L1538,1436.5 L1547,1433.7 L1556,1432.4 L1565,1433.3 L1574,1436.3 L1583,1433.1 L1592,1433.5 L1601,1433.9 L1610,1433.8 L1619,1433.7 L1628,1436.8 L1637,1432.1 L1646,1431.2 L1655,1436.8 L1664,1436.3 L1673,1436.9 L1682,1433.6 L1691,1436.6 L1700,1436.4 L1709,1432.1 L1718,1435.2 L1727,1435.7 L1736,1434.7 L1745,1433.7 L1754,1432.3 L1763,1432.6 L1772,1431.9 L1781,1430.9 L1790,1433.9 L1799,1432.1 L1808,1435.2 L1817,1430.5 L1826,1435.6 L1835,1434.3 L1844,1435.7 L1853,1435.5 L1862,1435.4 L1871,1433.4 L1880,1430 L1889,1434.4 L1898,1430.9 L1907,1431.6 L1916,1433.7 L1925,1432.8 L1934,1432.1 L1943,1435.2 L1952,1433.2 L1961,1431.6 L1970,1431 L1979,1434.6 L1988,1432.2 L1997,1434 L2006,1431.4 L2015,1430.4 L2024,1432.4 L2033,1434 L2042,1430.1 L2051,1433.8 L2060,1434.5 L2060,1665 L-10,1665 Z" fill="#8c3414"/>
<path d="M-10,1955 -10,1610.4 L-1,1609.6 L8,1611.3 L17,1609.8 L26,1609.2 L35,1611.2 L44,1614.2 L53,1613.4 L62,1613.2 L71,1609.9 L80,1611.7 L89,1610.1 L98,1609.4 L107,1609 L116,1609.6 L125,1613.8 L134,1613.2 L143,1613 L152,1612.9 L161,1609.2 L170,1609.8 L179,1611.7 L188,1612.3 L197,1613 L206,1613.1 L215,1608.3 L224,1611.3 L233,1611.7 L242,1610.6 L251,1608.6 L260,1610.3 L269,1608 L278,1613 L287,1612.5 L296,1610.6 L305,1609 L314,1612.6 L323,1610.6 L332,1612.4 L341,1612.1 L350,1610 L359,1609.4 L368,1610.5 L377,1609.4 L386,1607.7 L395,1608.5 L404,1611.5 L413,1606.9 L422,1606.8 L431,1610.3 L440,1608.1 L449,1609.6 L458,1609.2 L467,1608.4 L476,1612.2 L485,1607.4 L494,1608.6 L503,1607.3 L512,1609.9 L521,1607.7 L530,1608.1 L539,1610.4 L548,1607.8 L557,1609.2 L566,1611.2 L575,1606.3 L584,1606 L593,1607 L602,1610.1 L611,1609.2 L620,1606.9 L629,1607.4 L638,1606.4 L647,1608.1 L656,1605.5 L665,1609.4 L674,1610.5 L683,1610.8 L692,1609.5 L701,1610.9 L710,1606.2 L719,1608.7 L728,1613.7 L737,1613.5 L746,1612.3 L755,1616.4 L764,1615.4 L773,1617.6 L782,1615.4 L791,1615.7 L800,1618.2 L809,1617.3 L818,1619.7 L827,1624.1 L836,1621.3 L845,1620.3 L854,1621.4 L863,1623.1 L872,1627.8 L881,1626.2 L890,1626.7 L899,1626.5 L908,1632.7 L917,1630.3 L926,1630 L935,1630 L944,1631 L953,1632.6 L962,1636.6 L971,1634.4 L980,1634.6 L989,1638.3 L998,1637.8 L1007,1643.2 L1016,1638.9 L1025,1642.3 L1034,1644.7 L1043,1643.5 L1052,1647.9 L1061,1645.8 L1070,1645.3 L1079,1647.3 L1088,1646 L1097,1649.2 L1106,1648.6 L1115,1652.5 L1124,1652.3 L1133,1650.5 L1142,1647.8 L1151,1649.2 L1160,1649.3 L1169,1649.2 L1178,1649.5 L1187,1653.4 L1196,1649.2 L1205,1648.8 L1214,1654.2 L1223,1652.1 L1232,1654.8 L1241,1651.4 L1250,1654.5 L1259,1653.1 L1268,1654.1 L1277,1653.9 L1286,1652.6 L1295,1650.3 L1304,1651.1 L1313,1655.2 L1322,1655.5 L1331,1655.8 L1340,1652.4 L1349,1654.4 L1358,1655.4 L1367,1654.6 L1376,1655.8 L1385,1654.2 L1394,1655 L1403,1655.4 L1412,1653 L1421,1657 L1430,1657.4 L1439,1652.2 L1448,1657.7 L1457,1657.8 L1466,1656.1 L1475,1652.5 L1484,1657.8 L1493,1653.3 L1502,1658.4 L1511,1656.8 L1520,1653.2 L1529,1654 L1538,1656.9 L1547,1656.7 L1556,1657.9 L1565,1659.1 L1574,1654.9 L1583,1653.8 L1592,1659.4 L1601,1654.1 L1610,1659 L1619,1654.2 L1628,1658.2 L1637,1657.8 L1646,1658.2 L1655,1656 L1664,1657.7 L1673,1653.5 L1682,1656.1 L1691,1653.8 L1700,1657 L1709,1656 L1718,1654 L1727,1654.1 L1736,1650.9 L1745,1650.7 L1754,1653.9 L1763,1653 L1772,1655.1 L1781,1653.3 L1790,1650.3 L1799,1651.4 L1808,1653.6 L1817,1651.9 L1826,1648.7 L1835,1653.4 L1844,1653.1 L1853,1648.5 L1862,1651 L1871,1649.8 L1880,1652 L1889,1649 L1898,1648.3 L1907,1649.6 L1916,1652.2 L1925,1646.8 L1934,1646.7 L1943,1649.5 L1952,1650.9 L1961,1648.4 L1970,1647.8 L1979,1650.1 L1988,1649.4 L1997,1644.9 L2006,1649.6 L2015,1645.3 L2024,1645.7 L2033,1648.7 L2042,1646 L2051,1648 L2060,1644 L2060,1955 L-10,1955 Z" fill="#bc7850"/>
<path d="M-10,1862 -10,1796 L4,1797.3 L18,1798.1 L32,1799.6 L46,1798.3 L60,1800.1 L74,1793.3 L88,1797.1 L102,1801.3 L116,1799.3 L130,1801.6 L144,1795.7 L158,1798.9 L172,1797.4 L186,1800.2 L200,1800.8 L214,1796.6 L228,1798.6 L242,1799.4 L256,1804.9 L270,1804 L284,1799.5 L298,1805 L312,1800 L326,1804.2 L340,1800.6 L354,1800 L368,1807.3 L382,1802.3 L396,1802.7 L410,1809.2 L424,1808.7 L438,1804.3 L452,1810.1 L466,1807 L480,1808.5 L494,1805 L508,1811.3 L522,1809.6 L536,1812.2 L550,1811.9 L564,1807.5 L578,1808.3 L592,1807.1 L606,1807.3 L620,1807.1 L634,1809.4 L648,1812.3 L662,1807.9 L676,1813.7 L690,1811.4 L704,1811.6 L718,1816.1 L732,1813.8 L746,1812.9 L760,1814.6 L774,1816.9 L788,1812.1 L802,1819.9 L816,1812.7 L830,1818.9 L844,1820.1 L858,1813.9 L872,1820.5 L886,1817.5 L900,1819.6 L914,1815.5 L928,1816.2 L942,1817.7 L956,1824.3 L970,1818.7 L984,1823.6 L998,1825.4 L1012,1825.9 L1026,1821.5 L1040,1822 L1054,1823.8 L1068,1826.2 L1082,1821.3 L1096,1826.9 L1110,1827.7 L1124,1828.6 L1138,1822.4 L1152,1830.1 L1166,1823.7 L1180,1826.1 L1194,1828.7 L1208,1831.3 L1222,1826.7 L1236,1831.3 L1250,1828.2 L1264,1826.4 L1278,1826.4 L1292,1825.2 L1306,1824.4 L1320,1824.9 L1334,1829.2 L1348,1831.6 L1362,1824.9 L1376,1824 L1390,1831.5 L1404,1827.8 L1418,1826.7 L1432,1825.4 L1446,1828.2 L1460,1830 L1474,1827 L1488,1826.7 L1502,1823.7 L1516,1830.6 L1530,1823.5 L1544,1827.1 L1558,1829.9 L1572,1824.2 L1586,1829 L1600,1830.7 L1614,1828.1 L1628,1829.3 L1642,1823.8 L1656,1826.4 L1670,1824.1 L1684,1829.6 L1698,1825.2 L1712,1826.4 L1726,1830.8 L1740,1829.6 L1754,1830.5 L1768,1826.3 L1782,1826.6 L1796,1828.4 L1810,1826.4 L1824,1824.9 L1838,1825.7 L1852,1823.7 L1866,1825.5 L1880,1830.3 L1894,1830.1 L1908,1827.4 L1922,1826.3 L1936,1825 L1950,1823 L1964,1824.4 L1978,1828.4 L1992,1829.1 L2006,1825 L2020,1828.4 L2034,1828.3 L2048,1827.6 L2060,1862 L-10,1862 Z" fill="#a04a28" opacity="0.5"/>
</g><g filter="url(#grain2)">
<path d="M-10,2060 -10,1900.9 L0,1901.4 L10,1898.3 L20,1896.3 L30,1893.9 L40,1900.8 L50,1899.1 L60,1902.2 L70,1898.5 L80,1902.7 L90,1898 L100,1903.5 L110,1903 L120,1900.1 L130,1901.5 L140,1903.2 L150,1898.5 L160,1902.4 L170,1905.1 L180,1899.9 L190,1905.5 L200,1904.6 L210,1906.4 L220,1901.5 L230,1899.4 L240,1906.6 L250,1906.9 L260,1903.5 L270,1900.3 L280,1901.5 L290,1906.1 L300,1902.9 L310,1910.5 L320,1907.9 L330,1905.1 L340,1910.7 L350,1908.7 L360,1915.5 L370,1916.3 L380,1913.3 L390,1915.7 L400,1917.2 L410,1919.3 L420,1922.1 L430,1913.6 L440,1918 L450,1921.4 L460,1919.4 L470,1923.3 L480,1919.3 L490,1928.3 L500,1925.8 L510,1922.7 L520,1929.2 L530,1926.7 L540,1926.6 L550,1930.5 L560,1928 L570,1929.8 L580,1937.4 L590,1936.7 L600,1930.9 L610,1939.6 L620,1933 L630,1937.2 L640,1943.9 L650,1942.1 L660,1940 L670,1941.7 L680,1942.8 L690,1941.2 L700,1951 L710,1941.2 L720,1944.6 L730,1947.5 L740,1943.6 L750,1949.1 L760,1941.5 L770,1948.5 L780,1947.3 L790,1944.7 L800,1946.6 L810,1941.8 L820,1945.3 L830,1944.6 L840,1941.5 L850,1940.7 L860,1942.7 L870,1939.4 L880,1935.9 L890,1942.1 L900,1937 L910,1938.9 L920,1941.5 L930,1935.1 L940,1933.2 L950,1933.9 L960,1938.2 L970,1935.6 L980,1934.2 L990,1935.8 L1000,1940.3 L1010,1933.2 L1020,1934.4 L1030,1938.8 L1040,1935.8 L1050,1932 L1060,1933.7 L1070,1933.5 L1080,1929.8 L1090,1931.8 L1100,1930.7 L1110,1935.4 L1120,1930.2 L1130,1933.3 L1140,1936 L1150,1935.2 L1160,1929.4 L1170,1931.4 L1180,1928.2 L1190,1928.6 L1200,1929.2 L1210,1931.9 L1220,1933 L1230,1926.2 L1240,1923.1 L1250,1927.2 L1260,1922.9 L1270,1922.3 L1280,1929.4 L1290,1922.5 L1300,1928.2 L1310,1924.4 L1320,1929.9 L1330,1928.8 L1340,1920.6 L1350,1921.7 L1360,1929 L1370,1925.4 L1380,1923.2 L1390,1926.6 L1400,1926.6 L1410,1923.2 L1420,1922.7 L1430,1918.8 L1440,1921.1 L1450,1918.7 L1460,1923.3 L1470,1922.8 L1480,1917.9 L1490,1922.5 L1500,1917 L1510,1916.8 L1520,1922 L1530,1919.9 L1540,1924 L1550,1921 L1560,1921.5 L1570,1915.5 L1580,1922.3 L1590,1914.6 L1600,1919.7 L1610,1922.4 L1620,1922.1 L1630,1921.7 L1640,1917 L1650,1919.2 L1660,1919.9 L1670,1913.1 L1680,1920.9 L1690,1920.3 L1700,1915.4 L1710,1918.8 L1720,1915.4 L1730,1913.7 L1740,1918 L1750,1911.5 L1760,1918.8 L1770,1920.6 L1780,1913.6 L1790,1920.1 L1800,1911.6 L1810,1919.3 L1820,1913.5 L1830,1920.3 L1840,1914.9 L1850,1919.8 L1860,1910.9 L1870,1911.4 L1880,1918.7 L1890,1916.9 L1900,1915.8 L1910,1910.7 L1920,1912.1 L1930,1914.1 L1940,1910.9 L1950,1920.2 L1960,1917.9 L1970,1919.7 L1980,1917.2 L1990,1913.6 L2000,1910.9 L2010,1917.5 L2020,1911.3 L2030,1915.6 L2040,1914.7 L2050,1915 L2060,1910.8 L2060,2060 L-10,2060 Z" fill="#502418"/>
</g>
<path d="M-10,1434 L-10,1432.4 L-1,1434.3 L8,1433.3 L17,1434.7 L26,1434.9 L35,1431.6 L44,1431.3 L53,1436.3 L62,1432.9 L71,1432.8 L80,1437.4 L89,1434.3 L98,1436.5 L107,1434.4 L116,1435.4 L125,1432.5 L134,1435.4 L143,1436.9 L152,1434.9 L161,1436.2 L170,1435.8 L179,1432.2 L188,1436.4 L197,1435.5 L206,1433.8 L215,1432.2 L224,1437.2 L233,1434.9 L242,1436.4 L251,1437.4 L260,1436.5 L269,1437.8 L278,1434.6 L287,1437.1 L296,1435 L305,1438 L314,1437.7 L323,1433 L332,1433.3 L341,1433.8 L350,1438.4 L359,1435.2 L368,1436.4 L377,1434.5 L386,1435.8 L395,1435.1 L404,1434.9 L413,1436.4 L422,1436.4 L431,1438.4 L440,1437.1 L449,1438.6 L458,1438.2 L467,1439 L476,1437.2 L485,1434.2 L494,1438.4 L503,1439 L512,1438.7 L521,1436.7 L530,1437.7 L539,1434.7 L548,1438.4 L557,1436.9 L566,1435.2 L575,1434 L584,1438.7 L593,1439.6 L602,1434.2 L611,1438.5 L620,1436.2 L629,1434.7 L638,1435.6 L647,1438.5 L656,1439.2 L665,1434.2 L674,1437.7 L683,1434.3 L692,1438.4 L701,1436.1 L710,1439.5 L719,1440.1 L728,1437.3 L737,1440.3 L746,1436.2 L755,1434.8 L764,1438 L773,1434.6 L782,1435.7 L791,1437 L800,1438.2 L809,1435.5 L818,1434.9 L827,1439.9 L836,1436.6 L845,1440.5 L854,1440.2 L863,1437.1 L872,1437.6 L881,1438 L890,1438.8 L899,1438.6 L908,1438.3 L917,1438.6 L926,1440.5 L935,1437.9 L944,1437.4 L953,1439 L962,1436.1 L971,1436.4 L980,1440.5 L989,1437.7 L998,1437.8 L1007,1434.5 L1016,1436.9 L1025,1437.8 L1034,1434.4 L1043,1438 L1052,1438 L1061,1434.5 L1070,1437.9 L1079,1436.9 L1088,1438.1 L1097,1436.1 L1106,1438.2 L1115,1438.3 L1124,1434 L1133,1434.2 L1142,1437.8 L1151,1439.5 L1160,1435.2 L1169,1436.3 L1178,1437.1 L1187,1435.4 L1196,1435.7 L1205,1435.3 L1214,1435.6 L1223,1436.9 L1232,1435.1 L1241,1435.5 L1250,1437.8 L1259,1433.3 L1268,1436.5 L1277,1437.5 L1286,1434.9 L1295,1434.3 L1304,1437.7 L1313,1434.3 L1322,1433.9 L1331,1435.4 L1340,1436.9 L1349,1433.3 L1358,1434.6 L1367,1434.6 L1376,1437.5 L1385,1435.1 L1394,1437.6 L1403,1433.4 L1412,1434.4 L1421,1436.2 L1430,1437.6 L1439,1434.9 L1448,1433.5 L1457,1432.8 L1466,1435.3 L1475,1433.2 L1484,1436.8 L1493,1437 L1502,1433 L1511,1433.5 L1520,1436.6 L1529,1435.6 L1538,1436.5 L1547,1433.7 L1556,1432.4 L1565,1433.3 L1574,1436.3 L1583,1433.1 L1592,1433.5 L1601,1433.9 L1610,1433.8 L1619,1433.7 L1628,1436.8 L1637,1432.1 L1646,1431.2 L1655,1436.8 L1664,1436.3 L1673,1436.9 L1682,1433.6 L1691,1436.6 L1700,1436.4 L1709,1432.1 L1718,1435.2 L1727,1435.7 L1736,1434.7 L1745,1433.7 L1754,1432.3 L1763,1432.6 L1772,1431.9 L1781,1430.9 L1790,1433.9 L1799,1432.1 L1808,1435.2 L1817,1430.5 L1826,1435.6 L1835,1434.3 L1844,1435.7 L1853,1435.5 L1862,1435.4 L1871,1433.4 L1880,1430 L1889,1434.4 L1898,1430.9 L1907,1431.6 L1916,1433.7 L1925,1432.8 L1934,1432.1 L1943,1435.2 L1952,1433.2 L1961,1431.6 L1970,1431 L1979,1434.6 L1988,1432.2 L1997,1434 L2006,1431.4 L2015,1430.4 L2024,1432.4 L2033,1434 L2042,1430.1 L2051,1433.8 L2060,1434.5" stroke="#3a1408" stroke-width="3" fill="none" opacity="0.55"/>
<path d="M-10,1224 L-10,1227.2 L-1,1227.2 L8,1221 L17,1221.2 L26,1226.5 L35,1225.8 L44,1225.4 L53,1222.9 L62,1225.1 L71,1225.1 L80,1225 L89,1222 L98,1224 L107,1223.8 L116,1226.1 L125,1228.1 L134,1227.8 L143,1225 L152,1224.3 L161,1223.1 L170,1221.5 L179,1221.5 L188,1224.6 L197,1223.6 L206,1224.1 L215,1227.7 L224,1225.2 L233,1225.5 L242,1223.3 L251,1221.8 L260,1224 L269,1222.7 L278,1225.3 L287,1228.8 L296,1226.6 L305,1223.2 L314,1228.2 L323,1227.5 L332,1227.1 L341,1228.4 L350,1227.4 L359,1227.7 L368,1224.6 L377,1229.1 L386,1229 L395,1223.4 L404,1227.6 L413,1227.4 L422,1225.6 L431,1226.2 L440,1225.9 L449,1229 L458,1226.1 L467,1228.4 L476,1225.1 L485,1228.9 L494,1229 L503,1226 L512,1226.8 L521,1229.3 L530,1227.9 L539,1226.3 L548,1224.5 L557,1225.3 L566,1227.9 L575,1224.2 L584,1229.5 L593,1225 L602,1229.6 L611,1225.4 L620,1230 L629,1228.3 L638,1226.9 L647,1227 L656,1228 L665,1227.6 L674,1225.7 L683,1225 L692,1227.2 L701,1230.2 L710,1228 L719,1224.2 L728,1229.5 L737,1228.9 L746,1230.2 L755,1225.2 L764,1229.1 L773,1224.4 L782,1228.6 L791,1225.9 L800,1225.6 L809,1230.2 L818,1224.9 L827,1227.8 L836,1230.2 L845,1226 L854,1225.8 L863,1230.5 L872,1227.3 L881,1229.4 L890,1224.7 L899,1227 L908,1225.7 L917,1229.3 L926,1225.2 L935,1231.3 L944,1224.8 L953,1229.8 L962,1224.9 L971,1226.5 L980,1230.5 L989,1225.9 L998,1226.1 L1007,1229.7 L1016,1227.6 L1025,1225.2 L1034,1231.9 L1043,1226.1 L1052,1225.3 L1061,1227.5 L1070,1229.4 L1079,1230.3 L1088,1225.9 L1097,1227.5 L1106,1225.4 L1115,1228.4 L1124,1230.6 L1133,1230.5 L1142,1231.6 L1151,1230.7 L1160,1231.4 L1169,1230.4 L1178,1228.8 L1187,1227.1 L1196,1230.1 L1205,1227.8 L1214,1226.3 L1223,1228.7 L1232,1231.8 L1241,1226.6 L1250,1229.8 L1259,1228.5 L1268,1229.4 L1277,1226.8 L1286,1232.5 L1295,1227.7 L1304,1230.1 L1313,1228.9 L1322,1226.1 L1331,1229.9 L1340,1227 L1349,1226.4 L1358,1226.3 L1367,1227.2 L1376,1226.8 L1385,1230.6 L1394,1229.8 L1403,1233.1 L1412,1232.8 L1421,1233.3 L1430,1228 L1439,1229.5 L1448,1228.1 L1457,1230.6 L1466,1230.8 L1475,1232.1 L1484,1231.5 L1493,1228.3 L1502,1229.5 L1511,1230.3 L1520,1226.7 L1529,1226.9 L1538,1229.6 L1547,1227.5 L1556,1231.8 L1565,1228.5 L1574,1227.5 L1583,1228.1 L1592,1228.5 L1601,1228.4 L1610,1230.6 L1619,1230.2 L1628,1229.2 L1637,1231.5 L1646,1228.6 L1655,1233.4 L1664,1233.9 L1673,1232.3 L1682,1230.2 L1691,1230.8 L1700,1231.3 L1709,1227.6 L1718,1230.2 L1727,1231 L1736,1228.7 L1745,1228.1 L1754,1233.1 L1763,1230 L1772,1231.1 L1781,1234 L1790,1231.8 L1799,1229.6 L1808,1234.5 L1817,1230.3 L1826,1227.8 L1835,1232.5 L1844,1228.5 L1853,1229.9 L1862,1233.7 L1871,1232.6 L1880,1228 L1889,1231.1 L1898,1230.8 L1907,1231.4 L1916,1229.5 L1925,1232.2 L1934,1228.6 L1943,1230.1 L1952,1230.7 L1961,1234.7 L1970,1228.7 L1979,1233.5 L1988,1229.6 L1997,1232.3 L2006,1231.1 L2015,1231.6 L2024,1233.7 L2033,1231.2 L2042,1229.3 L2051,1229.3 L2060,1229.1" stroke="#2a1008" stroke-width="3" fill="none" opacity="0.45"/>
<path d="M-10,1898 L-10,1900.9 L0,1901.4 L10,1898.3 L20,1896.3 L30,1893.9 L40,1900.8 L50,1899.1 L60,1902.2 L70,1898.5 L80,1902.7 L90,1898 L100,1903.5 L110,1903 L120,1900.1 L130,1901.5 L140,1903.2 L150,1898.5 L160,1902.4 L170,1905.1 L180,1899.9 L190,1905.5 L200,1904.6 L210,1906.4 L220,1901.5 L230,1899.4 L240,1906.6 L250,1906.9 L260,1903.5 L270,1900.3 L280,1901.5 L290,1906.1 L300,1902.9 L310,1910.5 L320,1907.9 L330,1905.1 L340,1910.7 L350,1908.7 L360,1915.5 L370,1916.3 L380,1913.3 L390,1915.7 L400,1917.2 L410,1919.3 L420,1922.1 L430,1913.6 L440,1918 L450,1921.4 L460,1919.4 L470,1923.3 L480,1919.3 L490,1928.3 L500,1925.8 L510,1922.7 L520,1929.2 L530,1926.7 L540,1926.6 L550,1930.5 L560,1928 L570,1929.8 L580,1937.4 L590,1936.7 L600,1930.9 L610,1939.6 L620,1933 L630,1937.2 L640,1943.9 L650,1942.1 L660,1940 L670,1941.7 L680,1942.8 L690,1941.2 L700,1951 L710,1941.2 L720,1944.6 L730,1947.5 L740,1943.6 L750,1949.1 L760,1941.5 L770,1948.5 L780,1947.3 L790,1944.7 L800,1946.6 L810,1941.8 L820,1945.3 L830,1944.6 L840,1941.5 L850,1940.7 L860,1942.7 L870,1939.4 L880,1935.9 L890,1942.1 L900,1937 L910,1938.9 L920,1941.5 L930,1935.1 L940,1933.2 L950,1933.9 L960,1938.2 L970,1935.6 L980,1934.2 L990,1935.8 L1000,1940.3 L1010,1933.2 L1020,1934.4 L1030,1938.8 L1040,1935.8 L1050,1932 L1060,1933.7 L1070,1933.5 L1080,1929.8 L1090,1931.8 L1100,1930.7 L1110,1935.4 L1120,1930.2 L1130,1933.3 L1140,1936 L1150,1935.2 L1160,1929.4 L1170,1931.4 L1180,1928.2 L1190,1928.6 L1200,1929.2 L1210,1931.9 L1220,1933 L1230,1926.2 L1240,1923.1 L1250,1927.2 L1260,1922.9 L1270,1922.3 L1280,1929.4 L1290,1922.5 L1300,1928.2 L1310,1924.4 L1320,1929.9 L1330,1928.8 L1340,1920.6 L1350,1921.7 L1360,1929 L1370,1925.4 L1380,1923.2 L1390,1926.6 L1400,1926.6 L1410,1923.2 L1420,1922.7 L1430,1918.8 L1440,1921.1 L1450,1918.7 L1460,1923.3 L1470,1922.8 L1480,1917.9 L1490,1922.5 L1500,1917 L1510,1916.8 L1520,1922 L1530,1919.9 L1540,1924 L1550,1921 L1560,1921.5 L1570,1915.5 L1580,1922.3 L1590,1914.6 L1600,1919.7 L1610,1922.4 L1620,1922.1 L1630,1921.7 L1640,1917 L1650,1919.2 L1660,1919.9 L1670,1913.1 L1680,1920.9 L1690,1920.3 L1700,1915.4 L1710,1918.8 L1720,1915.4 L1730,1913.7 L1740,1918 L1750,1911.5 L1760,1918.8 L1770,1920.6 L1780,1913.6 L1790,1920.1 L1800,1911.6 L1810,1919.3 L1820,1913.5 L1830,1920.3 L1840,1914.9 L1850,1919.8 L1860,1910.9 L1870,1911.4 L1880,1918.7 L1890,1916.9 L1900,1915.8 L1910,1910.7 L1920,1912.1 L1930,1914.1 L1940,1910.9 L1950,1920.2 L1960,1917.9 L1970,1919.7 L1980,1917.2 L1990,1913.6 L2000,1910.9 L2010,1917.5 L2020,1911.3 L2030,1915.6 L2040,1914.7 L2050,1915 L2060,1910.8" stroke="#200804" stroke-width="4" fill="none" opacity="0.5"/>
<path d="M1644.5,992.5 Q1644.7,1014.8 1653.2,1037.1" stroke="#b4d06c" stroke-width="2.3" fill="none" opacity="0.7"/>
<path d="M1289.4,996.5 Q1304.7,1022.6 1333.1,1048.8" stroke="#b4d06c" stroke-width="3" fill="none" opacity="0.7"/>
<path d="M1721.6,989.2 Q1734.7,1005.5 1746.3,1021.8" stroke="#b4d06c" stroke-width="2.5" fill="none" opacity="0.7"/>
<path d="M111.5,1004.4 Q109.4,1042.6 123.2,1080.8" stroke="#b4d06c" stroke-width="3.5" fill="none" opacity="0.7"/>
<path d="M1751.3,987.2 Q1761.4,1006.4 1780.7,1025.5" stroke="#c8dc84" stroke-width="2.7" fill="none" opacity="0.7"/>
<path d="M1076.7,1004 Q1086.2,1037.6 1107.1,1071.1" stroke="#98b850" stroke-width="2.8" fill="none" opacity="0.7"/>
<path d="M251.6,1003.5 Q253.2,1018.7 255,1033.9" stroke="#c8dc84" stroke-width="3.5" fill="none" opacity="0.7"/>
<path d="M1562.4,995 Q1561.3,1015.2 1577.9,1035.4" stroke="#98b850" stroke-width="3.6" fill="none" opacity="0.7"/>
<path d="M1339.7,988.4 Q1364.5,1007.7 1372.7,1027.1" stroke="#98b850" stroke-width="3.2" fill="none" opacity="0.7"/>
<path d="M91.1,996.1 Q104.1,1034.9 109,1073.8" stroke="#b4d06c" stroke-width="2.2" fill="none" opacity="0.7"/>
<path d="M1908.5,987.6 Q1912.9,1011.4 1927.6,1035.2" stroke="#b4d06c" stroke-width="3.5" fill="none" opacity="0.7"/>
<path d="M141.2,988.8 Q146.5,1004.3 145.1,1019.9" stroke="#98b850" stroke-width="3.9" fill="none" opacity="0.7"/>
<path d="M1175.4,1001.8 Q1184.3,1026.8 1194.4,1051.8" stroke="#98b850" stroke-width="2.6" fill="none" opacity="0.7"/>
<path d="M542.3,995.4 Q539.3,1014.4 554.7,1033.4" stroke="#b4d06c" stroke-width="2" fill="none" opacity="0.7"/>
<path d="M1348.4,987.5 Q1352.2,1001.2 1369.3,1014.9" stroke="#98b850" stroke-width="2.6" fill="none" opacity="0.7"/>
<path d="M1809.2,997.2 Q1831.9,1032 1840.9,1066.8" stroke="#d8e49c" stroke-width="3.7" fill="none" opacity="0.7"/>
<path d="M1798.2,1004.7 Q1811.3,1030.3 1805.7,1055.9" stroke="#98b850" stroke-width="4" fill="none" opacity="0.7"/>
<path d="M1578.3,1000.1 Q1584.8,1024.7 1596.2,1049.4" stroke="#d8e49c" stroke-width="3.8" fill="none" opacity="0.7"/>
<path d="M538.2,987.4 Q535.1,1006.7 543.5,1026" stroke="#c8dc84" stroke-width="3.1" fill="none" opacity="0.7"/>
<path d="M1764.5,1007.1 Q1764.6,1024.7 1773.8,1042.2" stroke="#b4d06c" stroke-width="3.3" fill="none" opacity="0.7"/>
<path d="M683.1,1000.6 Q686.6,1036.2 706.7,1071.7" stroke="#d8e49c" stroke-width="2.2" fill="none" opacity="0.7"/>
<path d="M916.6,999.3 Q938.1,1025.9 959.7,1052.5" stroke="#c8dc84" stroke-width="2.9" fill="none" opacity="0.7"/>
<path d="M191,993.6 Q200,1012.5 196.4,1031.4" stroke="#d8e49c" stroke-width="3.3" fill="none" opacity="0.7"/>
<path d="M1699.1,997.5 Q1717.6,1020.9 1735.6,1044.3" stroke="#c8dc84" stroke-width="2.4" fill="none" opacity="0.7"/>
<path d="M975.3,997.5 Q986.3,1029.2 1008.2,1060.9" stroke="#98b850" stroke-width="3.2" fill="none" opacity="0.7"/>
<path d="M1941.1,993.9 Q1950.6,1026.8 1964,1059.8" stroke="#c8dc84" stroke-width="2.4" fill="none" opacity="0.7"/>
<path d="M1254,1007.9 Q1269.9,1031.2 1267.1,1054.5" stroke="#98b850" stroke-width="2.4" fill="none" opacity="0.7"/>
<path d="M1015.4,1003.1 Q1032.7,1020.4 1032.5,1037.8" stroke="#d8e49c" stroke-width="3.3" fill="none" opacity="0.7"/>
<path d="M1712.4,997.1 Q1728.6,1020 1736.9,1042.8" stroke="#c8dc84" stroke-width="3" fill="none" opacity="0.7"/>
<path d="M1397.2,991.4 Q1409.2,1003.4 1417.9,1015.5" stroke="#98b850" stroke-width="3" fill="none" opacity="0.7"/>
<path d="M1260.1,1000.9 Q1275,1044.1 1277.8,1087.4" stroke="#d8e49c" stroke-width="2.9" fill="none" opacity="0.7"/>
<path d="M1889.2,1005.6 Q1896.1,1033 1898.6,1060.4" stroke="#d8e49c" stroke-width="2" fill="none" opacity="0.7"/>
<path d="M1213.7,1006.8 Q1220.1,1036 1223.5,1065.2" stroke="#98b850" stroke-width="2.7" fill="none" opacity="0.7"/>
<path d="M2007.7,1000.1 Q2010.9,1034.6 2019.8,1069.1" stroke="#c8dc84" stroke-width="2.9" fill="none" opacity="0.7"/>
<path d="M1874.2,988.8 Q1896.1,1012.7 1900.1,1036.6" stroke="#d8e49c" stroke-width="3.5" fill="none" opacity="0.7"/>
<path d="M248.5,992.6 Q261.9,1025.3 274.9,1058" stroke="#98b850" stroke-width="2.5" fill="none" opacity="0.7"/>
<path d="M1477.2,998.5 Q1485.8,1045.1 1490,1091.8" stroke="#98b850" stroke-width="3.8" fill="none" opacity="0.7"/>
<path d="M151.4,986.3 Q161.5,1009.1 170,1031.9" stroke="#b4d06c" stroke-width="3" fill="none" opacity="0.7"/>
<path d="M1052.6,998.4 Q1068.4,1025.1 1096.9,1051.8" stroke="#b4d06c" stroke-width="2.6" fill="none" opacity="0.7"/>
<path d="M1958.5,986.2 Q1971.9,1007.4 1990.6,1028.5" stroke="#98b850" stroke-width="3.4" fill="none" opacity="0.7"/>
<path d="M970.3,990.6 Q986.6,1018.5 993.8,1046.4" stroke="#98b850" stroke-width="2.2" fill="none" opacity="0.7"/>
<path d="M314.1,999.7 Q323.5,1021.7 323,1043.6" stroke="#d8e49c" stroke-width="3.9" fill="none" opacity="0.7"/>
<path d="M730.4,992.2 Q762.5,1019.4 775.8,1046.6" stroke="#b4d06c" stroke-width="3.5" fill="none" opacity="0.7"/>
<path d="M1225.8,1004.5 Q1244.4,1023.1 1253.8,1041.7" stroke="#98b850" stroke-width="2.5" fill="none" opacity="0.7"/>
<path d="M986.2,1003 Q1000,1021.2 1008,1039.4" stroke="#98b850" stroke-width="3.2" fill="none" opacity="0.7"/>
<path d="M1007.2,1006.8 Q1009.3,1032.4 1030.2,1057.9" stroke="#c8dc84" stroke-width="2.1" fill="none" opacity="0.7"/>
<path d="M-6.3,993.4 Q11.9,1024.5 29.7,1055.6" stroke="#d8e49c" stroke-width="2.8" fill="none" opacity="0.7"/>
<path d="M1862.4,997.5 Q1860.4,1032.8 1873,1068.1" stroke="#d8e49c" stroke-width="2.9" fill="none" opacity="0.7"/>
<path d="M1803.9,987.4 Q1815.2,1005.3 1816.3,1023.3" stroke="#c8dc84" stroke-width="3.9" fill="none" opacity="0.7"/>
<path d="M736.5,1004.3 Q746.1,1020.2 758,1036.2" stroke="#98b850" stroke-width="2.5" fill="none" opacity="0.7"/>
<path d="M676.7,999.9 Q689,1033.3 686.9,1066.7" stroke="#b4d06c" stroke-width="3.4" fill="none" opacity="0.7"/>
<path d="M1374.7,1003.3 Q1381.4,1018 1382.4,1032.7" stroke="#b4d06c" stroke-width="3.6" fill="none" opacity="0.7"/>
<path d="M233,1006.2 Q235.1,1047.6 248.5,1089" stroke="#98b850" stroke-width="3.8" fill="none" opacity="0.7"/>
<path d="M1105.6,1000.7 Q1102.7,1017.6 1115.1,1034.5" stroke="#c8dc84" stroke-width="2.3" fill="none" opacity="0.7"/>
<path d="M846.8,995.3 Q867.7,1021.5 877.8,1047.7" stroke="#c8dc84" stroke-width="3.4" fill="none" opacity="0.7"/>
<path d="M22,1112 Q90,1060 168,1022" stroke="#b8c868" stroke-width="4" fill="none"/>
<path d="M1870,1010 Q1950,1050 2000,1120" stroke="#8cc850" stroke-width="6" fill="none"/>
<ellipse cx="1049" cy="1117" rx="845" ry="878" fill="#ffe100" fill-opacity="0.5"/>
<g fill="#000" stroke="none" font-family='"Liberation Sans", sans-serif'>
<rect x="539.5" y="426" width="921" height="1341.5" rx="118" ry="118" fill="none" stroke="#000" stroke-width="10"/>
<polygon points="970.3,353 1004.8,353 1005.5,501 1031.3,501 989.7,619 946,501 971,501"/>
<polygon points="970.5,687 1004.6,687 1004.6,767.3 1038.4,767.3 989.7,842 938.4,767.3 970.5,767.3"/>
<polygon points="1528.4,506.8 1323.5,615.5 1330.3,592.4 1305.3,627.5 1348.4,626.5 1325.5,619.2 1530.4,510.6"/>
<polygon points="975.6,941 975.6,977.6 970.7,970.5 976.9,1003 983.1,970.5 978.2,977.6 978.2,941"/>
<polygon points="997.2,1037.1 1060.2,1078 1052.6,1078.7 1071.5,1084.4 1058.6,1069.4 1061,1076.6 998,1035.7"/>
<polygon points="465.4,1234.1 727.1,1395.4 698,1402.5 751.5,1407.2 723.2,1361.6 730,1390.7 468.2,1229.5"/>
<polygon points="467.5,1297.7 706.5,1440.2 683.4,1445.8 725.6,1449.2 702.5,1413.7 708.6,1436.6 469.7,1294.1"/>
<polygon points="463.1,1379.8 663,1500.2 640.6,1506.4 682.1,1509.2 660.2,1473.8 665.2,1496.6 465.3,1376.2"/>
<polygon points="443,1445.9 630.6,1545.2 609.1,1551.8 649.3,1552.7 625.9,1519.9 632.6,1541.5 445,1442.1"/>
<polygon points="827.1,1295.3 648.1,1599 640.8,1572.6 637.4,1621.7 678.7,1595 652.1,1601.3 831.1,1297.7"/>
<polygon points="1101.1,1213.5 1564.3,1337.9 1545.5,1350 1583.1,1341 1555.1,1314.3 1565.2,1334.2 1102.1,1209.9"/>
<polygon points="1100.8,1232 1664.8,1501.1 1643.5,1508.7 1683.7,1508 1659,1476.3 1666.5,1497.7 1102.4,1228.6"/>
<polygon points="1550.8,1403.5 1619.9,1471.4 1612,1470.9 1629.7,1480 1620.4,1462.4 1621,1470.3 1552,1402.3"/>
<polygon points="1071.5,1331.8 991.3,1332.8 999.2,1320.4 977.4,1339.7 999.6,1358.4 991.5,1346.3 1071.7,1345.2"/>
<polygon points="911.7,1331.8 823.1,1332.8 831,1320.4 809.2,1339.7 831.4,1358.4 823.3,1346.3 911.9,1345.2"/>
<path d="M834.8,1105 C837.5,1103.9 845.8,1100.1 851.1,1098 C856.4,1096 861.4,1094.2 866.6,1092.6 C871.8,1091.1 876.9,1089.8 882.1,1088.7 C887.3,1087.6 892.5,1086.8 897.6,1086.1 C902.8,1085.4 908,1084.9 913.2,1084.5 C918.3,1084.1 923.5,1083.8 928.7,1083.6 C933.9,1083.4 939,1083.3 944.2,1083.3 C949.4,1083.2 954.6,1083.2 959.8,1083.3 C964.9,1083.4 970.1,1083.5 975.3,1083.8 C980.5,1084 985.6,1084.4 990.8,1084.8 C996,1085.3 1001.2,1085.9 1006.3,1086.7 C1011.5,1087.5 1016.7,1088.5 1021.9,1089.5 C1027,1090.5 1032.2,1091.6 1037.4,1092.9 C1042.6,1094.2 1048.9,1096.1 1052.9,1097.3 C1056.9,1098.5 1060,1099.6 1061.5,1100.1 L1048.3,1086.4 L1070.3,1101.6 C1072.6,1102.9 1079.6,1106.7 1084,1109.4 C1088.3,1112.1 1092.8,1114.9 1096.4,1117.8 C1100,1120.7 1104.2,1125.3 1105.7,1126.8 L1034.3,1125.2 C1036.9,1124.5 1044.4,1122.2 1049.8,1120.9 C1055.2,1119.5 1064,1117.8 1066.9,1117.1 C1064.6,1116.4 1057.8,1113.9 1052.9,1112.5 C1048,1111.1 1042.6,1109.9 1037.4,1108.8 C1032.2,1107.6 1027,1106.6 1021.9,1105.7 C1016.7,1104.7 1011.5,1104 1006.3,1103.3 C1001.2,1102.7 996,1102.1 990.8,1101.6 C985.6,1101.1 980.5,1100.8 975.3,1100.5 C970.1,1100.3 964.9,1100.1 959.8,1100.1 C954.6,1100 949.4,1100.1 944.2,1100.4 C939,1100.6 933.9,1101 928.7,1101.5 C923.5,1101.9 918.3,1102.5 913.2,1103.2 C908,1103.9 901.8,1104.8 897.6,1105.7 C893.5,1106.5 891,1107.1 888.3,1108.4 C885.6,1109.8 883.4,1111.9 881.3,1113.6 C879.3,1115.2 877.4,1116.9 876.2,1118.2 C875,1119.5 874.7,1120.8 874.3,1121.3 C871.2,1119.9 862.3,1115.5 855.7,1112.8 C849.1,1110.1 838.2,1106.3 834.8,1105 Z"/>
<path d="M769.7,1150.5 L714.2,1156.7 C715.9,1157 721.5,1157.8 724.7,1158.3 C727.9,1158.8 732,1159.6 733.4,1159.8 C731.3,1161.5 724.7,1166 721,1169.8 C717.3,1173.5 714,1177.6 711.1,1182.2 C708.2,1186.7 705.7,1191.7 703.6,1197.1 C701.5,1202.5 699.7,1209.1 698.6,1214.5 C697.6,1219.9 697.4,1223.8 697.4,1229.4 C697.4,1235 697.7,1241.8 698.6,1248 C699.6,1254.2 701.1,1260.4 703,1266.6 C704.8,1272.9 707,1279.1 709.8,1285.3 C712.6,1291.5 716,1297.9 719.8,1303.9 C723.5,1309.9 727.8,1315.9 732.2,1321.3 C736.5,1326.7 741.3,1331.2 745.8,1336.2 C750.4,1341.2 755.6,1346.4 759.5,1351.1 C763.4,1355.9 767.8,1362.5 769.4,1364.8 C769,1360.8 767,1347 767,1341.2 C767,1335.4 768,1333 769.4,1330 C770.9,1327 774.6,1324.3 775.7,1323.2 C773,1322.4 764.3,1320.6 759.5,1318.8 C754.7,1317.1 751,1315.5 747.1,1312.6 C743.1,1309.7 739.4,1306 735.9,1301.4 C732.4,1296.9 728.9,1291.1 726,1285.3 C723.1,1279.5 720.3,1272.9 718.5,1266.6 C716.7,1260.4 716,1254.2 715.4,1248 C714.8,1241.8 714.5,1235.6 714.8,1229.4 C715.1,1223.2 715.8,1216.7 717.3,1210.7 C718.7,1204.7 720.8,1198.5 723.5,1193.4 C726.2,1188.2 729.3,1183.3 733.4,1179.7 C737.6,1176.1 745.8,1173 748.3,1171.6 C749.4,1173.4 752.3,1177.7 754.5,1182.2 C756.8,1186.6 760.7,1195.6 762,1198.3 C761.8,1195.2 760.3,1185.5 760.7,1179.7 C761.2,1173.9 763,1168.4 764.5,1163.5 C766,1158.7 768.8,1152.7 769.7,1150.5 Z"/>
<path d="M1180.8,1184.5 C1181.4,1186.4 1183.9,1191.4 1184.9,1195.9 C1185.9,1200.4 1186.5,1206.2 1187,1211.4 C1187.4,1216.6 1187.6,1221.7 1187.5,1226.9 C1187.4,1232.1 1187,1237.3 1186.4,1242.4 C1185.8,1247.6 1185,1252.8 1183.9,1258 C1182.7,1263.1 1181.4,1268.3 1179.7,1273.5 C1178,1278.7 1176.1,1283.8 1173.5,1289 C1170.9,1294.2 1167.8,1299.9 1164.2,1304.5 C1160.6,1309.2 1156.4,1313.2 1151.8,1317 C1147.1,1320.8 1141.4,1324.4 1136.2,1327.3 C1131.1,1330.2 1125,1332.7 1120.7,1334.6 C1116.4,1336.4 1112.1,1337.6 1110.4,1338.2 L1124.9,1354.2 C1120.4,1352.5 1106.6,1347 1098,1343.9 C1089.3,1340.8 1077.3,1337 1073.1,1335.6 C1075.9,1333.3 1085.5,1326.1 1089.7,1322.1 C1093.8,1318.2 1096.2,1315.8 1098,1311.8 C1099.7,1307.8 1099.7,1300.6 1100,1298.3 C1100.5,1301.1 1102.8,1309.9 1103.1,1314.9 C1103.5,1319.9 1102.3,1326.1 1102.1,1328.3 C1104.7,1327.8 1112.4,1326.8 1117.6,1325.2 C1122.8,1323.7 1128.3,1321.4 1133.1,1319 C1138,1316.6 1142.6,1314 1146.6,1310.8 C1150.6,1307.5 1153.8,1303.5 1156.9,1299.4 C1160.1,1295.2 1162.8,1290.6 1165.2,1285.9 C1167.6,1281.3 1169.9,1276.6 1171.4,1271.4 C1173,1266.2 1173.9,1260 1174.5,1254.9 C1175.2,1249.7 1175.6,1244.9 1175.6,1240.4 C1175.6,1235.9 1175.1,1231.8 1174.5,1228 C1174,1224.2 1172.8,1219.3 1172.5,1217.6 C1171.6,1216.6 1169.1,1212.9 1167.3,1211.4 C1165.5,1209.8 1162.6,1208.8 1161.6,1208.3 C1163.4,1207.4 1169.8,1205.4 1172.5,1203.1 C1175.1,1200.9 1176.3,1197.9 1177.6,1194.8 C1179,1191.7 1180.2,1186.2 1180.8,1184.5 Z"/>
<path d="M745.9,1670.1 C750.9,1670.3 764.9,1670.3 775.6,1671.3 C786.2,1672.2 798.3,1673.6 809.7,1675.8 C821.1,1678 833.5,1681 843.9,1684.4 C854.3,1687.7 864.4,1691.6 872.4,1695.8 C880.3,1699.9 886.6,1704.9 891.7,1709.4 C896.9,1714 900.2,1718.3 903.1,1723.1 C906.1,1727.8 907.9,1732.8 909.4,1737.9 C910.8,1743 911.5,1748.9 911.9,1753.8 C912.3,1758.8 912.1,1762.8 911.7,1767.5 C911.2,1772.3 910.5,1777.1 909.2,1782.3 C907.8,1787.5 906.1,1792.9 903.5,1798.5 C900.8,1804.1 897.3,1810.3 893.1,1815.9 C888.9,1821.6 883.8,1827.4 878.1,1832.4 C872.3,1837.4 865.2,1842.2 858.5,1845.9 C851.7,1849.6 844,1852.3 837.6,1854.6 C831.2,1857 823.9,1858.5 820,1860 C816.1,1861.5 815.2,1863.1 814.3,1863.7 L831.4,1873.4 C827.8,1873.1 816.4,1872.4 809.7,1871.4 C803.1,1870.4 797,1869.2 791.5,1867.5 C786,1865.9 779.2,1862.5 776.7,1861.5 C779.5,1860 786.9,1855.9 793.8,1852.9 C800.6,1850 813.7,1845.3 817.7,1843.8 C816.7,1845.3 812.8,1850.4 811.4,1852.9 C810.1,1855.5 810,1858.1 809.7,1859.2 C811.2,1858.8 814.2,1858.1 818.6,1856.8 C823,1855.5 830,1853.5 836.3,1851.1 C842.6,1848.7 849.9,1846.1 856.4,1842.4 C863,1838.8 870,1834.3 875.6,1829.5 C881.1,1824.6 885.8,1818.8 889.9,1813.5 C894,1808.2 897.5,1803 900.2,1797.8 C902.8,1792.6 904.9,1786.2 905.7,1782.3 C906.6,1778.4 905.6,1777.2 905.4,1774.3 C905.2,1771.5 905.2,1768.8 904.5,1765.2 C903.8,1761.6 902.6,1756.7 901.4,1752.7 C900.2,1748.7 898.8,1744.7 897.4,1741.3 C896,1737.9 894.8,1735.2 892.9,1732.2 C891,1729.2 889.1,1726.5 886,1723.1 C883,1719.7 878.8,1715 874.6,1711.7 C870.5,1708.4 866.1,1706 861,1703.2 C855.9,1700.3 850.5,1696.9 843.9,1694.4 C837.3,1691.9 829.7,1690.4 821.1,1688.3 C812.6,1686.3 802.1,1683.9 792.6,1682.3 C783.2,1680.7 773.2,1679.4 764.2,1678.9 C755.2,1678.4 742.8,1679.2 738.5,1679.2 L745.9,1670.1 Z"/>
<text x="848" y="332.5" font-size="51" font-weight="bold" stroke="#000" stroke-width="1.2" textLength="309.1" lengthAdjust="spacingAndGlyphs">Hydrocarbon</text>
<text x="705" y="661.3" font-size="48" font-weight="normal" stroke="#000" stroke-width="1.6" textLength="607" lengthAdjust="spacingAndGlyphs">Initial attack by oxygenases</text>
<text x="708.6" y="875.9" font-size="48" font-weight="normal" stroke="#000" stroke-width="1.6" textLength="583.5" lengthAdjust="spacingAndGlyphs">Degradation by peripheral</text>
<text x="897" y="935.7" font-size="48" font-weight="normal" stroke="#000" stroke-width="1.6" textLength="208.9" lengthAdjust="spacingAndGlyphs">pathways</text>
<text x="826" y="1188.3" font-size="50" font-weight="normal" stroke="#000" stroke-width="2.1" textLength="273.3" lengthAdjust="spacingAndGlyphs">Interediates</text>
<text x="939.8" y="1242.4" font-size="52" font-weight="normal" stroke="#000" stroke-width="2.1" textLength="44" lengthAdjust="spacingAndGlyphs">of</text>
<text x="853.2" y="1296" font-size="53" font-weight="normal" stroke="#000" stroke-width="2.1" textLength="219.8" lengthAdjust="spacingAndGlyphs">TCA cycle</text>
<text x="1187" y="1409.2" font-size="43" font-weight="normal" stroke="#000" stroke-width="1.4" textLength="229.9" lengthAdjust="spacingAndGlyphs">Respiration</text>
<text x="726" y="1540.4" font-size="41.5" font-weight="normal" stroke="#000" stroke-width="1.4" textLength="249" lengthAdjust="spacingAndGlyphs">Biosynthesis</text>
<text x="557" y="1663.5" font-size="42" font-weight="normal" stroke="#000" stroke-width="1.6" textLength="252" lengthAdjust="spacingAndGlyphs">Cell biomass</text>
<text x="637.8" y="1869" font-size="38" font-weight="normal" stroke="#000" stroke-width="1.4" textLength="137.3" lengthAdjust="spacingAndGlyphs">Growth</text>
<text x="944.8" y="1034.4" font-size="46" font-weight="normal" stroke="#000" stroke-width="2" textLength="29.4" lengthAdjust="spacingAndGlyphs">C</text>
<text x="974.4" y="1052.8" font-size="26.6" font-weight="normal" stroke="#000" stroke-width="0.3" textLength="14.9" lengthAdjust="spacingAndGlyphs">2</text>
<text x="763.2" y="1138" font-size="46.9" font-weight="normal" stroke="#000" stroke-width="2" textLength="28.1" lengthAdjust="spacingAndGlyphs">C</text>
<text x="791.6" y="1156.2" font-size="28.3" font-weight="normal" stroke="#000" stroke-width="0.3" textLength="15.6" lengthAdjust="spacingAndGlyphs">4</text>
<text x="1122.2" y="1173" font-size="47.7" font-weight="normal" stroke="#000" stroke-width="2" textLength="28.1" lengthAdjust="spacingAndGlyphs">C</text>
<text x="1150.8" y="1191.2" font-size="27.4" font-weight="normal" stroke="#000" stroke-width="0.3" textLength="16.4" lengthAdjust="spacingAndGlyphs">6</text>
<text x="916.8" y="1356.4" font-size="47.7" font-weight="normal" stroke="#000" stroke-width="2" textLength="28.1" lengthAdjust="spacingAndGlyphs">C</text>
<text x="946.4" y="1372.8" font-size="26.7" font-weight="normal" stroke="#000" stroke-width="0.3" textLength="14.3" lengthAdjust="spacingAndGlyphs">5</text>
<text x="363" y="1229" font-size="50.3" font-weight="normal" stroke="#000" stroke-width="0.6" textLength="67.6" lengthAdjust="spacingAndGlyphs">NH</text>
<text x="431.6" y="1245.4" font-size="27.9" font-weight="normal" stroke="#000" stroke-width="0.3" textLength="14.7" lengthAdjust="spacingAndGlyphs">4</text>
<text x="447.4" y="1215.4" font-size="30.5" font-weight="normal" stroke="#000" stroke-width="0.3" textLength="17.6" lengthAdjust="spacingAndGlyphs">+</text>
<text x="352.8" y="1304.8" font-size="49.9" font-weight="normal" stroke="#000" stroke-width="0.6" textLength="61.5" lengthAdjust="spacingAndGlyphs">PO</text>
<text x="416" y="1320.8" font-size="27.9" font-weight="normal" stroke="#000" stroke-width="0.3" textLength="14" lengthAdjust="spacingAndGlyphs">4</text>
<text x="430.8" y="1288.2" font-size="27" font-weight="normal" stroke="#000" stroke-width="0.3" textLength="25.2" lengthAdjust="spacingAndGlyphs">3-</text>
<text x="353" y="1373.6" font-size="50.5" font-weight="normal" stroke="#000" stroke-width="0.6" textLength="61.4" lengthAdjust="spacingAndGlyphs">SO</text>
<text x="414.4" y="1389.6" font-size="27.9" font-weight="normal" stroke="#000" stroke-width="0.3" textLength="15.1" lengthAdjust="spacingAndGlyphs">4</text>
<text x="431.4" y="1355.9" font-size="27" font-weight="normal" stroke="#000" stroke-width="0.3" textLength="24.1" lengthAdjust="spacingAndGlyphs">2-</text>
<text x="353.8" y="1444.7" font-size="47" font-weight="normal" stroke="#000" stroke-width="0.6" textLength="48.1" lengthAdjust="spacingAndGlyphs">Fe</text>
<text x="404.6" y="1428.6" font-size="27" font-weight="normal" stroke="#000" stroke-width="0.3" textLength="32.8" lengthAdjust="spacingAndGlyphs">3+</text>
<text x="1591.2" y="1361.2" font-size="46.2" font-weight="normal" stroke="#000" stroke-width="1.8" textLength="63.8" lengthAdjust="spacingAndGlyphs">CO</text>
<text x="1655.8" y="1379" font-size="27.9" font-weight="normal" stroke="#000" stroke-width="0.3" textLength="14.6" lengthAdjust="spacingAndGlyphs">2</text>
<text x="1495.6" y="1386.6" font-size="46.6" font-weight="normal" stroke="#000" stroke-width="1.8" textLength="34.8" lengthAdjust="spacingAndGlyphs">O</text>
<text x="1531.2" y="1403.4" font-size="27.2" font-weight="normal" stroke="#000" stroke-width="0.3" textLength="14.6" lengthAdjust="spacingAndGlyphs">2</text>
<text x="1699.6" y="1535.2" font-size="47.4" font-weight="normal" stroke="#000" stroke-width="1.8" textLength="31.7" lengthAdjust="spacingAndGlyphs">H</text>
<text x="1733" y="1551.2" font-size="27.4" font-weight="normal" stroke="#000" stroke-width="0.3" textLength="15.5" lengthAdjust="spacingAndGlyphs">2</text>
<text x="1749.4" y="1535.2" font-size="46.8" font-weight="normal" stroke="#000" stroke-width="1.8" textLength="34.2" lengthAdjust="spacingAndGlyphs">O</text>
<text x="1535.6" y="518.4" font-size="86.2" font-weight="normal" stroke="#000" stroke-width="3.4" textLength="64.5" lengthAdjust="spacingAndGlyphs">O</text>
<text x="1601.4" y="550" font-size="50" font-weight="normal" stroke="#000" stroke-width="0.6" textLength="28.1" lengthAdjust="spacingAndGlyphs">2</text>
</g>
</svg>
</body></html>
